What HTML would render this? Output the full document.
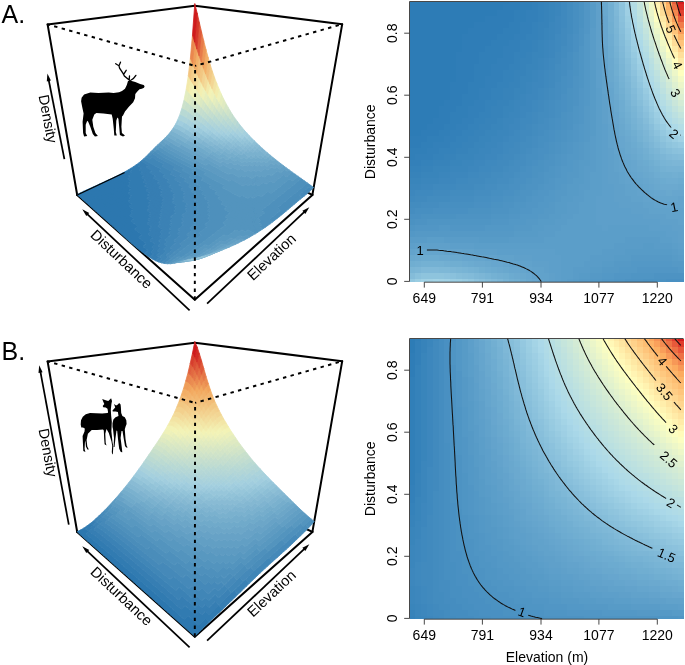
<!DOCTYPE html><html><head><meta charset="utf-8"><style>html,body{margin:0;padding:0;background:#fff;overflow:hidden;width:685px;height:665px}svg{display:block;will-change:transform}.c0{fill:#2c77af;stroke:#2c77af}.c1{fill:#317bb1;stroke:#317bb1}.c2{fill:#367eb3;stroke:#367eb3}.c3{fill:#3b82b5;stroke:#3b82b5}.c4{fill:#4086b7;stroke:#4086b7}.c5{fill:#4589b9;stroke:#4589b9}.c6{fill:#4a8dba;stroke:#4a8dba}.c7{fill:#4e90bc;stroke:#4e90bc}.c8{fill:#5394be;stroke:#5394be}.c9{fill:#5898c0;stroke:#5898c0}.c10{fill:#5d9bc2;stroke:#5d9bc2}.c11{fill:#629fc4;stroke:#629fc4}.c12{fill:#67a2c6;stroke:#67a2c6}.c13{fill:#6ca6c8;stroke:#6ca6c8}.c14{fill:#70aaca;stroke:#70aaca}.c15{fill:#75adcc;stroke:#75adcc}.c16{fill:#7ab1ce;stroke:#7ab1ce}.c17{fill:#7fb4d0;stroke:#7fb4d0}.c18{fill:#84b8d2;stroke:#84b8d2}.c19{fill:#89bbd4;stroke:#89bbd4}.c20{fill:#8dbfd6;stroke:#8dbfd6}.c21{fill:#92c3d8;stroke:#92c3d8}.c22{fill:#97c6da;stroke:#97c6da}.c23{fill:#9ccadc;stroke:#9ccadc}.c24{fill:#a1cdde;stroke:#a1cdde}.c25{fill:#a5d0de;stroke:#a5d0de}.c26{fill:#a8d1dc;stroke:#a8d1dc}.c27{fill:#abd3db;stroke:#abd3db}.c28{fill:#afd4d9;stroke:#afd4d9}.c29{fill:#b2d6d7;stroke:#b2d6d7}.c30{fill:#b5d7d6;stroke:#b5d7d6}.c31{fill:#b8d9d4;stroke:#b8d9d4}.c32{fill:#bbdad2;stroke:#bbdad2}.c33{fill:#bfdcd1;stroke:#bfdcd1}.c34{fill:#c2ddcf;stroke:#c2ddcf}.c35{fill:#c5dece;stroke:#c5dece}.c36{fill:#c8e0cc;stroke:#c8e0cc}.c37{fill:#cbe1ca;stroke:#cbe1ca}.c38{fill:#cfe3c9;stroke:#cfe3c9}.c39{fill:#d2e4c7;stroke:#d2e4c7}.c40{fill:#d5e6c6;stroke:#d5e6c6}.c41{fill:#dbe9c2;stroke:#dbe9c2}.c42{fill:#dfeac1;stroke:#dfeac1}.c43{fill:#e2ecbf;stroke:#e2ecbf}.c44{fill:#e5edbe;stroke:#e5edbe}.c45{fill:#e8eebc;stroke:#e8eebc}.c46{fill:#ecf0ba;stroke:#ecf0ba}.c47{fill:#eff1b9;stroke:#eff1b9}.c48{fill:#f2f3b7;stroke:#f2f3b7}.c49{fill:#f3f2b5;stroke:#f3f2b5}.c50{fill:#f3efb1;stroke:#f3efb1}.c51{fill:#f3ecad;stroke:#f3ecad}.c52{fill:#f3e9aa;stroke:#f3e9aa}.c53{fill:#f3e3a3;stroke:#f3e3a3}.c54{fill:#f3df9f;stroke:#f3df9f}.c55{fill:#f3dc9b;stroke:#f3dc9b}.c56{fill:#f3d694;stroke:#f3d694}.c57{fill:#f3d391;stroke:#f3d391}.c58{fill:#f3cd8a;stroke:#f3cd8a}.c59{fill:#f2ca86;stroke:#f2ca86}.c60{fill:#f2c782;stroke:#f2c782}.c61{fill:#f2c47f;stroke:#f2c47f}.c62{fill:#f2bd78;stroke:#f2bd78}.c63{fill:#f2b169;stroke:#f2b169}.c64{fill:#f2ae66;stroke:#f2ae66}.c65{fill:#ef9e59;stroke:#ef9e59}.c66{fill:#ee9856;stroke:#ee9856}.c67{fill:#ea874e;stroke:#ea874e}.c68{fill:#e77b49;stroke:#e77b49}.c69{fill:#de5939;stroke:#de5939}.c70{fill:#d53729;stroke:#d53729}.c71{fill:#ce1b1c;stroke:#ce1b1c}.c72{fill:#d8e7c4;stroke:#d8e7c4}.c73{fill:#f3e6a6;stroke:#f3e6a6}.c74{fill:#f3d998;stroke:#f3d998}.c75{fill:#f3d08d;stroke:#f3d08d}.c76{fill:#f2c07b;stroke:#f2c07b}.c77{fill:#f2ba74;stroke:#f2ba74}.c78{fill:#f2b770;stroke:#f2b770}.c79{fill:#f2b46d;stroke:#f2b46d}.c80{fill:#f2ab62;stroke:#f2ab62}.c81{fill:#f2a85e;stroke:#f2a85e}.c82{fill:#f1a35b;stroke:#f1a35b}.c83{fill:#eb8d51;stroke:#eb8d51}.c84{fill:#e8814c;stroke:#e8814c}.c85{fill:#e57646;stroke:#e57646}.c86{fill:#e47044;stroke:#e47044}.c87{fill:#e26a41;stroke:#e26a41}.c88{fill:#df5f3c;stroke:#df5f3c}.c89{fill:#db4e34;stroke:#db4e34}.c90{fill:#d8432f;stroke:#d8432f}.c91{fill:#d73d2c;stroke:#d73d2c}.c92{fill:#d22c24;stroke:#d22c24}</style></head><body><svg width="685" height="665" viewBox="0 0 685 665" font-family="Liberation Sans, sans-serif">
<rect width="685" height="665" fill="#fff"/>
<g stroke="#000" stroke-width="2" fill="none" stroke-linecap="round">
<line x1="47.6" y1="24.4" x2="194.8" y2="5.7"/>
<line x1="194.8" y1="5.7" x2="342.2" y2="24.2"/>
<line x1="47.6" y1="24.4" x2="77.2" y2="195"/>
<line x1="342.2" y1="24.2" x2="312.4" y2="194.9"/>
<line x1="77.2" y1="195" x2="194.8" y2="299.7"/>
<line x1="194.8" y1="299.7" x2="312.4" y2="194.9"/>
<line x1="312.4" y1="194.9" x2="303" y2="190.5"/>
</g>
<g stroke-width=".8" stroke-linejoin="round">
<path class="c0" d="M144.6 253.8l3.5-3.3-2.7-2-3.5 3.3zM141.9 251.8l3.5-3.3-2.6-2-3.5 3.3zM139.3 249.8l3.5-3.3-2.6-2-3.6 3.1zM142.8 246.5l3.4-3.1-2.6-1.9-3.4 3zM136.6 247.6l3.6-3.1-2.6-2-3.5 3zM140.2 244.5l3.4-3-2.6-2-3.4 3zM134.1 245.5l3.5-3-2.6-2.1-3.4 2.9zM137.6 242.5l3.4-3-2.5-2-3.5 2.9zM131.6 243.3l3.4-2.9-2.5-2.1-3.4 2.8zM135 240.4l3.5-2.9-2.5-2-3.5 2.8zM138.5 237.5l3.4-2.8-2.5-1.9-3.4 2.7zM129.1 241.1l3.4-2.8-2.4-2.2-3.5 2.8zM132.5 238.3l3.5-2.8-2.5-2-3.4 2.6zM136 235.5l3.4-2.7-2.5-1.9-3.4 2.6zM126.6 238.9l3.5-2.8-2.5-2.1-3.4 2.7zM130.1 236.1l3.4-2.6-2.4-2.1-3.5 2.6zM133.5 233.5l3.4-2.6-2.4-2-3.4 2.5zM124.2 236.7l3.4-2.7-2.3-2.1-3.5 2.6zM127.6 234l3.5-2.6-2.4-2-3.4 2.5zM131.1 231.4l3.4-2.5-2.4-1.9-3.4 2.4zM134.5 228.9l3.3-2.4-2.4-1.9-3.3 2.4zM121.8 234.5l3.5-2.6-2.4-2-3.5 2.4zM125.3 231.9l3.4-2.5-2.4-1.9-3.4 2.4zM128.7 229.4l3.4-2.4-2.4-1.9-3.4 2.4zM132.1 227l3.3-2.4-2.4-1.8-3.3 2.3zM119.4 232.3l3.5-2.4-2.3-2.1-3.5 2.4zM122.9 229.9l3.4-2.4-2.3-2-3.4 2.3zM126.3 227.5l3.4-2.4-2.3-1.9-3.4 2.3zM129.7 225.1l3.3-2.3-2.3-1.8-3.3 2.2zM117.1 230.2l3.5-2.4-2.3-2-3.5 2.3zM120.6 227.8l3.4-2.3-2.3-1.9-3.4 2.2zM124 225.5l3.4-2.3-2.3-1.8-3.4 2.2zM127.4 223.2l3.3-2.2-2.3-1.8-3.3 2.2zM130.7 221l3.3-2.2-2.3-1.8-3.3 2.2zM114.8 228.1l3.5-2.3-2.3-1.9-3.4 2.2zM118.3 225.8l3.4-2.2-2.3-1.9-3.4 2.2zM121.7 223.6l3.4-2.2-2.3-1.9-3.4 2.2zM125.1 221.4l3.3-2.2-2.3-1.8-3.3 2.1zM128.4 219.2l3.3-2.2-2.3-1.7-3.3 2.1zM112.6 226.1l3.4-2.2-2.2-2-3.5 2.2zM116 223.9l3.4-2.2-2.2-1.9-3.4 2.1zM119.4 221.7l3.4-2.2-2.2-1.8-3.4 2.1zM122.8 219.5l3.3-2.1-2.2-1.8-3.3 2.1zM126.1 217.4l3.3-2.1-2.3-1.7-3.2 2zM129.4 215.3l3.2-2.1-2.2-1.7-3.3 2.1zM110.3 224.1l3.5-2.2-2.2-1.9-3.5 2.1zM113.8 221.9l3.4-2.1-2.2-1.9-3.4 2.1zM117.2 219.8l3.4-2.1-2.2-1.8-3.4 2zM120.6 217.7l3.3-2.1-2.2-1.7-3.3 2zM123.9 215.6l3.2-2-2.2-1.7-3.2 2zM127.1 213.6l3.3-2.1-2.3-1.6-3.2 2zM130.4 211.5l3.1-2-2.2-1.6-3.2 2zM108.1 222.1l3.5-2.1-2.2-1.9-3.4 2.1zM111.6 220l3.4-2.1-2.2-1.8-3.4 2zM115 217.9l3.4-2-2.2-1.8-3.4 2zM118.4 215.9l3.3-2-2.2-1.8-3.3 2zM121.7 213.9l3.2-2-2.2-1.7-3.2 1.9zM124.9 211.9l3.2-2-2.1-1.7-3.3 2zM128.1 209.9l3.2-2-2.2-1.6-3.1 1.9zM106 220.2l3.4-2.1-2.1-1.8-3.4 2zM109.4 218.1l3.4-2-2.1-1.8-3.4 2zM112.8 216.1l3.4-2-2.2-1.8-3.3 2zM116.2 214.1l3.3-2-2.2-1.7-3.3 1.9zM119.5 212.1l3.2-1.9-2.1-1.7-3.3 1.9zM122.7 210.2l3.3-2-2.2-1.6-3.2 1.9zM126 208.2l3.1-1.9-2.1-1.6-3.2 1.9zM129.1 206.3l3.1-1.9-2.1-1.6-3.1 1.9zM103.9 218.3l3.4-2-2.1-1.8-3.4 1.9zM107.3 216.3l3.4-2-2.1-1.8-3.4 2zM110.7 214.3l3.3-2-2.1-1.7-3.3 1.9zM114 212.3l3.3-1.9-2.1-1.7-3.3 1.9zM117.3 210.4l3.3-1.9-2.1-1.7-3.3 1.9zM120.6 208.5l3.2-1.9-2.1-1.7-3.2 1.9zM123.8 206.6l3.2-1.9-2.2-1.6-3.1 1.8zM127 204.7l3.1-1.9-2.2-1.6-3.1 1.9zM101.8 216.4l3.4-1.9-2.1-1.8-3.4 1.9zM105.2 214.5l3.4-2-2.1-1.7-3.4 1.9zM108.6 212.5l3.3-1.9-2-1.7-3.4 1.9zM111.9 210.6l3.3-1.9-2.1-1.7-3.2 1.9zM115.2 208.7l3.3-1.9-2.1-1.6-3.3 1.8zM118.5 206.8l3.2-1.9-2.1-1.6-3.2 1.9zM121.7 204.9l3.1-1.8-2.1-1.6-3.1 1.8zM124.8 203.1l3.1-1.9-2.1-1.5-3.1 1.8zM127.9 201.2l3.1-1.8-2.1-1.5-3.1 1.8zM99.7 214.6l3.4-1.9-2-1.8-3.4 1.9zM103.1 212.7l3.4-1.9-2-1.8-3.4 1.9zM106.5 210.8l3.4-1.9-2.1-1.7-3.3 1.8zM109.9 208.9l3.2-1.9-2-1.6-3.3 1.8zM113.1 207l3.3-1.8-2.1-1.6-3.2 1.8zM116.4 205.2l3.2-1.9-2.1-1.6-3.2 1.9zM119.6 203.3l3.1-1.8-2.1-1.5-3.1 1.7zM122.7 201.5l3.1-1.8-2.1-1.5-3.1 1.8zM125.8 199.7l3.1-1.8-2.1-1.5-3.1 1.8zM128.9 197.9l3-1.8-2.1-1.4-3 1.7zM97.7 212.8l3.4-1.9-2-1.8-3.4 1.9zM101.1 210.9l3.4-1.9-2-1.7-3.4 1.8zM104.5 209l3.3-1.8-2-1.7-3.3 1.8zM107.8 207.2l3.3-1.8-2.1-1.7-3.2 1.8zM111.1 205.4l3.2-1.8-2-1.7-3.3 1.8zM114.3 203.6l3.2-1.9-2.1-1.5-3.1 1.7zM117.5 201.7l3.1-1.7-2-1.6-3.2 1.8zM120.6 200l3.1-1.8-2-1.5-3.1 1.7zM123.7 198.2l3.1-1.8-2.1-1.5-3 1.8zM126.8 196.4l3-1.7-2.1-1.5-3 1.7zM95.7 211l3.4-1.9-2-1.7-3.4 1.8zM99.1 209.1l3.4-1.8-2-1.7-3.4 1.8zM102.5 207.3l3.3-1.8-2-1.6-3.3 1.7zM105.8 205.5l3.2-1.8-2-1.6-3.2 1.8zM109 203.7l3.3-1.8-2.1-1.5-3.2 1.7zM112.3 201.9l3.1-1.7-2-1.6-3.2 1.8zM115.4 200.2l3.2-1.8-2.1-1.5-3.1 1.7zM118.6 198.4l3.1-1.7-2.1-1.5-3.1 1.7zM121.7 196.7l3-1.8-2-1.4-3.1 1.7zM124.7 194.9l3-1.7-2-1.4-3 1.7zM127.7 193.2l3-1.7-2.1-1.4-2.9 1.7zM93.7 209.2l3.4-1.8-1.9-1.7-3.4 1.8zM97.1 207.4l3.4-1.8-2-1.6-3.3 1.7zM100.5 205.6l3.3-1.7-2-1.7-3.3 1.8zM103.8 203.9l3.2-1.8-1.9-1.6-3.3 1.7zM107 202.1l3.2-1.7-1.9-1.6-3.2 1.7zM110.2 200.4l3.2-1.8-2-1.5-3.1 1.7zM113.4 198.6l3.1-1.7-2-1.5-3.1 1.7zM116.5 196.9l3.1-1.7-2-1.5-3.1 1.7zM119.6 195.2l3.1-1.7-2-1.5-3.1 1.7zM122.7 193.5l3-1.7-2-1.4-3 1.6zM125.7 191.8l2.9-1.7-2-1.4-2.9 1.7zM128.6 190.1l3-1.7-2.1-1.4-2.9 1.7zM91.8 207.5l3.4-1.8-2-1.6-3.4 1.7zM95.2 205.7l3.3-1.7-1.9-1.7-3.4 1.8zM98.5 204l3.3-1.8-1.9-1.6-3.3 1.7zM101.8 202.2l3.3-1.7-2-1.6-3.2 1.7zM105.1 200.5l3.2-1.7-2-1.6-3.2 1.7zM108.3 198.8l3.1-1.7-1.9-1.5-3.2 1.6zM111.4 197.1l3.1-1.7-1.9-1.5-3.1 1.7zM114.5 195.4l3.1-1.7-2-1.5-3 1.7zM117.6 193.7l3.1-1.7-2-1.4-3.1 1.6zM120.7 192l3-1.6-2-1.4-3 1.6zM123.7 190.4l2.9-1.7-2-1.4-2.9 1.7zM126.6 188.7l2.9-1.7-2-1.3-2.9 1.6zM89.8 205.8l3.4-1.7-1.9-1.7-3.3 1.7zM93.2 204.1l3.4-1.8-1.9-1.6-3.4 1.7zM96.6 202.3l3.3-1.7-2-1.6-3.2 1.7zM99.9 200.6l3.2-1.7-1.9-1.5-3.3 1.6zM103.1 198.9l3.2-1.7-1.9-1.5-3.2 1.7zM106.3 197.2l3.2-1.6-2-1.5-3.1 1.6zM109.5 195.6l3.1-1.7-2-1.5-3.1 1.7zM112.6 193.9l3-1.7-1.9-1.4-3.1 1.6zM115.6 192.2l3.1-1.6-2-1.4-3 1.6zM118.7 190.6l3-1.6-2-1.4-3 1.6zM121.7 189l2.9-1.7-2-1.3-2.9 1.6zM124.6 187.3l2.9-1.6-2-1.3-2.9 1.6zM127.5 185.7l2.9-1.6-2-1.3-2.9 1.6zM88 204.1l3.3-1.7-1.9-1.6-3.3 1.7zM91.3 202.4l3.4-1.7-1.9-1.6-3.4 1.7zM94.7 200.7l3.2-1.7-1.9-1.5-3.2 1.6zM97.9 199l3.3-1.6-1.9-1.6-3.3 1.7zM101.2 197.4l3.2-1.7-1.9-1.5-3.2 1.6zM104.4 195.7l3.1-1.6-1.9-1.5-3.1 1.6zM107.5 194.1l3.1-1.7-1.9-1.4-3.1 1.6zM110.6 192.4l3.1-1.6-1.9-1.4-3.1 1.6zM113.7 190.8l3-1.6-1.9-1.4-3 1.6zM116.7 189.2l3-1.6-1.9-1.4-3 1.6zM119.7 187.6l2.9-1.6-1.9-1.3-2.9 1.5zM122.6 186l2.9-1.6-1.9-1.3-2.9 1.6zM125.5 184.4l2.9-1.6-1.9-1.3-2.9 1.6zM128.4 182.8l2.8-1.6-1.9-1.3-2.8 1.6zM86.1 202.5l3.3-1.7-1.8-1.6-3.4 1.6zM89.4 200.8l3.4-1.7-1.9-1.6-3.3 1.7zM92.8 199.1l3.2-1.6-1.8-1.6-3.3 1.6zM96 197.5l3.3-1.7-1.9-1.5-3.2 1.6zM99.3 195.8l3.2-1.6-1.9-1.5-3.2 1.6zM102.5 194.2l3.1-1.6-1.9-1.5-3.1 1.6zM105.6 192.6l3.1-1.6-1.9-1.4-3.1 1.5zM108.7 191l3.1-1.6-1.9-1.4-3.1 1.6zM111.8 189.4l3-1.6-1.9-1.3-3 1.5zM114.8 187.8l3-1.6-2-1.3-2.9 1.6zM117.8 186.2l2.9-1.5-1.9-1.3-3 1.5zM120.7 184.7l2.9-1.6-1.9-1.3-2.9 1.6zM123.6 183.1l2.9-1.6-2-1.2-2.8 1.5zM126.5 181.5l2.8-1.6-1.9-1.2-2.9 1.6zM84.2 200.8l3.4-1.6-1.8-1.6-3.4 1.6zM87.6 199.2l3.3-1.7-1.8-1.5-3.3 1.6zM90.9 197.5l3.3-1.6-1.9-1.5-3.2 1.6zM94.2 195.9l3.2-1.6-1.9-1.5-3.2 1.6zM97.4 194.3l3.2-1.6-1.9-1.5-3.2 1.6zM100.6 192.7l3.1-1.6-1.9-1.4-3.1 1.5zM103.7 191.1l3.1-1.5-1.9-1.5-3.1 1.6zM106.8 189.6l3.1-1.6-1.9-1.4-3.1 1.5zM109.9 188l3-1.5-1.9-1.4-3 1.5zM112.9 186.5l2.9-1.6-1.8-1.3-3 1.5zM115.8 184.9l3-1.5-1.9-1.3-2.9 1.5zM118.8 183.4l2.9-1.6-1.9-1.2-2.9 1.5zM121.7 181.8l2.8-1.5-1.9-1.2-2.8 1.5zM124.5 180.3l2.9-1.6-2-1.1-2.8 1.5zM127.4 178.7l2.7-1.5-1.9-1.1-2.8 1.5zM82.4 199.2l3.4-1.6-1.8-1.6-3.4 1.6zM85.8 197.6l3.3-1.6-1.8-1.6-3.3 1.6zM89.1 196l3.2-1.6-1.8-1.6-3.2 1.6zM92.3 194.4l3.2-1.6-1.8-1.5-3.2 1.5zM95.5 192.8l3.2-1.6-1.8-1.4-3.2 1.5zM98.7 191.2l3.1-1.5-1.8-1.4-3.1 1.5zM101.8 189.7l3.1-1.6-1.8-1.3-3.1 1.5zM104.9 188.1l3.1-1.5-1.9-1.3-3 1.5zM108 186.6l3-1.5-1.9-1.3-3 1.5zM111 185.1l3-1.5-1.9-1.2-3 1.4zM114 183.6l2.9-1.5-1.9-1.2-2.9 1.5zM116.9 182.1l2.9-1.5-1.9-1.2-2.9 1.5zM119.8 180.6l2.8-1.5-1.8-1.1-2.9 1.4zM122.6 179.1l2.8-1.5-1.8-1.1-2.8 1.5zM125.4 177.6l2.8-1.5-1.9-1.1-2.7 1.5zM128.2 176.1l2.8-1.6-1.9-1-2.8 1.5zM80.6 197.6l3.4-1.6-1.8-1.6-3.4 1.6zM84 196l3.3-1.6-1.8-1.5-3.3 1.5zM87.3 194.4l3.2-1.6-1.8-1.5-3.2 1.6zM90.5 192.8l3.2-1.5-1.8-1.5-3.2 1.5zM93.7 191.3l3.2-1.5-1.8-1.5-3.2 1.5zM96.9 189.8l3.1-1.5-1.8-1.5-3.1 1.5zM100 188.3l3.1-1.5-1.8-1.4-3.1 1.4zM103.1 186.8l3-1.5-1.8-1.3-3 1.4zM106.1 185.3l3-1.5-1.8-1.3-3 1.5zM109.1 183.8l3-1.4-1.8-1.3-3 1.4zM112.1 182.4l2.9-1.5-1.8-1.2-2.9 1.4zM115 180.9l2.9-1.5-1.8-1.1-2.9 1.4zM117.9 179.4l2.9-1.4-1.9-1.1-2.8 1.4zM120.8 178l2.8-1.5-1.9-1.1-2.8 1.5zM123.6 176.5l2.7-1.5-1.8-1-2.8 1.4zM126.3 175l2.8-1.5-1.9-1-2.7 1.5zM129.1 173.5l2.7-1.6-1.9-1-2.7 1.6zM78.8 196l3.4-1.6-1.8-1.5-3.3 1.6zM82.2 194.4l3.3-1.5-1.8-1.6-3.3 1.6zM85.5 192.9l3.2-1.6-1.8-1.5-3.2 1.5zM88.7 191.3l3.2-1.5-1.8-1.5-3.2 1.5zM91.9 189.8l3.2-1.5-1.8-1.4-3.2 1.4zM95.1 188.3l3.1-1.5-1.8-1.3-3.1 1.4zM98.2 186.8l3.1-1.4-1.8-1.4-3.1 1.5zM101.3 185.4l3-1.4-1.8-1.3-3 1.3zM104.3 184l3-1.5-1.8-1.2-3 1.4zM107.3 182.5l3-1.4-1.9-1.2-2.9 1.4zM110.3 181.1l2.9-1.4-1.8-1.1-3 1.3zM113.2 179.7l2.9-1.4-1.9-1.1-2.8 1.4zM116.1 178.3l2.8-1.4-1.8-1.1-2.9 1.4zM118.9 176.9l2.8-1.5-1.8-1-2.8 1.4zM121.7 175.4l2.8-1.4-1.8-1-2.8 1.4zM124.5 174l2.7-1.5-1.8-1-2.7 1.5zM127.2 172.5l2.7-1.6-1.8-.9-2.7 1.5zM129.9 170.9l2.7-1.5-1.9-1-2.6 1.6z"/>
<path class="c1" d="M150 257.6l3.6-3.5-2.8-1.8-3.5 3.4zM147.3 255.7l3.5-3.4-2.7-1.8-3.5 3.3zM150.8 252.3l3.5-3.3-2.7-1.8-3.5 3.3zM148.1 250.5l3.5-3.3-2.7-1.9-3.5 3.2zM151.6 247.2l3.4-3.1-2.7-1.8-3.4 3zM145.4 248.5l3.5-3.2-2.7-1.9-3.4 3.1zM148.9 245.3l3.4-3-2.7-1.9-3.4 3zM146.2 243.4l3.4-3-2.6-1.9-3.4 3zM149.6 240.4l3.4-2.9-2.6-1.8-3.4 2.8zM143.6 241.5l3.4-3-2.6-1.9-3.4 2.9zM147 238.5l3.4-2.8-2.6-1.8-3.4 2.7zM141 239.5l3.4-2.9-2.5-1.9-3.4 2.8zM144.4 236.6l3.4-2.7-2.5-1.9-3.4 2.7zM147.8 233.9l3.3-2.7-2.5-1.7-3.3 2.5zM141.9 234.7l3.4-2.7-2.6-1.8-3.3 2.6zM145.3 232l3.3-2.5-2.6-1.8-3.3 2.5zM148.6 229.5l3.2-2.5-2.5-1.8-3.3 2.5zM139.4 232.8l3.3-2.6-2.4-1.9-3.4 2.6zM142.7 230.2l3.3-2.5-2.4-1.8-3.3 2.4zM146 227.7l3.3-2.5-2.5-1.7-3.2 2.4zM136.9 230.9l3.4-2.6-2.5-1.8-3.3 2.4zM140.3 228.3l3.3-2.4-2.5-1.8-3.3 2.4zM143.6 225.9l3.2-2.4-2.4-1.7-3.3 2.3zM146.8 223.5l3.2-2.3-2.4-1.7-3.2 2.3zM137.8 226.5l3.3-2.4-2.4-1.8-3.3 2.3zM141.1 224.1l3.3-2.3-2.4-1.8-3.3 2.3zM144.4 221.8l3.2-2.3-2.4-1.7-3.2 2.2zM147.6 219.5l3.2-2.2-2.5-1.7-3.1 2.2zM135.4 224.6l3.3-2.3-2.4-1.8-3.3 2.3zM138.7 222.3l3.3-2.3-2.4-1.7-3.3 2.2zM142 220l3.2-2.2-2.4-1.7-3.2 2.2zM145.2 217.8l3.1-2.2-2.4-1.6-3.1 2.1zM148.3 215.6l3.1-2.1-2.4-1.6-3.1 2.1zM133 222.8l3.3-2.3-2.3-1.7-3.3 2.2zM136.3 220.5l3.3-2.2-2.4-1.7-3.2 2.2zM139.6 218.3l3.2-2.2-2.4-1.6-3.2 2.1zM142.8 216.1l3.1-2.1-2.3-1.6-3.2 2.1zM145.9 214l3.1-2.1-2.3-1.6-3.1 2.1zM134 218.8l3.2-2.2-2.3-1.7-3.2 2.1zM137.2 216.6l3.2-2.1-2.3-1.7-3.2 2.1zM140.4 214.5l3.2-2.1-2.4-1.6-3.1 2zM143.6 212.4l3.1-2.1-2.4-1.6-3.1 2.1zM146.7 210.3l3-2.1-2.3-1.5-3.1 2zM131.7 217l3.2-2.1-2.3-1.7-3.2 2.1zM134.9 214.9l3.2-2.1-2.3-1.6-3.2 2zM138.1 212.8l3.1-2-2.3-1.7-3.1 2.1zM141.2 210.8l3.1-2.1-2.3-1.6-3.1 2zM144.3 208.7l3.1-2-2.3-1.5-3.1 1.9zM147.4 206.7l3-2-2.3-1.5-3 2zM132.6 213.2l3.2-2-2.3-1.7-3.1 2zM135.8 211.2l3.1-2.1-2.2-1.6-3.2 2zM138.9 209.1l3.1-2-2.2-1.5-3.1 1.9zM142 207.1l3.1-1.9-2.3-1.6-3 2zM145.1 205.2l3-2-2.3-1.5-3 1.9zM148.1 203.2l3-2-2.3-1.4-3 1.9zM133.5 209.5l3.2-2-2.3-1.6-3.1 2zM136.7 207.5l3.1-1.9-2.3-1.6-3.1 1.9zM139.8 205.6l3-2-2.2-1.5-3.1 1.9zM142.8 203.6l3-1.9-2.2-1.5-3 1.9zM145.8 201.7l3-1.9-2.3-1.5-2.9 1.9zM131.3 207.9l3.1-2-2.2-1.5-3.1 1.9zM134.4 205.9l3.1-1.9-2.2-1.5-3.1 1.9zM137.5 204l3.1-1.9-2.2-1.5-3.1 1.9zM140.6 202.1l3-1.9-2.2-1.5-3 1.9zM143.6 200.2l2.9-1.9-2.2-1.4-2.9 1.8zM146.5 198.3l3-1.9-2.3-1.4-2.9 1.9zM132.2 204.4l3.1-1.9-2.2-1.6-3 1.9zM135.3 202.5l3.1-1.9-2.2-1.5-3.1 1.8zM138.4 200.6l3-1.9-2.2-1.4-3 1.8zM141.4 198.7l2.9-1.8-2.2-1.5-2.9 1.9zM144.3 196.9l2.9-1.9-2.2-1.4-2.9 1.8zM147.2 195l2.9-1.8-2.2-1.4-2.9 1.8zM130.1 202.8l3-1.9-2.1-1.5-3.1 1.8zM133.1 200.9l3.1-1.8-2.2-1.5-3 1.8zM136.2 199.1l3-1.8-2.2-1.5-3 1.8zM139.2 197.3l2.9-1.9-2.2-1.4-2.9 1.8zM142.1 195.4l2.9-1.8-2.1-1.4-3 1.8zM145 193.6l2.9-1.8-2.2-1.4-2.8 1.8zM131 199.4l3-1.8-2.1-1.5-3 1.8zM134 197.6l3-1.8-2.1-1.5-3 1.8zM137 195.8l2.9-1.8-2.1-1.4-2.9 1.7zM139.9 194l3-1.8-2.2-1.4-2.9 1.8zM142.9 192.2l2.8-1.8-2.1-1.4-2.9 1.8zM145.7 190.4l2.9-1.8-2.2-1.3-2.8 1.7zM131.9 196.1l3-1.8-2.1-1.4-3 1.8zM134.9 194.3l2.9-1.7-2.1-1.4-2.9 1.7zM137.8 192.6l2.9-1.8-2.1-1.4-2.9 1.8zM140.7 190.8l2.9-1.8-2.1-1.3-2.9 1.7zM143.6 189l2.8-1.7-2.1-1.3-2.8 1.7zM129.8 194.7l3-1.8-2.1-1.4-3 1.7zM132.8 192.9l2.9-1.7-2.1-1.4-2.9 1.7zM135.7 191.2l2.9-1.8-2.1-1.3-2.9 1.7zM138.6 189.4l2.9-1.7-2.1-1.3-2.9 1.7zM141.5 187.7l2.8-1.7-2.1-1.4-2.8 1.8zM144.3 186l2.8-1.8-2.1-1.3-2.8 1.7zM130.7 191.5l2.9-1.7-2-1.4-3 1.7zM133.6 189.8l2.9-1.7-2.1-1.4-2.8 1.7zM136.5 188.1l2.9-1.7-2.1-1.4-2.9 1.7zM139.4 186.4l2.8-1.8-2.1-1.3-2.8 1.7zM142.2 184.6l2.8-1.7-2.1-1.2-2.8 1.6zM131.6 188.4l2.8-1.7-2-1.3-2.9 1.6zM134.4 186.7l2.9-1.7-2.1-1.3-2.8 1.7zM137.3 185l2.8-1.7-2-1.2-2.9 1.6zM140.1 183.3l2.8-1.6-2.1-1.3-2.7 1.7zM142.9 181.7l2.7-1.8-2-1.2-2.8 1.7zM129.5 187l2.9-1.6-2-1.3-2.9 1.6zM132.4 185.4l2.8-1.7-2-1.3-2.8 1.7zM135.2 183.7l2.9-1.6-2.1-1.3-2.8 1.6zM138.1 182.1l2.7-1.7-2-1.2-2.8 1.6zM140.8 180.4l2.8-1.7-2.1-1.2-2.7 1.7zM130.4 184.1l2.8-1.7-2-1.2-2.8 1.6zM133.2 182.4l2.8-1.6-2-1.2-2.8 1.6zM136 180.8l2.8-1.6-2-1.3-2.8 1.7zM138.8 179.2l2.7-1.7-2-1.2-2.7 1.6zM141.5 177.5l2.7-1.7-2-1.1-2.7 1.6zM131.2 181.2l2.8-1.6-1.9-1.2-2.8 1.5zM134 179.6l2.8-1.7-2-1.1-2.7 1.6zM136.8 177.9l2.7-1.6-1.9-1.2-2.8 1.7zM139.5 176.3l2.7-1.6-2-1.2-2.6 1.6zM129.3 179.9l2.8-1.5-2-1.2-2.7 1.5zM132.1 178.4l2.7-1.6-1.9-1.2-2.8 1.6zM134.8 176.8l2.8-1.7-2-1.1-2.7 1.6zM137.6 175.1l2.6-1.6-1.9-1.1-2.7 1.6zM140.2 173.5l2.7-1.7-2-1.1-2.6 1.7zM130.1 177.2l2.8-1.6-1.9-1.1-2.8 1.6zM132.9 175.6l2.7-1.6-1.9-1.1-2.7 1.6zM135.6 174l2.7-1.6-1.9-1.1-2.7 1.6zM138.3 172.4l2.6-1.7-1.9-1-2.6 1.6zM131 174.5l2.7-1.6-1.9-1-2.7 1.6zM133.7 172.9l2.7-1.6-2-1-2.6 1.6zM136.4 171.3l2.6-1.6-1.9-1-2.7 1.6zM139 169.7l2.6-1.7-1.9-1-2.6 1.7zM131.8 171.9l2.6-1.6-1.8-.9-2.7 1.5zM134.4 170.3l2.7-1.6-1.9-1-2.6 1.7zM137.1 168.7l2.6-1.7-1.9-1-2.6 1.7zM132.6 169.4l2.6-1.7-1.9-.9-2.6 1.6zM135.2 167.7l2.6-1.7-1.9-1-2.6 1.8zM137.8 166l2.5-1.9-1.8-.9-2.6 1.8z"/>
<path class="c2" d="M155.7 260.7l3.6-3.4-2.9-1.5-3.6 3.4zM152.8 259.2l3.6-3.4-2.8-1.7-3.6 3.5zM156.4 255.8l3.5-3.3-2.8-1.7-3.5 3.3zM153.6 254.1l3.5-3.3-2.8-1.8-3.5 3.3zM157.1 250.8l3.5-3.2-2.8-1.7-3.5 3.1zM154.3 249l3.5-3.1-2.8-1.8-3.4 3.1zM157.8 245.9l3.4-3-2.8-1.8-3.4 3zM155 244.1l3.4-3-2.7-1.7-3.4 2.9zM158.4 241.1l3.4-2.8-2.7-1.7-3.4 2.8zM152.3 242.3l3.4-2.9-2.7-1.9-3.4 2.9zM155.7 239.4l3.4-2.8-2.7-1.8-3.4 2.7zM159.1 236.6l3.3-2.7-2.7-1.7-3.3 2.6zM153 237.5l3.4-2.7-2.7-1.8-3.3 2.7zM156.4 234.8l3.3-2.6-2.7-1.8-3.3 2.6zM159.7 232.2l3.2-2.6-2.6-1.7-3.3 2.5zM150.4 235.7l3.3-2.7-2.6-1.8-3.3 2.7zM153.7 233l3.3-2.6-2.6-1.7-3.3 2.5zM157 230.4l3.3-2.5-2.6-1.6-3.3 2.4zM151.1 231.2l3.3-2.5-2.6-1.7-3.2 2.5zM154.4 228.7l3.3-2.4-2.6-1.7-3.3 2.4zM157.7 226.3l3.1-2.5-2.5-1.6-3.2 2.4zM151.8 227l3.3-2.4-2.6-1.7-3.2 2.3zM155.1 224.6l3.2-2.4-2.6-1.7-3.2 2.4zM158.3 222.2l3.1-2.3-2.5-1.6-3.2 2.2zM149.3 225.2l3.2-2.3-2.5-1.7-3.2 2.3zM152.5 222.9l3.2-2.4-2.5-1.6-3.2 2.3zM155.7 220.5l3.2-2.2-2.5-1.6-3.2 2.2zM158.9 218.3l3.1-2.3-2.6-1.6-3 2.3zM150 221.2l3.2-2.3-2.4-1.6-3.2 2.2zM153.2 218.9l3.2-2.2-2.5-1.6-3.1 2.2zM156.4 216.7l3-2.3-2.4-1.5-3.1 2.2zM159.4 214.4l3.1-2.1-2.5-1.6-3 2.2zM150.8 217.3l3.1-2.2-2.5-1.6-3.1 2.1zM153.9 215.1l3.1-2.2-2.5-1.6-3.1 2.2zM157 212.9l3-2.2-2.4-1.5-3.1 2.1zM160 210.7l3-2.1-2.4-1.5-3 2.1zM151.4 213.5l3.1-2.2-2.4-1.5-3.1 2.1zM154.5 211.3l3.1-2.1-2.5-1.5-3 2.1zM157.6 209.2l3-2.1-2.5-1.4-3 2zM160.6 207.1l2.9-2-2.4-1.5-3 2.1zM149 211.9l3.1-2.1-2.4-1.6-3 2.1zM152.1 209.8l3-2.1-2.3-1.5-3.1 2zM155.1 207.7l3-2-2.4-1.5-2.9 2zM158.1 205.7l3-2.1-2.4-1.4-3 2zM161.1 203.6l2.9-2-2.4-1.4-2.9 2zM149.7 208.2l3.1-2-2.4-1.5-3 2zM152.8 206.2l2.9-2-2.3-1.5-3 2zM155.7 204.2l3-2-2.4-1.5-2.9 2zM158.7 202.2l2.9-2-2.4-1.4-2.9 1.9zM161.6 200.2l2.9-2-2.4-1.4-2.9 2zM150.4 204.7l3-2-2.3-1.5-3 2zM153.4 202.7l2.9-2-2.3-1.4-2.9 1.9zM156.3 200.7l2.9-1.9-2.3-1.4-2.9 1.9zM159.2 198.8l2.9-2-2.3-1.4-2.9 2zM151.1 201.2l2.9-1.9-2.3-1.4-2.9 1.9zM154 199.3l2.9-1.9-2.3-1.4-2.9 1.9zM156.9 197.4l2.9-2-2.3-1.3-2.9 1.9zM159.8 195.4l2.8-1.9-2.3-1.4-2.8 2zM148.8 199.8l2.9-1.9-2.2-1.5-3 1.9zM151.7 197.9l2.9-1.9-2.3-1.4-2.8 1.8zM154.6 196l2.9-1.9-2.3-1.4-2.9 1.9zM157.5 194.1l2.8-2-2.3-1.3-2.8 1.9zM160.3 192.1l2.8-1.9-2.3-1.3-2.8 1.9zM149.5 196.4l2.8-1.8-2.2-1.4-2.9 1.8zM152.3 194.6l2.9-1.9-2.3-1.4-2.8 1.9zM155.2 192.7l2.8-1.9-2.2-1.3-2.9 1.8zM158 190.8l2.8-1.9-2.3-1.3-2.7 1.9zM150.1 193.2l2.8-1.9-2.2-1.3-2.8 1.8zM152.9 191.3l2.9-1.8-2.3-1.4-2.8 1.9zM155.8 189.5l2.7-1.9-2.2-1.3-2.8 1.8zM158.5 187.6l2.8-1.8-2.3-1.3-2.7 1.8zM147.9 191.8l2.8-1.8-2.1-1.4-2.9 1.8zM150.7 190l2.8-1.9-2.2-1.3-2.7 1.8zM153.5 188.1l2.8-1.8-2.2-1.3-2.8 1.8zM156.3 186.3l2.7-1.8-2.2-1.3-2.7 1.8zM148.6 188.6l2.7-1.8-2.1-1.3-2.8 1.8zM151.3 186.8l2.8-1.8-2.2-1.3-2.7 1.8zM154.1 185l2.7-1.8-2.1-1.2-2.8 1.7zM156.8 183.2l2.7-1.8-2.1-1.2-2.7 1.8zM146.4 187.3l2.8-1.8-2.1-1.3-2.8 1.8zM149.2 185.5l2.7-1.8-2.1-1.2-2.7 1.7zM151.9 183.7l2.8-1.7-2.2-1.3-2.7 1.8zM154.7 182l2.7-1.8-2.2-1.3-2.7 1.8zM147.1 184.2l2.7-1.7-2.1-1.3-2.7 1.7zM149.8 182.5l2.7-1.8-2.1-1.2-2.7 1.7zM152.5 180.7l2.7-1.8-2.1-1.2-2.7 1.8zM145 182.9l2.7-1.7-2.1-1.3-2.7 1.8zM147.7 181.2l2.7-1.7-2.1-1.3-2.7 1.7zM150.4 179.5l2.7-1.8-2.1-1.2-2.7 1.7zM153.1 177.7l2.6-1.8-2.1-1.2-2.6 1.8zM145.6 179.9l2.7-1.7-2-1.2-2.7 1.7zM148.3 178.2l2.7-1.7-2.1-1.2-2.6 1.7zM151 176.5l2.6-1.8-2-1.1-2.7 1.7zM143.6 178.7l2.7-1.7-2.1-1.2-2.7 1.7zM146.3 177l2.6-1.7-2-1.2-2.7 1.7zM148.9 175.3l2.7-1.7-2.1-1.2-2.6 1.7zM144.2 175.8l2.7-1.7-2-1.1-2.7 1.7zM146.9 174.1l2.6-1.7-2-1.1-2.6 1.7zM149.5 172.4l2.6-1.7-2-1.2-2.6 1.8zM142.2 174.7l2.7-1.7-2-1.2-2.7 1.7zM144.9 173l2.6-1.7-2-1.2-2.6 1.7zM147.5 171.3l2.6-1.8-2-1.1-2.6 1.7zM142.9 171.8l2.6-1.7-2-1.1-2.6 1.7zM145.5 170.1l2.6-1.7-2-1.1-2.6 1.7zM140.9 170.7l2.6-1.7-1.9-1-2.6 1.7zM143.5 169l2.6-1.7-1.9-1.1-2.6 1.8zM146.1 167.3l2.6-1.8-2-1.1-2.5 1.8zM141.6 168l2.6-1.8-2-1-2.5 1.8zM144.2 166.2l2.5-1.8-1.9-1.1-2.6 1.9zM139.7 167l2.5-1.8-1.9-1.1-2.5 1.9zM142.2 165.2l2.6-1.9-1.9-1.1-2.6 1.9zM140.3 164.1l2.6-1.9-1.9-1.1-2.5 2.1z"/>
<path class="c3" d="M158.5 261.9l3.7-3.3-2.9-1.3-3.6 3.4zM159.3 257.3l3.5-3.3-2.9-1.5-3.5 3.3zM162.8 254l3.5-3.1-2.9-1.6-3.5 3.2zM159.9 252.5l3.5-3.2-2.8-1.7-3.5 3.2zM163.4 249.3l3.4-3-2.8-1.7-3.4 3zM160.6 247.6l3.4-3-2.8-1.7-3.4 3zM164 244.6l3.4-2.8-2.8-1.7-3.4 2.8zM161.2 242.9l3.4-2.8-2.8-1.8-3.4 2.8zM164.6 240.1l3.3-2.8-2.8-1.7-3.3 2.7zM167.9 237.3l3.3-2.6-2.8-1.7-3.3 2.6zM161.8 238.3l3.3-2.7-2.7-1.7-3.3 2.7zM165.1 235.6l3.3-2.6-2.8-1.7-3.2 2.6zM168.4 233l3.2-2.5-2.8-1.7-3.2 2.5zM162.4 233.9l3.2-2.6-2.7-1.7-3.2 2.6zM165.6 231.3l3.2-2.5-2.7-1.6-3.2 2.4zM168.8 228.8l3.2-2.4-2.7-1.7-3.2 2.5zM162.9 229.6l3.2-2.4-2.6-1.7-3.2 2.4zM166.1 227.2l3.2-2.5-2.7-1.6-3.1 2.4zM169.3 224.7l3.1-2.3-2.7-1.6-3.1 2.3zM160.3 227.9l3.2-2.4-2.7-1.7-3.1 2.5zM163.5 225.5l3.1-2.4-2.6-1.6-3.2 2.3zM166.6 223.1l3.1-2.3-2.6-1.6-3.1 2.3zM169.7 220.8l3.1-2.3-2.6-1.6-3.1 2.3zM160.8 223.8l3.2-2.3-2.6-1.6-3.1 2.3zM164 221.5l3.1-2.3-2.6-1.6-3.1 2.3zM167.1 219.2l3.1-2.3-2.6-1.5-3.1 2.2zM170.2 216.9l3-2.2-2.6-1.6-3 2.3zM173.2 214.7l3-2.2-2.6-1.5-3 2.1zM161.4 219.9l3.1-2.3-2.5-1.6-3.1 2.3zM164.5 217.6l3.1-2.2-2.6-1.6-3 2.2zM167.6 215.4l3-2.3-2.6-1.5-3 2.2zM170.6 213.1l3-2.1-2.6-1.5-3 2.1zM173.6 211l2.9-2.2-2.6-1.4-2.9 2.1zM162 216l3-2.2-2.5-1.5-3.1 2.1zM165 213.8l3-2.2-2.5-1.5-3 2.2zM168 211.6l3-2.1-2.5-1.5-3 2.1zM171 209.5l2.9-2.1-2.5-1.5-2.9 2.1zM173.9 207.4l2.9-2.2-2.5-1.4-2.9 2.1zM162.5 212.3l3-2.2-2.5-1.5-3 2.1zM165.5 210.1l3-2.1-2.5-1.5-3 2.1zM168.5 208l2.9-2.1-2.5-1.4-2.9 2zM171.4 205.9l2.9-2.1-2.5-1.4-2.9 2.1zM163 208.6l3-2.1-2.5-1.4-2.9 2zM166 206.5l2.9-2-2.5-1.5-2.9 2.1zM168.9 204.5l2.9-2.1-2.5-1.4-2.9 2zM171.8 202.4l2.8-2.1-2.5-1.3-2.8 2zM163.5 205.1l2.9-2.1-2.4-1.4-2.9 2zM166.4 203l2.9-2-2.4-1.4-2.9 2zM169.3 201l2.8-2-2.4-1.4-2.8 2zM172.1 199l2.8-2.1-2.4-1.3-2.8 2zM164 201.6l2.9-2-2.4-1.4-2.9 2zM166.9 199.6l2.8-2-2.4-1.4-2.8 2zM169.7 197.6l2.8-2-2.4-1.4-2.8 2zM172.5 195.6l2.8-2-2.5-1.3-2.7 1.9zM164.5 198.2l2.8-2-2.4-1.3-2.8 1.9zM167.3 196.2l2.8-2-2.4-1.3-2.8 2zM170.1 194.2l2.7-1.9-2.3-1.3-2.8 1.9zM162.1 196.8l2.8-1.9-2.3-1.4-2.8 1.9zM164.9 194.9l2.8-2-2.3-1.3-2.8 1.9zM167.7 192.9l2.8-1.9-2.4-1.4-2.7 2zM170.5 191l2.7-2-2.4-1.3-2.7 1.9zM162.6 193.5l2.8-1.9-2.3-1.4-2.8 1.9zM165.4 191.6l2.7-2-2.3-1.3-2.7 1.9zM168.1 189.6l2.7-1.9-2.3-1.3-2.7 1.9zM163.1 190.2l2.7-1.9-2.3-1.2-2.7 1.8zM165.8 188.3l2.7-1.9-2.3-1.2-2.7 1.9zM168.5 186.4l2.7-1.9-2.3-1.2-2.7 1.9zM160.8 188.9l2.7-1.8-2.2-1.3-2.8 1.8zM163.5 187.1l2.7-1.9-2.2-1.3-2.7 1.9zM166.2 185.2l2.7-1.9-2.3-1.3-2.6 1.9zM161.3 185.8l2.7-1.9-2.3-1.3-2.7 1.9zM164 183.9l2.6-1.9-2.2-1.2-2.7 1.8zM166.6 182l2.7-1.9-2.3-1.2-2.6 1.9zM159 184.5l2.7-1.9-2.2-1.2-2.7 1.8zM161.7 182.6l2.7-1.8-2.2-1.2-2.7 1.8zM164.4 180.8l2.6-1.9-2.2-1.2-2.6 1.9zM159.5 181.4l2.7-1.8-2.2-1.3-2.6 1.9zM162.2 179.6l2.6-1.9-2.2-1.2-2.6 1.8zM157.4 180.2l2.6-1.9-2.1-1.2-2.7 1.8zM160 178.3l2.6-1.8-2.1-1.2-2.6 1.8zM162.6 176.5l2.6-1.9-2.1-1.1-2.6 1.8zM155.2 178.9l2.7-1.8-2.2-1.2-2.6 1.8zM157.9 177.1l2.6-1.8-2.2-1.2-2.6 1.8zM160.5 175.3l2.6-1.8-2.2-1.2-2.6 1.8zM155.7 175.9l2.6-1.8-2.1-1.1-2.6 1.7zM158.3 174.1l2.6-1.8-2.1-1.2-2.6 1.9zM153.6 174.7l2.6-1.7-2-1.2-2.6 1.8zM156.2 173l2.6-1.9-2.1-1.1-2.5 1.8zM158.8 171.1l2.6-1.8-2.1-1.2-2.6 1.9zM151.6 173.6l2.6-1.8-2.1-1.1-2.6 1.7zM154.2 171.8l2.5-1.8-2-1.1-2.6 1.8zM156.7 170l2.6-1.9-2.1-1.1-2.5 1.9zM152.1 170.7l2.6-1.8-2-1.2-2.6 1.8zM154.7 168.9l2.5-1.9-2-1.1-2.5 1.8zM150.1 169.5l2.6-1.8-2.1-1.1-2.5 1.8zM152.7 167.7l2.5-1.8-2-1.1-2.6 1.8zM148.1 168.4l2.5-1.8-1.9-1.1-2.6 1.8zM150.6 166.6l2.6-1.8-2-1.2-2.5 1.9zM148.7 165.5l2.5-1.9-2-1.1-2.5 1.9zM146.7 164.4l2.5-1.9-1.9-1.1-2.5 1.9zM144.8 163.3l2.5-1.9-2-1.2-2.4 2zM142.9 162.2l2.4-2-1.9-1.2-2.4 2.1z"/>
<path class="c4" d="M161.5 262.8l3.6-3-2.9-1.2-3.7 3.3zM165.1 259.8l3.6-3-3-1.3-3.5 3.1zM162.2 258.6l3.5-3.1-2.9-1.5-3.5 3.3zM165.7 255.5l3.5-3.1-2.9-1.5-3.5 3.1zM169.2 252.4l3.5-2.9-2.9-1.5-3.5 2.9zM166.3 250.9l3.5-2.9-3-1.7-3.4 3zM169.8 248l3.4-2.9-3-1.6-3.4 2.8zM173.2 245.1l3.3-2.7-2.9-1.7-3.4 2.8zM166.8 246.3l3.4-2.8-2.8-1.7-3.4 2.8zM170.2 243.5l3.4-2.8-2.9-1.7-3.3 2.8zM173.6 240.7l3.3-2.6-2.9-1.7-3.3 2.6zM176.9 238.1l3.2-2.6-2.9-1.7-3.2 2.6zM167.4 241.8l3.3-2.8-2.8-1.7-3.3 2.8zM170.7 239l3.3-2.6-2.8-1.7-3.3 2.6zM174 236.4l3.2-2.6-2.8-1.6-3.2 2.5zM177.2 233.8l3.2-2.5-2.8-1.6-3.2 2.5zM171.2 234.7l3.2-2.5-2.8-1.7-3.2 2.5zM174.4 232.2l3.2-2.5-2.8-1.7-3.2 2.5zM177.6 229.7l3.1-2.5-2.8-1.6-3.1 2.4zM180.7 227.2l3.1-2.4-2.8-1.6-3.1 2.4zM171.6 230.5l3.2-2.5-2.8-1.6-3.2 2.4zM174.8 228l3.1-2.4-2.8-1.6-3.1 2.4zM177.9 225.6l3.1-2.4-2.8-1.6-3.1 2.4zM181 223.2l3-2.3-2.7-1.6-3.1 2.3zM172 226.4l3.1-2.4-2.7-1.6-3.1 2.3zM175.1 224l3.1-2.4-2.7-1.6-3.1 2.4zM178.2 221.6l3.1-2.3-2.8-1.5-3 2.2zM181.3 219.3l2.9-2.2-2.7-1.6-3 2.3zM172.4 222.4l3.1-2.4-2.7-1.5-3.1 2.3zM175.5 220l3-2.2-2.7-1.6-3 2.3zM178.5 217.8l3-2.3-2.7-1.5-3 2.2zM181.5 215.5l3-2.2-2.7-1.5-3 2.2zM184.5 213.3l2.9-2.2-2.7-1.5-2.9 2.2zM172.8 218.5l3-2.3-2.6-1.5-3 2.2zM175.8 216.2l3-2.2-2.6-1.5-3 2.2zM178.8 214l3-2.2-2.7-1.5-2.9 2.2zM181.8 211.8l2.9-2.2-2.7-1.5-2.9 2.2zM184.7 209.6l2.8-2.2-2.6-1.4-2.9 2.1zM176.2 212.5l2.9-2.2-2.6-1.5-2.9 2.2zM179.1 210.3l2.9-2.2-2.6-1.4-2.9 2.1zM182 208.1l2.9-2.1-2.7-1.4-2.8 2.1zM184.9 206l2.8-2.1-2.6-1.4-2.9 2.1zM176.5 208.8l2.9-2.1-2.6-1.5-2.9 2.2zM179.4 206.7l2.8-2.1-2.5-1.5-2.9 2.1zM182.2 204.6l2.9-2.1-2.6-1.4-2.8 2zM176.8 205.2l2.9-2.1-2.6-1.4-2.8 2.1zM179.7 203.1l2.8-2-2.6-1.4-2.8 2zM182.5 201.1l2.8-2.1-2.6-1.4-2.8 2.1zM174.3 203.8l2.8-2.1-2.5-1.4-2.8 2.1zM177.1 201.7l2.8-2-2.5-1.4-2.8 2zM179.9 199.7l2.8-2.1-2.5-1.3-2.8 2zM182.7 197.6l2.7-2-2.5-1.4-2.7 2.1zM174.6 200.3l2.8-2-2.5-1.4-2.8 2.1zM177.4 198.3l2.8-2-2.5-1.4-2.8 2zM180.2 196.3l2.7-2.1-2.5-1.3-2.7 2zM182.9 194.2l2.7-2-2.5-1.3-2.7 2zM174.9 196.9l2.8-2-2.4-1.3-2.8 2zM177.7 194.9l2.7-2-2.4-1.3-2.7 2zM180.4 192.9l2.7-2-2.4-1.3-2.7 2zM175.3 193.6l2.7-2-2.4-1.3-2.8 2zM178 191.6l2.7-2-2.5-1.3-2.6 2zM180.7 189.6l2.6-2-2.4-1.3-2.7 2zM172.8 192.3l2.8-2-2.4-1.3-2.7 2zM175.6 190.3l2.6-2-2.3-1.3-2.7 2zM178.2 188.3l2.7-2-2.4-1.2-2.6 1.9zM173.2 189l2.7-2-2.4-1.2-2.7 1.9zM175.9 187l2.6-1.9-2.3-1.3-2.7 2zM178.5 185.1l2.6-2-2.3-1.2-2.6 1.9zM170.8 187.7l2.7-1.9-2.3-1.3-2.7 1.9zM173.5 185.8l2.7-2-2.4-1.2-2.6 1.9zM176.2 183.8l2.6-1.9-2.4-1.3-2.6 2zM171.2 184.5l2.6-1.9-2.3-1.3-2.6 2zM173.8 182.6l2.6-2-2.3-1.2-2.6 1.9zM168.9 183.3l2.6-2-2.2-1.2-2.7 1.9zM171.5 181.3l2.6-1.9-2.2-1.2-2.6 1.9zM174.1 179.4l2.6-1.9-2.3-1.2-2.5 1.9zM169.3 180.1l2.6-1.9-2.3-1.2-2.6 1.9zM171.9 178.2l2.5-1.9-2.2-1.2-2.6 1.9zM167 178.9l2.6-1.9-2.2-1.2-2.6 1.9zM169.6 177l2.6-1.9-2.2-1.2-2.6 1.9zM164.8 177.7l2.6-1.9-2.2-1.2-2.6 1.9zM167.4 175.8l2.6-1.9-2.2-1.2-2.6 1.9zM170 173.9l2.5-1.9-2.2-1.2-2.5 1.9zM165.2 174.6l2.6-1.9-2.2-1.1-2.5 1.9zM167.8 172.7l2.5-1.9-2.2-1.1-2.5 1.9zM163.1 173.5l2.5-1.9-2.1-1.2-2.6 1.9zM165.6 171.6l2.5-1.9-2.1-1.2-2.5 1.9zM160.9 172.3l2.6-1.9-2.1-1.1-2.6 1.8zM163.5 170.4l2.5-1.9-2.1-1.1-2.5 1.9zM161.4 169.3l2.5-1.9-2.1-1.1-2.5 1.8zM159.3 168.1l2.5-1.8-2.1-1.2-2.5 1.9zM161.8 166.3l2.5-2-2.1-1.1-2.5 1.9zM157.2 167l2.5-1.9-2-1.1-2.5 1.9zM159.7 165.1l2.5-1.9-2.1-1.1-2.4 1.9zM155.2 165.9l2.5-1.9-2-1.1-2.5 1.9zM157.7 164l2.4-1.9-2-1.2-2.4 2zM153.2 164.8l2.5-1.9-2-1.2-2.5 1.9zM155.7 162.9l2.4-2-2-1.2-2.4 2zM151.2 163.6l2.5-1.9-2-1.2-2.5 2zM153.7 161.7l2.4-2-2-1.2-2.4 2zM149.2 162.5l2.5-2-2-1.2-2.4 2.1zM151.7 160.5l2.4-2-1.9-1.3-2.5 2.1zM147.3 161.4l2.4-2.1-1.9-1.3-2.5 2.2zM145.3 160.2l2.5-2.2-1.9-1.3-2.5 2.3z"/>
<path class="c5" d="M302.5 197.4l1.9-1.5-3.2-2.6-1.9 1.6zM304.4 195.9l1.9-1.6-3.2-2.5-1.9 1.5zM306.3 194.3l1.8-1.5-3.1-2.6-1.9 1.6zM308.1 192.8l1.9-1.7-3.2-2.4-1.8 1.5zM310 191.1l1.8-1.7-3.1-2.4-1.9 1.7zM164.4 263.5l3.7-2.8-3-.9-3.6 3zM168.1 260.7l3.6-2.8-3-1.1-3.6 3zM168.7 256.8l3.5-2.9-3-1.5-3.5 3.1zM172.2 253.9l3.5-2.8-3-1.6-3.5 2.9zM175.7 251.1l3.5-2.7-3.1-1.6-3.4 2.7zM179.2 248.4l3.3-2.7-3-1.6-3.4 2.7zM172.7 249.5l3.4-2.7-2.9-1.7-3.4 2.9zM176.1 246.8l3.4-2.7-3-1.7-3.3 2.7zM179.5 244.1l3.3-2.7-3-1.6-3.3 2.6zM182.8 241.4l3.3-2.5-3-1.7-3.3 2.6zM186.1 238.9l3.2-2.5-3-1.7-3.2 2.5zM176.5 242.4l3.3-2.6-2.9-1.7-3.3 2.6zM179.8 239.8l3.3-2.6-3-1.7-3.2 2.6zM183.1 237.2l3.2-2.5-3-1.7-3.2 2.5zM186.3 234.7l3.1-2.5-2.9-1.7-3.2 2.5zM189.4 232.2l3.1-2.4-2.9-1.7-3.1 2.4zM180.1 235.5l3.2-2.5-2.9-1.7-3.2 2.5zM183.3 233l3.2-2.5-2.9-1.6-3.2 2.4zM186.5 230.5l3.1-2.4-2.9-1.6-3.1 2.4zM189.6 228.1l3-2.3-2.9-1.7-3 2.4zM192.6 225.8l3-2.3-2.9-1.7-3 2.3zM180.4 231.3l3.2-2.4-2.9-1.7-3.1 2.5zM183.6 228.9l3.1-2.4-2.9-1.7-3.1 2.4zM186.7 226.5l3-2.4-2.9-1.6-3 2.3zM189.7 224.1l3-2.3-2.9-1.6-3 2.3zM192.7 221.8l3-2.3-2.9-1.6-3 2.3zM183.8 224.8l3-2.3-2.8-1.6-3 2.3zM186.8 222.5l3-2.3-2.8-1.6-3 2.3zM189.8 220.2l3-2.3-2.8-1.5-3 2.2zM192.8 217.9l2.9-2.2-2.8-1.6-2.9 2.3zM195.7 215.7l2.9-2.2-2.8-1.6-2.9 2.2zM184 220.9l3-2.3-2.8-1.5-2.9 2.2zM187 218.6l3-2.2-2.8-1.6-3 2.3zM190 216.4l2.9-2.3-2.8-1.5-2.9 2.2zM192.9 214.1l2.9-2.2-2.8-1.5-2.9 2.2zM195.8 211.9l2.8-2.1-2.8-1.6-2.8 2.2zM184.2 217.1l3-2.3-2.7-1.5-3 2.2zM187.2 214.8l2.9-2.2-2.7-1.5-2.9 2.2zM190.1 212.6l2.9-2.2-2.8-1.5-2.8 2.2zM193 210.4l2.8-2.2-2.7-1.4-2.9 2.1zM195.8 208.2l2.8-2.1-2.7-1.5-2.8 2.2zM187.4 211.1l2.8-2.2-2.7-1.5-2.8 2.2zM190.2 208.9l2.9-2.1-2.7-1.5-2.9 2.1zM193.1 206.8l2.8-2.2-2.8-1.4-2.7 2.1zM195.9 204.6l2.7-2.1-2.7-1.4-2.8 2.1zM187.5 207.4l2.9-2.1-2.7-1.4-2.8 2.1zM190.4 205.3l2.7-2.1-2.6-1.4-2.8 2.1zM193.1 203.2l2.8-2.1-2.7-1.4-2.7 2.1zM187.7 203.9l2.8-2.1-2.7-1.4-2.7 2.1zM190.5 201.8l2.7-2.1-2.6-1.4-2.8 2.1zM193.2 199.7l2.7-2.1-2.6-1.4-2.7 2.1zM185.1 202.5l2.7-2.1-2.5-1.4-2.8 2.1zM187.8 200.4l2.8-2.1-2.6-1.4-2.7 2.1zM190.6 198.3l2.7-2.1-2.6-1.3-2.7 2zM193.3 196.2l2.7-2.1-2.6-1.3-2.7 2.1zM185.3 199l2.7-2.1-2.6-1.3-2.7 2zM188 196.9l2.7-2-2.6-1.4-2.7 2.1zM190.7 194.9l2.7-2.1-2.6-1.3-2.7 2zM185.4 195.6l2.7-2.1-2.5-1.3-2.7 2zM188.1 193.5l2.7-2-2.5-1.3-2.7 2zM190.8 191.5l2.6-2.1-2.5-1.3-2.6 2.1zM185.6 192.2l2.7-2-2.5-1.3-2.7 2zM188.3 190.2l2.6-2.1-2.5-1.3-2.6 2.1zM183.1 190.9l2.7-2-2.5-1.3-2.6 2zM185.8 188.9l2.6-2.1-2.4-1.2-2.7 2zM188.4 186.8l2.6-2-2.5-1.2-2.5 2zM183.3 187.6l2.7-2-2.5-1.3-2.6 2zM186 185.6l2.5-2-2.4-1.3-2.6 2zM180.9 186.3l2.6-2-2.4-1.2-2.6 2zM183.5 184.3l2.6-2-2.4-1.2-2.6 2zM181.1 183.1l2.6-2-2.4-1.2-2.5 2zM183.7 181.1l2.6-2-2.4-1.2-2.6 2zM178.8 181.9l2.5-2-2.3-1.2-2.6 1.9zM181.3 179.9l2.6-2-2.3-1.2-2.6 2zM176.4 180.6l2.6-1.9-2.3-1.2-2.6 1.9zM179 178.7l2.6-2-2.3-1.2-2.6 2zM176.7 177.5l2.6-2-2.3-1.2-2.6 2zM179.3 175.5l2.5-2-2.3-1.2-2.5 2zM174.4 176.3l2.6-2-2.3-1.2-2.5 2zM177 174.3l2.5-2-2.3-1.2-2.5 2zM172.2 175.1l2.5-2-2.2-1.1-2.5 1.9zM174.7 173.1l2.5-2-2.2-1.1-2.5 2zM172.5 172l2.5-2-2.2-1.2-2.5 2zM170.3 170.8l2.5-2-2.2-1.1-2.5 2zM172.8 168.8l2.5-2-2.2-1.1-2.5 2zM168.1 169.7l2.5-2-2.1-1.1-2.5 1.9zM170.6 167.7l2.5-2-2.2-1.2-2.4 2.1zM166 168.5l2.5-1.9-2.1-1.2-2.5 2zM168.5 166.6l2.4-2.1-2.1-1.1-2.4 2zM163.9 167.4l2.5-2-2.1-1.1-2.5 2zM166.4 165.4l2.4-2-2.1-1.1-2.4 2zM164.3 164.3l2.4-2-2.1-1.1-2.4 2zM162.2 163.2l2.4-2-2-1.2-2.5 2.1zM160.1 162.1l2.5-2.1-2-1.1-2.5 2zM158.1 160.9l2.5-2-2-1.2-2.5 2zM156.1 159.7l2.5-2-2-1.3-2.5 2.1zM154.1 158.5l2.5-2.1-2-1.4-2.4 2.2zM149.7 159.3l2.5-2.1-2-1.4-2.4 2.2zM152.2 157.2l2.4-2.2-2-1.5-2.4 2.3zM147.8 158l2.4-2.2-1.9-1.5-2.4 2.4z"/>
<path class="c6" d="M272.6 222l2.3-1.8-3.4-2.6-2.3 1.8zM274.9 220.2l2.3-1.8-3.3-2.7-2.4 1.9zM277.2 218.4l2.3-1.8-3.4-2.7-2.2 1.8zM279.5 216.6l2.3-1.8-3.4-2.7-2.3 1.8zM281.8 214.8l2.2-1.9-3.4-2.6-2.2 1.8zM284 212.9l2.2-1.8-3.4-2.6-2.2 1.8zM286.2 211.1l2.1-1.8-3.3-2.6-2.2 1.8zM288.3 209.3l2.1-1.8-3.3-2.6-2.1 1.8zM290.4 207.5l2.1-1.8-3.3-2.5-2.1 1.7zM292.5 205.7l2.1-1.7-3.3-2.6-2.1 1.8zM294.6 204l2-1.7-3.3-2.6-2 1.7zM296.6 202.3l2-1.7-3.2-2.5-2.1 1.6zM298.6 200.6l2-1.6-3.3-2.5-1.9 1.6zM300.6 199l1.9-1.6-3.2-2.5-2 1.6zM311.8 189.4l1.9-1.9-3.2-2.3-1.8 1.8zM280.6 210.3l2.2-1.8-3.3-2.5-2.2 1.8zM282.8 208.5l2.2-1.8-3.3-2.5-2.2 1.8zM285 206.7l2.1-1.8-3.2-2.5-2.2 1.8zM287.1 204.9l2.1-1.7-3.2-2.5-2.1 1.7zM289.2 203.2l2.1-1.8-3.2-2.4-2.1 1.7zM291.3 201.4l2-1.7-3.2-2.4-2 1.7zM293.3 199.7l2.1-1.6-3.3-2.5-2 1.7zM295.4 198.1l1.9-1.6-3.2-2.5-2 1.6zM297.3 196.5l2-1.6-3.2-2.4-2 1.5zM299.3 194.9l1.9-1.6-3.2-2.4-1.9 1.6zM301.2 193.3l1.9-1.5-3.2-2.4-1.9 1.5zM303.1 191.8l1.9-1.6-3.2-2.4-1.9 1.6zM305 190.2l1.8-1.5-3.1-2.5-1.9 1.6zM306.8 188.7l1.9-1.7-3.1-2.4-1.9 1.6zM308.7 187l1.8-1.8-3.1-2.2-1.8 1.6zM171.7 257.9l3.6-2.7-3.1-1.3-3.5 2.9zM175.3 255.2l3.5-2.7-3.1-1.4-3.5 2.8zM178.8 252.5l3.4-2.6-3-1.5-3.5 2.7zM182.2 249.9l3.4-2.6-3.1-1.6-3.3 2.7zM185.6 247.3l3.3-2.6-3.1-1.6-3.3 2.6zM188.9 244.7l3.3-2.5-3.1-1.6-3.3 2.5zM192.2 242.2l3.2-2.5-3.1-1.6-3.2 2.5zM195.4 239.7l3.2-2.4-3.1-1.7-3.2 2.5zM198.6 237.3l3.1-2.4-3.1-1.7-3.1 2.4zM182.5 245.7l3.3-2.6-3-1.7-3.3 2.7zM185.8 243.1l3.3-2.5-3-1.7-3.3 2.5zM189.1 240.6l3.2-2.5-3-1.7-3.2 2.5zM192.3 238.1l3.2-2.5-3.1-1.7-3.1 2.5zM195.5 235.6l3.1-2.4-3.1-1.7-3.1 2.4zM198.6 233.2l3.1-2.4-3.1-1.7-3.1 2.4zM201.7 230.8l3-2.3-3.1-1.7-3 2.3zM204.7 228.5l2.9-2.3-3-1.7-3 2.3zM189.3 236.4l3.1-2.5-3-1.7-3.1 2.5zM192.4 233.9l3.1-2.4-3-1.7-3.1 2.4zM195.5 231.5l3.1-2.4-3-1.7-3.1 2.4zM198.6 229.1l3-2.3-3-1.7-3 2.3zM201.6 226.8l3-2.3-3-1.7-3 2.3zM204.6 224.5l2.9-2.3-3-1.7-2.9 2.3zM207.5 222.2l2.9-2.2-3-1.7-2.9 2.2zM192.5 229.8l3.1-2.4-3-1.6-3 2.3zM195.6 227.4l3-2.3-3-1.6-3 2.3zM198.6 225.1l3-2.3-3-1.6-3 2.3zM201.6 222.8l2.9-2.3-3-1.6-2.9 2.3zM204.5 220.5l2.9-2.2-3-1.6-2.9 2.2zM207.4 218.3l2.8-2.2-3-1.6-2.8 2.2zM195.6 223.5l3-2.3-2.9-1.7-3 2.3zM198.6 221.2l2.9-2.3-2.9-1.6-2.9 2.2zM201.5 218.9l2.9-2.2-2.9-1.6-2.9 2.2zM204.4 216.7l2.8-2.2-2.9-1.6-2.8 2.2zM207.2 214.5l2.8-2.2-2.9-1.6-2.8 2.2zM195.7 219.5l2.9-2.2-2.9-1.6-2.9 2.2zM198.6 217.3l2.9-2.2-2.9-1.6-2.9 2.2zM201.5 215.1l2.8-2.2-2.9-1.6-2.8 2.2zM204.3 212.9l2.8-2.2-2.9-1.6-2.8 2.2zM207.1 210.7l2.8-2.2-2.9-1.5-2.8 2.1zM198.6 213.5l2.8-2.2-2.8-1.5-2.8 2.1zM201.4 211.3l2.8-2.2-2.8-1.5-2.8 2.2zM204.2 209.1l2.8-2.1-2.8-1.5-2.8 2.1zM207 207l2.7-2.1-2.8-1.6-2.7 2.2zM198.6 209.8l2.8-2.2-2.8-1.5-2.8 2.1zM201.4 207.6l2.8-2.1-2.8-1.5-2.8 2.1zM204.2 205.5l2.7-2.2-2.8-1.4-2.7 2.1zM206.9 203.3l2.7-2.1-2.8-1.4-2.7 2.1zM198.6 206.1l2.8-2.1-2.8-1.5-2.7 2.1zM201.4 204l2.7-2.1-2.8-1.5-2.7 2.1zM204.1 201.9l2.7-2.1-2.8-1.5-2.7 2.1zM198.6 202.5l2.7-2.1-2.7-1.4-2.7 2.1zM201.3 200.4l2.7-2.1-2.7-1.4-2.7 2.1zM204 198.3l2.6-2.1-2.7-1.4-2.6 2.1zM195.9 201.1l2.7-2.1-2.7-1.4-2.7 2.1zM198.6 199l2.7-2.1-2.7-1.4-2.7 2.1zM201.3 196.9l2.6-2.1-2.6-1.4-2.7 2.1zM195.9 197.6l2.7-2.1-2.6-1.4-2.7 2.1zM198.6 195.5l2.7-2.1-2.7-1.3-2.6 2zM201.3 193.4l2.6-2-2.7-1.4-2.6 2.1zM196 194.1l2.6-2-2.6-1.4-2.6 2.1zM198.6 192.1l2.6-2.1-2.6-1.3-2.6 2zM193.4 192.8l2.6-2.1-2.6-1.3-2.6 2.1zM196 190.7l2.6-2-2.6-1.3-2.6 2zM198.6 188.7l2.6-2.1-2.6-1.3-2.6 2.1zM193.4 189.4l2.6-2-2.5-1.3-2.6 2zM196 187.4l2.6-2.1-2.5-1.2-2.6 2zM190.9 188.1l2.6-2-2.5-1.3-2.6 2zM193.5 186.1l2.6-2-2.5-1.3-2.6 2zM196.1 184.1l2.5-2.1-2.5-1.3-2.5 2.1zM191 184.8l2.6-2-2.5-1.3-2.6 2.1zM193.6 182.8l2.5-2.1-2.5-1.2-2.5 2zM188.5 183.6l2.6-2.1-2.4-1.2-2.6 2zM191.1 181.5l2.5-2-2.4-1.2-2.5 2zM186.1 182.3l2.6-2-2.4-1.2-2.6 2zM188.7 180.3l2.5-2-2.4-1.3-2.5 2.1zM186.3 179.1l2.5-2.1-2.4-1.2-2.5 2.1zM188.8 177l2.5-2-2.4-1.2-2.5 2zM183.9 177.9l2.5-2.1-2.3-1.2-2.5 2.1zM186.4 175.8l2.5-2-2.3-1.2-2.5 2zM181.6 176.7l2.5-2.1-2.3-1.1-2.5 2zM184.1 174.6l2.5-2-2.3-1.2-2.5 2.1zM181.8 173.5l2.5-2.1-2.3-1.2-2.5 2.1zM179.5 172.3l2.5-2.1-2.3-1.1-2.5 2zM182 170.2l2.4-2.1-2.2-1.1-2.5 2.1zM177.2 171.1l2.5-2-2.2-1.2-2.5 2.1zM179.7 169.1l2.5-2.1-2.3-1.2-2.4 2.1zM175 170l2.5-2.1-2.2-1.1-2.5 2zM177.5 167.9l2.4-2.1-2.2-1.1-2.4 2.1zM175.3 166.8l2.4-2.1-2.2-1.1-2.4 2.1zM173.1 165.7l2.4-2.1-2.1-1.2-2.5 2.1zM170.9 164.5l2.5-2.1-2.1-1.1-2.5 2.1zM168.8 163.4l2.5-2.1-2.2-1.1-2.4 2.1zM166.7 162.3l2.4-2.1-2-1.1-2.5 2.1zM164.6 161.2l2.5-2.1-2.1-1.2-2.4 2.1zM162.6 160l2.4-2.1-2-1.1-2.4 2.1zM160.6 158.9l2.4-2.1-2-1.2-2.4 2.1zM158.6 157.7l2.4-2.1-2-1.3-2.4 2.1zM156.6 156.4l2.4-2.1-2-1.5-2.4 2.2zM154.6 155l2.4-2.2-2-1.5-2.4 2.2zM150.2 155.8l2.4-2.3-1.9-1.7-2.4 2.5z"/>
<path class="c7" d="M262.9 228.9l2.5-1.7-3.5-2.4-2.5 1.7zM265.4 227.2l2.4-1.7-3.4-2.5-2.5 1.8zM267.8 225.5l2.4-1.7-3.4-2.6-2.4 1.8zM270.2 223.8l2.4-1.8-3.4-2.6-2.4 1.8zM261.9 224.8l2.5-1.8-3.5-2.4-2.4 1.8zM264.4 223l2.4-1.8-3.4-2.5-2.5 1.9zM266.8 221.2l2.4-1.8-3.4-2.5-2.4 1.8zM269.2 219.4l2.3-1.8-3.3-2.5-2.4 1.8zM271.5 217.6l2.4-1.9-3.4-2.5-2.3 1.9zM273.9 215.7l2.2-1.8-3.3-2.5-2.3 1.8zM276.1 213.9l2.3-1.8-3.3-2.5-2.3 1.8zM278.4 212.1l2.2-1.8-3.3-2.5-2.2 1.8zM260.9 220.6l2.5-1.9-3.4-2.3-2.5 1.9zM263.4 218.7l2.4-1.8-3.4-2.4-2.4 1.9zM265.8 216.9l2.4-1.8-3.4-2.4-2.4 1.8zM268.2 215.1l2.3-1.9-3.3-2.4-2.4 1.9zM270.5 213.2l2.3-1.8-3.3-2.4-2.3 1.8zM272.8 211.4l2.3-1.8-3.3-2.4-2.3 1.8zM275.1 209.6l2.2-1.8-3.3-2.4-2.2 1.8zM277.3 207.8l2.2-1.8-3.2-2.4-2.3 1.8zM279.5 206l2.2-1.8-3.3-2.4-2.1 1.8zM281.7 204.2l2.2-1.8-3.3-2.3-2.2 1.7zM283.9 202.4l2.1-1.7-3.3-2.4-2.1 1.8zM286 200.7l2.1-1.7-3.3-2.4-2.1 1.7zM288.1 199l2-1.7-3.2-2.3-2.1 1.6zM290.1 197.3l2-1.7-3.2-2.3-2 1.7zM292.1 195.6l2-1.6-3.2-2.3-2 1.6zM294.1 194l2-1.5-3.2-2.4-2 1.6zM296.1 192.5l1.9-1.6-3.1-2.3-2 1.5zM298 190.9l1.9-1.5-3.1-2.4-1.9 1.6zM299.9 189.4l1.9-1.6-3.1-2.3-1.9 1.5zM301.8 187.8l1.9-1.6-3.1-2.3-1.9 1.6zM303.7 186.2l1.9-1.6-3.1-2.2-1.9 1.5zM305.6 184.6l1.8-1.6-3.1-2.2-1.8 1.6zM264.8 212.7l2.4-1.9-3.3-2.2-2.4 1.8zM267.2 210.8l2.3-1.8-3.3-2.3-2.3 1.9zM269.5 209l2.3-1.8-3.3-2.3-2.3 1.8zM271.8 207.2l2.2-1.8-3.2-2.3-2.3 1.8zM274 205.4l2.3-1.8-3.3-2.3-2.2 1.8zM276.3 203.6l2.1-1.8-3.2-2.3-2.2 1.8zM278.4 201.8l2.2-1.7-3.2-2.3-2.2 1.7zM280.6 200.1l2.1-1.8-3.2-2.2-2.1 1.7zM282.7 198.3l2.1-1.7-3.2-2.2-2.1 1.7zM284.8 196.6l2.1-1.6-3.2-2.3-2.1 1.7zM286.9 195l2-1.7-3.1-2.2-2.1 1.6zM288.9 193.3l2-1.6-3.1-2.2-2 1.6zM290.9 191.7l2-1.6-3.1-2.2-2 1.6zM292.9 190.1l2-1.5-3.1-2.3-2 1.6zM294.9 188.6l1.9-1.6-3.1-2.2-1.9 1.5zM296.8 187l1.9-1.5-3.1-2.3-1.9 1.6zM298.7 185.5l1.9-1.6-3.1-2.2-1.9 1.5zM300.6 183.9l1.9-1.5-3.1-2.3-1.9 1.6zM302.5 182.4l1.8-1.6-3.1-2.2-1.8 1.5zM181.6 257.5l3.5-2.4-3.2-1.2-3.5 2.5zM185.1 255.1l3.5-2.4-3.2-1.4-3.5 2.6zM188.6 252.7l3.4-2.5-3.2-1.4-3.4 2.5zM192 250.2l3.3-2.4-3.2-1.5-3.3 2.5zM195.3 247.8l3.3-2.4-3.2-1.6-3.3 2.5zM198.6 245.4l3.2-2.4-3.2-1.6-3.2 2.4zM201.8 243l3.2-2.4-3.2-1.7-3.2 2.5zM205 240.6l3.1-2.4-3.2-1.6-3.1 2.3zM208.1 238.2l3.1-2.3-3.3-1.7-3 2.4zM211.2 235.9l3-2.3-3.2-1.7-3.1 2.3zM214.2 233.6l3-2.3-3.3-1.7-2.9 2.3zM217.2 231.3l2.9-2.2-3.2-1.7-3 2.2zM220.1 229.1l2.9-2.2-3.3-1.8-2.8 2.3zM223 226.9l2.8-2.2-3.2-1.8-2.9 2.2zM167.5 263.7l3.7-2.3-3.1-.7-3.7 2.8zM171.2 261.4l3.6-2.5-3.1-1-3.6 2.8zM174.8 258.9l3.6-2.5-3.1-1.2-3.6 2.7zM178.4 256.4l3.5-2.5-3.1-1.4-3.5 2.7zM181.9 253.9l3.5-2.6-3.2-1.4-3.4 2.6zM185.4 251.3l3.4-2.5-3.2-1.5-3.4 2.6zM188.8 248.8l3.3-2.5-3.2-1.6-3.3 2.6zM192.1 246.3l3.3-2.5-3.2-1.6-3.3 2.5zM195.4 243.8l3.2-2.4-3.2-1.7-3.2 2.5zM198.6 241.4l3.2-2.5-3.2-1.6-3.2 2.4zM201.8 238.9l3.1-2.3-3.2-1.7-3.1 2.4zM204.9 236.6l3-2.4-3.1-1.7-3.1 2.4zM207.9 234.2l3.1-2.3-3.2-1.7-3 2.3zM211 231.9l2.9-2.3-3.1-1.7-3 2.3zM213.9 229.6l3-2.2-3.2-1.8-2.9 2.3zM216.9 227.4l2.8-2.3-3.1-1.7-2.9 2.2zM219.7 225.1l2.9-2.2-3.2-1.7-2.8 2.2zM222.6 222.9l2.8-2.1-3.2-1.8-2.8 2.2zM225.4 220.8l2.7-2.2-3.2-1.8-2.7 2.2zM201.7 234.9l3.1-2.4-3.1-1.7-3.1 2.4zM204.8 232.5l3-2.3-3.1-1.7-3 2.3zM207.8 230.2l3-2.3-3.2-1.7-2.9 2.3zM210.8 227.9l2.9-2.3-3.1-1.7-3 2.3zM213.7 225.6l2.9-2.2-3.2-1.7-2.8 2.2zM216.6 223.4l2.8-2.2-3.1-1.7-2.9 2.2zM219.4 221.2l2.8-2.2-3.1-1.7-2.8 2.2zM222.2 219l2.7-2.2-3.1-1.7-2.7 2.2zM224.9 216.8l2.8-2.1-3.2-1.7-2.7 2.1zM227.7 214.7l2.6-2.1-3.1-1.7-2.7 2.1zM207.6 226.2l3-2.3-3.1-1.7-2.9 2.3zM210.6 223.9l2.8-2.2-3-1.7-2.9 2.2zM213.4 221.7l2.9-2.2-3.1-1.7-2.8 2.2zM216.3 219.5l2.8-2.2-3.1-1.7-2.8 2.2zM219.1 217.3l2.7-2.2-3-1.7-2.8 2.2zM221.8 215.1l2.7-2.1-3-1.7-2.7 2.1zM224.5 213l2.7-2.1-3-1.7-2.7 2.1zM210.4 220l2.8-2.2-3-1.7-2.8 2.2zM213.2 217.8l2.8-2.2-3-1.7-2.8 2.2zM216 215.6l2.8-2.2-3-1.7-2.8 2.2zM218.8 213.4l2.7-2.1-3-1.7-2.7 2.1zM221.5 211.3l2.7-2.1-3-1.7-2.7 2.1zM224.2 209.2l2.6-2.1-3-1.7-2.6 2.1zM210.2 216.1l2.8-2.2-3-1.6-2.8 2.2zM213 213.9l2.8-2.2-3-1.6-2.8 2.2zM215.8 211.7l2.7-2.1-3-1.6-2.7 2.1zM218.5 209.6l2.7-2.1-3-1.6-2.7 2.1zM221.2 207.5l2.6-2.1-3-1.6-2.6 2.1zM210 212.3l2.8-2.2-2.9-1.6-2.8 2.2zM212.8 210.1l2.7-2.1-2.9-1.6-2.7 2.1zM215.5 208l2.7-2.1-2.9-1.6-2.7 2.1zM218.2 205.9l2.6-2.1-2.9-1.6-2.6 2.1zM220.8 203.8l2.6-2.1-2.9-1.6-2.6 2.1zM209.9 208.5l2.7-2.1-2.9-1.5-2.7 2.1zM212.6 206.4l2.7-2.1-2.9-1.6-2.7 2.2zM215.3 204.3l2.6-2.1-2.9-1.5-2.6 2zM217.9 202.2l2.6-2.1-2.8-1.5-2.7 2.1zM209.7 204.9l2.7-2.2-2.8-1.5-2.7 2.1zM212.4 202.7l2.6-2-2.8-1.5-2.6 2zM215 200.7l2.7-2.1-2.9-1.5-2.6 2.1zM217.7 198.6l2.5-2-2.8-1.6-2.6 2.1zM209.6 201.2l2.6-2-2.8-1.5-2.6 2.1zM212.2 199.2l2.6-2.1-2.8-1.5-2.6 2.1zM214.8 197.1l2.6-2.1-2.8-1.4-2.6 2zM206.8 199.8l2.6-2.1-2.8-1.5-2.6 2.1zM209.4 197.7l2.6-2.1-2.7-1.4-2.7 2zM212 195.6l2.6-2-2.8-1.5-2.5 2.1zM214.6 193.6l2.5-2.1-2.7-1.4-2.6 2zM206.6 196.2l2.7-2-2.8-1.4-2.6 2zM209.3 194.2l2.5-2.1-2.7-1.4-2.6 2.1zM211.8 192.1l2.6-2-2.7-1.4-2.6 2zM203.9 194.8l2.6-2-2.6-1.4-2.6 2zM206.5 192.8l2.6-2.1-2.7-1.4-2.5 2.1zM209.1 190.7l2.6-2-2.7-1.4-2.6 2zM203.9 191.4l2.5-2.1-2.6-1.3-2.6 2zM206.4 189.3l2.6-2-2.7-1.4-2.5 2.1zM209 187.3l2.5-2.1-2.6-1.3-2.6 2zM201.2 190l2.6-2-2.6-1.4-2.6 2.1zM203.8 188l2.5-2.1-2.6-1.3-2.5 2zM206.3 185.9l2.6-2-2.6-1.4-2.6 2.1zM201.2 186.6l2.5-2-2.5-1.3-2.6 2zM203.7 184.6l2.6-2.1-2.6-1.3-2.5 2.1zM198.6 185.3l2.6-2-2.6-1.3-2.5 2.1zM201.2 183.3l2.5-2.1-2.6-1.3-2.5 2.1zM198.6 182l2.5-2.1-2.5-1.2-2.5 2zM201.1 179.9l2.5-2-2.5-1.3-2.5 2.1zM196.1 180.7l2.5-2-2.4-1.3-2.6 2.1zM198.6 178.7l2.5-2.1-2.5-1.3-2.4 2.1zM193.6 179.5l2.6-2.1-2.5-1.2-2.5 2.1zM196.2 177.4l2.4-2.1-2.4-1.2-2.5 2.1zM191.2 178.3l2.5-2.1-2.4-1.2-2.5 2zM193.7 176.2l2.5-2.1-2.4-1.2-2.5 2.1zM191.3 175l2.5-2.1-2.4-1.2-2.5 2.1zM188.9 173.8l2.5-2.1-2.4-1.2-2.4 2.1zM191.4 171.7l2.4-2.2-2.3-1.2-2.5 2.2zM186.6 172.6l2.4-2.1-2.3-1.2-2.4 2.1zM189 170.5l2.5-2.2-2.3-1.2-2.5 2.2zM184.3 171.4l2.4-2.1-2.3-1.2-2.4 2.1zM186.7 169.3l2.5-2.2-2.3-1.1-2.5 2.1zM184.4 168.1l2.5-2.1-2.3-1.2-2.4 2.2zM182.2 167l2.4-2.2-2.2-1.1-2.5 2.1zM179.9 165.8l2.5-2.1-2.3-1.2-2.4 2.2zM177.7 164.7l2.4-2.2-2.1-1.1-2.5 2.2zM175.5 163.6l2.5-2.2-2.2-1.1-2.4 2.1zM173.4 162.4l2.4-2.1-2.1-1.2-2.4 2.2zM171.3 161.3l2.4-2.2-2.2-1.1-2.4 2.2zM169.1 160.2l2.4-2.2-2-1.1-2.4 2.2zM167.1 159.1l2.4-2.2-2.1-1.1-2.4 2.1zM165 157.9l2.4-2.1-2-1.2-2.4 2.2zM163 156.8l2.4-2.2-2.1-1.2-2.3 2.2zM161 155.6l2.3-2.2-2-1.3-2.3 2.2zM159 154.3l2.3-2.2-2-1.5-2.3 2.2zM157 152.8l2.3-2.2-1.9-1.6-2.4 2.3zM152.6 153.5l2.4-2.2-2-1.9-2.3 2.4z"/>
<path class="c8" d="M255.3 233.8l2.6-1.6-3.6-2.2-2.6 1.8zM257.9 232.2l2.5-1.7-3.5-2.2-2.6 1.7zM260.4 230.5l2.5-1.6-3.5-2.4-2.5 1.8zM251.7 231.8l2.6-1.8-3.5-2-2.7 1.8zM254.3 230l2.6-1.7-3.5-2.2-2.6 1.9zM256.9 228.3l2.5-1.8-3.5-2.2-2.5 1.8zM259.4 226.5l2.5-1.7-3.4-2.4-2.6 1.9zM245.5 231.7l2.6-1.9-3.4-1.9-2.7 2zM248.1 229.8l2.7-1.8-3.5-2-2.6 1.9zM250.8 228l2.6-1.9-3.5-2.1-2.6 2zM253.4 226.1l2.5-1.8-3.4-2.2-2.6 1.9zM255.9 224.3l2.6-1.9-3.4-2.2-2.6 1.9zM258.5 222.4l2.4-1.8-3.4-2.3-2.4 1.9zM239.2 231.8l2.8-1.9-3.5-1.9-2.7 2.1zM242 229.9l2.7-2-3.5-1.9-2.7 2zM244.7 227.9l2.6-1.9-3.4-2-2.7 2zM247.3 226l2.6-2-3.4-2-2.6 2zM249.9 224l2.6-1.9-3.4-2.1-2.6 2zM252.5 222.1l2.6-1.9-3.4-2.1-2.6 1.9zM255.1 220.2l2.4-1.9-3.3-2.2-2.5 2zM257.5 218.3l2.5-1.9-3.3-2.2-2.5 1.9zM260 216.4l2.4-1.9-3.3-2.2-2.4 1.9zM262.4 214.5l2.4-1.8-3.3-2.3-2.4 1.9zM227.2 236.3l2.9-2.1-3.4-1.7-2.9 2.2zM230.1 234.2l2.9-2.1-3.4-1.7-2.9 2.1zM233 232.1l2.8-2-3.4-1.8-2.8 2.1zM235.8 230.1l2.7-2.1-3.4-1.8-2.7 2.1zM238.5 228l2.7-2-3.3-1.9-2.8 2.1zM241.2 226l2.7-2-3.3-2-2.7 2.1zM243.9 224l2.6-2-3.3-2-2.6 2zM246.5 222l2.6-2-3.3-2-2.6 2zM249.1 220l2.6-1.9-3.3-2.1-2.6 2zM251.7 218.1l2.5-2-3.3-2-2.5 1.9zM254.2 216.1l2.5-1.9-3.3-2.1-2.5 2zM256.7 214.2l2.4-1.9-3.3-2.1-2.4 1.9zM259.1 212.3l2.4-1.9-3.3-2.1-2.4 1.9zM261.5 210.4l2.4-1.8-3.3-2.2-2.4 1.9zM263.9 208.6l2.3-1.9-3.2-2.1-2.4 1.8zM266.2 206.7l2.3-1.8-3.2-2.2-2.3 1.9zM268.5 204.9l2.3-1.8-3.2-2.2-2.3 1.8zM270.8 203.1l2.2-1.8-3.2-2.2-2.2 1.8zM273 201.3l2.2-1.8-3.2-2.1-2.2 1.7zM275.2 199.5l2.2-1.7-3.2-2.2-2.2 1.8zM277.4 197.8l2.1-1.7-3.1-2.2-2.2 1.7zM279.5 196.1l2.1-1.7-3.1-2.2-2.1 1.7zM281.6 194.4l2.1-1.7-3.1-2.1-2.1 1.6zM283.7 192.7l2.1-1.6-3.2-2.2-2 1.7zM285.8 191.1l2-1.6-3.1-2.2-2.1 1.6zM287.8 189.5l2-1.6-3.1-2.2-2 1.6zM289.8 187.9l2-1.6-3.1-2.1-2 1.5zM291.8 186.3l1.9-1.5-3.1-2.2-1.9 1.6zM293.7 184.8l1.9-1.6-3-2.2-2 1.6zM295.6 183.2l1.9-1.5-3-2.2-1.9 1.5zM297.5 181.7l1.9-1.6-3.1-2.1-1.8 1.5zM299.4 180.1l1.8-1.5-3-2.2-1.9 1.6zM208.5 245.9l3.1-2.3-3.3-1.4-3.2 2.3zM211.6 243.6l3.2-2.2-3.4-1.6-3.1 2.4zM214.8 241.4l3-2.3-3.3-1.6-3.1 2.3zM217.8 239.1l3-2.2-3.3-1.6-3 2.2zM220.8 236.9l3-2.2-3.4-1.7-2.9 2.3zM223.8 234.7l2.9-2.2-3.3-1.7-3 2.2zM226.7 232.5l2.9-2.1-3.4-1.8-2.8 2.2zM229.6 230.4l2.8-2.1-3.3-1.8-2.9 2.1zM232.4 228.3l2.7-2.1-3.3-1.9-2.7 2.2zM235.1 226.2l2.8-2.1-3.3-1.9-2.8 2.1zM237.9 224.1l2.7-2.1-3.3-1.8-2.7 2zM240.6 222l2.6-2-3.3-1.9-2.6 2.1zM243.2 220l2.6-2-3.3-1.9-2.6 2zM245.8 218l2.6-2-3.3-1.9-2.6 2zM248.4 216l2.5-1.9-3.3-2-2.5 2zM250.9 214.1l2.5-2-3.3-2-2.5 2zM253.4 212.1l2.4-1.9-3.2-2-2.5 1.9zM255.8 210.2l2.4-1.9-3.2-2-2.4 1.9zM258.2 208.3l2.4-1.9-3.2-2-2.4 1.9zM260.6 206.4l2.4-1.8-3.2-2.1-2.4 1.9zM263 204.6l2.3-1.9-3.2-2-2.3 1.8zM265.3 202.7l2.3-1.8-3.2-2-2.3 1.8zM267.6 200.9l2.2-1.8-3.2-2-2.2 1.8zM269.8 199.1l2.2-1.7-3.1-2.1-2.3 1.8zM272 197.4l2.2-1.8-3.2-2-2.1 1.7zM274.2 195.6l2.2-1.7-3.2-2-2.2 1.7zM276.4 193.9l2.1-1.7-3.2-2-2.1 1.7zM278.5 192.2l2.1-1.6-3.1-2.1-2.2 1.7zM280.6 190.6l2-1.7-3.1-2-2 1.6zM282.6 188.9l2.1-1.6-3.1-2-2.1 1.6zM284.7 187.3l2-1.6-3.1-2-2 1.6zM286.7 185.7l2-1.5-3.1-2.1-2 1.6zM288.7 184.2l1.9-1.6-3-2.1-2 1.6zM290.6 182.6l2-1.6-3.1-2.1-1.9 1.6zM184.8 258.4l3.6-2.2-3.3-1.1-3.5 2.4zM188.4 256.2l3.5-2.3-3.3-1.2-3.5 2.4zM191.9 253.9l3.4-2.3-3.3-1.4-3.4 2.5zM195.3 251.6l3.3-2.4-3.3-1.4-3.3 2.4zM198.6 249.2l3.3-2.4-3.3-1.4-3.3 2.4zM201.9 246.8l3.2-2.3-3.3-1.5-3.2 2.4zM205.1 244.5l3.2-2.3-3.3-1.6-3.2 2.4zM208.3 242.2l3.1-2.4-3.3-1.6-3.1 2.4zM211.4 239.8l3.1-2.3-3.3-1.6-3.1 2.3zM214.5 237.5l3-2.2-3.3-1.7-3 2.3zM217.5 235.3l2.9-2.3-3.2-1.7-3 2.3zM220.4 233l3-2.2-3.3-1.7-2.9 2.2zM223.4 230.8l2.8-2.2-3.2-1.7-2.9 2.2zM226.2 228.6l2.9-2.1-3.3-1.8-2.8 2.2zM229.1 226.5l2.7-2.2-3.2-1.8-2.8 2.2zM231.8 224.3l2.8-2.1-3.3-1.8-2.7 2.1zM234.6 222.2l2.7-2-3.3-1.9-2.7 2.1zM237.3 220.2l2.6-2.1-3.2-1.9-2.7 2.1zM239.9 218.1l2.6-2-3.2-1.9-2.6 2zM242.5 216.1l2.6-2-3.2-1.9-2.6 2zM245.1 214.1l2.5-2-3.2-1.9-2.5 2zM247.6 212.1l2.5-2-3.2-1.9-2.5 2zM250.1 210.1l2.5-1.9-3.2-2-2.5 2zM252.6 208.2l2.4-1.9-3.2-2-2.4 1.9zM255 206.3l2.4-1.9-3.2-2-2.4 1.9zM257.4 204.4l2.4-1.9-3.2-2-2.4 1.9zM259.8 202.5l2.3-1.8-3.2-2-2.3 1.8zM262.1 200.7l2.3-1.8-3.2-2-2.3 1.8zM264.4 198.9l2.2-1.8-3.1-2-2.3 1.8zM266.6 197.1l2.3-1.8-3.2-2-2.2 1.8zM268.9 195.3l2.1-1.7-3.1-2-2.2 1.7zM170.6 263.7l3.7-1.9-3.1-.4-3.7 2.3zM174.3 261.8l3.7-2.1-3.2-.8-3.6 2.5zM178 259.7l3.6-2.2-3.2-1.1-3.6 2.5zM225.8 224.7l2.8-2.2-3.2-1.7-2.8 2.1zM228.6 222.5l2.7-2.1-3.2-1.8-2.7 2.2zM231.3 220.4l2.7-2.1-3.2-1.8-2.7 2.1zM234 218.3l2.7-2.1-3.2-1.8-2.7 2.1zM236.7 216.2l2.6-2-3.2-1.9-2.6 2.1zM239.3 214.2l2.6-2-3.2-1.9-2.6 2zM241.9 212.2l2.5-2-3.2-1.9-2.5 2zM244.4 210.2l2.5-2-3.1-1.9-2.6 2zM246.9 208.2l2.5-2-3.2-1.9-2.4 2zM249.4 206.2l2.4-1.9-3.1-1.9-2.5 1.9zM251.8 204.3l2.4-1.9-3.1-1.9-2.4 1.9zM254.2 202.4l2.4-1.9-3.1-1.9-2.4 1.9zM256.6 200.5l2.3-1.8-3.1-1.9-2.3 1.8zM258.9 198.7l2.3-1.8-3.1-2-2.3 1.9zM228.1 218.6l2.7-2.1-3.1-1.8-2.8 2.1zM230.8 216.5l2.7-2.1-3.2-1.8-2.6 2.1zM233.5 214.4l2.6-2.1-3.1-1.8-2.7 2.1zM236.1 212.3l2.6-2-3.1-1.8-2.6 2zM238.7 210.3l2.5-2-3.1-1.8-2.5 2zM241.2 208.3l2.6-2-3.2-1.8-2.5 2zM243.8 206.3l2.4-2-3.1-1.8-2.5 2zM246.2 204.3l2.5-1.9-3.1-1.8-2.5 1.9zM248.7 202.4l2.4-1.9-3.1-1.9-2.4 2zM251.1 200.5l2.4-1.9-3.1-1.8-2.4 1.8zM230.3 212.6l2.7-2.1-3.1-1.7-2.7 2.1zM233 210.5l2.6-2-3.1-1.8-2.6 2.1zM235.6 208.5l2.5-2-3.1-1.8-2.5 2zM238.1 206.5l2.5-2-3-1.8-2.6 2zM240.6 204.5l2.5-2-3.1-1.8-2.4 2zM243.1 202.5l2.5-1.9-3.1-1.8-2.5 1.9zM245.6 200.6l2.4-2-3.1-1.7-2.4 1.9zM227.2 210.9l2.7-2.1-3.1-1.7-2.6 2.1zM229.9 208.8l2.6-2.1-3.1-1.7-2.6 2.1zM232.5 206.7l2.5-2-3-1.7-2.6 2zM235 204.7l2.6-2-3.1-1.7-2.5 2zM237.6 202.7l2.4-2-3-1.7-2.5 2zM240 200.7l2.5-1.9-3-1.8-2.5 2zM242.5 198.8l2.4-1.9-3-1.8-2.4 1.9zM226.8 207.1l2.6-2.1-3-1.6-2.6 2zM229.4 205l2.6-2-3-1.7-2.6 2.1zM232 203l2.5-2-3-1.7-2.5 2zM234.5 201l2.5-2-3-1.7-2.5 2zM237 199l2.5-2-3-1.7-2.5 2zM223.8 205.4l2.6-2-3-1.7-2.6 2.1zM226.4 203.4l2.6-2.1-3-1.6-2.6 2zM229 201.3l2.5-2-2.9-1.6-2.6 2zM231.5 199.3l2.5-2-2.9-1.6-2.5 2zM234 197.3l2.5-2-3-1.6-2.4 2zM223.4 201.7l2.6-2-2.9-1.6-2.6 2zM226 199.7l2.6-2-3-1.6-2.5 2zM228.6 197.7l2.5-2-2.9-1.6-2.6 2zM231.1 195.7l2.4-2-2.9-1.6-2.4 2zM220.5 200.1l2.6-2-2.9-1.5-2.5 2zM223.1 198.1l2.5-2-2.8-1.6-2.6 2.1zM225.6 196.1l2.6-2-2.9-1.6-2.5 2zM228.2 194.1l2.4-2-2.8-1.6-2.5 2zM220.2 196.6l2.6-2.1-2.9-1.5-2.5 2zM222.8 194.5l2.5-2-2.8-1.5-2.6 2zM225.3 192.5l2.5-2-2.9-1.5-2.4 2zM217.4 195l2.5-2-2.8-1.5-2.5 2.1zM219.9 193l2.6-2-2.8-1.5-2.6 2zM222.5 191l2.4-2-2.8-1.5-2.4 2zM217.1 191.5l2.6-2-2.8-1.4-2.5 2zM219.7 189.5l2.4-2-2.7-1.5-2.5 2.1zM222.1 187.5l2.5-2-2.8-1.5-2.4 2zM214.4 190.1l2.5-2-2.7-1.5-2.5 2.1zM216.9 188.1l2.5-2.1-2.7-1.4-2.5 2zM219.4 186l2.4-2-2.7-1.4-2.4 2zM211.7 188.7l2.5-2.1-2.7-1.4-2.5 2.1zM214.2 186.6l2.5-2-2.7-1.4-2.5 2zM216.7 184.6l2.4-2-2.6-1.4-2.5 2zM211.5 185.2l2.5-2-2.7-1.4-2.4 2.1zM214 183.2l2.5-2-2.7-1.4-2.5 2zM208.9 183.9l2.4-2.1-2.6-1.3-2.4 2zM211.3 181.8l2.5-2-2.6-1.4-2.5 2.1zM206.3 182.5l2.4-2-2.5-1.3-2.5 2zM208.7 180.5l2.5-2.1-2.6-1.3-2.4 2.1zM203.7 181.2l2.5-2-2.6-1.3-2.5 2zM206.2 179.2l2.4-2.1-2.5-1.3-2.5 2.1zM203.6 177.9l2.5-2.1-2.5-1.3-2.5 2.1zM201.1 176.6l2.5-2.1-2.5-1.3-2.5 2.1zM203.6 174.5l2.4-2.1-2.5-1.3-2.4 2.1zM198.6 175.3l2.5-2.1-2.5-1.2-2.4 2.1zM201.1 173.2l2.4-2.1-2.4-1.3-2.5 2.2zM196.2 174.1l2.4-2.1-2.4-1.3-2.4 2.2zM198.6 172l2.5-2.2-2.5-1.2-2.4 2.1zM193.8 172.9l2.4-2.2-2.4-1.2-2.4 2.2zM196.2 170.7l2.4-2.1-2.3-1.2-2.5 2.1zM193.8 169.5l2.5-2.1-2.4-1.3-2.4 2.2zM191.5 168.3l2.4-2.2-2.3-1.2-2.4 2.2zM189.2 167.1l2.4-2.2-2.3-1.1-2.4 2.2zM186.9 166l2.4-2.2-2.3-1.2-2.4 2.2zM184.6 164.8l2.4-2.2-2.2-1.2-2.4 2.3zM182.4 163.7l2.4-2.3-2.3-1.1-2.4 2.2zM180.1 162.5l2.4-2.2-2.2-1.2-2.3 2.3zM178 161.4l2.3-2.3-2.1-1.1-2.4 2.3zM175.8 160.3l2.4-2.3-2.2-1.1-2.3 2.2zM173.7 159.1l2.3-2.2-2.1-1.2-2.4 2.3zM171.5 158l2.4-2.3-2.1-1.1-2.3 2.3zM169.5 156.9l2.3-2.3-2-1.1-2.4 2.3zM167.4 155.8l2.4-2.3-2.1-1.2-2.3 2.3zM165.4 154.6l2.3-2.3-2-1.2-2.4 2.3zM163.3 153.4l2.4-2.3-2-1.3-2.4 2.3zM161.3 152.1l2.4-2.3-2-1.5-2.4 2.3zM159.3 150.6l2.4-2.3-2-1.6-2.3 2.3zM155 151.3l2.4-2.3-2-1.9-2.4 2.3z"/>
<path class="c9" d="M250 236.9l2.6-1.6-3.6-1.8-2.7 1.8zM252.6 235.3l2.7-1.5-3.6-2-2.7 1.7zM243.5 237l2.8-1.7-3.6-1.7-2.8 1.9zM246.3 235.3l2.7-1.8-3.5-1.8-2.8 1.9zM249 233.5l2.7-1.7-3.6-2-2.6 1.9zM234.2 239.2l2.9-1.9-3.5-1.5-2.9 2.1zM237.1 237.3l2.8-1.8-3.5-1.7-2.8 2zM239.9 235.5l2.8-1.9-3.5-1.8-2.8 2zM242.7 233.6l2.8-1.9-3.5-1.8-2.8 1.9zM224.7 242l3-2.1-3.5-1.4-3 2.1zM227.7 239.9l3-2-3.5-1.6-3 2.2zM230.7 237.9l2.9-2.1-3.5-1.6-2.9 2.1zM233.6 235.8l2.8-2-3.4-1.7-2.9 2.1zM236.4 233.8l2.8-2-3.4-1.7-2.8 2zM208.7 249.4l3.2-2.2-3.4-1.3-3.3 2.3zM211.9 247.2l3.2-2.2-3.5-1.4-3.1 2.3zM215.1 245l3.1-2.2-3.4-1.4-3.2 2.2zM218.2 242.8l3-2.2-3.4-1.5-3 2.3zM221.2 240.6l3-2.1-3.4-1.6-3 2.2zM224.2 238.5l3-2.2-3.4-1.6-3 2.2zM191.7 257.1l3.5-2.1-3.3-1.1-3.5 2.3zM195.2 255l3.4-2.2-3.3-1.2-3.4 2.3zM198.6 252.8l3.4-2.3-3.4-1.3-3.3 2.4zM202 250.5l3.2-2.3-3.3-1.4-3.3 2.4zM205.2 248.2l3.3-2.3-3.4-1.4-3.2 2.3zM292.6 181l1.9-1.5-3.1-2.1-1.9 1.5zM294.5 179.5l1.8-1.5-3-2.2-1.9 1.6zM296.3 178l1.9-1.6-3-2.1-1.9 1.5zM177.5 262l3.7-1.7-3.2-.6-3.7 2.1zM181.2 260.3l3.6-1.9-3.2-.9-3.6 2.2zM271 193.6l2.2-1.7-3.1-2-2.2 1.7zM273.2 191.9l2.1-1.7-3-2-2.2 1.7zM275.3 190.2l2.2-1.7-3.1-2-2.1 1.7zM277.5 188.5l2-1.6-3-2-2.1 1.6zM279.5 186.9l2.1-1.6-3.1-2.1-2 1.7zM281.6 185.3l2-1.6-3-2.1-2.1 1.6zM283.6 183.7l2-1.6-3-2.1-2 1.6zM285.6 182.1l2-1.6-3.1-2.1-1.9 1.6zM287.6 180.5l1.9-1.6-3-2-2 1.5zM289.5 178.9l1.9-1.5-3-2.1-1.9 1.6zM291.4 177.4l1.9-1.6-2.9-2.1-2 1.6zM293.3 175.8l1.9-1.5-3-2.1-1.8 1.5zM261.2 196.9l2.3-1.8-3.1-2-2.3 1.8zM263.5 195.1l2.2-1.8-3.1-1.9-2.2 1.7zM265.7 193.3l2.2-1.7-3.1-2-2.2 1.8zM267.9 191.6l2.2-1.7-3.1-2-2.2 1.7zM270.1 189.9l2.2-1.7-3.1-2-2.2 1.7zM272.3 188.2l2.1-1.7-3.1-2-2.1 1.7zM274.4 186.5l2.1-1.6-3.1-2-2.1 1.6zM276.5 184.9l2-1.7-3-1.9-2.1 1.6zM278.5 183.2l2.1-1.6-3.1-2-2 1.7zM280.6 181.6l2-1.6-3-2-2.1 1.6zM282.6 180l1.9-1.6-2.9-2-2 1.6zM284.5 178.4l2-1.5-3-2.1-1.9 1.6zM253.5 198.6l2.3-1.8-3.1-1.9-2.3 1.9zM255.8 196.8l2.3-1.9-3.1-1.8-2.3 1.8zM258.1 194.9l2.3-1.8-3.1-1.8-2.3 1.8zM260.4 193.1l2.2-1.7-3-1.9-2.3 1.8zM262.6 191.4l2.2-1.8-3-1.9-2.2 1.8zM264.8 189.6l2.2-1.7-3-1.9-2.2 1.7zM267 187.9l2.2-1.7-3-1.9-2.2 1.7zM269.2 186.2l2.1-1.7-3-1.9-2.1 1.7zM271.3 184.5l2.1-1.6-3-1.9-2.1 1.6zM248 198.6l2.4-1.8-3.1-1.8-2.4 1.9zM250.4 196.8l2.3-1.9-3-1.8-2.4 1.9zM252.7 194.9l2.3-1.8-3-1.9-2.3 1.9zM255 193.1l2.3-1.8-3-1.9-2.3 1.8zM257.3 191.3l2.3-1.8-3-1.9-2.3 1.8zM259.6 189.5l2.2-1.8-3-1.8-2.2 1.7zM261.8 187.7l2.2-1.7-3-1.9-2.2 1.8zM264 186l2.2-1.7-3-1.9-2.2 1.7zM244.9 196.9l2.4-1.9-3-1.8-2.4 1.9zM247.3 195l2.4-1.9-3-1.8-2.4 1.9zM249.7 193.1l2.3-1.9-3-1.7-2.3 1.8zM252 191.2l2.3-1.8-3-1.8-2.3 1.9zM254.3 189.4l2.3-1.8-3-1.8-2.3 1.8zM256.6 187.6l2.2-1.7-3-1.8-2.2 1.7zM239.5 197l2.4-1.9-3-1.7-2.4 1.9zM241.9 195.1l2.4-1.9-3-1.7-2.4 1.9zM244.3 193.2l2.4-1.9-3-1.7-2.4 1.9zM246.7 191.3l2.3-1.8-3-1.8-2.3 1.9zM249 189.5l2.3-1.9-3-1.7-2.3 1.8zM251.3 187.6l2.3-1.8-3-1.7-2.3 1.8zM236.5 195.3l2.4-1.9-2.9-1.6-2.5 1.9zM238.9 193.4l2.4-1.9-2.9-1.7-2.4 2zM241.3 191.5l2.4-1.9-2.9-1.7-2.4 1.9zM243.7 189.6l2.3-1.9-2.9-1.6-2.3 1.8zM246 187.7l2.3-1.8-2.9-1.7-2.3 1.9zM233.5 193.7l2.5-1.9-2.9-1.7-2.5 2zM236 191.8l2.4-2-2.9-1.6-2.4 1.9zM238.4 189.8l2.4-1.9-2.9-1.6-2.4 1.9zM240.8 187.9l2.3-1.8-2.9-1.7-2.3 1.9zM230.6 192.1l2.5-2-2.9-1.5-2.4 1.9zM233.1 190.1l2.4-1.9-2.9-1.6-2.4 2zM235.5 188.2l2.4-1.9-2.9-1.6-2.4 1.9zM237.9 186.3l2.3-1.9-2.8-1.6-2.4 1.9zM227.8 190.5l2.4-1.9-2.8-1.6-2.5 2zM230.2 188.6l2.4-2-2.8-1.5-2.4 1.9zM232.6 186.6l2.4-1.9-2.8-1.6-2.4 2zM235 184.7l2.4-1.9-2.8-1.6-2.4 1.9zM224.9 189l2.5-2-2.8-1.5-2.5 2zM227.4 187l2.4-1.9-2.8-1.6-2.4 2zM229.8 185.1l2.4-2-2.8-1.5-2.4 1.9zM232.2 183.1l2.4-1.9-2.8-1.6-2.4 2zM224.6 185.5l2.4-2-2.7-1.4-2.5 1.9zM227 183.5l2.4-1.9-2.7-1.5-2.4 2zM221.8 184l2.5-1.9-2.7-1.5-2.5 2zM224.3 182.1l2.4-2-2.7-1.5-2.4 2zM219.1 182.6l2.5-2-2.7-1.4-2.4 2zM221.6 180.6l2.4-2-2.7-1.5-2.4 2.1zM216.5 181.2l2.4-2-2.7-1.4-2.4 2zM218.9 179.2l2.4-2.1-2.7-1.4-2.4 2.1zM213.8 179.8l2.4-2-2.6-1.4-2.4 2zM216.2 177.8l2.4-2.1-2.6-1.4-2.4 2.1zM211.2 178.4l2.4-2-2.6-1.4-2.4 2.1zM213.6 176.4l2.4-2.1-2.5-1.4-2.5 2.1zM208.6 177.1l2.4-2.1-2.5-1.3-2.4 2.1zM211 175l2.5-2.1-2.6-1.3-2.4 2.1zM206.1 175.8l2.4-2.1-2.5-1.3-2.4 2.1zM208.5 173.7l2.4-2.1-2.5-1.3-2.4 2.1zM206 172.4l2.4-2.1-2.5-1.3-2.4 2.1zM203.5 171.1l2.4-2.1-2.4-1.3-2.4 2.1zM201.1 169.8l2.4-2.1-2.5-1.3-2.4 2.2zM198.6 168.6l2.4-2.2-2.3-1.3-2.4 2.3zM196.3 167.4l2.4-2.3-2.4-1.2-2.4 2.2zM193.9 166.1l2.4-2.2-2.3-1.2-2.4 2.2zM191.6 164.9l2.4-2.2-2.3-1.2-2.4 2.3zM189.3 163.8l2.4-2.3-2.3-1.2-2.4 2.3zM187 162.6l2.4-2.3-2.3-1.2-2.3 2.3zM184.8 161.4l2.3-2.3-2.2-1.2-2.4 2.4zM182.5 160.3l2.4-2.4-2.2-1.1-2.4 2.3zM180.3 159.1l2.4-2.3-2.2-1.1-2.3 2.3zM178.2 158l2.3-2.3-2.1-1.2-2.4 2.4zM176 156.9l2.4-2.4-2.1-1.1-2.4 2.3zM173.9 155.7l2.4-2.3-2.1-1.2-2.4 2.4zM171.8 154.6l2.4-2.4-2.1-1.1-2.3 2.4zM169.8 153.5l2.3-2.4-2.1-1.2-2.3 2.4zM167.7 152.3l2.3-2.4-2-1.2-2.3 2.4zM165.7 151.1l2.3-2.4-2-1.3-2.3 2.4zM163.7 149.8l2.3-2.4-2-1.4-2.3 2.3zM157.4 149l2.3-2.3-2-1.8-2.3 2.2z"/>
<path class="c10" d="M244.5 239.9l2.7-1.5-3.7-1.4-2.8 1.7zM247.2 238.4l2.8-1.5-3.7-1.6-2.8 1.7zM237.9 240.4l2.8-1.7-3.6-1.4-2.9 1.9zM240.7 238.7l2.8-1.7-3.6-1.5-2.8 1.8zM225.3 245l3-1.9-3.6-1.1-3 2zM228.3 243.1l3-2-3.6-1.2-3 2.1zM231.3 241.1l2.9-1.9-3.5-1.3-3 2zM212.2 250.3l3.2-2.1-3.5-1-3.2 2.2zM215.4 248.2l3.2-2.1-3.5-1.1-3.2 2.2zM218.6 246.1l3.1-2.1-3.5-1.2-3.1 2.2zM221.7 244l3-2-3.5-1.4-3 2.2zM195.1 257.8l3.5-2-3.4-.8-3.5 2.1zM198.6 255.8l3.4-2.1-3.4-.9-3.4 2.2zM202 253.7l3.4-2.1-3.4-1.1-3.4 2.3zM205.4 251.6l3.3-2.2-3.5-1.2-3.2 2.3zM184.5 260.7l3.7-1.6-3.4-.7-3.6 1.9zM188.2 259.1l3.5-2-3.3-.9-3.6 2.2zM173.7 263.3l3.8-1.3-3.2-.2-3.7 1.9zM286.5 176.9l1.9-1.6-2.9-2.1-2 1.6zM288.4 175.3l2-1.6-3-2.1-1.9 1.6zM290.4 173.7l1.8-1.5-2.9-2.2-1.9 1.6zM273.4 182.9l2.1-1.6-3-2-2.1 1.7zM275.5 181.3l2-1.7-2.9-1.9-2.1 1.6zM277.5 179.6l2.1-1.6-3-1.9-2 1.6zM279.6 178l2-1.6-3-2-2 1.7zM281.6 176.4l1.9-1.6-2.9-2-2 1.6zM283.5 174.8l2-1.6-3-2-1.9 1.6zM285.5 173.2l1.9-1.6-2.9-2-2 1.6zM266.2 184.3l2.1-1.7-3-1.9-2.1 1.7zM268.3 182.6l2.1-1.6-3-1.9-2.1 1.6zM270.4 181l2.1-1.7-3-1.9-2.1 1.7zM272.5 179.3l2.1-1.6-3-1.9-2.1 1.6zM274.6 177.7l2-1.6-3-2-2 1.7zM276.6 176.1l2-1.7-2.9-1.9-2.1 1.6zM278.6 174.4l2-1.6-2.9-2-2 1.7zM258.8 185.9l2.2-1.8-3-1.8-2.2 1.8zM261 184.1l2.2-1.7-3-1.8-2.2 1.7zM263.2 182.4l2.1-1.7-2.9-1.8-2.2 1.7zM265.3 180.7l2.1-1.6-2.9-1.9-2.1 1.7zM267.4 179.1l2.1-1.7-2.9-1.9-2.1 1.7zM269.5 177.4l2.1-1.6-2.9-1.9-2.1 1.6zM253.6 185.8l2.2-1.7-2.9-1.8-2.3 1.8zM255.8 184.1l2.2-1.8-2.9-1.8-2.2 1.8zM258 182.3l2.2-1.7-2.9-1.8-2.2 1.7zM260.2 180.6l2.2-1.7-2.9-1.8-2.2 1.7zM262.4 178.9l2.1-1.7-2.9-1.8-2.1 1.7zM248.3 185.9l2.3-1.8-2.9-1.7-2.3 1.8zM250.6 184.1l2.3-1.8-2.9-1.7-2.3 1.8zM252.9 182.3l2.2-1.8-2.9-1.7-2.2 1.8zM255.1 180.5l2.2-1.7-2.9-1.8-2.2 1.8zM257.3 178.8l2.2-1.7-2.9-1.8-2.2 1.7zM243.1 186.1l2.3-1.9-2.8-1.7-2.4 1.9zM245.4 184.2l2.3-1.8-2.9-1.7-2.2 1.8zM247.7 182.4l2.3-1.8-2.9-1.7-2.3 1.8zM250 180.6l2.2-1.8-2.9-1.7-2.2 1.8zM240.2 184.4l2.4-1.9-2.9-1.6-2.3 1.9zM242.6 182.5l2.2-1.8-2.8-1.7-2.3 1.9zM244.8 180.7l2.3-1.8-2.8-1.7-2.3 1.8zM247.1 178.9l2.2-1.8-2.8-1.7-2.2 1.8zM237.4 182.8l2.3-1.9-2.8-1.6-2.3 1.9zM239.7 180.9l2.3-1.9-2.8-1.6-2.3 1.9zM242 179l2.3-1.8-2.8-1.7-2.3 1.9zM234.6 181.2l2.3-1.9-2.8-1.6-2.3 1.9zM236.9 179.3l2.3-1.9-2.8-1.6-2.3 1.9zM229.4 181.6l2.4-2-2.8-1.5-2.3 2zM231.8 179.6l2.3-1.9-2.7-1.5-2.4 1.9zM234.1 177.7l2.3-1.9-2.7-1.6-2.3 2zM226.7 180.1l2.3-2-2.7-1.5-2.3 2zM229 178.1l2.4-1.9-2.7-1.6-2.4 2zM231.4 176.2l2.3-2-2.7-1.5-2.3 1.9zM224 178.6l2.3-2-2.6-1.5-2.4 2zM226.3 176.6l2.4-2-2.7-1.5-2.3 2zM221.3 177.1l2.4-2-2.7-1.4-2.4 2zM223.7 175.1l2.3-2-2.6-1.4-2.4 2zM218.6 175.7l2.4-2-2.6-1.4-2.4 2zM221 173.7l2.4-2-2.6-1.5-2.4 2.1zM216 174.3l2.4-2-2.6-1.4-2.3 2zM218.4 172.3l2.4-2.1-2.6-1.4-2.4 2.1zM213.5 172.9l2.3-2-2.5-1.4-2.4 2.1zM215.8 170.9l2.4-2.1-2.6-1.5-2.3 2.2zM210.9 171.6l2.4-2.1-2.5-1.4-2.4 2.2zM213.3 169.5l2.3-2.2-2.5-1.4-2.3 2.2zM208.4 170.3l2.4-2.2-2.5-1.3-2.4 2.2zM210.8 168.1l2.3-2.2-2.5-1.3-2.3 2.2zM205.9 169l2.4-2.2-2.5-1.3-2.3 2.2zM208.3 166.8l2.3-2.2-2.4-1.4-2.4 2.3zM203.5 167.7l2.3-2.2-2.4-1.3-2.4 2.2zM201 166.4l2.4-2.2-2.4-1.3-2.3 2.2zM198.7 165.1l2.3-2.2-2.3-1.3-2.4 2.3zM196.3 163.9l2.4-2.3-2.4-1.2-2.3 2.3zM194 162.7l2.3-2.3-2.3-1.3-2.3 2.4zM191.7 161.5l2.3-2.4-2.3-1.2-2.3 2.4zM189.4 160.3l2.3-2.4-2.2-1.2-2.4 2.4zM187.1 159.1l2.4-2.4-2.2-1.2-2.4 2.4zM184.9 157.9l2.4-2.4-2.2-1.1-2.4 2.4zM182.7 156.8l2.4-2.4-2.2-1.2-2.4 2.5zM180.5 155.7l2.4-2.5-2.2-1.2-2.3 2.5zM178.4 154.5l2.3-2.5-2.1-1.1-2.3 2.5zM176.3 153.4l2.3-2.5-2.1-1.2-2.3 2.5zM174.2 152.2l2.3-2.5-2.1-1.1-2.3 2.5zM172.1 151.1l2.3-2.5-2-1.2-2.4 2.5zM170 149.9l2.4-2.5-2.1-1.2-2.3 2.5zM168 148.7l2.3-2.5-2-1.3-2.3 2.5zM166 147.4l2.3-2.5-2-1.3-2.3 2.4zM161.7 148.3l2.3-2.3-2-1.5-2.3 2.2zM159.7 146.7l2.3-2.2-2-1.8-2.3 2.2z"/>
<path class="c11" d="M241.6 241.3l2.9-1.4-3.8-1.2-2.8 1.7zM229 245.5l3-1.7-3.7-.7-3 1.9zM232 243.8l3-1.7-3.7-1-3 2zM235 242.1l2.9-1.7-3.7-1.2-2.9 1.9zM215.8 250.7l3.2-1.9-3.6-.6-3.2 2.1zM219 248.8l3.2-1.9-3.6-.8-3.2 2.1zM222.2 246.9l3.1-1.9-3.6-1-3.1 2.1zM202.1 256.2l3.5-1.9-3.6-.6-3.4 2.1zM205.6 254.3l3.3-2-3.5-.7-3.4 2.1zM208.9 252.3l3.3-2-3.5-.9-3.3 2.2zM191.6 259.5l3.5-1.7-3.4-.7-3.5 2zM180.8 262l3.7-1.3-3.3-.4-3.7 1.7zM287.4 171.6l1.9-1.6-2.9-2.1-1.9 1.7zM280.6 172.8l1.9-1.6-2.9-2-1.9 1.6zM282.5 171.2l2-1.6-2.9-2.1-2 1.7zM284.5 169.6l1.9-1.7-2.8-2.1-2 1.7zM271.6 175.8l2-1.7-2.9-1.9-2 1.7zM273.6 174.1l2.1-1.6-2.9-2-2.1 1.7zM275.7 172.5l2-1.7-2.9-2-2 1.7zM277.7 170.8l1.9-1.6-2.8-2.1-2 1.7zM264.5 177.2l2.1-1.7-2.9-1.8-2.1 1.7zM266.6 175.5l2.1-1.6-2.9-1.9-2.1 1.7zM268.7 173.9l2-1.7-2.8-1.9-2.1 1.7zM270.7 172.2l2.1-1.7-2.9-1.9-2 1.7zM272.8 170.5l2-1.7-2.9-1.9-2 1.7zM259.5 177.1l2.1-1.7-2.9-1.8-2.1 1.7zM261.6 175.4l2.1-1.7-2.8-1.9-2.2 1.8zM263.7 173.7l2.1-1.7-2.8-1.9-2.1 1.7zM265.8 172l2.1-1.7-2.9-1.9-2 1.7zM252.2 178.8l2.2-1.8-2.8-1.7-2.3 1.8zM254.4 177l2.2-1.7-2.9-1.8-2.1 1.8zM256.6 175.3l2.1-1.7-2.8-1.8-2.2 1.7zM258.7 173.6l2.2-1.8-2.9-1.8-2.1 1.8zM249.3 177.1l2.3-1.8-2.9-1.7-2.2 1.8zM251.6 175.3l2.1-1.8-2.8-1.7-2.2 1.8zM253.7 173.5l2.2-1.7-2.8-1.8-2.2 1.8zM244.3 177.2l2.2-1.8-2.8-1.7-2.2 1.8zM246.5 175.4l2.2-1.8-2.7-1.7-2.3 1.8zM248.7 173.6l2.2-1.8-2.7-1.8-2.2 1.9zM239.2 177.4l2.3-1.9-2.8-1.6-2.3 1.9zM241.5 175.5l2.2-1.8-2.7-1.7-2.3 1.9zM243.7 173.7l2.3-1.8-2.8-1.7-2.2 1.8zM236.4 175.8l2.3-1.9-2.7-1.6-2.3 1.9zM238.7 173.9l2.3-1.9-2.8-1.6-2.2 1.9zM241 172l2.2-1.8-2.7-1.7-2.3 1.9zM233.7 174.2l2.3-1.9-2.7-1.6-2.3 2zM236 172.3l2.2-1.9-2.6-1.6-2.3 1.9zM228.7 174.6l2.3-1.9-2.7-1.6-2.3 2zM231 172.7l2.3-2-2.7-1.6-2.3 2zM233.3 170.7l2.3-1.9-2.7-1.6-2.3 1.9zM226 173.1l2.3-2-2.6-1.5-2.3 2.1zM228.3 171.1l2.3-2-2.6-1.5-2.3 2zM223.4 171.7l2.3-2.1-2.6-1.5-2.3 2.1zM225.7 169.6l2.3-2-2.6-1.5-2.3 2zM220.8 170.2l2.3-2.1-2.6-1.4-2.3 2.1zM223.1 168.1l2.3-2-2.6-1.5-2.3 2.1zM218.2 168.8l2.3-2.1-2.5-1.5-2.4 2.1zM215.6 167.3l2.4-2.1-2.5-1.4-2.4 2.1zM213.1 165.9l2.4-2.1-2.5-1.4-2.4 2.2zM210.6 164.6l2.4-2.2-2.5-1.4-2.3 2.2zM205.8 165.5l2.4-2.3-2.4-1.3-2.4 2.3zM208.2 163.2l2.3-2.2-2.4-1.4-2.3 2.3zM203.4 164.2l2.4-2.3-2.4-1.3-2.4 2.3zM205.8 161.9l2.3-2.3-2.4-1.4-2.3 2.4zM201 162.9l2.4-2.3-2.4-1.3-2.3 2.3zM198.7 161.6l2.3-2.3-2.3-1.3-2.4 2.4zM196.3 160.4l2.4-2.4-2.3-1.3-2.4 2.4zM194 159.1l2.4-2.4-2.3-1.2-2.4 2.4zM191.7 157.9l2.4-2.4-2.3-1.3-2.3 2.5zM189.5 156.7l2.3-2.5-2.2-1.2-2.3 2.5zM187.3 155.5l2.3-2.5-2.2-1.2-2.3 2.6zM185.1 154.4l2.3-2.6-2.2-1.2-2.3 2.6zM182.9 153.2l2.3-2.6-2.2-1.2-2.3 2.6zM180.7 152l2.3-2.6-2.1-1.1-2.3 2.6zM178.6 150.9l2.3-2.6-2.1-1.2-2.3 2.6zM176.5 149.7l2.3-2.6-2.1-1.2-2.3 2.7zM174.4 148.6l2.3-2.7-2.1-1.1-2.2 2.6zM172.4 147.4l2.2-2.6-2-1.2-2.3 2.6zM170.3 146.2l2.3-2.6-2-1.3-2.3 2.6zM164 146l2.3-2.4-2-1.4-2.3 2.3zM162 144.5l2.3-2.3-2-1.6-2.3 2.1z"/>
<path class="c12" d="M235.8 244.2l2.9-1.4-3.7-.7-3 1.7zM238.7 242.8l2.9-1.5-3.7-.9-2.9 1.7zM222.7 248.9l3.2-1.7-3.7-.3-3.2 1.9zM225.9 247.2l3.1-1.7-3.7-.5-3.1 1.9zM209.2 254.4l3.3-1.8-3.6-.3-3.3 2zM212.5 252.6l3.3-1.9-3.6-.4-3.3 2zM198.6 258l3.5-1.8-3.5-.4-3.5 2zM187.9 260.8l3.7-1.3-3.4-.4-3.7 1.6zM177 262.6l3.8-.6-3.3 0-3.8 1.3zM279.6 169.2l2-1.7-2.8-2.1-2 1.7zM281.6 167.5l2-1.7-2.9-2.2-1.9 1.8zM274.8 168.8l2-1.7-2.8-2-2.1 1.8zM276.8 167.1l2-1.7-2.9-2.1-1.9 1.8zM267.9 170.3l2-1.7-2.8-2-2.1 1.8zM269.9 168.6l2-1.7-2.8-2-2 1.7zM271.9 166.9l2.1-1.8-2.8-2-2.1 1.8zM260.9 171.8l2.1-1.7-2.9-1.8-2.1 1.7zM263 170.1l2-1.7-2.8-1.9-2.1 1.8zM265 168.4l2.1-1.8-2.8-1.9-2.1 1.8zM255.9 171.8l2.1-1.8-2.8-1.8-2.1 1.8zM258 170l2.1-1.7-2.7-1.9-2.2 1.8zM260.1 168.3l2.1-1.8-2.7-1.9-2.1 1.8zM250.9 171.8l2.2-1.8-2.8-1.8-2.1 1.8zM253.1 170l2.1-1.8-2.7-1.8-2.2 1.8zM255.2 168.2l2.2-1.8-2.8-1.8-2.1 1.8zM246 171.9l2.2-1.9-2.8-1.7-2.2 1.9zM248.2 170l2.1-1.8-2.7-1.8-2.2 1.9zM250.3 168.2l2.2-1.8-2.7-1.8-2.2 1.8zM243.2 170.2l2.2-1.9-2.7-1.7-2.2 1.9zM245.4 168.3l2.2-1.9-2.7-1.7-2.2 1.9zM238.2 170.4l2.3-1.9-2.7-1.7-2.2 2zM240.5 168.5l2.2-1.9-2.7-1.7-2.2 1.9zM235.6 168.8l2.2-2-2.7-1.6-2.2 2zM237.8 166.8l2.2-1.9-2.6-1.7-2.3 2zM230.6 169.1l2.3-1.9-2.6-1.6-2.3 2zM232.9 167.2l2.2-2-2.6-1.7-2.2 2.1zM228 167.6l2.3-2-2.6-1.6-2.3 2.1zM230.3 165.6l2.2-2.1-2.6-1.6-2.2 2.1zM225.4 166.1l2.3-2.1-2.6-1.6-2.3 2.2zM220.5 166.7l2.3-2.1-2.5-1.5-2.3 2.1zM222.8 164.6l2.3-2.2-2.5-1.5-2.3 2.2zM218 165.2l2.3-2.1-2.5-1.5-2.3 2.2zM215.5 163.8l2.3-2.2-2.5-1.5-2.3 2.3zM213 162.4l2.3-2.3-2.5-1.4-2.3 2.3zM210.5 161l2.3-2.3-2.4-1.5-2.3 2.4zM208.1 159.6l2.3-2.4-2.4-1.4-2.3 2.4zM203.4 160.6l2.3-2.4-2.4-1.3-2.3 2.4zM201 159.3l2.3-2.4-2.3-1.4-2.3 2.5zM198.7 158l2.3-2.5-2.3-1.3-2.3 2.5zM196.4 156.7l2.3-2.5-2.3-1.3-2.3 2.6zM194.1 155.5l2.3-2.6-2.3-1.2-2.3 2.5zM191.8 154.2l2.3-2.5-2.2-1.3-2.3 2.6zM189.6 153l2.3-2.6-2.2-1.2-2.3 2.6zM187.4 151.8l2.3-2.6-2.2-1.2-2.3 2.6zM185.2 150.6l2.3-2.6-2.2-1.3-2.3 2.7zM183 149.4l2.3-2.7-2.1-1.2-2.3 2.8zM180.9 148.3l2.3-2.8-2.1-1.2-2.3 2.8zM168.3 144.9l2.3-2.6-2-1.2-2.3 2.5zM166.3 143.6l2.3-2.5-2-1.3-2.3 2.4zM164.3 142.2l2.3-2.4-2-1.4-2.3 2.2z"/>
<path class="c13" d="M232.8 245.5l3-1.3-3.8-.4-3 1.7zM219.5 250.6l3.2-1.7-3.7-.1-3.2 1.9zM205.7 256.1l3.5-1.7-3.6-.1-3.5 1.9zM195.1 259.5l3.5-1.5-3.5-.2-3.5 1.7zM184.2 261.7l3.7-.9-3.4-.1-3.7 1.3zM278.8 165.4l1.9-1.8-2.8-2.2-2 1.9zM274 165.1l1.9-1.8-2.7-2.1-2 1.9zM275.9 163.3l2-1.9-2.7-2.2-2 2zM267.1 166.6l2-1.7-2.8-2-2 1.8zM269.1 164.9l2.1-1.8-2.8-2.1-2.1 1.9zM271.2 163.1l2-1.9-2.8-2.1-2 1.9zM262.2 166.5l2.1-1.8-2.8-1.9-2 1.8zM264.3 164.7l2-1.8-2.7-2-2.1 1.9zM257.4 166.4l2.1-1.8-2.8-1.9-2.1 1.9zM259.5 164.6l2-1.8-2.7-2-2.1 1.9zM252.5 166.4l2.1-1.8-2.7-1.9-2.1 1.9zM254.6 164.6l2.1-1.9-2.7-1.9-2.1 1.9zM247.6 166.4l2.2-1.8-2.7-1.8-2.2 1.9zM249.8 164.6l2.1-1.9-2.7-1.8-2.1 1.9zM242.7 166.6l2.2-1.9-2.7-1.8-2.2 2zM244.9 164.7l2.2-1.9-2.7-1.8-2.2 1.9zM240 164.9l2.2-2-2.6-1.7-2.2 2zM235.1 165.2l2.3-2-2.7-1.7-2.2 2zM237.4 163.2l2.2-2-2.6-1.8-2.3 2.1zM232.5 163.5l2.2-2-2.5-1.7-2.3 2.1zM227.7 164l2.2-2.1-2.5-1.6-2.3 2.1zM229.9 161.9l2.3-2.1-2.6-1.7-2.2 2.2zM225.1 162.4l2.3-2.1-2.6-1.6-2.2 2.2zM220.3 163.1l2.3-2.2-2.5-1.5-2.3 2.2zM222.6 160.9l2.2-2.2-2.5-1.6-2.2 2.3zM217.8 161.6l2.3-2.2-2.5-1.6-2.3 2.3zM215.3 160.1l2.3-2.3-2.5-1.5-2.3 2.4zM212.8 158.7l2.3-2.4-2.4-1.5-2.3 2.4zM210.4 157.2l2.3-2.4-2.4-1.4-2.3 2.4zM205.7 158.2l2.3-2.4-2.4-1.4-2.3 2.5zM203.3 156.9l2.3-2.5-2.3-1.4-2.3 2.5zM201 155.5l2.3-2.5-2.3-1.3-2.3 2.5zM198.7 154.2l2.3-2.5-2.3-1.4-2.3 2.6zM196.4 152.9l2.3-2.6-2.3-1.3-2.3 2.7zM194.1 151.7l2.3-2.7-2.2-1.3-2.3 2.7zM191.9 150.4l2.3-2.7-2.2-1.3-2.3 2.8zM178.8 147.1l2.3-2.8-2.1-1.2-2.3 2.8zM176.7 145.9l2.3-2.8-2.1-1.1-2.3 2.8zM174.6 144.8l2.3-2.8-2-1.2-2.3 2.8zM172.6 143.6l2.3-2.8-2.1-1.2-2.2 2.7zM170.6 142.3l2.2-2.7-2-1.2-2.2 2.7zM168.6 141.1l2.2-2.7-2-1.2-2.2 2.6z"/>
<path class="c14" d="M226.6 248.2l3.1-1.3-3.8 .3-3.2 1.7zM229.7 246.9l3.1-1.4-3.8 0-3.1 1.7zM212.9 253.7l3.4-1.5-3.8 .4-3.3 1.8zM216.3 252.2l3.2-1.6-3.7 .1-3.3 1.9zM198.7 259l3.6-1.3-3.7 .3-3.5 1.5zM202.3 257.7l3.4-1.6-3.6 .1-3.5 1.8zM191.4 260.6l3.7-1.1-3.5 0-3.7 1.3zM180.3 261.7l3.9 0-3.4 .3-3.8 .6zM273.2 161.2l2-2-2.8-2.2-2 2.1zM266.3 162.9l2.1-1.9-2.8-2-2 1.9zM268.4 161l2-1.9-2.7-2.2-2.1 2.1zM261.5 162.8l2.1-1.9-2.7-2-2.1 1.9zM263.6 160.9l2-1.9-2.7-2.1-2 2zM256.7 162.7l2.1-1.9-2.7-1.9-2.1 1.9zM258.8 160.8l2.1-1.9-2.7-2-2.1 2zM251.9 162.7l2.1-1.9-2.7-1.9-2.1 2zM254 160.8l2.1-1.9-2.7-2-2.1 2zM247.1 162.8l2.1-1.9-2.7-1.9-2.1 2zM249.2 160.9l2.1-2-2.6-1.9-2.2 2zM242.2 162.9l2.2-1.9-2.6-1.8-2.2 2zM244.4 161l2.1-2-2.6-1.9-2.1 2.1zM239.6 161.2l2.2-2-2.7-1.8-2.1 2zM234.7 161.5l2.3-2.1-2.6-1.7-2.2 2.1zM237 159.4l2.1-2-2.5-1.8-2.2 2.1zM232.2 159.8l2.2-2.1-2.6-1.7-2.2 2.1zM227.4 160.3l2.2-2.2-2.5-1.6-2.3 2.2zM224.8 158.7l2.3-2.2-2.5-1.7-2.3 2.3zM220.1 159.4l2.2-2.3-2.5-1.6-2.2 2.3zM222.3 157.1l2.3-2.3-2.5-1.6-2.3 2.3zM217.6 157.8l2.2-2.3-2.4-1.6-2.3 2.4zM215.1 156.3l2.3-2.4-2.4-1.5-2.3 2.4zM212.7 154.8l2.3-2.4-2.4-1.6-2.3 2.6zM208 155.8l2.3-2.4-2.4-1.5-2.3 2.5zM205.6 154.4l2.3-2.5-2.3-1.4-2.3 2.5zM203.3 153l2.3-2.5-2.3-1.5-2.3 2.7zM201 151.7l2.3-2.7-2.3-1.4-2.3 2.7zM198.7 150.3l2.3-2.7-2.3-1.4-2.3 2.8zM189.7 149.2l2.3-2.8-2.2-1.2-2.3 2.8zM187.5 148l2.3-2.8-2.2-1.3-2.3 2.8zM185.3 146.7l2.3-2.8-2.1-1.2-2.3 2.8zM183.2 145.5l2.3-2.8-2.2-1.3-2.2 2.9zM181.1 144.3l2.2-2.9-2.1-1.2-2.2 2.9zM179 143.1l2.2-2.9-2-1.2-2.3 3zM176.9 142l2.3-3-2.1-1.2-2.2 3zM166.6 139.8l2.2-2.6-1.9-1.1-2.3 2.3z"/>
<path class="c15" d="M223.4 249.5l3.2-1.3-3.9 .7-3.2 1.7zM209.5 255.2l3.4-1.5-3.7 .7-3.5 1.7zM187.7 261.1l3.7-.5-3.5 .2-3.7 .9zM270.4 159.1l2-2.1-2.7-2.2-2 2.1zM265.6 159l2.1-2.1-2.7-2.1-2.1 2.1zM260.9 158.9l2-2-2.6-2.1-2.1 2.1zM256.1 158.9l2.1-2-2.7-2.1-2.1 2.1zM251.3 158.9l2.1-2-2.6-2-2.1 2.1zM246.5 159l2.2-2-2.6-2-2.2 2.1zM241.8 159.2l2.1-2.1-2.6-1.8-2.2 2.1zM243.9 157.1l2.2-2.1-2.6-1.9-2.2 2.2zM239.1 157.4l2.2-2.1-2.5-1.9-2.2 2.2zM234.4 157.7l2.2-2.1-2.6-1.9-2.2 2.3zM229.6 158.1l2.2-2.1-2.5-1.8-2.2 2.3zM231.8 156l2.2-2.3-2.5-1.8-2.2 2.3zM227.1 156.5l2.2-2.3-2.5-1.7-2.2 2.3zM224.6 154.8l2.2-2.3-2.5-1.7-2.2 2.4zM219.8 155.5l2.3-2.3-2.5-1.7-2.2 2.4zM217.4 153.9l2.2-2.4-2.4-1.6-2.2 2.5zM210.3 153.4l2.3-2.6-2.4-1.5-2.3 2.6zM207.9 151.9l2.3-2.6-2.4-1.5-2.2 2.7zM205.6 150.5l2.2-2.7-2.3-1.5-2.2 2.7zM196.4 149l2.3-2.8-2.2-1.3-2.3 2.8zM194.2 147.7l2.3-2.8-2.3-1.4-2.2 2.9zM192 146.4l2.2-2.9-2.2-1.3-2.2 3zM189.8 145.2l2.2-3-2.1-1.3-2.3 3zM187.6 143.9l2.3-3-2.2-1.3-2.2 3.1zM174.9 140.8l2.2-3-2-1.1-2.3 2.9zM172.8 139.6l2.3-2.9-2-1.1-2.3 2.8zM170.8 138.4l2.3-2.8-2-1.1-2.3 2.7zM168.8 137.2l2.3-2.7-2-.9-2.2 2.5z"/>
<path class="c16" d="M220.1 250.8l3.3-1.3-3.9 1.1-3.2 1.6zM206 256.5l3.5-1.3-3.8 .9-3.4 1.6zM195 259.9l3.7-.9-3.6 .5-3.7 1.1zM183.8 260.8l3.9 .3-3.5 .6-3.9 0zM267.7 156.9l2-2.1-2.7-2.3-2 2.3zM262.9 156.9l2.1-2.1-2.7-2.2-2 2.2zM258.2 156.9l2.1-2.1-2.7-2.2-2.1 2.2zM260.3 154.8l2-2.2-2.6-2.3-2.1 2.3zM253.4 156.9l2.1-2.1-2.6-2-2.1 2.1zM255.5 154.8l2.1-2.2-2.6-2.1-2.1 2.3zM248.7 157l2.1-2.1-2.6-2-2.1 2.1zM250.8 154.9l2.1-2.1-2.6-2.1-2.1 2.2zM246.1 155l2.1-2.1-2.6-2-2.1 2.2zM241.3 155.3l2.2-2.2-2.6-2-2.1 2.3zM236.6 155.6l2.2-2.2-2.6-1.9-2.2 2.2zM234 153.7l2.2-2.2-2.5-1.9-2.2 2.3zM229.3 154.2l2.2-2.3-2.5-1.8-2.2 2.4zM226.8 152.5l2.2-2.4-2.5-1.8-2.2 2.5zM222.1 153.2l2.2-2.4-2.4-1.8-2.3 2.5zM219.6 151.5l2.3-2.5-2.4-1.7-2.3 2.6zM215 152.4l2.2-2.5-2.4-1.6-2.2 2.5zM212.6 150.8l2.2-2.5-2.3-1.7-2.3 2.7zM210.2 149.3l2.3-2.7-2.4-1.6-2.3 2.8zM203.3 149l2.2-2.7-2.3-1.5-2.2 2.8zM201 147.6l2.2-2.8-2.2-1.4-2.3 2.8zM198.7 146.2l2.3-2.8-2.3-1.5-2.2 3zM196.5 144.9l2.2-3-2.2-1.4-2.3 3zM185.5 142.7l2.2-3.1-2.1-1.3-2.3 3.1zM183.3 141.4l2.3-3.1-2.1-1.2-2.3 3.1zM181.2 140.2l2.3-3.1-2.1-1.3-2.2 3.2zM179.2 139l2.2-3.2-2.1-1.1-2.2 3.1zM177.1 137.8l2.2-3.1-2-1.2-2.2 3.2zM175.1 136.7l2.2-3.2-2-1-2.2 3.1zM173.1 135.6l2.2-3.1-2-.9-2.2 2.9zM171.1 134.5l2.2-2.9-2-.8-2.2 2.8z"/>
<path class="c17" d="M216.8 252l3.3-1.2-3.8 1.4-3.4 1.5zM202.4 257.7l3.6-1.2-3.7 1.2-3.6 1.3zM191.3 260.2l3.7-.3-3.6 .7-3.7 .5zM265 154.8l2-2.3-2.6-2.3-2.1 2.4zM262.3 152.6l2.1-2.4-2.6-2.3-2.1 2.4zM257.6 152.6l2.1-2.3-2.6-2.2-2.1 2.4zM252.9 152.8l2.1-2.3-2.6-2.2-2.1 2.4zM248.2 152.9l2.1-2.2-2.6-2.2-2.1 2.4zM243.5 153.1l2.1-2.2-2.5-2.1-2.2 2.3zM238.8 153.4l2.1-2.3-2.5-1.9-2.2 2.3zM236.2 151.5l2.2-2.3-2.5-2-2.2 2.4zM231.5 151.9l2.2-2.3-2.5-1.9-2.2 2.4zM224.3 150.8l2.2-2.5-2.4-1.8-2.2 2.5zM217.2 149.9l2.3-2.6-2.4-1.7-2.3 2.7zM214.8 148.3l2.3-2.7-2.4-1.7-2.2 2.7zM207.8 147.8l2.3-2.8-2.3-1.6-2.3 2.9zM205.5 146.3l2.3-2.9-2.3-1.5-2.3 2.9zM203.2 144.8l2.3-2.9-2.3-1.6-2.2 3.1zM194.2 143.5l2.3-3-2.2-1.4-2.3 3.1zM192 142.2l2.3-3.1-2.2-1.4-2.2 3.2zM189.9 140.9l2.2-3.2-2.2-1.3-2.2 3.2z"/>
<path class="c18" d="M213.4 253.1l3.4-1.1-3.9 1.7-3.4 1.5zM198.7 258.6l3.7-.9-3.7 1.3-3.7 .9zM259.7 150.3l2.1-2.4-2.6-2.4-2.1 2.6zM255 150.5l2.1-2.4-2.6-2.3-2.1 2.5zM250.3 150.7l2.1-2.4-2.5-2.2-2.2 2.4zM245.6 150.9l2.1-2.4-2.5-2.1-2.1 2.4zM240.9 151.1l2.2-2.3-2.6-2.1-2.1 2.5zM238.4 149.2l2.1-2.5-2.5-2.1-2.1 2.6zM233.7 149.6l2.2-2.4-2.5-2.1-2.2 2.6zM229 150.1l2.2-2.4-2.5-2-2.2 2.6zM226.5 148.3l2.2-2.6-2.4-1.9-2.2 2.7zM221.9 149l2.2-2.5-2.4-1.9-2.2 2.7zM219.5 147.3l2.2-2.7-2.4-1.8-2.2 2.8zM212.5 146.6l2.2-2.7-2.4-1.8-2.2 2.9zM210.1 145l2.2-2.9-2.3-1.6-2.2 2.9zM201 143.4l2.2-3.1-2.2-1.5-2.3 3.1zM198.7 141.9l2.3-3.1-2.3-1.5-2.2 3.2zM187.7 139.6l2.2-3.2-2.1-1.4-2.2 3.3zM185.6 138.3l2.2-3.3-2.1-1.3-2.2 3.4zM183.5 137.1l2.2-3.4-2.1-1.3-2.2 3.4zM181.4 135.8l2.2-3.4-2.1-1.2-2.2 3.5zM179.3 134.7l2.2-3.5-2-1.1-2.2 3.4zM177.3 133.5l2.2-3.4-2-1-2.2 3.4zM175.3 132.5l2.2-3.4-2-.8-2.2 3.3zM173.3 131.6l2.2-3.3-2-.7-2.2 3.2z"/>
<path class="c19" d="M209.8 254.3l3.6-1.2-3.9 2.1-3.5 1.3zM195 259.1l3.7-.5-3.7 1.3-3.7 .3zM187.4 259.9l3.9 .3-3.6 .9-3.9-.3zM257.1 148.1l2.1-2.6-2.6-2.5-2.1 2.8zM252.4 148.3l2.1-2.5-2.5-2.4-2.1 2.7zM247.7 148.5l2.2-2.4-2.6-2.3-2.1 2.6zM243.1 148.8l2.1-2.4-2.5-2.2-2.2 2.5zM235.9 147.2l2.1-2.6-2.4-2.1-2.2 2.6zM231.2 147.7l2.2-2.6-2.5-2-2.2 2.6zM228.7 145.7l2.2-2.6-2.4-2.1-2.2 2.8zM224.1 146.5l2.2-2.7-2.4-2-2.2 2.8zM217.1 145.6l2.2-2.8-2.4-1.8-2.2 2.9zM214.7 143.9l2.2-2.9-2.3-1.9-2.3 3zM207.8 143.4l2.2-2.9-2.3-1.7-2.2 3.1zM205.5 141.9l2.2-3.1-2.3-1.7-2.2 3.2zM196.5 140.5l2.2-3.2-2.2-1.5-2.2 3.3zM194.3 139.1l2.2-3.3-2.2-1.5-2.2 3.4zM192.1 137.7l2.2-3.4-2.1-1.4-2.3 3.5z"/>
<path class="c20" d="M206.3 255.4l3.5-1.1-3.8 2.2-3.6 1.2zM254.5 145.8l2.1-2.8-2.5-2.4-2.1 2.8zM249.9 146.1l2.1-2.7-2.5-2.3-2.2 2.7zM245.2 146.4l2.1-2.6-2.5-2.3-2.1 2.7zM240.5 146.7l2.2-2.5-2.5-2.2-2.2 2.6zM238 144.6l2.2-2.6-2.5-2.3-2.1 2.8zM233.4 145.1l2.2-2.6-2.5-2.2-2.2 2.8zM226.3 143.8l2.2-2.8-2.4-2.1-2.2 2.9zM221.7 144.6l2.2-2.8-2.4-1.9-2.2 2.9zM219.3 142.8l2.2-2.9-2.4-2-2.2 3.1zM212.3 142.1l2.3-3-2.3-1.8-2.3 3.2zM210 140.5l2.3-3.2-2.3-1.8-2.3 3.3zM203.2 140.3l2.2-3.2-2.2-1.6-2.2 3.3zM201 138.8l2.2-3.3-2.2-1.7-2.3 3.5zM189.9 136.4l2.3-3.5-2.2-1.4-2.2 3.5zM187.8 135l2.2-3.5-2.1-1.4-2.2 3.6zM185.7 133.7l2.2-3.6-2.1-1.4-2.2 3.7z"/>
<path class="c21" d="M202.6 256.6l3.7-1.2-3.9 2.3-3.7 .9zM191.1 259.2l3.9-.1-3.7 1.1-3.9-.3zM247.3 143.8l2.2-2.7-2.5-2.5-2.2 2.9zM242.7 144.2l2.1-2.7-2.5-2.4-2.1 2.9zM235.6 142.5l2.1-2.8-2.4-2.3-2.2 2.9zM230.9 143.1l2.2-2.8-2.4-2.2-2.2 2.9zM223.9 141.8l2.2-2.9-2.4-2.1-2.2 3.1zM216.9 141l2.2-3.1-2.3-2-2.2 3.2zM207.7 138.8l2.3-3.3-2.3-1.8-2.3 3.4zM198.7 137.3l2.3-3.5-2.3-1.6-2.2 3.6zM196.5 135.8l2.2-3.6-2.1-1.5-2.3 3.6zM183.6 132.4l2.2-3.7-2.1-1.2-2.2 3.7zM181.5 131.2l2.2-3.7-2-1.2-2.2 3.8zM179.5 130.1l2.2-3.8-2-1-2.2 3.8zM177.5 129.1l2.2-3.8-2.1-.8-2.1 3.8zM175.5 128.3l2.1-3.8-1.9-.5-2.2 3.6z"/>
<path class="c22" d="M198.8 257.8l3.8-1.2-3.9 2-3.7 .5zM252 143.4l2.1-2.8-2.5-2.5-2.1 3zM244.8 141.5l2.2-2.9-2.5-2.5-2.2 3zM240.2 142l2.1-2.9-2.4-2.4-2.2 3zM233.1 140.3l2.2-2.9-2.4-2.4-2.2 3.1zM228.5 141l2.2-2.9-2.4-2.2-2.2 3zM221.5 139.9l2.2-3.1-2.3-2.1-2.3 3.2zM214.6 139.1l2.2-3.2-2.3-1.9-2.2 3.3zM212.3 137.3l2.2-3.3-2.3-2-2.2 3.5zM205.4 137.1l2.3-3.4-2.3-1.8-2.2 3.6zM203.2 135.5l2.2-3.6-2.2-1.8-2.2 3.7zM194.3 134.3l2.3-3.6-2.2-1.6-2.2 3.8zM192.2 132.9l2.2-3.8-2.2-1.5-2.2 3.9zM190 131.5l2.2-3.9-2.1-1.5-2.2 4z"/>
<path class="c23" d="M194.9 259.1l3.9-1.3-3.8 1.3-3.9 .1zM249.5 141.1l2.1-3-2.5-2.6-2.1 3.1zM237.7 139.7l2.2-3-2.4-2.4-2.2 3.1zM230.7 138.1l2.2-3.1-2.4-2.4-2.2 3.3zM226.1 138.9l2.2-3-2.4-2.3-2.2 3.2zM219.1 137.9l2.3-3.2-2.4-2.1-2.2 3.3zM210 135.5l2.2-3.5-2.3-2-2.2 3.7zM201 133.8l2.2-3.7-2.2-1.7-2.3 3.8zM198.7 132.2l2.3-3.8-2.2-1.7-2.2 4zM187.9 130.1l2.2-4-2.1-1.5-2.2 4.1zM185.8 128.7l2.2-4.1-2.1-1.3-2.2 4.2zM183.7 127.5l2.2-4.2-2-1.2-2.2 4.2zM177.6 124.5l2.2-4.3-2-.6-2.1 4.4z"/>
<path class="c24" d="M247 138.6l2.1-3.1-2.4-2.7-2.2 3.3zM242.3 139.1l2.2-3-2.4-2.6-2.2 3.2zM235.3 137.4l2.2-3.1-2.4-2.6-2.2 3.3zM223.7 136.8l2.2-3.2-2.3-2.3-2.2 3.4zM216.8 135.9l2.2-3.3-2.3-2.2-2.2 3.6zM207.7 133.7l2.2-3.7-2.3-1.9-2.2 3.8zM196.6 130.7l2.2-4-2.2-1.7-2.2 4.1zM181.7 126.3l2.2-4.2-2.1-1.1-2.1 4.3zM179.7 125.3l2.1-4.3-2-.8-2.2 4.3z"/>
<path class="c25" d="M244.5 136.1l2.2-3.3-2.5-2.7-2.1 3.4zM239.9 136.7l2.2-3.2-2.5-2.6-2.1 3.4zM232.9 135l2.2-3.3-2.4-2.6-2.2 3.5zM228.3 135.9l2.2-3.3-2.4-2.5-2.2 3.5zM221.4 134.7l2.2-3.4-2.4-2.4-2.2 3.7zM214.5 134l2.2-3.6-2.3-2.2-2.2 3.8zM212.2 132l2.2-3.8-2.3-2.1-2.2 3.9zM205.4 131.9l2.2-3.8-2.2-2-2.2 4zM203.2 130.1l2.2-4-2.2-1.9-2.2 4.2zM194.4 129.1l2.2-4.1-2.2-1.7-2.2 4.3zM192.2 127.6l2.2-4.3-2.1-1.6-2.2 4.4z"/>
<path class="c26" d="M237.5 134.3l2.1-3.4-2.4-2.8-2.1 3.6zM225.9 133.6l2.2-3.5-2.3-2.5-2.2 3.7zM219 132.6l2.2-3.7-2.3-2.3-2.2 3.8zM209.9 130l2.2-3.9-2.2-2.2-2.3 4.2zM201 128.4l2.2-4.2-2.2-1.9-2.2 4.4zM190.1 126.1l2.2-4.4-2.1-1.6-2.2 4.5zM188 124.6l2.2-4.5-2.1-1.5-2.2 4.7z"/>
<path class="c27" d="M242.1 133.5l2.1-3.4-2.4-2.9-2.2 3.7zM230.5 132.6l2.2-3.5-2.4-2.7-2.2 3.7zM223.6 131.3l2.2-3.7-2.4-2.6-2.2 3.9zM216.7 130.4l2.2-3.8-2.3-2.4-2.2 4zM207.6 128.1l2.3-4.2-2.3-2.1-2.2 4.3zM198.8 126.7l2.2-4.4-2.2-1.9-2.2 4.6zM185.9 123.3l2.2-4.7-2.1-1.4-2.1 4.9zM183.9 122.1l2.1-4.9-2-1.2-2.2 5zM181.8 121l2.2-5-2.1-.9-2.1 5.1zM179.8 120.2l2.1-5.1-2-.7-2.1 5.2z"/>
<path class="c28" d="M239.6 130.9l2.2-3.7-2.4-3-2.2 3.9zM235.1 131.7l2.1-3.6-2.3-2.8-2.2 3.8zM228.1 130.1l2.2-3.7-2.3-2.8-2.2 4zM221.2 128.9l2.2-3.9-2.3-2.6-2.2 4.2zM214.4 128.2l2.2-4-2.3-2.4-2.2 4.3zM205.4 126.1l2.2-4.3-2.2-2.2-2.2 4.6zM196.6 125l2.2-4.6-2.2-1.9-2.2 4.8zM194.4 123.3l2.2-4.8-2.1-1.8-2.2 5z"/>
<path class="c29" d="M232.7 129.1l2.2-3.8-2.4-3-2.2 4.1zM212.1 126.1l2.2-4.3-2.2-2.5-2.2 4.6zM203.2 124.2l2.2-4.6-2.2-2.1-2.2 4.8zM192.3 121.7l2.2-5-2.1-1.8-2.2 5.2z"/>
<path class="c30" d="M237.2 128.1l2.2-3.9-2.3-3.1-2.2 4.2zM225.8 127.6l2.2-4-2.3-2.9-2.3 4.3zM218.9 126.6l2.2-4.2-2.3-2.7-2.2 4.5zM209.9 123.9l2.2-4.6-2.3-2.4-2.2 4.9zM201 122.3l2.2-4.8-2.2-2.2-2.2 5.1zM190.2 120.1l2.2-5.2-2.2-1.7-2.1 5.4zM188.1 118.6l2.1-5.4-2-1.6-2.2 5.6z"/>
<path class="c31" d="M230.3 126.4l2.2-4.1-2.3-3.1-2.2 4.4zM223.4 125l2.3-4.3-2.3-2.9-2.3 4.6zM216.6 124.2l2.2-4.5-2.2-2.7-2.3 4.8zM198.8 120.4l2.2-5.1-2.2-2.1-2.2 5.3zM186 117.2l2.2-5.6-2.1-1.5-2.1 5.9zM184 116l2.1-5.9-2.1-1.2-2.1 6.2zM181.9 115.1l2.1-6.2-2-1.1-2.1 6.6z"/>
<path class="c32" d="M234.9 125.3l2.2-4.2-2.4-3.2-2.2 4.4zM228 123.6l2.2-4.4-2.3-3.2-2.2 4.7zM214.3 121.8l2.3-4.8-2.3-2.8-2.2 5.1zM207.6 121.8l2.2-4.9-2.2-2.5-2.2 5.2zM196.6 118.5l2.2-5.3-2.1-2.2-2.2 5.7z"/>
<path class="c33" d="M221.1 122.4l2.3-4.6-2.3-3.1-2.3 5zM205.4 119.6l2.2-5.2-2.2-2.5-2.2 5.6zM194.5 116.7l2.2-5.7-2.2-2.1-2.1 6z"/>
<path class="c34" d="M232.5 122.3l2.2-4.4-2.3-3.5-2.2 4.8zM225.7 120.7l2.2-4.7-2.3-3.3-2.2 5.1zM218.8 119.7l2.3-5-2.3-3.1-2.2 5.4zM212.1 119.3l2.2-5.1-2.2-2.8-2.3 5.5zM203.2 117.5l2.2-5.6-2.2-2.5-2.2 5.9zM192.4 114.9l2.1-6-2.1-2.1-2.2 6.4z"/>
<path class="c35" d="M209.8 116.9l2.3-5.5-2.3-2.9-2.2 5.9zM201 115.3l2.2-5.9-2.2-2.5-2.2 6.3zM190.2 113.2l2.2-6.4-2.1-2-2.1 6.8z"/>
<path class="c36" d="M230.2 119.2l2.2-4.8-2.3-3.6-2.2 5.2zM223.4 117.8l2.2-5.1-2.3-3.5-2.2 5.5zM216.6 117l2.2-5.4-2.2-3.2-2.3 5.8zM188.2 111.6l2.1-6.8-2.1-1.9-2.1 7.2zM186.1 110.1l2.1-7.2-2-1.7-2.2 7.7z"/>
<path class="c37" d="M207.6 114.4l2.2-5.9-2.2-2.9-2.2 6.3zM198.8 113.2l2.2-6.3-2.1-2.5-2.2 6.6zM184 108.9l2.2-7.7-2.1-1.6-2.1 8.2z"/>
<path class="c38" d="M227.9 116l2.2-5.2-2.2-3.9-2.3 5.8zM221.1 114.7l2.2-5.5-2.2-3.7-2.3 6.1zM214.3 114.2l2.3-5.8-2.3-3.3-2.2 6.3zM205.4 111.9l2.2-6.3-2.2-3-2.2 6.8zM196.7 111l2.2-6.6-2.2-2.6-2.2 7.1z"/>
<path class="c39" d="M194.5 108.9l2.2-7.1-2.1-2.6-2.2 7.6z"/>
<path class="c40" d="M225.6 112.7l2.3-5.8-2.3-4.1-2.3 6.4zM218.8 111.6l2.3-6.1-2.3-3.8-2.2 6.7zM212.1 111.4l2.2-6.3-2.2-3.5-2.3 6.9zM203.2 109.4l2.2-6.8-2.2-3.1-2.2 7.4zM192.4 106.8l2.2-7.6-2.1-2.5-2.2 8.1z"/>
<path class="c41" d="M209.8 108.5l2.3-6.9-2.2-3.5-2.3 7.5zM201 106.9l2.2-7.4-2.1-3.1-2.2 8zM190.3 104.8l2.2-8.1-2.1-2.6-2.2 8.8z"/>
<path class="c42" d="M223.3 109.2l2.3-6.4-2.2-4.3-2.3 7zM216.6 108.4l2.2-6.7-2.2-4-2.3 7.4zM188.2 102.9l2.2-8.8-2.1-2.5-2.1 9.6z"/>
<path class="c43" d="M207.6 105.6l2.3-7.5-2.2-3.8-2.3 8.3zM198.9 104.4l2.2-8-2.2-3.3-2.2 8.7zM186.2 101.2l2.1-9.6-2.1-2.4-2.1 10.4z"/>
<path class="c44" d="M221.1 105.5l2.3-7-2.2-4.7-2.4 7.9zM214.3 105.1l2.3-7.4-2.2-4.3-2.3 8.2zM196.7 101.8l2.2-8.7-2.1-3.3-2.2 9.4z"/>
<path class="c45" d="M205.4 102.6l2.3-8.3-2.2-3.8-2.3 9z"/>
<path class="c46" d="M194.6 99.2l2.2-9.4-2.2-3.4-2.1 10.3z"/>
<path class="c47" d="M218.8 101.7l2.4-7.9-2.2-4.9-2.4 8.8zM212.1 101.6l2.3-8.2-2.2-4.4-2.3 9.1zM203.2 99.5l2.3-9-2.2-4-2.2 9.9z"/>
<path class="c48" d="M192.5 96.7l2.1-10.3-2.1-3.5-2.1 11.2z"/>
<path class="c49" d="M209.9 98.1l2.3-9.1-2.2-4.8-2.3 10.1z"/>
<path class="c50" d="M201.1 96.4l2.2-9.9-2.1-4.2-2.3 10.8zM190.4 94.1l2.1-11.2-2.1-3.5-2.1 12.2z"/>
<path class="c51" d="M216.6 97.7l2.4-8.8-2.2-5.4-2.4 9.9z"/>
<path class="c52" d="M207.7 94.3l2.3-10.1-2.2-5-2.3 11.3zM198.9 93.1l2.3-10.8-2.2-4.4-2.2 11.9zM188.3 91.6l2.1-12.2-2.1-3.7-2.1 13.5z"/>
<path class="c53" d="M214.4 93.4l2.4-9.9-2.2-5.8-2.4 11.3z"/>
<path class="c54" d="M196.8 89.8l2.2-11.9-2.2-4.6-2.2 13.1z"/>
<path class="c55" d="M205.5 90.5l2.3-11.3-2.2-5.3-2.3 12.6z"/>
<path class="c56" d="M212.2 89l2.4-11.3-2.2-6.2-2.4 12.7zM194.6 86.4l2.2-13.1-2.1-4.9-2.2 14.5z"/>
<path class="c57" d="M203.3 86.5l2.3-12.6-2.1-5.7-2.3 14.1z"/>
<path class="c58" d="M192.5 82.9l2.2-14.5-2.2-5-2.1 16z"/>
<path class="c59" d="M210 84.2l2.4-12.7-2.2-6.8-2.4 14.5z"/>
<path class="c60" d="M201.2 82.3l2.3-14.1-2.2-6.1-2.3 15.8z"/>
<path class="c61" d="M190.4 79.4l2.1-16-2.1-5.3-2.1 17.6z"/>
<path class="c62" d="M207.8 79.2l2.4-14.5-2.1-7.4-2.5 16.6zM199 77.9l2.3-15.8-2.2-6.3-2.3 17.5z"/>
<path class="c63" d="M196.8 73.3l2.3-17.5-2.2-6.7-2.2 19.3z"/>
<path class="c64" d="M205.6 73.9l2.5-16.6-2.2-8-2.4 18.9z"/>
<path class="c65" d="M194.7 68.4l2.2-19.3-2.2-7-2.2 21.3z"/>
<path class="c66" d="M203.5 68.2l2.4-18.9-2.2-8.6-2.4 21.4z"/>
<path class="c67" d="M192.5 63.4l2.2-21.3-2.2-7.3-2.1 23.3z"/>
<path class="c68" d="M201.3 62.1l2.4-21.4-2.2-9-2.4 24.1z"/>
<path class="c69" d="M199.1 55.8l2.4-24.1-2.2-9.3-2.4 26.7z"/>
<path class="c70" d="M196.9 49.1l2.4-26.7-2.2-9.5-2.4 29.2z"/>
<path class="c71" d="M194.7 42.1l2.4-29.2-2.3-9.4-2.3 31.3z"/>
</g>
<g stroke="#000" stroke-width="1.2" fill="none" stroke-linecap="round"><line x1="77.2" y1="195" x2="124.2" y2="172.7"/></g>
<g stroke="#000" stroke-width="1.95" fill="none" stroke-dasharray="3.4 4.4">
<line x1="47.6" y1="24.4" x2="195.1" y2="65.9" stroke-dashoffset="1"/>
<line x1="342.2" y1="24.2" x2="195.1" y2="65.9" stroke-dashoffset="4.3"/>
<line x1="195.1" y1="65.9" x2="194.8" y2="299.7" stroke-dashoffset="3.6"/>
</g>
<g stroke="#000" stroke-width="1.75" fill="#000">
<line x1="64.4" y1="159.2" x2="48.7" y2="80"/><path stroke="none" d="M47.4 73.6L50.9 80.5L46.8 81.4Z"/>
<line x1="189.6" y1="310.4" x2="87" y2="213.8"/><path stroke="none" d="M82.3 209.3L89.2 212.9L86.3 216Z"/>
<line x1="207.1" y1="303.7" x2="304.6" y2="211.7"/><path stroke="none" d="M309.3 207.2L305.3 213.9L302.4 210.8Z"/>
</g>
<g font-size="14" text-anchor="middle">
<text transform="translate(46.6 119.1) rotate(79.3)" dy="3.6" font-size="14.7">Density</text>
<text transform="translate(121.7 259) rotate(43.3)" dy="5.2" font-size="14.7">Disturbance</text>
<text transform="translate(271.3 256.8) rotate(-43.4)" dy="5.2" font-size="14.7">Elevation</text>
</g>
<g transform="translate(409.5 1.5) scale(5.8298 2.9862)" shape-rendering="crispEdges">
<path fill="#2d7cb6" d="M0 0h17v1H0zM0 1h16v2H0zM0 3h15v2H0zM0 5h13v2H0zM0 7h11v2H0zM0 9h10v2H0zM0 11h9v2H0zM0 13h9v2H0zM0 15h9v2H0zM0 17h8v2H0zM0 19h8v2H0zM0 21h8v2H0zM0 23h8v2H0zM0 25h8v2H0zM0 27h7v2H0zM0 29h7v2H0zM0 31h7v2H0zM0 33h6v2H0zM0 35h5v2H0zM0 37h5v2H0zM0 39h4v2H0zM0 41h3v2H0zM0 43h2v2H0z"/>
<path fill="#2f7db7" d="M17 0h2v1H17zM16 1h3v2H16zM15 3h3v2H15zM13 5h5v2H13zM11 7h6v2H11zM10 9h6v2H10zM9 11h6v2H9zM9 13h5v2H9zM9 15h4v2H9zM8 17h4v2H8zM8 19h4v2H8zM8 21h3v2H8zM8 23h3v2H8zM8 25h3v2H8zM7 27h3v2H7zM7 29h3v2H7zM7 31h2v2H7zM6 33h3v2H6zM5 35h3v2H5zM5 37h2v2H5zM4 39h3v2H4zM3 41h3v2H3zM2 43h3v2H2zM0 45h3v2H0zM0 47h2v2H0z"/>
<path fill="#317fb8" d="M19 0h2v1H19zM19 1h2v2H19zM18 3h2v2H18zM18 5h2v2H18zM17 7h2v2H17zM16 9h3v2H16zM15 11h3v2H15zM14 13h3v2H14zM13 15h3v2H13zM12 17h4v2H12zM12 19h3v2H12zM11 21h3v2H11zM11 23h3v2H11zM11 25h2v2H11zM10 27h3v2H10zM10 29h2v2H10zM9 31h3v2H9zM9 33h2v2H9zM8 35h2v2H8zM7 37h3v2H7zM7 39h2v2H7zM6 41h2v2H6zM5 43h2v2H5zM3 45h3v2H3zM2 47h2v2H2zM0 49h3v2H0zM0 51h1v2H0z"/>
<path fill="#3380b9" d="M21 0h1v1H21zM21 1h1v2H21zM20 3h2v2H20zM20 5h2v2H20zM19 7h2v2H19zM19 9h2v2H19zM18 11h2v2H18zM17 13h2v2H17zM16 15h3v2H16zM16 17h2v2H16zM15 19h3v2H15zM14 21h3v2H14zM14 23h2v2H14zM13 25h3v2H13zM13 27h2v2H13zM12 29h2v2H12zM12 31h2v2H12zM11 33h2v2H11zM10 35h3v2H10zM10 37h2v2H10zM9 39h2v2H9zM8 41h2v2H8zM7 43h2v2H7zM6 45h2v2H6zM4 47h3v2H4zM3 49h2v2H3zM1 51h3v2H1zM0 53h2v2H0z"/>
<path fill="#3582ba" d="M22 0h1v1H22zM22 1h1v2H22zM22 3h1v2H22zM22 5h1v2H22zM21 7h1v2H21zM21 9h1v2H21zM20 11h2v2H20zM19 13h2v2H19zM19 15h2v2H19zM18 17h2v2H18zM18 19h1v2H18zM17 21h2v2H17zM16 23h2v2H16zM16 25h2v2H16zM15 27h2v2H15zM14 29h2v2H14zM14 31h2v2H14zM13 33h2v2H13zM13 35h1v2H13zM12 37h2v2H12zM11 39h2v2H11zM10 41h2v2H10zM9 43h2v2H9zM8 45h2v2H8zM7 47h2v2H7zM5 49h3v2H5zM4 51h2v2H4zM2 53h2v2H2zM0 55h2v2H0z"/>
<path fill="#3783ba" d="M23 0h1v1H23zM23 1h1v2H23zM23 3h1v2H23zM23 5h1v2H23zM22 7h2v2H22zM22 9h1v2H22zM22 11h1v2H22zM21 13h1v2H21zM21 15h1v2H21zM20 17h1v2H20zM19 19h2v2H19zM19 21h1v2H19zM18 23h2v2H18zM18 25h1v2H18zM17 27h2v2H17zM16 29h2v2H16zM16 31h2v2H16zM15 33h2v2H15zM14 35h2v2H14zM14 37h2v2H14zM13 39h2v2H13zM12 41h2v2H12zM11 43h2v2H11zM10 45h2v2H10zM9 47h2v2H9zM8 49h2v2H8zM6 51h2v2H6zM4 53h3v2H4zM2 55h2v2H2zM0 57h2v2H0z"/>
<path fill="#3985bb" d="M24 0h1v1H24zM24 1h1v2H24zM24 3h1v2H24zM24 5h1v2H24zM23 9h1v2H23zM23 11h1v2H23zM22 13h1v2H22zM22 15h1v2H22zM21 17h2v2H21zM21 19h1v2H21zM20 21h2v2H20zM20 23h1v2H20zM19 25h2v2H19zM19 27h1v2H19zM18 29h2v2H18zM18 31h1v2H18zM17 33h1v2H17zM16 35h2v2H16zM16 37h1v2H16zM15 39h1v2H15zM14 41h2v2H14zM13 43h2v2H13zM12 45h2v2H12zM11 47h2v2H11zM10 49h2v2H10zM8 51h3v2H8zM7 53h2v2H7zM4 55h3v2H4zM2 57h3v2H2zM0 59h2v2H0z"/>
<path fill="#3b86bc" d="M25 0h1v1H25zM25 1h1v2H25zM25 3h1v2H25zM24 7h1v2H24zM24 9h1v2H24zM24 11h1v2H24zM23 13h1v2H23zM23 15h1v2H23zM23 17h1v2H23zM22 19h1v2H22zM22 21h1v2H22zM21 23h1v2H21zM21 25h1v2H21zM20 27h1v2H20zM20 29h1v2H20zM19 31h1v2H19zM18 33h2v2H18zM18 35h1v2H18zM17 37h2v2H17zM16 39h2v2H16zM16 41h1v2H16zM15 43h2v2H15zM14 45h2v2H14zM13 47h2v2H13zM12 49h2v2H12zM11 51h2v2H11zM9 53h2v2H9zM7 55h3v2H7zM5 57h2v2H5zM2 59h3v2H2zM0 61h2v2H0z"/>
<path fill="#3d87bd" d="M25 5h1v2H25zM25 7h1v2H25zM25 9h1v2H25zM24 13h1v2H24zM24 15h1v2H24zM24 17h1v2H24zM23 19h1v2H23zM23 21h1v2H23zM22 23h1v2H22zM22 25h1v2H22zM21 27h2v2H21zM21 29h1v2H21zM20 31h2v2H20zM20 33h1v2H20zM19 35h2v2H19zM19 37h1v2H19zM18 39h1v2H18zM17 41h2v2H17zM17 43h1v2H17zM16 45h1v2H16zM15 47h1v2H15zM14 49h2v2H14zM13 51h2v2H13zM11 53h2v2H11zM10 55h2v2H10zM7 57h3v2H7zM5 59h3v2H5zM2 61h2v2H2zM0 63h1v2H0z"/>
<path fill="#3f89be" d="M26 0h1v1H26zM26 1h1v2H26zM26 3h1v2H26zM26 5h1v2H26zM26 7h1v2H26zM25 11h1v2H25zM25 13h1v2H25zM25 15h1v2H25zM24 19h1v2H24zM24 21h1v2H24zM23 23h1v2H23zM23 25h1v2H23zM23 27h1v2H23zM22 29h1v2H22zM22 31h1v2H22zM21 33h1v2H21zM21 35h1v2H21zM20 37h1v2H20zM19 39h2v2H19zM19 41h1v2H19zM18 43h1v2H18zM17 45h2v2H17zM16 47h2v2H16zM16 49h1v2H16zM15 51h1v2H15zM13 53h2v2H13zM12 55h2v2H12zM10 57h2v2H10zM8 59h2v2H8zM4 61h4v2H4zM1 63h3v2H1zM0 65h1v2H0z"/>
<path fill="#418abe" d="M26 9h1v2H26zM26 11h1v2H26zM26 13h1v2H26zM25 17h1v2H25zM25 19h1v2H25zM24 23h1v2H24zM24 25h1v2H24zM24 27h1v2H24zM23 29h1v2H23zM23 31h1v2H23zM22 33h1v2H22zM22 35h1v2H22zM21 37h1v2H21zM21 39h1v2H21zM20 41h1v2H20zM19 43h2v2H19zM19 45h1v2H19zM18 47h1v2H18zM17 49h2v2H17zM16 51h2v2H16zM15 53h2v2H15zM14 55h2v2H14zM12 57h2v2H12zM10 59h3v2H10zM8 61h3v2H8zM4 63h3v2H4zM1 65h2v2H1z"/>
<path fill="#438cbf" d="M27 0h1v1H27zM27 1h1v2H27zM27 3h1v2H27zM27 5h1v2H27zM27 7h1v2H27zM27 9h1v2H27zM26 15h1v2H26zM26 17h1v2H26zM25 21h1v2H25zM25 23h1v2H25zM25 25h1v2H25zM24 29h1v2H24zM24 31h1v2H24zM23 33h1v2H23zM23 35h1v2H23zM22 37h2v2H22zM22 39h1v2H22zM21 41h1v2H21zM21 43h1v2H21zM20 45h1v2H20zM19 47h2v2H19zM19 49h1v2H19zM18 51h1v2H18zM17 53h1v2H17zM16 55h1v2H16zM14 57h2v2H14zM13 59h2v2H13zM11 61h2v2H11zM7 63h4v2H7zM3 65h4v2H3zM0 67h2v2H0z"/>
<path fill="#458dc0" d="M27 11h1v2H27zM27 13h1v2H27zM27 15h1v2H27zM26 19h1v2H26zM26 21h1v2H26zM26 23h1v2H26zM25 27h1v2H25zM25 29h1v2H25zM25 31h1v2H25zM24 33h1v2H24zM24 35h1v2H24zM24 37h1v2H24zM23 39h1v2H23zM22 41h2v2H22zM22 43h1v2H22zM21 45h1v2H21zM21 47h1v2H21zM20 49h1v2H20zM19 51h1v2H19zM18 53h2v2H18zM17 55h2v2H17zM16 57h2v2H16zM15 59h2v2H15zM13 61h2v2H13zM11 63h3v2H11zM7 65h4v2H7zM2 67h3v2H2zM0 69h1v2H0z"/>
<path fill="#478fc1" d="M28 0h1v1H28zM28 1h1v2H28zM28 3h1v2H28zM28 5h1v2H28zM28 7h1v2H28zM28 9h1v2H28zM27 17h1v2H27zM27 19h1v2H27zM27 21h1v2H27zM26 25h1v2H26zM26 27h1v2H26zM26 29h1v2H26zM25 33h1v2H25zM25 35h1v2H25zM25 37h1v2H25zM24 39h1v2H24zM24 41h1v2H24zM23 43h1v2H23zM22 45h2v2H22zM22 47h1v2H22zM21 49h1v2H21zM20 51h2v2H20zM20 53h1v2H20zM19 55h1v2H19zM18 57h1v2H18zM17 59h1v2H17zM15 61h2v2H15zM14 63h2v2H14zM11 65h3v2H11zM5 67h6v2H5zM1 69h3v2H1z"/>
<path fill="#4990c2" d="M28 11h1v2H28zM28 13h1v2H28zM28 15h1v2H28zM27 23h1v2H27zM27 25h1v2H27zM27 27h1v2H27zM26 31h1v2H26zM26 33h1v2H26zM26 35h1v2H26zM25 39h1v2H25zM25 41h1v2H25zM24 43h1v2H24zM24 45h1v2H24zM23 47h1v2H23zM22 49h2v2H22zM22 51h1v2H22zM21 53h1v2H21zM20 55h1v2H20zM19 57h2v2H19zM18 59h2v2H18zM17 61h2v2H17zM16 63h2v2H16zM14 65h2v2H14zM11 67h3v2H11zM4 69h6v2H4zM0 71h2v2H0zM44 93h3v1H44z"/>
<path fill="#4b92c2" d="M29 0h1v1H29zM29 1h1v2H29zM29 3h1v2H29zM29 5h1v2H29zM29 7h1v2H29zM28 17h1v2H28zM28 19h1v2H28zM28 21h1v2H28zM28 23h1v2H28zM27 29h1v2H27zM27 31h1v2H27zM27 33h1v2H27zM27 35h1v2H27zM26 37h1v2H26zM26 39h1v2H26zM26 41h1v2H26zM25 43h1v2H25zM25 45h1v2H25zM24 47h1v2H24zM24 49h1v2H24zM23 51h1v2H23zM22 53h1v2H22zM21 55h2v2H21zM21 57h1v2H21zM20 59h1v2H20zM19 61h1v2H19zM18 63h1v2H18zM16 65h2v2H16zM14 67h2v2H14zM10 69h4v2H10zM2 71h6v2H2zM0 73h1v2H0zM40 93h4v1H40z"/>
<path fill="#4d93c3" d="M29 9h1v2H29zM29 11h1v2H29zM29 13h1v2H29zM28 25h1v2H28zM28 27h1v2H28zM28 29h1v2H28zM28 31h1v2H28zM28 33h1v2H28zM27 37h1v2H27zM27 39h1v2H27zM27 41h1v2H27zM26 43h1v2H26zM26 45h1v2H26zM25 47h1v2H25zM25 49h1v2H25zM24 51h1v2H24zM23 53h2v2H23zM23 55h1v2H23zM22 57h1v2H22zM21 59h2v2H21zM20 61h2v2H20zM19 63h2v2H19zM18 65h2v2H18zM16 67h2v2H16zM14 69h3v2H14zM8 71h6v2H8zM1 73h2v2H1zM42 91h5v2H42zM37 93h3v1H37z"/>
<path fill="#4f95c4" d="M29 15h1v2H29zM29 17h1v2H29zM29 19h1v2H29zM29 21h1v2H29zM29 23h1v2H29zM29 25h1v2H29zM29 27h1v2H29zM28 35h1v2H28zM28 37h1v2H28zM28 39h1v2H28zM27 43h1v2H27zM27 45h1v2H27zM26 47h1v2H26zM26 49h1v2H26zM25 51h1v2H25zM25 53h1v2H25zM24 55h1v2H24zM23 57h2v2H23zM23 59h1v2H23zM22 61h1v2H22zM21 63h1v2H21zM20 65h1v2H20zM18 67h2v2H18zM17 69h2v2H17zM14 71h3v2H14zM3 73h11v2H3zM0 75h1v2H0zM38 91h4v2H38zM35 93h2v1H35z"/>
<path fill="#5196c5" d="M30 0h1v1H30zM30 1h1v2H30zM30 3h1v2H30zM30 5h1v2H30zM30 7h1v2H30zM30 9h1v2H30zM29 29h1v2H29zM29 31h1v2H29zM29 33h1v2H29zM29 35h1v2H29zM29 37h1v2H29zM29 39h1v2H29zM28 41h1v2H28zM28 43h1v2H28zM28 45h1v2H28zM27 47h1v2H27zM27 49h1v2H27zM26 51h1v2H26zM26 53h1v2H26zM25 55h1v2H25zM25 57h1v2H25zM24 59h1v2H24zM23 61h2v2H23zM22 63h2v2H22zM21 65h2v2H21zM20 67h2v2H20zM19 69h2v2H19zM17 71h2v2H17zM14 73h3v2H14zM1 75h4v2H1zM7 75h6v2H7zM39 89h7v2H39zM35 91h3v2H35zM33 93h2v1H33z"/>
<path fill="#5398c6" d="M30 11h1v2H30zM30 13h1v2H30zM30 15h1v2H30zM30 17h1v2H30zM30 19h1v2H30zM30 21h1v2H30zM30 23h1v2H30zM30 25h1v2H30zM30 27h1v2H30zM30 29h1v2H30zM30 31h1v2H30zM30 33h1v2H30zM29 41h1v2H29zM29 43h1v2H29zM29 45h1v2H29zM28 47h1v2H28zM28 49h1v2H28zM27 51h2v2H27zM27 53h1v2H27zM26 55h2v2H26zM26 57h1v2H26zM25 59h2v2H25zM25 61h1v2H25zM24 63h1v2H24zM23 65h2v2H23zM22 67h2v2H22zM21 69h2v2H21zM19 71h3v2H19zM17 73h3v2H17zM5 75h2v2H5zM13 75h5v2H13zM0 77h1v2H0zM38 87h7v2H38zM36 89h3v2H36zM46 89h1v2H46zM33 91h2v2H33zM31 93h2v1H31z"/>
<path fill="#5599c6" d="M30 35h1v2H30zM30 37h1v2H30zM30 39h1v2H30zM30 41h1v2H30zM30 43h1v2H30zM30 45h1v2H30zM29 47h1v2H29zM29 49h1v2H29zM29 51h1v2H29zM28 53h1v2H28zM28 55h1v2H28zM27 57h2v2H27zM27 59h1v2H27zM26 61h1v2H26zM25 63h2v2H25zM25 65h1v2H25zM24 67h1v2H24zM23 69h2v2H23zM22 71h2v2H22zM20 73h2v2H20zM18 75h3v2H18zM1 77h17v2H1zM38 85h7v2H38zM35 87h3v2H35zM45 87h2v2H45zM33 89h3v2H33zM31 91h2v2H31zM29 93h2v1H29z"/>
<path fill="#579bc7" d="M31 1h1v2H31zM31 3h1v2H31zM31 5h1v2H31zM31 7h1v2H31zM31 23h1v2H31zM31 25h1v2H31zM31 27h1v2H31zM31 29h1v2H31zM31 31h1v2H31zM31 33h1v2H31zM31 35h1v2H31zM31 37h1v2H31zM31 39h1v2H31zM31 41h1v2H31zM31 43h1v2H31zM30 47h1v2H30zM30 49h1v2H30zM30 51h1v2H30zM29 53h2v2H29zM29 55h1v2H29zM29 57h1v2H29zM28 59h2v2H28zM27 61h2v2H27zM27 63h2v2H27zM26 65h2v2H26zM25 67h2v2H25zM25 69h2v2H25zM24 71h2v2H24zM22 73h3v2H22zM21 75h2v2H21zM18 77h4v2H18zM12 79h5v2H12zM40 81h2v2H40zM37 83h8v2H37zM35 85h3v2H35zM45 85h1v2H45zM33 87h2v2H33zM31 89h2v2H31zM29 91h2v2H29zM28 93h1v1H28z"/>
<path fill="#599cc8" d="M31 0h1v1H31zM31 9h1v2H31zM31 11h1v2H31zM31 13h1v2H31zM31 15h1v2H31zM31 17h1v2H31zM31 19h1v2H31zM31 21h1v2H31zM31 45h1v2H31zM31 47h1v2H31zM31 49h1v2H31zM31 51h1v2H31zM31 53h1v2H31zM30 55h2v2H30zM30 57h1v2H30zM30 59h1v2H30zM29 61h2v2H29zM29 63h1v2H29zM28 65h2v2H28zM27 67h2v2H27zM27 69h2v2H27zM26 71h2v2H26zM25 73h2v2H25zM23 75h3v2H23zM22 77h3v2H22zM0 79h3v2H0zM6 79h6v2H6zM17 79h6v2H17zM37 79h6v2H37zM35 81h5v2H35zM42 81h3v2H42zM33 83h4v2H33zM45 83h1v2H45zM31 85h4v2H31zM46 85h1v2H46zM30 87h3v2H30zM28 89h3v2H28zM28 91h1v2H28zM27 93h1v1H27z"/>
<path fill="#5b9ec9" d="M32 29h1v2H32zM32 31h1v2H32zM32 33h1v2H32zM32 35h1v2H32zM32 37h1v2H32zM32 39h1v2H32zM32 41h1v2H32zM32 43h1v2H32zM32 45h1v2H32zM32 47h1v2H32zM32 49h1v2H32zM32 51h1v2H32zM32 53h1v2H32zM32 55h1v2H32zM31 57h2v2H31zM31 59h2v2H31zM31 61h2v2H31zM30 63h3v2H30zM30 65h2v2H30zM29 67h3v2H29zM29 69h3v2H29zM28 71h4v2H28zM27 73h5v2H27zM26 75h7v2H26zM34 75h7v2H34zM25 77h19v2H25zM3 79h3v2H3zM23 79h14v2H23zM43 79h2v2H43zM11 81h24v2H11zM45 81h1v2H45zM25 83h8v2H25zM46 83h1v2H46zM26 85h5v2H26zM26 87h4v2H26zM26 89h2v2H26zM26 91h2v2H26zM26 93h1v1H26z"/>
<path fill="#5d9fca" d="M32 19h1v2H32zM32 21h1v2H32zM32 23h1v2H32zM32 25h1v2H32zM32 27h1v2H32zM33 41h1v2H33zM33 43h1v2H33zM33 45h1v2H33zM33 47h1v2H33zM33 49h1v2H33zM33 51h1v2H33zM33 53h1v2H33zM33 55h1v2H33zM33 57h1v2H33zM33 59h1v2H33zM33 61h2v2H33zM33 63h2v2H33zM32 65h3v2H32zM32 67h4v2H32zM32 69h6v2H32zM32 71h8v2H32zM32 73h11v2H32zM33 75h1v2H33zM41 75h4v2H41zM44 77h2v2H44zM45 79h1v2H45zM0 81h1v2H0zM7 81h4v2H7zM46 81h1v2H46zM15 83h10v2H15zM21 85h5v2H21zM24 87h2v2H24zM24 89h2v2H24zM25 91h1v2H25zM25 93h1v1H25z"/>
<path fill="#5fa0ca" d="M32 0h1v1H32zM32 1h1v2H32zM32 3h1v2H32zM32 5h1v2H32zM32 7h1v2H32zM32 9h1v2H32zM32 11h1v2H32zM32 13h1v2H32zM32 15h1v2H32zM32 17h1v2H32zM33 31h1v2H33zM33 33h1v2H33zM33 35h1v2H33zM33 37h1v2H33zM33 39h1v2H33zM34 49h1v2H34zM34 51h1v2H34zM34 53h1v2H34zM34 55h1v2H34zM34 57h2v2H34zM34 59h2v2H34zM35 61h2v2H35zM35 63h2v2H35zM35 65h3v2H35zM36 67h4v2H36zM38 69h3v2H38zM40 71h4v2H40zM43 73h3v2H43zM45 75h2v2H45zM46 77h1v2H46zM46 79h1v2H46zM1 81h6v2H1zM11 83h4v2H11zM18 85h3v2H18zM21 87h3v2H21zM23 89h1v2H23zM24 91h1v2H24zM24 93h1v1H24z"/>
<path fill="#61a2cb" d="M33 25h1v2H33zM33 27h1v2H33zM33 29h1v2H33zM34 41h1v2H34zM34 43h1v2H34zM34 45h1v2H34zM34 47h1v2H34zM35 51h1v2H35zM35 53h1v2H35zM35 55h1v2H35zM36 57h1v2H36zM36 59h1v2H36zM37 61h1v2H37zM37 63h2v2H37zM38 65h2v2H38zM40 67h2v2H40zM41 69h6v2H41zM44 71h3v2H44zM46 73h1v2H46zM9 83h2v2H9zM15 85h3v2H15zM19 87h2v2H19zM21 89h2v2H21zM22 91h2v2H22zM23 93h1v1H23z"/>
<path fill="#63a3cc" d="M33 21h1v2H33zM33 23h1v2H33zM34 35h1v2H34zM34 37h1v2H34zM34 39h1v2H34zM35 45h1v2H35zM35 47h1v2H35zM35 49h1v2H35zM36 53h1v2H36zM36 55h1v2H36zM37 57h1v2H37zM37 59h2v2H37zM38 61h2v2H38zM39 63h2v2H39zM40 65h2v2H40zM46 65h1v2H46zM42 67h5v2H42zM0 83h1v2H0zM6 83h3v2H6zM13 85h2v2H13zM17 87h2v2H17zM20 89h1v2H20zM21 91h1v2H21zM22 93h1v1H22z"/>
<path fill="#65a5cd" d="M33 15h1v2H33zM33 17h1v2H33zM33 19h1v2H33zM34 29h1v2H34zM34 31h1v2H34zM34 33h1v2H34zM35 41h1v2H35zM35 43h1v2H35zM36 49h1v2H36zM36 51h1v2H36zM37 53h1v2H37zM37 55h1v2H37zM38 57h1v2H38zM39 59h1v2H39zM40 61h1v2H40zM41 63h1v2H41zM42 65h4v2H42zM1 83h5v2H1zM11 85h2v2H11zM16 87h1v2H16zM19 89h1v2H19z"/>
<path fill="#67a6ce" d="M33 5h1v2H33zM33 7h1v2H33zM33 9h1v2H33zM33 11h1v2H33zM33 13h1v2H33zM34 27h1v2H34zM35 37h1v2H35zM35 39h1v2H35zM36 45h1v2H36zM36 47h1v2H36zM37 51h1v2H37zM38 53h1v2H38zM38 55h1v2H38zM39 57h1v2H39zM40 59h1v2H40zM41 61h1v2H41zM42 63h2v2H42zM45 63h2v2H45zM9 85h2v2H9zM14 87h2v2H14zM17 89h2v2H17zM20 91h1v2H20zM21 93h1v1H21z"/>
<path fill="#69a8ce" d="M33 0h1v1H33zM33 1h1v2H33zM33 3h1v2H33zM34 23h1v2H34zM34 25h1v2H34zM35 33h1v2H35zM35 35h1v2H35zM36 41h1v2H36zM36 43h1v2H36zM37 47h1v2H37zM37 49h1v2H37zM38 51h1v2H38zM39 55h1v2H39zM40 57h1v2H40zM41 59h1v2H41zM42 61h1v2H42zM46 61h1v2H46zM44 63h1v2H44zM0 85h1v2H0zM7 85h2v2H7zM13 87h1v2H13zM16 89h1v2H16zM19 91h1v2H19zM20 93h1v1H20z"/>
<path fill="#6ba9cf" d="M34 19h1v2H34zM34 21h1v2H34zM35 31h1v2H35zM36 39h1v2H36zM37 45h1v2H37zM38 49h1v2H38zM39 53h1v2H39zM40 55h1v2H40zM41 57h1v2H41zM42 59h1v2H42zM43 61h3v2H43zM1 85h1v2H1zM5 85h2v2H5zM11 87h2v2H11zM15 89h1v2H15zM18 91h1v2H18z"/>
<path fill="#6cabd0" d="M34 15h1v2H34zM34 17h1v2H34zM35 27h1v2H35zM35 29h1v2H35zM36 37h1v2H36zM37 43h1v2H37zM38 47h1v2H38zM39 51h1v2H39zM40 53h1v2H40zM43 59h1v2H43zM46 59h1v2H46zM2 85h3v2H2zM10 87h1v2H10zM14 89h1v2H14zM17 91h1v2H17zM19 93h1v1H19z"/>
<path fill="#6eacd1" d="M34 11h1v2H34zM34 13h1v2H34zM35 25h1v2H35zM36 33h1v2H36zM36 35h1v2H36zM37 41h1v2H37zM38 45h1v2H38zM39 49h1v2H39zM41 55h1v2H41zM42 57h1v2H42zM44 59h2v2H44zM9 87h1v2H9zM13 89h1v2H13z"/>
<path fill="#70aed1" d="M34 7h1v2H34zM34 9h1v2H34zM35 21h1v2H35zM35 23h1v2H35zM36 31h1v2H36zM37 39h1v2H37zM38 43h1v2H38zM39 47h1v2H39zM40 51h1v2H40zM41 53h1v2H41zM42 55h1v2H42zM43 57h2v2H43zM46 57h1v2H46zM0 87h1v2H0zM7 87h2v2H7zM12 89h1v2H12zM16 91h1v2H16zM18 93h1v1H18z"/>
<path fill="#72afd2" d="M34 1h1v2H34zM34 3h1v2H34zM34 5h1v2H34zM35 19h1v2H35zM36 29h1v2H36zM37 37h1v2H37zM40 49h1v2H40zM45 57h1v2H45zM1 87h1v2H1zM6 87h1v2H6zM15 91h1v2H15zM17 93h1v1H17z"/>
<path fill="#74b1d3" d="M34 0h1v1H34zM35 17h1v2H35zM36 27h1v2H36zM37 35h1v2H37zM38 41h1v2H38zM39 45h1v2H39zM41 51h1v2H41zM42 53h1v2H42zM43 55h1v2H43zM2 87h4v2H2zM11 89h1v2H11zM14 91h1v2H14z"/>
<path fill="#76b2d4" d="M35 15h1v2H35zM36 25h1v2H36zM37 33h1v2H37zM38 39h1v2H38zM39 43h1v2H39zM40 47h1v2H40zM44 55h3v2H44zM10 89h1v2H10zM16 93h1v1H16z"/>
<path fill="#78b4d5" d="M35 11h1v2H35zM35 13h1v2H35zM36 23h1v2H36zM37 31h1v2H37zM38 37h1v2H38zM41 49h1v2H41zM42 51h1v2H42zM43 53h1v2H43zM9 89h1v2H9zM13 91h1v2H13z"/>
<path fill="#7ab5d5" d="M35 9h1v2H35zM36 21h1v2H36zM37 29h1v2H37zM38 35h1v2H38zM39 41h1v2H39zM40 45h1v2H40zM44 53h1v2H44zM0 89h1v2H0zM8 89h1v2H8z"/>
<path fill="#7cb6d6" d="M35 5h1v2H35zM35 7h1v2H35zM36 19h1v2H36zM37 27h1v2H37zM39 39h1v2H39zM40 43h1v2H40zM41 47h1v2H41zM42 49h1v2H42zM43 51h1v2H43zM45 53h2v2H45zM1 89h1v2H1zM7 89h1v2H7zM12 91h1v2H12zM15 93h1v1H15z"/>
<path fill="#7eb8d7" d="M35 3h1v2H35zM36 17h1v2H36zM37 25h1v2H37zM38 33h1v2H38zM5 89h2v2H5zM11 91h1v2H11z"/>
<path fill="#80b9d8" d="M35 0h1v1H35zM35 1h1v2H35zM36 15h1v2H36zM38 31h1v2H38zM39 37h1v2H39zM40 41h1v2H40zM41 45h1v2H41zM44 51h1v2H44zM2 89h3v2H2zM14 93h1v1H14z"/>
<path fill="#82bbd9" d="M36 13h1v2H36zM37 23h1v2H37zM38 29h1v2H38zM39 35h1v2H39zM42 47h1v2H42zM43 49h1v2H43zM45 51h1v2H45zM10 91h1v2H10z"/>
<path fill="#84bcd9" d="M36 11h1v2H36zM37 21h1v2H37zM40 39h1v2H40zM41 43h1v2H41zM46 51h1v2H46zM0 91h1v2H0zM9 91h1v2H9zM13 93h1v1H13z"/>
<path fill="#86beda" d="M36 9h1v2H36zM37 19h1v2H37zM38 27h1v2H38zM39 33h1v2H39zM42 45h1v2H42zM44 49h1v2H44zM8 91h1v2H8z"/>
<path fill="#88bfdb" d="M36 7h1v2H36zM38 25h1v2H38zM40 37h1v2H40zM41 41h1v2H41zM43 47h1v2H43zM12 93h1v1H12z"/>
<path fill="#8ac1dc" d="M36 5h1v2H36zM37 17h1v2H37zM39 31h1v2H39zM45 49h1v2H45zM1 91h1v2H1zM7 91h1v2H7z"/>
<path fill="#8cc2dd" d="M36 3h1v2H36zM37 15h1v2H37zM38 23h1v2H38zM39 29h1v2H39zM40 35h1v2H40zM42 43h1v2H42zM46 49h1v2H46zM6 91h1v2H6zM11 93h1v1H11z"/>
<path fill="#8ec4dd" d="M36 1h1v2H36zM37 13h1v2H37zM41 39h1v2H41zM43 45h1v2H43zM44 47h1v2H44zM2 91h4v2H2z"/>
<path fill="#90c5de" d="M36 0h1v1H36zM38 21h1v2H38zM39 27h1v2H39zM40 33h1v2H40z"/>
<path fill="#92c7df" d="M37 11h1v2H37zM38 19h1v2H38zM41 37h1v2H41zM42 41h1v2H42zM45 47h1v2H45zM0 93h1v1H0zM10 93h1v1H10z"/>
<path fill="#94c8e0" d="M37 9h1v2H37zM39 25h1v2H39zM40 31h1v2H40zM43 43h1v2H43zM44 45h1v2H44z"/>
<path fill="#96cae1" d="M38 17h1v2H38zM41 35h1v2H41zM46 47h1v2H46zM9 93h1v1H9z"/>
<path fill="#98cbe1" d="M37 7h1v2H37zM39 23h1v2H39zM40 29h1v2H40zM42 39h1v2H42z"/>
<path fill="#9acde2" d="M37 5h1v2H37zM38 15h1v2H38zM43 41h1v2H43zM1 93h1v1H1zM8 93h1v1H8z"/>
<path fill="#9ccee3" d="M39 21h1v2H39zM41 33h1v2H41zM42 37h1v2H42zM44 43h1v2H44zM45 45h1v2H45zM7 93h1v1H7z"/>
<path fill="#9ecfe4" d="M37 3h1v2H37zM38 13h1v2H38zM40 27h1v2H40z"/>
<path fill="#a0d1e5" d="M37 1h1v2H37zM39 19h1v2H39zM41 31h1v2H41zM2 93h1v1H2zM6 93h1v1H6z"/>
<path fill="#a2d2e5" d="M38 11h1v2H38zM40 25h1v2H40zM42 35h1v2H42zM43 39h1v2H43zM46 45h1v2H46zM3 93h1v1H3zM5 93h1v1H5z"/>
<path fill="#a4d4e6" d="M37 0h1v1H37zM39 17h1v2H39zM44 41h1v2H44zM45 43h1v2H45zM4 93h1v1H4z"/>
<path fill="#a6d5e7" d="M38 9h1v2H38zM40 23h1v2H40zM41 29h1v2H41z"/>
<path fill="#a8d7e8" d="M42 33h1v2H42zM43 37h1v2H43z"/>
<path fill="#aad8e9" d="M38 7h1v2H38zM39 15h1v2H39z"/>
<path fill="#acd9e9" d="M40 21h1v2H40zM41 27h1v2H41zM46 43h1v2H46z"/>
<path fill="#addae8" d="M38 5h1v2H38zM39 13h1v2H39zM44 39h1v2H44zM45 41h1v2H45z"/>
<path fill="#aedae7" d="M40 19h1v2H40zM42 31h1v2H42zM43 35h1v2H43z"/>
<path fill="#b0dbe7" d="M38 3h1v2H38zM41 25h1v2H41z"/>
<path fill="#b1dce6" d="M39 11h1v2H39z"/>
<path fill="#b2dce5" d="M38 1h1v2H38zM40 17h1v2H40zM42 29h1v2H42zM44 37h1v2H44z"/>
<path fill="#b4dde5" d="M41 23h1v2H41zM43 33h1v2H43zM46 41h1v2H46z"/>
<path fill="#b5dde4" d="M38 0h1v1H38zM39 9h1v2H39zM45 39h1v2H45z"/>
<path fill="#b6dee3" d="M40 15h1v2H40zM42 27h1v2H42z"/>
<path fill="#b7dfe3" d="M39 7h1v2H39zM41 21h1v2H41zM43 31h1v2H43zM44 35h1v2H44z"/>
<path fill="#bae0e1" d="M40 13h1v2H40z"/>
<path fill="#bbe0e1" d="M39 5h1v2H39zM41 19h1v2H41zM42 25h1v2H42zM45 37h1v2H45zM46 39h1v2H46z"/>
<path fill="#bde1e0" d="M43 29h1v2H43zM44 33h1v2H44z"/>
<path fill="#bfe2df" d="M39 3h1v2H39zM40 11h1v2H40zM42 23h1v2H42z"/>
<path fill="#c1e3de" d="M41 17h1v2H41z"/>
<path fill="#c2e3de" d="M43 27h1v2H43zM45 35h1v2H45z"/>
<path fill="#c3e4dd" d="M39 1h1v2H39zM40 9h1v2H40zM44 31h1v2H44zM46 37h1v2H46z"/>
<path fill="#c5e5dc" d="M41 15h1v2H41zM42 21h1v2H42z"/>
<path fill="#c7e6db" d="M39 0h1v1H39zM43 25h1v2H43z"/>
<path fill="#c9e6da" d="M40 7h1v2H40zM44 29h1v2H44zM45 33h1v2H45z"/>
<path fill="#cae7da" d="M41 13h1v2H41zM42 19h1v2H42z"/>
<path fill="#cbe8d9" d="M46 35h1v2H46z"/>
<path fill="#cee9d8" d="M40 5h1v2H40zM43 23h1v2H43z"/>
<path fill="#cfe9d7" d="M42 17h1v2H42zM44 27h1v2H44zM45 31h1v2H45z"/>
<path fill="#d0ead6" d="M41 11h1v2H41z"/>
<path fill="#d3ebd5" d="M40 3h1v2H40zM43 21h1v2H43zM46 33h1v2H46z"/>
<path fill="#d6ecd4" d="M41 9h1v2H41zM42 15h1v2H42zM44 25h1v2H44zM45 29h1v2H45z"/>
<path fill="#d7edd3" d="M40 1h1v2H40z"/>
<path fill="#daeed2" d="M43 19h1v2H43z"/>
<path fill="#dbefd1" d="M46 31h1v2H46z"/>
<path fill="#dcefd0" d="M40 0h1v1H40zM41 7h1v2H41zM42 13h1v2H42zM44 23h1v2H44z"/>
<path fill="#def0d0" d="M45 27h1v2H45z"/>
<path fill="#e1f2ce" d="M43 17h1v2H43z"/>
<path fill="#e3f2cd" d="M41 5h1v2H41zM46 29h1v2H46z"/>
<path fill="#e4f3cc" d="M42 11h1v2H42zM44 21h1v2H44z"/>
<path fill="#e5f3cc" d="M45 25h1v2H45z"/>
<path fill="#e9f5ca" d="M41 3h1v2H41zM43 15h1v2H43z"/>
<path fill="#ebf6c9" d="M42 9h1v2H42zM46 27h1v2H46z"/>
<path fill="#ecf6c9" d="M44 19h1v2H44z"/>
<path fill="#edf7c8" d="M45 23h1v2H45z"/>
<path fill="#eff8c7" d="M41 1h1v2H41z"/>
<path fill="#f1f9c6" d="M43 13h1v2H43z"/>
<path fill="#f3f9c5" d="M42 7h1v2H42z"/>
<path fill="#f4fac5" d="M46 25h1v2H46z"/>
<path fill="#f5fbc4" d="M41 0h1v1H41zM44 17h1v2H44z"/>
<path fill="#f6fbc3" d="M45 21h1v2H45z"/>
<path fill="#fafdc1" d="M43 11h1v2H43z"/>
<path fill="#fcfec1" d="M42 5h1v2H42z"/>
<path fill="#feffbf" d="M44 15h1v2H44zM46 23h1v2H46z"/>
<path fill="#fffebe" d="M45 19h1v2H45z"/>
<path fill="#fffbba" d="M42 3h1v2H42zM43 9h1v2H43z"/>
<path fill="#fff6b4" d="M44 13h1v2H44zM46 21h1v2H46z"/>
<path fill="#fff4b3" d="M45 17h1v2H45z"/>
<path fill="#fff3b1" d="M42 1h1v2H42z"/>
<path fill="#fff0ae" d="M43 7h1v2H43z"/>
<path fill="#ffedaa" d="M42 0h1v1H42z"/>
<path fill="#ffeba8" d="M44 11h1v2H44z"/>
<path fill="#feeaa7" d="M46 19h1v2H46z"/>
<path fill="#fee9a5" d="M45 15h1v2H45z"/>
<path fill="#fee8a4" d="M43 5h1v2H43z"/>
<path fill="#fee09b" d="M44 9h1v2H44z"/>
<path fill="#fedf9a" d="M46 17h1v2H46z"/>
<path fill="#fedd98" d="M43 3h1v2H43zM45 13h1v2H45z"/>
<path fill="#fed58e" d="M43 1h1v2H43zM44 7h1v2H44z"/>
<path fill="#fed189" d="M45 11h1v2H45zM46 15h1v2H46z"/>
<path fill="#fecc84" d="M43 0h1v1H43z"/>
<path fill="#fec87f" d="M44 5h1v2H44z"/>
<path fill="#fec379" d="M45 9h1v2H45zM46 13h1v2H46z"/>
<path fill="#fdbd72" d="M44 3h1v2H44z"/>
<path fill="#fdb468" d="M45 7h1v2H45zM46 11h1v2H46z"/>
<path fill="#fdb266" d="M44 1h1v2H44z"/>
<path fill="#faa45c" d="M44 0h1v1H44z"/>
<path fill="#f99f5a" d="M45 5h1v2H45z"/>
<path fill="#f89a58" d="M46 9h1v2H46z"/>
<path fill="#f3884f" d="M45 3h1v2H45z"/>
<path fill="#f07c4a" d="M46 7h1v2H46z"/>
<path fill="#ed7044" d="M45 1h1v2H45z"/>
<path fill="#e95e3c" d="M45 0h1v1H45zM46 5h1v2H46z"/>
<path fill="#e1422f" d="M46 3h1v2H46z"/>
<path fill="#db2a24" d="M46 1h1v2H46z"/>
<path fill="#d71a1d" d="M46 0h1v1H46z"/>
</g>
<g stroke="#111" stroke-width="1.05" fill="none">
<polyline points="541.3,281.6 540.7,280.7 540,279.7 539.2,278.6 538.3,277.6 537.4,276.6 536.5,275.7 535.5,274.9 534.6,274.1 533.5,273.2 532.2,272.3 531,271.4 530.1,270.9 529.1,270.3 527.6,269.5 526.4,268.9 525.5,268.4 523.7,267.6 522.8,267.2 521.5,266.7 520,266.1 519,265.7 517.3,265.1 516.3,264.8 514.5,264.2 513.4,263.9 511.8,263.4 510.1,262.9 509.1,262.6 507.2,262.2 506.3,261.9 504.5,261.5 502.7,261.1 501.7,260.8 499.9,260.4 498.6,260.1 497.2,259.8 495.4,259.4 494.1,259.2 492.6,258.9 490.8,258.5 489.5,258.3 488,258 486.2,257.6 484.7,257.3 483.5,257.1 481.7,256.8 479.8,256.4 478.9,256.2 477.1,255.9 475.3,255.6 474.3,255.4 472.5,255.1 470.7,254.8 469.2,254.5 468,254.3 466.1,254 464.3,253.7 463.4,253.5 461.6,253.3 459.7,253 457.9,252.7 457,252.6 455.2,252.3 453.3,252 451.5,251.8 450.6,251.6 448.8,251.4 446.9,251.2 445.1,250.9 443.9,250.8 442.4,250.6 440.6,250.4 438.7,250.3 436.9,250.1 435.1,250 433.2,249.9 431.4,249.9 429.6,249.9 427.8,249.9 426.9,249.9"/>
<polyline points="601.4,1.5 601.4,3.4 601.5,5.2 601.6,7.1 601.6,9 601.7,10.8 601.7,12.7 601.8,14.6 601.8,16.4 601.8,18.3 601.9,20.2 601.9,22 601.9,23.9 602,25.8 602,27.6 602,29.5 602.1,31.4 602.1,33.2 602.2,35.1 602.2,36.5 602.3,37.9 602.3,39.8 602.4,41.6 602.5,43.5 602.6,45.4 602.7,47.2 602.9,49.1 603,51 603.1,52.4 603.2,53.8 603.4,55.7 603.6,57.5 603.8,59.4 604,61.3 604.1,62.2 604.3,64.1 604.5,65.9 604.7,67.8 605,69.5 605.1,70.6 605.3,72.5 605.6,74.3 605.8,76.2 606,77.1 606.2,79 606.5,80.9 606.7,82.7 606.9,83.7 607.1,85.5 607.4,87.4 607.7,89.3 607.8,90.2 608.1,92.1 608.3,93.9 608.6,95.7 608.8,96.7 609,98.6 609.3,100.5 609.5,101.8 609.7,103.3 610,105.1 610.3,107 610.5,107.9 610.7,109.8 611,111.7 611.3,113.5 611.5,114.5 611.8,116.3 612.1,118.2 612.3,119.2 612.6,121 612.9,122.9 613.2,124.6 613.4,125.7 613.7,127.5 614,129.4 614.2,130.3 614.6,132.2 614.9,134.1 615.1,135 615.5,136.9 615.9,138.7 616.1,139.7 616.5,141.6 616.8,142.7 617.2,144.4 617.7,146.2 617.9,147.2 618.4,149 618.7,150 619.3,151.8 619.6,152.8 620.1,154.6 620.5,155.7 621.1,157.4 621.4,158.4 622.1,160.2 622.5,161.2 623.2,162.9 623.7,164 624.1,165 624.9,166.8 625.4,167.7 626,168.8 626.8,170.5 627.3,171.4 627.9,172.4 628.7,173.8 629.6,175.2 630.2,176.1 630.8,177 631.4,178 632.4,179.2 633.3,180.4 634.2,181.6 635,182.6 635.8,183.6 636.6,184.5 637.5,185.4 638.3,186.4 639.2,187.3 640.1,188.2 641.1,189.2 642.1,190.1 643.1,191 644.1,192 645.1,192.9 646.1,193.7 647,194.5 647.9,195.2 648.8,195.9 649.7,196.6 651,197.6 652.3,198.5 653.4,199.2 654.3,199.8 655.3,200.4 657,201.3 657.9,201.8 658.9,202.2 660.7,203 661.6,203.3 663.4,203.9 664.3,204.2 666.1,204.6 667.1,204.7"/>
<polyline points="629.3,1.5 629.6,3.4 629.7,4.3 629.9,6.2 630.2,8 630.5,9.9 630.6,10.8 630.9,12.7 631.3,14.6 631.4,15.6 631.7,17.4 632.1,19.2 632.4,20.6 632.6,22 633,23.9 633.3,25.2 633.6,26.7 634,28.6 634.2,29.5 634.6,31.4 635,33.2 635.3,34.2 635.7,36 636,37.3 636.4,38.8 636.9,40.7 637.1,41.6 637.6,43.5 637.8,44.5 638.3,46.3 638.7,48 639,49.1 639.5,51 639.8,51.9 640.3,53.8 640.6,54.7 641.1,56.6 641.5,58 641.9,59.4 642.4,61.2 642.7,62.2 643.2,64.1 643.5,65 644.1,66.9 644.3,67.8 644.9,69.7 645.2,70.6 645.8,72.5 646.1,73.4 646.6,75.3 647,76.3 647.5,78.1 647.9,79.1 648.5,80.9 648.8,81.9 649.4,83.7 649.7,84.6 650.4,86.5 650.7,87.4 651.4,89.3 651.7,90.2 652.4,92.1 652.7,93 653.4,94.7 653.8,95.8 654.3,97 654.9,98.6 655.3,99.5 656.1,101.4 656.5,102.3 657,103.6 657.7,105.1 658.1,106.1 658.8,107.6 659.4,108.9 659.9,109.8 660.7,111.4 661.3,112.6 661.8,113.5 662.5,114.9 663.3,116.3 663.9,117.3 664.4,118.2 665.2,119.5 666.1,120.9 666.8,121.9 667.5,122.9 668.2,123.8 668.9,124.7 669.8,125.9 670.7,127 671.2,127.5"/>
<polyline points="680.3,135 680.8,135.3"/>
<polyline points="644.1,1.5 644.3,2.4 644.6,4.3 645,6.2 645.2,7.1 645.6,9 646,10.8 646.3,11.8 646.7,13.6 647,14.7 647.4,16.4 647.9,18.3 648.1,19.2 648.6,21.1 648.9,22 649.4,23.9 649.7,25.1 650.2,26.7 650.6,28.2 651,29.5 651.5,31.3 651.8,32.3 652.4,34.2 652.7,35.1 653.3,37 653.6,37.9 654.2,39.8 654.5,40.7 655.2,42.6 655.5,43.5 656.1,45.4 656.4,46.3 657,48.1 657.4,49.1 657.9,50.7 658.4,51.9 658.8,53.3 659.3,54.7 659.8,55.8 660.4,57.5 660.7,58.5 661.4,60.3 661.8,61.3 662.5,63.1 662.8,64.1 663.4,65.6 663.9,66.9 664.3,67.9 665,69.7 665.4,70.6 666.1,72.3 666.6,73.4 667.1,74.5 667.8,76.2 668.2,77.1 668.9,78.6 669.1,79"/>
<polyline points="654.4,1.5 654.8,3.4 655.2,5.1 655.4,6.2 655.9,8 656.1,9 656.6,10.8 657,12.4 657.4,13.6 657.9,15.5 658.2,16.4 658.7,18.3 659,19.2 659.6,21.1 659.9,22 660.5,23.9 660.8,24.8 661.4,26.7 661.8,27.6 662.4,29.5 662.8,30.4 663.4,32.2 663.8,33.2 664.3,34.6 664.9,36 665.2,37 666,38.8 666.4,39.8 667.1,41.5 667.5,42.6 668,43.7 668.7,45.4 669.1,46.3 669.8,48.1 670.3,49.1 670.7,50.2 671.5,51.9 671.9,52.9 672.5,54.2 673.2,55.7 673.6,56.6 674.4,58.1 674.5,58.5"/>
<polyline points="662.6,1.5 663,3.4 663.4,4.9 663.7,6.2 664.2,8 664.5,9 665,10.8 665.3,11.8 665.8,13.6 666.1,14.6 666.7,16.4 667.1,17.5 667.7,19.2 668,20.2 668.7,22 669,23 669,23"/>
<polyline points="674.1,35.1 674.5,36 675.3,37.7 675.8,38.8 676.3,39.8 677.1,41.5 677.7,42.6 678.1,43.5 678.9,45.1 679.6,46.3 680.1,47.2 680.8,48.5 680.8,48.5"/>
<polyline points="669.8,1.5 670,2.4 670.4,4.3 670.7,5.3 671.2,7.1 671.6,8.7 672,9.9 672.5,11.7 672.9,12.7 673.5,14.4 673.8,15.5 674.4,17 674.8,18.3 675.3,19.4 675.9,21.1 676.3,22 677.1,23.9 677.5,24.8 678,26 678.8,27.6 679.2,28.6 679.8,29.8 680.6,31.4 680.8,31.7"/>
<polyline points="676.5,1.5 676.9,3.4 677.1,4.3 677.6,6.2 678,7.6 678.4,9 678.9,10.6 679.3,11.8 679.8,13.3 680.3,14.6 680.8,15.7 680.8,15.7"/>
</g>
<g font-size="13" text-anchor="middle"><text transform="translate(420 250.3) rotate(0)" dy="4.6">1</text><text transform="translate(674 207) rotate(-11.7)" dy="4.6">1</text><text transform="translate(674 133.7) rotate(39.8)" dy="4.6">2</text><text transform="translate(675.5 93) rotate(61.1)" dy="4.6">3</text><text transform="translate(677.5 65) rotate(61.8)" dy="4.6">4</text><text transform="translate(671 29) rotate(67.6)" dy="4.6">5</text></g>
<path d="M409.5 281.6V1.5H683.5" stroke="#333" stroke-width=".9" fill="none"/>
<path d="M424.3 282.2H657.3" stroke="#333" stroke-width=".9" fill="none"/>
<g stroke="#333" stroke-width=".9">
<line x1="424.3" y1="282.1" x2="424.3" y2="287.6"/>
<line x1="482.4" y1="282.1" x2="482.4" y2="287.6"/>
<line x1="541" y1="282.1" x2="541" y2="287.6"/>
<line x1="598.9" y1="282.1" x2="598.9" y2="287.6"/>
<line x1="657.3" y1="282.1" x2="657.3" y2="287.6"/>
<line x1="404.2" y1="281.4" x2="409.5" y2="281.4"/>
<line x1="404.2" y1="219.3" x2="409.5" y2="219.3"/>
<line x1="404.2" y1="157.3" x2="409.5" y2="157.3"/>
<line x1="404.2" y1="95.2" x2="409.5" y2="95.2"/>
<line x1="404.2" y1="33.2" x2="409.5" y2="33.2"/>
</g>
<g font-size="14" text-anchor="middle">
<text x="424.3" y="302.6">649</text>
<text x="482.4" y="302.6">791</text>
<text x="541" y="302.6">934</text>
<text x="598.9" y="302.6">1077</text>
<text x="657.3" y="302.6">1220</text>
<text transform="translate(397.2 281.4) rotate(-90)">0</text>
<text transform="translate(397.2 219.3) rotate(-90)">0.2</text>
<text transform="translate(397.2 157.3) rotate(-90)">0.4</text>
<text transform="translate(397.2 95.2) rotate(-90)">0.6</text>
<text transform="translate(397.2 33.2) rotate(-90)">0.8</text>
<text transform="translate(374.9 141.8) rotate(-90)">Disturbance</text>
</g>
<g stroke="#000" stroke-width="2" fill="none" stroke-linecap="round">
<line x1="47.6" y1="361.4" x2="194.8" y2="342.7"/>
<line x1="194.8" y1="342.7" x2="342.2" y2="361.2"/>
<line x1="47.6" y1="361.4" x2="77.2" y2="532"/>
<line x1="342.2" y1="361.2" x2="312.4" y2="531.9"/>
<line x1="77.2" y1="532" x2="194.8" y2="636.7"/>
<line x1="194.8" y1="636.7" x2="312.4" y2="531.9"/>
<line x1="312.4" y1="531.9" x2="303" y2="527.5"/>
</g>
<g stroke-width=".8" stroke-linejoin="round">
<path class="c0" d="M194.8 636.3l3.7-3.6-3.6-3.4-3.6 3.9zM198.5 632.7l3.6-3.6-3.6-3.6-3.6 3.8zM202.1 629.1l3.5-3.4-3.6-3.8-3.5 3.6zM205.6 625.7l3.5-3.4-3.6-3.9-3.5 3.5zM191.3 633.2l3.6-3.9-3.5-3.3-3.6 4.1zM194.9 629.3l3.6-3.8-3.5-3.4-3.6 3.9zM187.8 630.1l3.6-4.1-3.5-3.2-3.6 4.2zM191.4 626l3.6-3.9-3.5-3.3-3.6 4zM184.3 627l3.6-4.2-3.3-3.1-3.7 4.3zM187.9 622.8l3.6-4-3.4-3.2-3.5 4.1zM180.9 624l3.7-4.3-3.4-3-3.6 4.3zM177.6 621l3.6-4.3-3.3-2.9-3.6 4.3zM174.3 618.1l3.6-4.3-3.2-2.9-3.6 4.4zM171.1 615.3l3.6-4.4-3.1-2.8-3.6 4.3zM168 612.4l3.6-4.3-3.2-2.8-3.5 4.4zM164.9 609.7l3.5-4.4-3-2.7-3.6 4.4zM161.8 607l3.6-4.4-3-2.6-3.5 4.3zM158.9 604.3l3.5-4.3-3-2.6-3.5 4.3zM155.9 601.7l3.5-4.3-2.9-2.6-3.5 4.3zM153 599.1l3.5-4.3-2.8-2.5-3.5 4.3zM150.2 596.6l3.5-4.3-2.8-2.5-3.5 4.3zM147.4 594.1l3.5-4.3-2.8-2.4-3.5 4.3zM144.6 591.7l3.5-4.3-2.7-2.4-3.5 4.3zM141.9 589.3l3.5-4.3-2.7-2.3-3.4 4.2zM139.3 586.9l3.4-4.2-2.6-2.3-3.5 4.2zM136.6 584.6l3.5-4.2-2.6-2.2-3.4 4.1zM134.1 582.3l3.4-4.1-2.6-2.3-3.4 4.1zM131.5 580l3.4-4.1-2.5-2.1-3.4 4zM129 577.8l3.4-4-2.5-2.2-3.3 4zM126.6 575.6l3.3-4-2.4-2.1-3.4 4zM124.1 573.5l3.4-4-2.4-2.1-3.3 3.9zM121.8 571.3l3.3-3.9-2.4-2.1-3.3 4zM119.4 569.3l3.3-4-2.3-2-3.3 3.9zM117.1 567.2l3.3-3.9-2.3-2-3.3 3.9zM114.8 565.2l3.3-3.9-2.3-2-3.2 3.9zM112.6 563.2l3.2-3.9-2.2-1.9-3.3 3.8zM110.3 561.2l3.3-3.8-2.2-1.9-3.2 3.7zM108.2 559.2l3.2-3.7-2.2-1.9-3.2 3.7zM106 557.3l3.2-3.7-2.1-1.8-3.2 3.6zM103.9 555.4l3.2-3.6-2.1-1.9-3.2 3.7zM101.8 553.6l3.2-3.7-2.1-1.7-3.2 3.5zM99.7 551.7l3.2-3.5-2-1.8-3.2 3.6zM97.7 550l3.2-3.6-2-1.7-3.2 3.5zM95.7 548.2l3.2-3.5-2-1.7-3.1 3.5zM93.8 546.5l3.1-3.5-1.9-1.6-3.2 3.4zM91.8 544.8l3.2-3.4-2-1.6-3.1 3.3zM89.9 543.1l3.1-3.3-1.9-1.6-3.1 3.3zM88 541.5l3.1-3.3-1.8-1.5-3.2 3.1zM86.1 539.8l3.2-3.1-1.8-1.4-3.2 2.9zM84.3 538.2l3.2-2.9-1.8-1.4-3.2 2.7zM82.5 536.6l3.2-2.7-1.8-1.4-3.2 2.5zM85.7 533.9l3.1-2.7-1.8-1.2-3.1 2.5zM80.7 535l3.2-2.5-1.8-1.2-3.2 2zM83.9 532.5l3.1-2.5-1.7-.9-3.2 2.2zM78.9 533.3l3.2-2-1.7-1.2-3.3 1.5zM82.1 531.3l3.2-2.2-1.6-.9-3.3 1.9zM85.3 529.1l3.2-2.4-1.7-.6-3.1 2.1z"/>
<path class="c1" d="M209.1 622.3l3.4-3.3-3.6-4-3.4 3.4zM212.5 619l3.3-3.2-3.5-4.1-3.4 3.3zM215.8 615.8l3.3-3.1-3.5-4.3-3.3 3.3zM219.1 612.7l3.2-3.1-3.5-4.3-3.2 3.1zM198.5 625.5l3.5-3.6-3.5-3.6-3.5 3.8zM202 621.9l3.5-3.5-3.5-3.7-3.5 3.6zM205.5 618.4l3.4-3.4-3.5-3.8-3.4 3.5zM195 622.1l3.5-3.8-3.4-3.3-3.6 3.8zM198.5 618.3l3.5-3.6-3.5-3.4-3.4 3.7zM191.5 618.8l3.6-3.8-3.4-3.3-3.6 3.9zM184.6 619.7l3.5-4.1-3.3-3-3.6 4.1zM188.1 615.6l3.6-3.9-3.4-3.1-3.5 4zM181.2 616.7l3.6-4.1-3.3-3-3.6 4.2zM184.8 612.6l3.5-4-3.3-3-3.5 4zM177.9 613.8l3.6-4.2-3.2-2.9-3.6 4.2zM174.7 610.9l3.6-4.2-3.2-2.8-3.5 4.2zM171.6 608.1l3.5-4.2-3.1-2.8-3.6 4.2zM168.4 605.3l3.6-4.2-3.1-2.7-3.5 4.2zM165.4 602.6l3.5-4.2-3-2.6-3.5 4.2zM162.4 600l3.5-4.2-3-2.6-3.5 4.2zM159.4 597.4l3.5-4.2-2.9-2.5-3.5 4.1zM156.5 594.8l3.5-4.1-2.9-2.5-3.4 4.1zM153.7 592.3l3.4-4.1-2.8-2.4-3.4 4zM150.9 589.8l3.4-4-2.8-2.4-3.4 4zM148.1 587.4l3.4-4-2.7-2.3-3.4 3.9zM145.4 585l3.4-3.9-2.7-2.4-3.4 4zM142.7 582.7l3.4-4-2.7-2.2-3.3 3.9zM140.1 580.4l3.3-3.9-2.6-2.3-3.3 4zM137.5 578.2l3.3-4-2.5-2.1-3.4 3.8zM134.9 575.9l3.4-3.8-2.6-2.2-3.3 3.9zM132.4 573.8l3.3-3.9-2.4-2.1-3.4 3.8zM129.9 571.6l3.4-3.8-2.5-2.1-3.3 3.8zM127.5 569.5l3.3-3.8-2.4-2.1-3.3 3.8zM125.1 567.4l3.3-3.8-2.4-2-3.3 3.7zM122.7 565.3l3.3-3.7-2.3-2-3.3 3.7zM120.4 563.3l3.3-3.7-2.3-2-3.3 3.7zM118.1 561.3l3.3-3.7-2.3-1.9-3.3 3.6zM115.8 559.3l3.3-3.6-2.3-1.9-3.2 3.6zM113.6 557.4l3.2-3.6-2.2-1.9-3.2 3.6zM111.4 555.5l3.2-3.6-2.1-1.8-3.3 3.5zM109.2 553.6l3.3-3.5-2.2-1.8-3.2 3.5zM107.1 551.8l3.2-3.5-2.1-1.8-3.2 3.4zM105 549.9l3.2-3.4-2.1-1.7-3.2 3.4zM102.9 548.2l3.2-3.4-2-1.8-3.2 3.4zM100.9 546.4l3.2-3.4-2-1.6-3.2 3.3zM98.9 544.7l3.2-3.3-2-1.6-3.2 3.2zM96.9 543l3.2-3.2-2-1.6-3.1 3.2zM95 541.4l3.1-3.2-1.9-1.6-3.2 3.2zM93 539.8l3.2-3.2-1.9-1.5-3.2 3.1zM91.1 538.2l3.2-3.1-1.9-1.4-3.1 3zM89.3 536.7l3.1-3-1.8-1.3-3.1 2.9zM87.5 535.3l3.1-2.9-1.8-1.2-3.1 2.7zM88.8 531.2l3.1-2.7-1.8-1-3.1 2.5zM87 530l3.1-2.5-1.6-.8-3.2 2.4zM90.1 527.5l3.1-2.6-1.7-.6-3 2.4zM88.5 526.7l3-2.4-1.6-.5-3.1 2.3z"/>
<path class="c2" d="M222.3 609.6l3.2-3-3.5-4.5-3.2 3.2zM225.5 606.6l3.1-3-3.5-4.5-3.1 3zM228.6 603.6l3.1-3-3.5-4.6-3.1 3.1zM231.7 600.6l3-2.9-3.4-4.6-3.1 2.9zM234.7 597.7l3-2.9-3.4-4.7-3 3zM208.9 615l3.4-3.3-3.5-3.9-3.4 3.4zM212.3 611.7l3.3-3.3-3.5-3.9-3.3 3.3zM215.6 608.4l3.2-3.1-3.5-4.1-3.2 3.3zM202 614.7l3.4-3.5-3.4-3.5-3.5 3.6zM205.4 611.2l3.4-3.4-3.5-3.6-3.3 3.5zM195.1 615l3.4-3.7-3.4-3.3-3.4 3.7zM198.5 611.3l3.5-3.6-3.5-3.4-3.4 3.7zM191.7 611.7l3.4-3.7-3.3-3.2-3.5 3.8zM188.3 608.6l3.5-3.8-3.3-3-3.5 3.8zM181.5 609.6l3.5-4-3.2-2.9-3.5 4zM185 605.6l3.5-3.8-3.3-2.9-3.4 3.8zM178.3 606.7l3.5-4-3.2-2.8-3.5 4zM181.8 602.7l3.4-3.8-3.2-2.8-3.4 3.8zM175.1 603.9l3.5-4-3.1-2.7-3.5 3.9zM172 601.1l3.5-3.9-3.1-2.7-3.5 3.9zM168.9 598.4l3.5-3.9-3.1-2.6-3.4 3.9zM165.9 595.8l3.4-3.9-2.9-2.6-3.5 3.9zM162.9 593.2l3.5-3.9-3-2.5-3.4 3.9zM160 590.7l3.4-3.9-2.8-2.4-3.5 3.8zM157.1 588.2l3.5-3.8-2.9-2.5-3.4 3.9zM154.3 585.8l3.4-3.9-2.8-2.3-3.4 3.8zM151.5 583.4l3.4-3.8-2.7-2.3-3.4 3.8zM148.8 581.1l3.4-3.8-2.7-2.3-3.4 3.7zM146.1 578.7l3.4-3.7-2.7-2.2-3.4 3.7zM143.4 576.5l3.4-3.7-2.6-2.2-3.4 3.6zM140.8 574.2l3.4-3.6-2.6-2.2-3.3 3.7zM138.3 572.1l3.3-3.7-2.5-2.1-3.4 3.6zM135.7 569.9l3.4-3.6-2.5-2.1-3.3 3.6zM133.3 567.8l3.3-3.6-2.5-2.1-3.3 3.6zM130.8 565.7l3.3-3.6-2.4-2-3.3 3.5zM128.4 563.6l3.3-3.5-2.4-2-3.3 3.5zM126 561.6l3.3-3.5-2.4-2-3.2 3.5zM123.7 559.6l3.2-3.5-2.3-1.9-3.2 3.4zM121.4 557.6l3.2-3.4-2.3-1.9-3.2 3.4zM119.1 555.7l3.2-3.4-2.2-1.9-3.3 3.4zM116.8 553.8l3.3-3.4-2.2-1.9-3.3 3.4zM114.6 551.9l3.3-3.4-2.2-1.8-3.2 3.4zM112.5 550.1l3.2-3.4-2.2-1.7-3.2 3.3zM110.3 548.3l3.2-3.3-2.1-1.8-3.2 3.3zM108.2 546.5l3.2-3.3-2.1-1.7-3.2 3.3zM106.1 544.8l3.2-3.3-2.1-1.7-3.1 3.2zM104.1 543l3.1-3.2-2-1.6-3.1 3.2zM102.1 541.4l3.1-3.2-2-1.6-3.1 3.2zM100.1 539.8l3.1-3.2-2-1.5-3.1 3.1zM98.1 538.2l3.1-3.1-1.9-1.5-3.1 3zM96.2 536.6l3.1-3-1.9-1.4-3.1 2.9zM94.3 535.1l3.1-2.9-1.9-1.4-3.1 2.9zM92.4 533.7l3.1-2.9-1.8-1.2-3.1 2.8zM90.6 532.4l3.1-2.8-1.8-1.1-3.1 2.7zM93.7 529.6l3-2.8-1.7-1-3.1 2.7zM91.9 528.5l3.1-2.7-1.8-.9-3.1 2.6zM93.2 524.9l3-2.6-1.7-.6-3 2.6zM91.5 524.3l3-2.6-1.6-.3-3 2.4zM94.5 521.7l3-2.7-1.7-.3-2.9 2.7z"/>
<path class="c3" d="M237.7 594.8l2.9-2.9-3.4-4.6-2.9 2.8zM240.6 591.9l2.9-2.8-3.4-4.7-2.9 2.9zM243.5 589.1l2.8-2.8-3.3-4.7-2.9 2.8zM246.3 586.3l2.8-2.7-3.3-4.7-2.8 2.7zM218.8 605.3l3.2-3.2-3.5-4-3.2 3.1zM222 602.1l3.1-3-3.4-4.2-3.2 3.2zM225.1 599.1l3.1-3.1-3.4-4.1-3.1 3zM228.2 596l3.1-2.9-3.5-4.3-3 3.1zM208.8 607.8l3.3-3.3-3.5-3.7-3.3 3.4zM212.1 604.5l3.2-3.3-3.4-3.7-3.3 3.3zM215.3 601.2l3.2-3.1-3.4-3.8-3.2 3.2zM202 607.7l3.3-3.5-3.4-3.4-3.4 3.5zM205.3 604.2l3.3-3.4-3.4-3.4-3.3 3.4zM195.1 608l3.4-3.7-3.3-3.1-3.4 3.6zM198.5 604.3l3.4-3.5-3.3-3.1-3.4 3.5zM191.8 604.8l3.4-3.6-3.3-3-3.4 3.6zM195.2 601.2l3.4-3.5-3.3-3-3.4 3.5zM188.5 601.8l3.4-3.6-3.3-2.9-3.4 3.6zM185.2 598.9l3.4-3.6-3.2-2.8-3.4 3.6zM178.6 599.9l3.4-3.8-3.1-2.7-3.4 3.8zM182 596.1l3.4-3.6-3.1-2.7-3.4 3.6zM175.5 597.2l3.4-3.8-3.1-2.7-3.4 3.8zM178.9 593.4l3.4-3.6-3.1-2.7-3.4 3.6zM172.4 594.5l3.4-3.8-3-2.6-3.5 3.8zM169.3 591.9l3.5-3.8-3-2.5-3.4 3.7zM166.4 589.3l3.4-3.7-3-2.5-3.4 3.7zM163.4 586.8l3.4-3.7-2.9-2.4-3.3 3.7zM160.6 584.4l3.3-3.7-2.8-2.4-3.4 3.6zM157.7 581.9l3.4-3.6-2.8-2.3-3.4 3.6zM154.9 579.6l3.4-3.6-2.8-2.3-3.3 3.6zM152.2 577.3l3.3-3.6-2.7-2.3-3.3 3.6zM149.5 575l3.3-3.6-2.6-2.2-3.4 3.6zM146.8 572.8l3.4-3.6-2.7-2.1-3.3 3.5zM144.2 570.6l3.3-3.5-2.6-2.2-3.3 3.5zM141.6 568.4l3.3-3.5-2.5-2.1-3.3 3.5zM139.1 566.3l3.3-3.5-2.5-2.1-3.3 3.5zM136.6 564.2l3.3-3.5-2.5-2-3.3 3.4zM134.1 562.1l3.3-3.4-2.4-2-3.3 3.4zM131.7 560.1l3.3-3.4-2.4-2-3.3 3.4zM129.3 558.1l3.3-3.4-2.4-1.9-3.3 3.3zM126.9 556.1l3.3-3.3-2.3-1.9-3.3 3.3zM124.6 554.2l3.3-3.3-2.3-1.9-3.3 3.3zM122.3 552.3l3.3-3.3-2.3-1.8-3.2 3.2zM120.1 550.4l3.2-3.2-2.2-1.9-3.2 3.2zM117.9 548.5l3.2-3.2-2.2-1.7-3.2 3.1zM115.7 546.7l3.2-3.1-2.2-1.8-3.2 3.2zM113.5 545l3.2-3.2-2.1-1.7-3.2 3.1zM111.4 543.2l3.2-3.1-2.2-1.7-3.1 3.1zM109.3 541.5l3.1-3.1-2-1.6-3.2 3zM107.2 539.8l3.2-3-2.1-1.7-3.1 3.1zM105.2 538.2l3.1-3.1-2-1.5-3.1 3zM103.2 536.6l3.1-3-2-1.5-3.1 3zM101.2 535.1l3.1-3-1.9-1.5-3.1 3zM99.3 533.6l3.1-3-1.9-1.3-3.1 2.9zM97.4 532.2l3.1-2.9-1.9-1.3-3.1 2.8zM95.5 530.8l3.1-2.8-1.9-1.2-3 2.8zM96.7 526.8l3.1-2.8-1.8-.9-3 2.7zM95 525.8l3-2.7-1.8-.8-3 2.6zM96.2 522.3l3-2.7-1.7-.6-3 2.7zM97.5 519l2.9-2.7-1.6-.3-3 2.7z"/>
<path class="c4" d="M249.1 583.6l2.8-2.7-3.4-4.7-2.7 2.7zM251.9 580.9l2.7-2.6-3.4-4.7-2.7 2.6zM254.6 578.3l2.6-2.5-3.3-4.7-2.7 2.5zM257.2 575.8l2.6-2.5-3.3-4.6-2.6 2.4zM259.8 573.3l2.6-2.4-3.3-4.6-2.6 2.4zM262.4 570.9l2.5-2.3-3.2-4.6-2.6 2.3zM264.9 568.6l2.5-2.3-3.2-4.5-2.5 2.2zM267.4 566.3l2.4-2.2-3.2-4.5-2.4 2.2zM269.8 564.1l2.4-2.1-3.1-4.5-2.5 2.1zM231.3 593.1l3-3-3.4-4.2-3.1 2.9zM234.3 590.1l2.9-2.8-3.4-4.3-2.9 2.9zM237.2 587.3l2.9-2.9-3.4-4.3-2.9 2.9zM240.1 584.4l2.9-2.8-3.4-4.3-2.9 2.8zM218.5 598.1l3.2-3.2-3.4-3.8-3.2 3.2zM221.7 594.9l3.1-3-3.4-3.9-3.1 3.1zM224.8 591.9l3-3.1-3.4-3.8-3 3zM208.6 600.8l3.3-3.3-3.4-3.4-3.3 3.3zM211.9 597.5l3.2-3.2-3.4-3.5-3.2 3.3zM215.1 594.3l3.2-3.2-3.4-3.4-3.2 3.1zM201.9 600.8l3.3-3.4-3.3-3.1-3.3 3.4zM205.2 597.4l3.3-3.3-3.4-3.2-3.2 3.4zM198.6 597.7l3.3-3.4-3.3-3-3.3 3.4zM201.9 594.3l3.2-3.4-3.3-3-3.2 3.4zM191.9 598.2l3.4-3.5-3.3-2.9-3.4 3.5zM195.3 594.7l3.3-3.4-3.3-2.9-3.3 3.4zM188.6 595.3l3.4-3.5-3.2-2.8-3.4 3.5zM192 591.8l3.3-3.4-3.2-2.8-3.3 3.4zM185.4 592.5l3.4-3.5-3.2-2.7-3.3 3.5zM182.3 589.8l3.3-3.5-3.1-2.6-3.3 3.4zM175.8 590.7l3.4-3.6-3-2.5-3.4 3.5zM179.2 587.1l3.3-3.4-3-2.6-3.3 3.5zM172.8 588.1l3.4-3.5-3-2.5-3.4 3.5zM176.2 584.6l3.3-3.5-3-2.4-3.3 3.4zM169.8 585.6l3.4-3.5-3-2.5-3.4 3.5zM173.2 582.1l3.3-3.4-3-2.5-3.3 3.4zM166.8 583.1l3.4-3.5-2.9-2.4-3.4 3.5zM163.9 580.7l3.4-3.5-2.8-2.3-3.4 3.4zM161.1 578.3l3.4-3.4-2.9-2.4-3.3 3.5zM158.3 576l3.3-3.5-2.7-2.2-3.4 3.4zM155.5 573.7l3.4-3.4-2.7-2.2-3.4 3.3zM152.8 571.4l3.4-3.3-2.7-2.2-3.3 3.3zM150.2 569.2l3.3-3.3-2.7-2.2-3.3 3.4zM147.5 567.1l3.3-3.4-2.6-2.1-3.3 3.3zM144.9 564.9l3.3-3.3-2.5-2.1-3.3 3.3zM142.4 562.8l3.3-3.3-2.6-2-3.2 3.2zM139.9 560.7l3.2-3.2-2.4-2-3.3 3.2zM137.4 558.7l3.3-3.2-2.5-2-3.2 3.2zM135 556.7l3.2-3.2-2.4-1.9-3.2 3.1zM132.6 554.7l3.2-3.1-2.4-1.9-3.2 3.1zM130.2 552.8l3.2-3.1-2.3-1.9-3.2 3.1zM127.9 550.9l3.2-3.1-2.3-1.9-3.2 3.1zM125.6 549l3.2-3.1-2.3-1.8-3.2 3.1zM123.3 547.2l3.2-3.1-2.3-1.8-3.1 3zM121.1 545.3l3.1-3-2.2-1.8-3.1 3.1zM118.9 543.6l3.1-3.1-2.2-1.7-3.1 3zM116.7 541.8l3.1-3-2.1-1.7-3.1 3zM114.6 540.1l3.1-3-2.1-1.7-3.2 3zM112.4 538.4l3.2-3-2.1-1.6-3.1 3zM110.4 536.8l3.1-3-2.1-1.6-3.1 2.9zM108.3 535.1l3.1-2.9-2-1.5-3.1 2.9zM106.3 533.6l3.1-2.9-2-1.5-3.1 2.9zM104.3 532.1l3.1-2.9-1.9-1.4-3.1 2.8zM102.4 530.6l3.1-2.8-2-1.4-3 2.9zM100.5 529.3l3-2.9-1.9-1.2-3 2.8zM98.6 528l3-2.8-1.8-1.2-3.1 2.8zM99.8 524l3-2.7-1.8-.9-3 2.7zM98 523.1l3-2.7-1.8-.8-3 2.7zM99.2 519.6l3-2.7-1.8-.6-2.9 2.7zM100.4 516.3l2.9-2.7-1.7-.4-2.8 2.8z"/>
<path class="c5" d="M272.2 562l2.4-2.2-3.2-4.4-2.3 2.1zM274.6 559.8l2.4-2.1-3.2-4.3-2.4 2zM277 557.7l2.2-2-3.1-4.4-2.3 2.1zM279.2 555.7l2.3-2.1-3.1-4.3-2.3 2zM281.5 553.6l2.2-2-3.1-4.3-2.2 2zM283.7 551.6l2.3-2-3.2-4.2-2.2 1.9zM286 549.6l2.1-2-3.1-4.2-2.2 2zM288.1 547.6l2.2-2-3.1-4.1-2.2 1.9zM290.3 545.6l2.1-2-3.1-4-2.1 1.9zM292.4 543.6l2.1-2-3.1-3.9-2.1 1.9zM294.5 541.6l2-2-3-3.8-2.1 1.9zM296.5 539.6l2.1-1.9-3.1-3.8-2 1.9zM243 581.6l2.8-2.7-3.4-4.3-2.8 2.7zM245.8 578.9l2.7-2.7-3.3-4.2-2.8 2.6zM248.5 576.2l2.7-2.6-3.3-4.2-2.7 2.6zM251.2 573.6l2.7-2.5-3.3-4.2-2.7 2.5zM227.8 588.8l3.1-2.9-3.4-3.9-3.1 3zM230.9 585.9l2.9-2.9-3.4-3.9-2.9 2.9zM233.8 583l2.9-2.9-3.3-3.9-3 2.9zM218.3 591.1l3.1-3.1-3.4-3.5-3.1 3.2zM221.4 588l3-3-3.3-3.5-3.1 3zM208.5 594.1l3.2-3.3-3.3-3.1-3.3 3.2zM211.7 590.8l3.2-3.1-3.4-3.2-3.1 3.2zM214.9 587.7l3.1-3.2-3.3-3.1-3.2 3.1zM205.1 590.9l3.3-3.2-3.3-3-3.3 3.2zM208.4 587.7l3.1-3.2-3.3-3-3.1 3.2zM198.6 591.3l3.2-3.4-3.2-2.8-3.3 3.3zM201.8 587.9l3.3-3.2-3.3-2.9-3.2 3.3zM195.3 588.4l3.3-3.3-3.2-2.8-3.3 3.3zM198.6 585.1l3.2-3.3-3.2-2.7-3.2 3.2zM188.8 589l3.3-3.4-3.1-2.7-3.4 3.4zM192.1 585.6l3.3-3.3-3.2-2.6-3.2 3.2zM185.6 586.3l3.4-3.4-3.2-2.6-3.3 3.4zM189 582.9l3.2-3.2-3.1-2.6-3.3 3.2zM182.5 583.7l3.3-3.4-3-2.5-3.3 3.3zM185.8 580.3l3.3-3.2-3.1-2.5-3.2 3.2zM179.5 581.1l3.3-3.3-3-2.4-3.3 3.3zM176.5 578.7l3.3-3.3-3-2.4-3.3 3.2zM170.2 579.6l3.3-3.4-2.9-2.3-3.3 3.3zM173.5 576.2l3.3-3.2-2.9-2.4-3.3 3.3zM167.3 577.2l3.3-3.3-2.8-2.4-3.3 3.4zM170.6 573.9l3.3-3.3-2.9-2.3-3.2 3.2zM164.5 574.9l3.3-3.4-2.9-2.2-3.3 3.2zM167.8 571.5l3.2-3.2-2.8-2.2-3.3 3.2zM161.6 572.5l3.3-3.2-2.7-2.3-3.3 3.3zM164.9 569.3l3.3-3.2-2.8-2.2-3.2 3.1zM158.9 570.3l3.3-3.3-2.8-2.2-3.2 3.3zM162.2 567l3.2-3.1-2.7-2.2-3.3 3.1zM156.2 568.1l3.2-3.3-2.7-2.1-3.2 3.2zM153.5 565.9l3.2-3.2-2.6-2.1-3.3 3.1zM150.8 563.7l3.3-3.1-2.6-2.1-3.3 3.1zM148.2 561.6l3.3-3.1-2.6-2.1-3.2 3.1zM145.7 559.5l3.2-3.1-2.5-2-3.3 3.1zM143.1 557.5l3.3-3.1-2.5-2-3.2 3.1zM140.7 555.5l3.2-3.1-2.5-1.9-3.2 3zM138.2 553.5l3.2-3-2.4-2-3.2 3.1zM135.8 551.6l3.2-3.1-2.4-1.9-3.2 3.1zM133.4 549.7l3.2-3.1-2.3-1.8-3.2 3zM131.1 547.8l3.2-3-2.4-1.9-3.1 3zM128.8 545.9l3.1-3-2.3-1.8-3.1 3zM126.5 544.1l3.1-3-2.2-1.8-3.2 3zM124.2 542.3l3.2-3-2.2-1.7-3.2 2.9zM122 540.5l3.2-2.9-2.2-1.7-3.2 2.9zM119.8 538.8l3.2-2.9-2.2-1.7-3.1 2.9zM117.7 537.1l3.1-2.9-2.1-1.6-3.1 2.8zM115.6 535.4l3.1-2.8-2.1-1.6-3.1 2.8zM113.5 533.8l3.1-2.8-2.1-1.6-3.1 2.8zM111.4 532.2l3.1-2.8-2-1.5-3.1 2.8zM109.4 530.7l3.1-2.8-2-1.5-3.1 2.8zM107.4 529.2l3.1-2.8-2-1.4-3 2.8zM105.5 527.8l3-2.8-1.9-1.3-3.1 2.7zM103.5 526.4l3.1-2.7-1.9-1.3-3.1 2.8zM101.6 525.2l3.1-2.8-1.9-1.1-3 2.7zM104.7 522.4l3-2.7-1.9-1.1-3 2.7zM102.8 521.3l3-2.7-1.9-1-2.9 2.8zM101 520.4l2.9-2.8-1.7-.7-3 2.7zM102.2 516.9l2.9-2.7-1.8-.6-2.9 2.7zM103.3 513.6l2.9-2.8-1.7-.4-2.9 2.8z"/>
<path class="c6" d="M298.6 537.7l2-2-3-3.7-2.1 1.9zM300.6 535.7l2-1.9-3-3.7-2 1.9zM302.6 533.8l2-1.9-3.1-3.6-1.9 1.8zM304.6 531.9l1.9-2-3-3.4-2 1.8zM306.5 529.9l1.9-2-3-3.3-1.9 1.9zM253.9 571.1l2.6-2.4-3.2-4.2-2.7 2.4zM256.5 568.7l2.6-2.4-3.2-4.2-2.6 2.4zM259.1 566.3l2.6-2.3-3.3-4.1-2.5 2.2zM261.7 564l2.5-2.2-3.3-4.1-2.5 2.2zM264.2 561.8l2.4-2.2-3.2-4.1-2.5 2.2zM266.6 559.6l2.5-2.1-3.3-4.1-2.4 2.1zM269.1 557.5l2.3-2.1-3.2-4.1-2.4 2.1zM271.4 555.4l2.4-2-3.2-4.1-2.4 2zM273.8 553.4l2.3-2.1-3.2-4-2.3 2zM276.1 551.3l2.3-2-3.2-3.9-2.3 1.9zM278.4 549.3l2.2-2-3.1-3.9-2.3 2zM280.6 547.3l2.2-1.9-3.1-3.9-2.2 1.9zM282.8 545.4l2.2-2-3.1-3.8-2.2 1.9zM236.7 580.1l2.9-2.8-3.4-3.8-2.8 2.7zM239.6 577.3l2.8-2.7-3.3-3.9-2.9 2.8zM242.4 574.6l2.8-2.6-3.3-3.9-2.8 2.6zM245.2 572l2.7-2.6-3.3-3.9-2.7 2.6zM224.4 585l3.1-3-3.4-3.5-3 3zM227.5 582l2.9-2.9-3.3-3.5-3 2.9zM230.4 579.1l3-2.9-3.4-3.4-2.9 2.8zM218 584.5l3.1-3-3.4-3.2-3 3.1zM221.1 581.5l3-3-3.3-3.2-3.1 3zM211.5 584.5l3.2-3.1-3.3-3-3.2 3.1zM214.7 581.4l3-3.1-3.3-2.9-3 3zM205.1 584.7l3.1-3.2-3.2-2.8-3.2 3.1zM208.2 581.5l3.2-3.1-3.3-2.8-3.1 3.1zM201.8 581.8l3.2-3.1-3.2-2.7-3.2 3.1zM205 578.7l3.1-3.1-3.2-2.7-3.1 3.1zM195.4 582.3l3.2-3.2-3.2-2.6-3.2 3.2zM198.6 579.1l3.2-3.1-3.2-2.6-3.2 3.1zM192.2 579.7l3.2-3.2-3.1-2.6-3.2 3.2zM195.4 576.5l3.2-3.1-3.1-2.6-3.2 3.1zM189.1 577.1l3.2-3.2-3-2.4-3.3 3.1zM182.8 577.8l3.2-3.2-3-2.4-3.2 3.2zM186 574.6l3.3-3.1-3.1-2.4-3.2 3.1zM179.8 575.4l3.2-3.2-2.9-2.4-3.3 3.2zM183 572.2l3.2-3.1-2.9-2.4-3.2 3.1zM176.8 573l3.3-3.2-3-2.3-3.2 3.1zM180.1 569.8l3.2-3.1-3-2.3-3.2 3.1zM173.9 570.6l3.2-3.1-2.8-2.3-3.3 3.1zM177.1 567.5l3.2-3.1-2.8-2.2-3.2 3zM171 568.3l3.3-3.1-2.9-2.2-3.2 3.1zM168.2 566.1l3.2-3.1-2.8-2.2-3.2 3.1zM165.4 563.9l3.2-3.1-2.7-2.1-3.2 3zM159.4 564.8l3.3-3.1-2.7-2.1-3.3 3.1zM162.7 561.7l3.2-3-2.7-2.1-3.2 3zM156.7 562.7l3.3-3.1-2.7-2.1-3.2 3.1zM160 559.6l3.2-3-2.7-2.1-3.2 3zM154.1 560.6l3.2-3.1-2.6-2.1-3.2 3.1zM157.3 557.5l3.2-3-2.6-2-3.2 2.9zM151.5 558.5l3.2-3.1-2.6-2-3.2 3zM154.7 555.4l3.2-2.9-2.6-2-3.2 2.9zM148.9 556.4l3.2-3-2.5-2-3.2 3zM152.1 553.4l3.2-2.9-2.5-2-3.2 2.9zM146.4 554.4l3.2-3-2.5-2-3.2 3zM149.6 551.4l3.2-2.9-2.6-2-3.1 2.9zM143.9 552.4l3.2-3-2.5-1.9-3.2 3zM141.4 550.5l3.2-3-2.4-1.9-3.2 2.9zM139 548.5l3.2-2.9-2.4-1.9-3.2 2.9zM136.6 546.6l3.2-2.9-2.4-1.8-3.1 2.9zM134.3 544.8l3.1-2.9-2.3-1.9-3.2 2.9zM131.9 542.9l3.2-2.9-2.3-1.7-3.2 2.8zM129.6 541.1l3.2-2.8-2.3-1.8-3.1 2.8zM127.4 539.3l3.1-2.8-2.2-1.7-3.1 2.8zM125.2 537.6l3.1-2.8-2.2-1.7-3.1 2.8zM123 535.9l3.1-2.8-2.2-1.7-3.1 2.8zM120.8 534.2l3.1-2.8-2.1-1.6-3.1 2.8zM118.7 532.6l3.1-2.8-2.1-1.6-3.1 2.8zM116.6 531l3.1-2.8-2.1-1.6-3.1 2.8zM114.5 529.4l3.1-2.8-2.1-1.5-3 2.8zM112.5 527.9l3-2.8-2-1.4-3 2.7zM110.5 526.4l3-2.7-2-1.4-3 2.7zM108.5 525l3-2.7-1.9-1.4-3 2.8zM106.6 523.7l3-2.8-1.9-1.2-3 2.7zM107.7 519.7l2.9-2.7-1.9-1.1-2.9 2.7zM105.8 518.6l2.9-2.7-1.8-1-3 2.7zM103.9 517.6l3-2.7-1.8-.7-2.9 2.7zM105.1 514.2l2.9-2.8-1.8-.6-2.9 2.8z"/>
<path class="c7" d="M308.4 527.9l2-2-3.1-3.2-1.9 1.9zM310.4 525.9l1.9-2.2-3.1-2.8-1.9 1.8zM312.3 523.7l1.9-2.3-3.1-2.5-1.9 2zM285 543.4l2.2-1.9-3.1-3.8-2.2 1.9zM287.2 541.5l2.1-1.9-3.1-3.8-2.1 1.9zM289.3 539.6l2.1-1.9-3.1-3.8-2.1 1.9zM291.4 537.7l2.1-1.9-3.1-3.7-2.1 1.8zM293.5 535.8l2-1.9-3-3.6-2.1 1.8zM295.5 533.9l2.1-1.9-3.1-3.5-2 1.8zM297.6 532l2-1.9-3.1-3.4-2 1.8zM299.6 530.1l1.9-1.8-3-3.4-2 1.8zM301.5 528.3l2-1.8-3.1-3.4-1.9 1.8zM247.9 569.4l2.7-2.5-3.3-3.9-2.7 2.5zM250.6 566.9l2.7-2.4-3.3-3.9-2.7 2.4zM253.3 564.5l2.6-2.4-3.3-3.8-2.6 2.3zM255.9 562.1l2.5-2.2-3.2-3.8-2.6 2.2zM258.4 559.9l2.5-2.2-3.2-3.8-2.5 2.2zM260.9 557.7l2.5-2.2-3.2-3.8-2.5 2.2zM263.4 555.5l2.4-2.1-3.2-3.7-2.4 2zM265.8 553.4l2.4-2.1-3.2-3.7-2.4 2.1zM233.4 576.2l2.8-2.7-3.3-3.5-2.9 2.8zM236.2 573.5l2.9-2.8-3.3-3.4-2.9 2.7zM239.1 570.7l2.8-2.6-3.3-3.5-2.8 2.7zM241.9 568.1l2.7-2.6-3.3-3.4-2.7 2.5zM224.1 578.5l3-2.9-3.3-3.2-3 2.9zM227.1 575.6l2.9-2.8-3.3-3.2-2.9 2.8zM230 572.8l2.9-2.8-3.3-3.2-2.9 2.8zM217.7 578.3l3.1-3-3.3-2.9-3.1 3zM220.8 575.3l3-2.9-3.3-2.9-3 2.9zM223.8 572.4l2.9-2.8-3.3-2.9-2.9 2.8zM211.4 578.4l3-3-3.2-2.8-3.1 3zM214.4 575.4l3.1-3-3.3-2.8-3 3zM208.1 575.6l3.1-3-3.2-2.7-3.1 3zM211.2 572.6l3-3-3.2-2.6-3 2.9zM201.8 576l3.1-3.1-3.2-2.6-3.1 3.1zM204.9 572.9l3.1-3-3.2-2.5-3.1 2.9zM198.6 573.4l3.1-3.1-3.1-2.5-3.1 3zM201.7 570.3l3.1-2.9-3.1-2.5-3.1 2.9zM192.3 573.9l3.2-3.1-3.1-2.4-3.1 3.1zM195.5 570.8l3.1-3-3.1-2.4-3.1 3zM189.3 571.5l3.1-3.1-3-2.4-3.2 3.1zM192.4 568.4l3.1-3-3-2.3-3.1 2.9zM186.2 569.1l3.2-3.1-3-2.3-3.1 3zM189.4 566l3.1-2.9-3-2.3-3.1 2.9zM183.3 566.7l3.1-3-2.9-2.2-3.2 2.9zM180.3 564.4l3.2-2.9-2.9-2.3-3.1 3zM174.3 565.2l3.2-3-2.9-2.2-3.2 3zM177.5 562.2l3.1-3-2.8-2.1-3.2 2.9zM171.4 563l3.2-3-2.8-2.2-3.2 3zM174.6 560l3.2-2.9-2.8-2.2-3.2 2.9zM168.6 560.8l3.2-3-2.7-2.1-3.2 3zM171.8 557.8l3.2-2.9-2.8-2.1-3.1 2.9zM165.9 558.7l3.2-3-2.7-2.1-3.2 3zM169.1 555.7l3.1-2.9-2.7-2-3.1 2.8zM163.2 556.6l3.2-3-2.7-2-3.2 2.9zM160.5 554.5l3.2-2.9-2.7-2-3.1 2.9zM157.9 552.5l3.1-2.9-2.6-2-3.1 2.9zM155.3 550.5l3.1-2.9-2.5-2-3.1 2.9zM152.8 548.5l3.1-2.9-2.5-1.9-3.2 2.8zM147.1 549.4l3.1-2.9-2.4-1.9-3.2 2.9zM150.2 546.5l3.2-2.8-2.5-1.9-3.1 2.8zM144.6 547.5l3.2-2.9-2.5-1.9-3.1 2.9zM147.8 544.6l3.1-2.8-2.5-1.9-3.1 2.8zM142.2 545.6l3.1-2.9-2.4-1.8-3.1 2.8zM145.3 542.7l3.1-2.8-2.4-1.8-3.1 2.8zM139.8 543.7l3.1-2.8-2.4-1.9-3.1 2.9zM142.9 540.9l3.1-2.8-2.4-1.9-3.1 2.8zM137.4 541.9l3.1-2.9-2.3-1.8-3.1 2.8zM140.5 539l3.1-2.8-2.3-1.8-3.1 2.8zM135.1 540l3.1-2.8-2.3-1.8-3.1 2.9zM132.8 538.3l3.1-2.9-2.3-1.7-3.1 2.8zM130.5 536.5l3.1-2.8-2.2-1.7-3.1 2.8zM128.3 534.8l3.1-2.8-2.2-1.7-3.1 2.8zM126.1 533.1l3.1-2.8-2.2-1.7-3.1 2.8zM123.9 531.4l3.1-2.8-2.2-1.6-3 2.8zM121.8 529.8l3-2.8-2.1-1.6-3 2.8zM119.7 528.2l3-2.8-2.1-1.5-3 2.7zM117.6 526.6l3-2.7-2.1-1.5-3 2.7zM115.5 525.1l3-2.7-2-1.5-3 2.8zM113.5 523.7l3-2.8-2-1.3-3 2.7zM111.5 522.3l3-2.7-1.9-1.4-3 2.7zM109.6 520.9l3-2.7-2-1.2-2.9 2.7zM110.6 517l3-2.7-2-1.1-2.9 2.7zM108.7 515.9l2.9-2.7-1.8-1-2.9 2.7zM106.9 514.9l2.9-2.7-1.8-.8-2.9 2.8zM108 511.4l2.8-2.8-1.8-.6-2.8 2.8zM106.2 510.8l2.8-2.8-1.7-.5-2.8 2.9z"/>
<path class="c8" d="M303.5 526.5l1.9-1.9-3-3.2-2 1.7zM305.4 524.6l1.9-1.9-3-3-1.9 1.7zM307.3 522.7l1.9-1.8-3.1-2.9-1.8 1.7zM309.2 520.9l1.9-2-3.1-2.6-1.9 1.7zM268.2 551.3l2.4-2-3.2-3.7-2.4 2zM270.6 549.3l2.3-2-3.1-3.7-2.4 2zM272.9 547.3l2.3-1.9-3.1-3.7-2.3 1.9zM275.2 545.4l2.3-2-3.2-3.6-2.2 1.9zM277.5 543.4l2.2-1.9-3.1-3.6-2.3 1.9zM279.7 541.5l2.2-1.9-3.1-3.6-2.2 1.9zM281.9 539.6l2.2-1.9-3.1-3.6-2.2 1.9zM284.1 537.7l2.1-1.9-3.1-3.5-2.1 1.8zM286.2 535.8l2.1-1.9-3-3.4-2.2 1.8zM288.3 533.9l2.1-1.8-3-3.4-2.1 1.8zM290.4 532.1l2.1-1.8-3.1-3.4-2 1.8zM292.5 530.3l2-1.8-3-3.4-2.1 1.8zM244.6 565.5l2.7-2.5-3.3-3.4-2.7 2.5zM247.3 563l2.7-2.4-3.3-3.4-2.7 2.4zM250 560.6l2.6-2.3-3.3-3.4-2.6 2.3zM252.6 558.3l2.6-2.2-3.3-3.5-2.6 2.3zM255.2 556.1l2.5-2.2-3.3-3.4-2.5 2.1zM257.7 553.9l2.5-2.2-3.3-3.4-2.5 2.2zM232.9 570l2.9-2.7-3.4-3.2-2.8 2.7zM235.8 567.3l2.8-2.7-3.3-3.1-2.9 2.6zM238.6 564.6l2.7-2.5-3.3-3.2-2.7 2.6zM241.3 562.1l2.7-2.5-3.3-3.1-2.7 2.4zM226.7 569.6l2.9-2.8-3.3-2.9-2.9 2.8zM229.6 566.8l2.8-2.7-3.2-2.9-2.9 2.7zM217.5 572.4l3-2.9-3.3-2.7-3 2.8zM220.5 569.5l2.9-2.8-3.2-2.7-3 2.8zM223.4 566.7l2.9-2.8-3.2-2.7-2.9 2.8zM214.2 569.6l3-2.8-3.2-2.7-3 2.9zM217.2 566.8l3-2.8-3.2-2.7-3 2.8zM208 569.9l3-2.9-3.2-2.5-3 2.9zM211 567l3-2.9-3.2-2.5-3 2.9zM204.8 567.4l3-2.9-3.1-2.5-3 2.9zM207.8 564.5l3-2.9-3.1-2.4-3 2.8zM198.6 567.8l3.1-2.9-3.1-2.4-3.1 2.9zM201.7 564.9l3-2.9-3-2.4-3.1 2.9zM195.5 565.4l3.1-2.9-3-2.3-3.1 2.9zM198.6 562.5l3.1-2.9-3.1-2.3-3 2.9zM192.5 563.1l3.1-2.9-3-2.3-3.1 2.9zM195.6 560.2l3-2.9-3-2.2-3 2.8zM186.4 563.7l3.1-2.9-2.9-2.3-3.1 3zM189.5 560.8l3.1-2.9-2.9-2.2-3.1 2.8zM183.5 561.5l3.1-3-2.9-2.1-3.1 2.8zM186.6 558.5l3.1-2.8-2.9-2.2-3.1 2.9zM180.6 559.2l3.1-2.8-2.8-2.2-3.1 2.9zM183.7 556.4l3.1-2.9-2.9-2.1-3 2.8zM177.8 557.1l3.1-2.9-2.8-2.1-3.1 2.8zM180.9 554.2l3-2.8-2.8-2.1-3 2.8zM175 554.9l3.1-2.8-2.8-2.1-3.1 2.8zM172.2 552.8l3.1-2.8-2.7-2-3.1 2.8zM166.4 553.6l3.1-2.8-2.7-2.1-3.1 2.9zM169.5 550.8l3.1-2.8-2.7-2.1-3.1 2.8zM163.7 551.6l3.1-2.9-2.6-2-3.2 2.9zM166.8 548.7l3.1-2.8-2.7-1.9-3 2.7zM161 549.6l3.2-2.9-2.6-1.9-3.2 2.8zM164.2 546.7l3-2.7-2.6-2-3 2.8zM158.4 547.6l3.2-2.8-2.6-2-3.1 2.8zM161.6 544.8l3-2.8-2.6-1.9-3 2.7zM155.9 545.6l3.1-2.8-2.5-1.9-3.1 2.8zM159 542.8l3-2.7-2.5-1.9-3 2.7zM153.4 543.7l3.1-2.8-2.5-1.9-3.1 2.8zM150.9 541.8l3.1-2.8-2.5-1.9-3.1 2.8zM148.4 539.9l3.1-2.8-2.4-1.8-3.1 2.8zM146 538.1l3.1-2.8-2.4-1.8-3.1 2.7zM143.6 536.2l3.1-2.7-2.4-1.8-3 2.7zM138.2 537.2l3.1-2.8-2.3-1.7-3.1 2.7zM141.3 534.4l3-2.7-2.3-1.8-3 2.8zM135.9 535.4l3.1-2.7-2.3-1.8-3.1 2.8zM139 532.7l3-2.8-2.3-1.7-3 2.7zM133.6 533.7l3.1-2.8-2.3-1.7-3 2.8zM136.7 530.9l3-2.7-2.3-1.7-3 2.7zM131.4 532l3-2.8-2.2-1.7-3 2.8zM134.4 529.2l3-2.7-2.2-1.7-3 2.7zM129.2 530.3l3-2.8-2.2-1.6-3 2.7zM127 528.6l3-2.7-2.2-1.6-3 2.7zM124.8 527l3-2.7-2.1-1.6-3 2.7zM122.7 525.4l3-2.7-2.1-1.5-3 2.7zM120.6 523.9l3-2.7-2.1-1.5-3 2.7zM118.5 522.4l3-2.7-2-1.5-3 2.7zM116.5 520.9l3-2.7-2-1.3-3 2.7zM114.5 519.6l3-2.7-2-1.4-2.9 2.7zM112.6 518.2l2.9-2.7-1.9-1.2-3 2.7zM115.5 515.5l2.9-2.7-1.9-1.2-2.9 2.7zM113.6 514.3l2.9-2.7-2-1.2-2.9 2.8zM111.6 513.2l2.9-2.8-1.9-1-2.8 2.8zM109.8 512.2l2.8-2.8-1.8-.8-2.8 2.8zM110.8 508.6l2.8-2.8-1.8-.7-2.8 2.9zM109 508l2.8-2.9-1.8-.5-2.7 2.9z"/>
<path class="c9" d="M294.5 528.5l2-1.8-3-3.3-2 1.7zM296.5 526.7l2-1.8-3-3.2-2 1.7zM298.5 524.9l1.9-1.8-3-3.1-1.9 1.7zM300.4 523.1l2-1.7-3.1-3.1-1.9 1.7zM302.4 521.4l1.9-1.7-3.1-3-1.9 1.6zM304.3 519.7l1.8-1.7-3-2.9-1.9 1.6zM306.1 518l1.9-1.7-3-2.7-1.9 1.5zM260.2 551.7l2.4-2-3.2-3.4-2.5 2zM262.6 549.7l2.4-2.1-3.2-3.4-2.4 2.1zM265 547.6l2.4-2-3.2-3.4-2.4 2zM267.4 545.6l2.4-2-3.2-3.3-2.4 1.9zM269.8 543.6l2.3-1.9-3.2-3.4-2.3 2zM272.1 541.7l2.2-1.9-3.1-3.4-2.3 1.9zM274.3 539.8l2.3-1.9-3.1-3.4-2.3 1.9zM276.6 537.9l2.2-1.9-3.1-3.3-2.2 1.8zM278.8 536l2.2-1.9-3.1-3.3-2.2 1.9zM281 534.1l2.1-1.8-3.1-3.3-2.1 1.8zM283.1 532.3l2.2-1.8-3.1-3.3-2.2 1.8zM285.3 530.5l2.1-1.8-3.1-3.2-2.1 1.7zM244 559.6l2.7-2.4-3.3-3.1-2.7 2.4zM246.7 557.2l2.6-2.3-3.2-3.1-2.7 2.3zM249.3 554.9l2.6-2.3-3.2-3.1-2.6 2.3zM251.9 552.6l2.5-2.1-3.2-3.2-2.5 2.2zM254.4 550.5l2.5-2.2-3.2-3.1-2.5 2.1zM256.9 548.3l2.5-2-3.2-3.2-2.5 2.1zM232.4 564.1l2.9-2.6-3.3-2.9-2.8 2.6zM235.3 561.5l2.7-2.6-3.2-2.8-2.8 2.5zM238 558.9l2.7-2.4-3.2-2.9-2.7 2.5zM240.7 556.5l2.7-2.4-3.2-2.9-2.7 2.4zM226.3 563.9l2.9-2.7-3.3-2.7-2.8 2.7zM229.2 561.2l2.8-2.6-3.2-2.7-2.9 2.6zM232 558.6l2.8-2.5-3.3-2.7-2.7 2.5zM220.2 564l2.9-2.8-3.2-2.6-2.9 2.7zM223.1 561.2l2.8-2.7-3.2-2.6-2.8 2.7zM225.9 558.5l2.9-2.6-3.2-2.5-2.9 2.5zM214 564.1l3-2.8-3.2-2.5-3 2.8zM217 561.3l2.9-2.7-3.2-2.5-2.9 2.7zM219.9 558.6l2.8-2.7-3.1-2.4-2.9 2.6zM210.8 561.6l3-2.8-3.1-2.4-3 2.8zM213.8 558.8l2.9-2.7-3.1-2.4-2.9 2.7zM204.7 562l3-2.8-3-2.4-3 2.8zM207.7 559.2l3-2.8-3.1-2.3-2.9 2.7zM210.7 556.4l2.9-2.7-3.1-2.3-2.9 2.7zM201.7 559.6l3-2.8-3.1-2.2-3 2.7zM204.7 556.8l2.9-2.7-3-2.3-3 2.8zM198.6 557.3l3-2.7-3-2.3-3 2.8zM201.6 554.6l3-2.8-3-2.2-3 2.7zM192.6 557.9l3-2.8-2.9-2.2-3 2.8zM195.6 555.1l3-2.8-2.9-2.1-3 2.7zM189.7 555.7l3-2.8-2.9-2.2-3 2.8zM192.7 552.9l3-2.7-2.9-2.2-3 2.7zM186.8 553.5l3-2.8-2.9-2.1-3 2.8zM189.8 550.7l3-2.7-2.9-2.1-3 2.7zM183.9 551.4l3-2.8-2.8-2-3 2.7zM186.9 548.6l3-2.7-2.8-2-3 2.7zM178.1 552.1l3-2.8-2.8-2.1-3 2.8zM181.1 549.3l3-2.7-2.7-2.1-3.1 2.7zM175.3 550l3-2.8-2.7-2-3 2.8zM178.3 547.2l3.1-2.7-2.8-2-3 2.7zM172.6 548l3-2.8-2.7-2-3 2.7zM175.6 545.2l3-2.7-2.7-2-3 2.7zM169.9 545.9l3-2.7-2.6-2-3.1 2.8zM172.9 543.2l3-2.7-2.6-1.9-3 2.6zM167.2 544l3.1-2.8-2.7-1.9-3 2.7zM164.6 542l3-2.7-2.5-1.9-3.1 2.7zM162 540.1l3.1-2.7-2.6-1.9-3 2.7zM156.5 540.9l3-2.7-2.5-1.9-3 2.7zM159.5 538.2l3-2.7-2.5-1.9-3 2.7zM154 539l3-2.7-2.5-1.9-3 2.7zM157 536.3l3-2.7-2.5-1.9-3 2.7zM151.5 537.1l3-2.7-2.4-1.8-3 2.7zM154.5 534.4l3-2.7-2.4-1.8-3 2.7zM149.1 535.3l3-2.7-2.4-1.8-3 2.7zM146.7 533.5l3-2.7-2.4-1.8-3 2.7zM144.3 531.7l3-2.7-2.3-1.8-3 2.7zM142 529.9l3-2.7-2.3-1.7-3 2.7zM139.7 528.2l3-2.7-2.3-1.7-3 2.7zM137.4 526.5l3-2.7-2.2-1.7-3 2.7zM132.2 527.5l3-2.7-2.2-1.6-3 2.7zM135.2 524.8l3-2.7-2.2-1.6-3 2.7zM130 525.9l3-2.7-2.2-1.6-3 2.7zM133 523.2l3-2.7-2.2-1.6-3 2.7zM127.8 524.3l3-2.7-2.1-1.6-3 2.7zM130.8 521.6l3-2.7-2.2-1.6-2.9 2.7zM125.7 522.7l3-2.7-2.1-1.5-3 2.7zM123.6 521.2l3-2.7-2.1-1.5-3 2.7zM121.5 519.7l3-2.7-2.1-1.4-2.9 2.6zM119.5 518.2l2.9-2.6-2-1.4-2.9 2.7zM117.5 516.9l2.9-2.7-2-1.4-2.9 2.7zM118.4 512.8l2.9-2.7-2-1.2-2.8 2.7zM116.5 511.6l2.8-2.7-1.9-1.2-2.9 2.7zM114.5 510.4l2.9-2.7-1.9-1-2.9 2.7zM112.6 509.4l2.9-2.7-1.9-.9-2.8 2.8zM111.8 505.1l2.8-2.9-1.8-.6-2.8 3z"/>
<path class="c10" d="M287.4 528.7l2-1.8-3-3.2-2.1 1.8zM289.4 526.9l2.1-1.8-3.1-3.1-2 1.7zM291.5 525.1l2-1.7-3.1-3.1-2 1.7zM293.5 523.4l2-1.7-3.1-3.1-2 1.7zM295.5 521.7l1.9-1.7-3-3.1-2 1.7zM297.4 520l1.9-1.7-3-3-1.9 1.6zM299.3 518.3l1.9-1.6-3-2.9-1.9 1.5zM301.2 516.7l1.9-1.6-3-2.8-1.9 1.5zM303.1 515.1l1.9-1.5-3-2.7-1.9 1.4zM259.4 546.3l2.4-2.1-3.1-3.1-2.5 2zM261.8 544.2l2.4-2-3.1-3.1-2.4 2zM264.2 542.2l2.4-1.9-3.2-3.2-2.3 2zM266.6 540.3l2.3-2-3.1-3.1-2.4 1.9zM268.9 538.3l2.3-1.9-3.1-3.1-2.3 1.9zM271.2 536.4l2.3-1.9-3.2-3.1-2.2 1.9zM273.5 534.5l2.2-1.8-3.1-3.1-2.3 1.8zM275.7 532.7l2.2-1.9-3.1-3-2.2 1.8zM277.9 530.8l2.1-1.8-3-3-2.2 1.8zM280 529l2.2-1.8-3.1-3-2.1 1.8zM243.4 554.1l2.7-2.3-3.3-2.9-2.6 2.3zM246.1 551.8l2.6-2.3-3.3-2.8-2.6 2.2zM248.7 549.5l2.5-2.2-3.2-2.8-2.6 2.2zM251.2 547.3l2.5-2.1-3.2-2.9-2.5 2.2zM253.7 545.2l2.5-2.1-3.2-2.8-2.5 2zM256.2 543.1l2.5-2-3.2-2.9-2.5 2.1zM234.8 556.1l2.7-2.5-3.2-2.7-2.8 2.5zM237.5 553.6l2.7-2.4-3.2-2.7-2.7 2.4zM240.2 551.2l2.6-2.3-3.2-2.7-2.6 2.3zM242.8 548.9l2.6-2.2-3.2-2.7-2.6 2.2zM228.8 555.9l2.7-2.5-3.2-2.6-2.7 2.6zM231.5 553.4l2.8-2.5-3.2-2.5-2.8 2.4zM234.3 550.9l2.7-2.4-3.2-2.5-2.7 2.4zM222.7 555.9l2.9-2.5-3.2-2.5-2.8 2.6zM225.6 553.4l2.7-2.6-3.1-2.4-2.8 2.5zM228.3 550.8l2.8-2.4-3.2-2.5-2.7 2.5zM216.7 556.1l2.9-2.6-3.1-2.4-2.9 2.6zM219.6 553.5l2.8-2.6-3.1-2.4-2.8 2.6zM222.4 550.9l2.8-2.5-3.1-2.4-2.8 2.5zM213.6 553.7l2.9-2.6-3.1-2.3-2.9 2.6zM216.5 551.1l2.8-2.6-3.1-2.3-2.8 2.6zM207.6 554.1l2.9-2.7-3-2.2-2.9 2.6zM210.5 551.4l2.9-2.6-3-2.3-2.9 2.7zM204.6 551.8l2.9-2.6-3-2.2-2.9 2.6zM207.5 549.2l2.9-2.7-3-2.1-2.9 2.6zM198.6 552.3l3-2.7-3-2.1-2.9 2.7zM201.6 549.6l2.9-2.6-2.9-2.2-3 2.7zM195.7 550.2l2.9-2.7-2.9-2.2-2.9 2.7zM198.6 547.5l3-2.7-2.9-2.1-3 2.6zM192.8 548l2.9-2.7-2.8-2-3 2.6zM195.7 545.3l3-2.6-2.9-2.1-2.9 2.7zM189.9 545.9l3-2.6-2.8-2.1-3 2.7zM184.1 546.6l3-2.7-2.8-2.1-2.9 2.7zM187.1 543.9l3-2.7-2.8-2-3 2.6zM181.4 544.5l2.9-2.7-2.7-2-3 2.7zM184.3 541.8l3-2.6-2.8-2-2.9 2.6zM178.6 542.5l3-2.7-2.7-2-3 2.7zM181.6 539.8l2.9-2.6-2.7-2-2.9 2.6zM175.9 540.5l3-2.7-2.7-1.9-2.9 2.7zM170.3 541.2l3-2.6-2.7-2-3 2.7zM173.3 538.6l2.9-2.7-2.6-1.9-3 2.6zM167.6 539.3l3-2.7-2.5-1.9-3 2.7zM170.6 536.6l3-2.6-2.6-1.9-2.9 2.6zM165.1 537.4l3-2.7-2.6-1.9-3 2.7zM168.1 534.7l2.9-2.6-2.5-1.9-3 2.6zM162.5 535.5l3-2.7-2.5-1.9-3 2.7zM160 533.6l3-2.7-2.5-1.8-3 2.6zM157.5 531.7l3-2.6-2.4-1.8-3 2.6zM152.1 532.6l3-2.7-2.4-1.8-3 2.7zM155.1 529.9l3-2.6-2.5-1.8-2.9 2.6zM149.7 530.8l3-2.7-2.4-1.8-3 2.7zM152.7 528.1l2.9-2.6-2.3-1.8-3 2.6zM147.3 529l3-2.7-2.3-1.7-3 2.6zM145 527.2l3-2.6-2.3-1.8-3 2.7zM142.7 525.5l3-2.7-2.3-1.7-3 2.7zM140.4 523.8l3-2.7-2.3-1.6-2.9 2.6zM138.2 522.1l2.9-2.6-2.2-1.7-2.9 2.7zM136 520.5l2.9-2.7-2.2-1.6-2.9 2.7zM133.8 518.9l2.9-2.7-2.2-1.6-2.9 2.7zM128.7 520l2.9-2.7-2.1-1.5-2.9 2.7zM131.6 517.3l2.9-2.7-2.1-1.5-2.9 2.7zM126.6 518.5l2.9-2.7-2.1-1.5-2.9 2.7zM129.5 515.8l2.9-2.7-2.1-1.5-2.9 2.7zM124.5 517l2.9-2.7-2.1-1.4-2.9 2.7zM127.4 514.3l2.9-2.7-2.1-1.5-2.9 2.8zM122.4 515.6l2.9-2.7-2-1.4-2.9 2.7zM120.4 514.2l2.9-2.7-2-1.4-2.9 2.7zM123.3 511.5l2.9-2.8-2.1-1.3-2.8 2.7zM121.3 510.1l2.8-2.7-1.9-1.3-2.9 2.8zM119.3 508.9l2.9-2.8-2-1.2-2.8 2.8zM117.4 507.7l2.8-2.8-1.9-1-2.8 2.8zM115.5 506.7l2.8-2.8-1.9-1-2.8 2.9zM113.6 505.8l2.8-2.9-1.8-.7-2.8 2.9zM114.6 502.2l2.7-3-1.8-.7-2.7 3.1z"/>
<path class="c11" d="M282.2 527.2l2.1-1.7-3.1-3.1-2.1 1.8zM284.3 525.5l2.1-1.8-3.1-3-2.1 1.7zM286.4 523.7l2-1.7-3-3-2.1 1.7zM288.4 522l2-1.7-3-3-2 1.7zM290.4 520.3l2-1.7-3-3-2 1.7zM292.4 518.6l2-1.7-3-2.9-2 1.6zM294.4 516.9l1.9-1.6-2.9-2.9-2 1.6zM296.3 515.3l1.9-1.5-2.9-2.9-1.9 1.5zM298.2 513.8l1.9-1.5-2.9-2.9-1.9 1.5zM300.1 512.3l1.9-1.4-3-2.8-1.8 1.3zM258.7 541.1l2.4-2-3.2-2.9-2.4 2zM261.1 539.1l2.3-2-3.1-2.8-2.4 1.9zM263.4 537.1l2.4-1.9-3.2-2.9-2.3 2zM265.8 535.2l2.3-1.9-3.2-2.9-2.3 1.9zM268.1 533.3l2.2-1.9-3.1-2.8-2.3 1.8zM270.3 531.4l2.3-1.8-3.1-2.9-2.3 1.9zM272.6 529.6l2.2-1.8-3.1-2.9-2.2 1.8zM274.8 527.8l2.2-1.8-3.1-2.9-2.2 1.8zM277 526l2.1-1.8-3.1-2.9-2.1 1.8zM245.4 546.7l2.6-2.2-3.2-2.7-2.6 2.2zM248 544.5l2.5-2.2-3.1-2.7-2.6 2.2zM250.5 542.3l2.5-2-3.1-2.7-2.5 2zM253 540.3l2.5-2.1-3.2-2.7-2.4 2.1zM255.5 538.2l2.4-2-3.1-2.7-2.5 2zM257.9 536.2l2.4-1.9-3.2-2.8-2.3 2zM237 548.5l2.6-2.3-3.1-2.5-2.7 2.3zM239.6 546.2l2.6-2.2-3.1-2.6-2.6 2.3zM242.2 544l2.6-2.2-3.1-2.6-2.6 2.2zM244.8 541.8l2.6-2.2-3.2-2.5-2.5 2.1zM231.1 548.4l2.7-2.4-3.1-2.5-2.8 2.4zM233.8 546l2.7-2.3-3.2-2.5-2.6 2.3zM236.5 543.7l2.6-2.3-3.1-2.5-2.7 2.3zM225.2 548.4l2.7-2.5-3.1-2.4-2.7 2.5zM227.9 545.9l2.8-2.4-3.1-2.3-2.8 2.3zM230.7 543.5l2.6-2.3-3.1-2.4-2.6 2.4zM219.3 548.5l2.8-2.5-3.1-2.3-2.8 2.5zM222.1 546l2.7-2.5-3-2.3-2.8 2.5zM224.8 543.5l2.8-2.3-3.1-2.3-2.7 2.3zM213.4 548.8l2.8-2.6-3-2.2-2.8 2.5zM216.2 546.2l2.8-2.5-3-2.2-2.8 2.5zM219 543.7l2.8-2.5-3-2.2-2.8 2.5zM210.4 546.5l2.8-2.5-3-2.2-2.8 2.6zM213.2 544l2.8-2.5-3-2.2-2.8 2.5zM204.5 547l2.9-2.6-3-2.2-2.8 2.6zM207.4 544.4l2.8-2.6-2.9-2.1-2.9 2.5zM210.2 541.8l2.8-2.5-2.9-2.1-2.8 2.5zM201.6 544.8l2.8-2.6-2.9-2.1-2.8 2.6zM204.4 542.2l2.9-2.5-2.9-2.1-2.9 2.5zM198.7 542.7l2.8-2.6-2.8-2.1-2.9 2.6zM201.5 540.1l2.9-2.5-2.9-2.1-2.8 2.5zM192.9 543.3l2.9-2.7-2.8-2-2.9 2.6zM195.8 540.6l2.9-2.6-2.9-2-2.8 2.6zM190.1 541.2l2.9-2.6-2.8-2-2.9 2.6zM193 538.6l2.8-2.6-2.8-2-2.8 2.6zM187.3 539.2l2.9-2.6-2.8-2-2.9 2.6zM190.2 536.6l2.8-2.6-2.7-2-2.9 2.6zM184.5 537.2l2.9-2.6-2.7-2-2.9 2.6zM178.9 537.8l2.9-2.6-2.6-1.9-3 2.6zM181.8 535.2l2.9-2.6-2.7-1.9-2.8 2.6zM176.2 535.9l3-2.6-2.7-2-2.9 2.7zM179.2 533.3l2.8-2.6-2.6-2-2.9 2.6zM173.6 534l2.9-2.7-2.6-1.9-2.9 2.7zM171 532.1l2.9-2.7-2.5-1.9-2.9 2.7zM165.5 532.8l3-2.6-2.6-1.9-2.9 2.6zM168.5 530.2l2.9-2.7-2.6-1.8-2.9 2.6zM163 530.9l2.9-2.6-2.5-1.9-2.9 2.7zM165.9 528.3l2.9-2.6-2.5-1.9-2.9 2.6zM160.5 529.1l2.9-2.7-2.4-1.8-2.9 2.7zM158.1 527.3l2.9-2.7-2.4-1.8-3 2.7zM155.6 525.5l3-2.7-2.4-1.8-2.9 2.7zM150.3 526.3l3-2.6-2.4-1.8-2.9 2.7zM153.3 523.7l2.9-2.7-2.4-1.8-2.9 2.7zM148 524.6l2.9-2.7-2.3-1.7-2.9 2.6zM150.9 521.9l2.9-2.7-2.3-1.7-2.9 2.7zM145.7 522.8l2.9-2.6-2.3-1.7-2.9 2.6zM143.4 521.1l2.9-2.6-2.3-1.7-2.9 2.7zM141.1 519.5l2.9-2.7-2.2-1.7-2.9 2.7zM138.9 517.8l2.9-2.7-2.2-1.6-2.9 2.7zM136.7 516.2l2.9-2.7-2.2-1.6-2.9 2.7zM134.5 514.6l2.9-2.7-2.1-1.5-2.9 2.7zM132.4 513.1l2.9-2.7-2.2-1.5-2.8 2.7zM130.3 511.6l2.8-2.7-2-1.5-2.9 2.7zM125.3 512.9l2.9-2.8-2-1.4-2.9 2.8zM128.2 510.1l2.9-2.7-2.1-1.4-2.8 2.7zM126.2 508.7l2.8-2.7-2-1.4-2.9 2.8zM124.1 507.4l2.9-2.8-2-1.3-2.8 2.8zM122.2 506.1l2.8-2.8-2-1.2-2.8 2.8zM120.2 504.9l2.8-2.8-1.9-1.1-2.8 2.9zM118.3 503.9l2.8-2.9-1.9-1-2.8 2.9zM116.4 502.9l2.8-2.9-1.9-.8-2.7 3z"/>
<path class="c12" d="M279.1 524.2l2.1-1.8-3-2.9-2.2 1.8zM281.2 522.4l2.1-1.7-3-2.9-2.1 1.7zM283.3 520.7l2.1-1.7-3-2.9-2.1 1.7zM285.4 519l2-1.7-3-2.9-2 1.7zM287.4 517.3l2-1.7-3-2.8-2 1.6zM289.4 515.6l2-1.6-3-2.9-2 1.7zM291.4 514l2-1.6-3-2.8-2 1.5zM293.4 512.4l1.9-1.5-3-2.8-1.9 1.5zM295.3 510.9l1.9-1.5-3-2.8-1.9 1.5zM297.2 509.4l1.8-1.3-2.9-2.9-1.9 1.4zM260.3 534.3l2.3-2-3.1-2.7-2.4 1.9zM262.6 532.3l2.3-1.9-3.1-2.7-2.3 1.9zM264.9 530.4l2.3-1.8-3.1-2.8-2.3 1.9zM267.2 528.6l2.3-1.9-3.1-2.8-2.3 1.9zM269.5 526.7l2.2-1.8-3.1-2.8-2.2 1.8zM271.7 524.9l2.2-1.8-3.1-2.8-2.2 1.8zM273.9 523.1l2.1-1.8-3-2.8-2.2 1.8zM276 521.3l2.2-1.8-3-2.7-2.2 1.7zM247.4 539.6l2.5-2-3.2-2.6-2.5 2.1zM249.9 537.6l2.4-2.1-3.1-2.6-2.5 2.1zM252.3 535.5l2.5-2-3.2-2.6-2.4 2zM254.8 533.5l2.3-2-3-2.6-2.5 2zM257.1 531.5l2.4-1.9-3.1-2.7-2.3 2zM259.5 529.6l2.3-1.9-3-2.7-2.4 1.9zM239.1 541.4l2.6-2.2-3.1-2.5-2.6 2.2zM241.7 539.2l2.5-2.1-3.1-2.5-2.5 2.1zM244.2 537.1l2.5-2.1-3.1-2.6-2.5 2.2zM246.7 535l2.5-2.1-3.1-2.5-2.5 2zM249.2 532.9l2.4-2-3-2.6-2.5 2.1zM233.3 541.2l2.7-2.3-3.1-2.3-2.7 2.2zM236 538.9l2.6-2.2-3.1-2.4-2.6 2.3zM238.6 536.7l2.5-2.1-3.1-2.4-2.5 2.1zM227.6 541.2l2.6-2.4-3-2.3-2.7 2.4zM230.2 538.8l2.7-2.2-3.1-2.4-2.6 2.3zM232.9 536.6l2.6-2.3-3.1-2.3-2.6 2.2zM221.8 541.2l2.7-2.3-3-2.3-2.7 2.4zM224.5 538.9l2.7-2.4-3-2.2-2.7 2.3zM227.2 536.5l2.6-2.3-3-2.2-2.6 2.3zM216 541.5l2.8-2.5-3-2.1-2.8 2.4zM218.8 539l2.7-2.4-3-2.1-2.7 2.4zM221.5 536.6l2.7-2.3-3-2.2-2.7 2.4zM213 539.3l2.8-2.4-3-2.2-2.7 2.5zM215.8 536.9l2.7-2.4-2.9-2.2-2.8 2.4zM207.3 539.7l2.8-2.5-2.9-2.1-2.8 2.5zM210.1 537.2l2.7-2.5-2.9-2.1-2.7 2.5zM204.4 537.6l2.8-2.5-2.9-2.1-2.8 2.5zM207.2 535.1l2.7-2.5-2.8-2.1-2.8 2.5zM198.7 538l2.8-2.5-2.8-2-2.9 2.5zM201.5 535.5l2.8-2.5-2.8-2-2.8 2.5zM195.8 536l2.9-2.5-2.8-2-2.9 2.5zM198.7 533.5l2.8-2.5-2.8-2.1-2.8 2.6zM193 534l2.9-2.5-2.8-2-2.8 2.5zM187.4 534.6l2.9-2.6-2.7-2-2.9 2.6zM190.3 532l2.8-2.5-2.7-2-2.8 2.5zM184.7 532.6l2.9-2.6-2.7-1.9-2.9 2.6zM187.6 530l2.8-2.5-2.7-2-2.8 2.6zM182 530.7l2.9-2.6-2.6-2-2.9 2.6zM176.5 531.3l2.9-2.6-2.6-1.9-2.9 2.6zM179.4 528.7l2.9-2.6-2.6-1.9-2.9 2.6zM173.9 529.4l2.9-2.6-2.6-1.9-2.8 2.6zM176.8 526.8l2.9-2.6-2.6-1.9-2.9 2.6zM171.4 527.5l2.8-2.6-2.5-1.9-2.9 2.7zM168.8 525.7l2.9-2.7-2.5-1.8-2.9 2.6zM163.4 526.4l2.9-2.6-2.4-1.8-2.9 2.6zM166.3 523.8l2.9-2.6-2.5-1.9-2.8 2.7zM161 524.6l2.9-2.6-2.5-1.9-2.8 2.7zM163.9 522l2.8-2.7-2.4-1.8-2.9 2.6zM158.6 522.8l2.8-2.7-2.4-1.8-2.8 2.7zM156.2 521l2.8-2.7-2.3-1.7-2.9 2.6zM153.8 519.2l2.9-2.6-2.4-1.8-2.8 2.7zM148.6 520.2l2.9-2.7-2.3-1.7-2.9 2.7zM151.5 517.5l2.8-2.7-2.3-1.7-2.8 2.7zM146.3 518.5l2.9-2.7-2.3-1.7-2.9 2.7zM144 516.8l2.9-2.7-2.2-1.7-2.9 2.7zM141.8 515.1l2.9-2.7-2.3-1.6-2.8 2.7zM139.6 513.5l2.8-2.7-2.1-1.6-2.9 2.7zM137.4 511.9l2.9-2.7-2.2-1.6-2.8 2.8zM135.3 510.4l2.8-2.8-2.1-1.5-2.9 2.8zM133.1 508.9l2.9-2.8-2.1-1.5-2.8 2.8zM123 502.1l2.8-2.9-2-1.1-2.7 2.9zM121.1 501l2.7-2.9-1.9-1-2.7 2.9zM119.2 500l2.7-2.9-1.9-.9-2.7 3zM117.3 499.2l2.7-3-1.8-.7-2.7 3z"/>
<path class="c13" d="M278.2 519.5l2.1-1.7-3-2.8-2.1 1.8zM280.3 517.8l2.1-1.7-3-2.8-2.1 1.7zM282.4 516.1l2-1.7-3-2.8-2 1.7zM284.4 514.4l2-1.6-2.9-2.8-2.1 1.6zM286.4 512.8l2-1.7-2.9-2.7-2 1.6zM288.4 511.1l2-1.5-3-2.8-1.9 1.6zM290.4 509.6l1.9-1.5-2.9-2.8-2 1.5zM292.3 508.1l1.9-1.5-2.9-2.8-1.9 1.5zM294.2 506.6l1.9-1.4-2.9-2.8-1.9 1.4zM261.8 527.7l2.3-1.9-3-2.7-2.3 1.9zM264.1 525.8l2.3-1.9-3.1-2.6-2.2 1.8zM266.4 523.9l2.2-1.8-3-2.7-2.3 1.9zM268.6 522.1l2.2-1.8-3-2.7-2.2 1.8zM270.8 520.3l2.2-1.8-3-2.7-2.2 1.8zM273 518.5l2.2-1.7-3-2.7-2.2 1.7zM275.2 516.8l2.1-1.8-3-2.7-2.1 1.8zM251.6 530.9l2.5-2-3.1-2.6-2.4 2zM254.1 528.9l2.3-2-3-2.5-2.4 1.9zM256.4 526.9l2.4-1.9-3.1-2.6-2.3 2zM258.8 525l2.3-1.9-3.1-2.6-2.3 1.9zM261.1 523.1l2.2-1.8-3-2.6-2.3 1.8zM241.1 534.6l2.5-2.2-3-2.4-2.6 2.2zM243.6 532.4l2.5-2-3-2.5-2.5 2.1zM246.1 530.4l2.5-2.1-3.1-2.4-2.4 2zM248.6 528.3l2.4-2-3.1-2.4-2.4 2zM251 526.3l2.4-1.9-3.1-2.5-2.4 2zM235.5 534.3l2.5-2.1-3-2.4-2.6 2.2zM238 532.2l2.6-2.2-3.1-2.3-2.5 2.1zM240.6 530l2.5-2.1-3.1-2.3-2.5 2.1zM229.8 534.2l2.6-2.2-3-2.2-2.6 2.2zM232.4 532l2.6-2.2-3-2.2-2.6 2.2zM235 529.8l2.5-2.1-3-2.3-2.5 2.2zM224.2 534.3l2.6-2.3-3-2.2-2.6 2.3zM226.8 532l2.6-2.2-2.9-2.3-2.7 2.3zM218.5 534.5l2.7-2.4-3-2.1-2.6 2.3zM221.2 532.1l2.6-2.3-2.9-2.2-2.7 2.4zM212.8 534.7l2.8-2.4-2.9-2.1-2.8 2.4zM215.6 532.3l2.6-2.3-2.9-2.2-2.6 2.4zM218.2 530l2.7-2.4-2.9-2.1-2.7 2.3zM209.9 532.6l2.8-2.4-2.9-2.1-2.7 2.4zM212.7 530.2l2.6-2.4-2.8-2.1-2.7 2.4zM204.3 533l2.8-2.5-2.9-2-2.7 2.5zM207.1 530.5l2.7-2.4-2.8-2-2.8 2.4zM201.5 531l2.7-2.5-2.8-2-2.7 2.4zM204.2 528.5l2.8-2.4-2.8-2.1-2.8 2.5zM195.9 531.5l2.8-2.6-2.8-2-2.8 2.6zM198.7 528.9l2.7-2.4-2.7-2-2.8 2.4zM193.1 529.5l2.8-2.6-2.7-1.9-2.8 2.5zM195.9 526.9l2.8-2.4-2.7-2-2.8 2.5zM190.4 527.5l2.8-2.5-2.7-2-2.8 2.5zM184.9 528.1l2.8-2.6-2.6-1.9-2.8 2.5zM187.7 525.5l2.8-2.5-2.6-2-2.8 2.6zM182.3 526.1l2.8-2.5-2.6-1.9-2.8 2.5zM185.1 523.6l2.8-2.6-2.6-1.9-2.8 2.6zM179.7 524.2l2.8-2.5-2.6-2-2.8 2.6zM174.2 524.9l2.9-2.6-2.6-1.9-2.8 2.6zM177.1 522.3l2.8-2.6-2.5-1.9-2.9 2.6zM171.7 523l2.8-2.6-2.5-1.8-2.8 2.6zM169.2 521.2l2.8-2.6-2.4-1.9-2.9 2.6zM166.7 519.3l2.9-2.6-2.5-1.9-2.8 2.7zM161.4 520.1l2.9-2.6-2.4-1.8-2.9 2.6zM164.3 517.5l2.8-2.7-2.4-1.8-2.8 2.7zM159 518.3l2.9-2.6-2.4-1.8-2.8 2.7zM156.7 516.6l2.8-2.7-2.3-1.8-2.9 2.7zM154.3 514.8l2.9-2.7-2.4-1.7-2.8 2.7zM149.2 515.8l2.8-2.7-2.3-1.7-2.8 2.7zM146.9 514.1l2.8-2.7-2.2-1.7-2.8 2.7zM144.7 512.4l2.8-2.7-2.2-1.6-2.9 2.7zM142.4 510.8l2.9-2.7-2.2-1.7-2.8 2.8zM140.3 509.2l2.8-2.8-2.2-1.5-2.8 2.7zM138.1 507.6l2.8-2.7-2.1-1.6-2.8 2.8zM136 506.1l2.8-2.8-2.2-1.5-2.7 2.8zM131.1 507.4l2.8-2.8-2.1-1.4-2.8 2.8zM129 506l2.8-2.8-2-1.4-2.8 2.8zM127 504.6l2.8-2.8-2.1-1.3-2.7 2.8zM125 503.3l2.7-2.8-1.9-1.3-2.8 2.9zM121.9 497.1l2.7-3-1.9-1-2.7 3.1zM120 496.2l2.7-3.1-1.9-.8-2.6 3.2z"/>
<path class="c14" d="M277.3 515l2.1-1.7-3-2.7-2.1 1.7zM279.4 513.3l2-1.7-2.9-2.7-2.1 1.7zM281.4 511.6l2.1-1.6-3-2.8-2 1.7zM283.5 510l2-1.6-3-2.8-2 1.6zM285.5 508.4l1.9-1.6-2.9-2.8-2 1.6zM287.4 506.8l2-1.5-2.9-2.8-2 1.5zM289.4 505.3l1.9-1.5-2.9-2.8-1.9 1.5zM263.3 521.3l2.3-1.9-3-2.6-2.3 1.9zM265.6 519.4l2.2-1.8-3-2.6-2.2 1.8zM267.8 517.6l2.2-1.8-3-2.6-2.2 1.8zM270 515.8l2.2-1.7-3-2.7-2.2 1.8zM272.2 514.1l2.1-1.8-3-2.6-2.1 1.7zM253.4 524.4l2.3-2-3-2.5-2.4 2zM255.7 522.4l2.3-1.9-3-2.5-2.3 1.9zM258 520.5l2.3-1.8-3-2.6-2.3 1.9zM260.3 518.7l2.3-1.9-3-2.5-2.3 1.8zM243.1 527.9l2.4-2-3-2.4-2.5 2.1zM245.5 525.9l2.4-2-3-2.4-2.4 2zM247.9 523.9l2.4-2-3-2.4-2.4 2zM250.3 521.9l2.4-2-3-2.4-2.4 2zM237.5 527.7l2.5-2.1-2.9-2.3-2.6 2.1zM240 525.6l2.5-2.1-3-2.3-2.4 2.1zM242.5 523.5l2.4-2-2.9-2.4-2.5 2.1zM229.4 529.8l2.6-2.2-3-2.3-2.5 2.2zM232 527.6l2.5-2.2-2.9-2.3-2.6 2.2zM234.5 525.4l2.6-2.1-3-2.3-2.5 2.1zM223.8 529.8l2.7-2.3-3-2.1-2.6 2.2zM226.5 527.5l2.5-2.2-2.9-2.2-2.6 2.3zM229 525.3l2.6-2.2-2.9-2.2-2.6 2.2zM220.9 527.6l2.6-2.2-2.9-2.2-2.6 2.3zM223.5 525.4l2.6-2.3-2.9-2.1-2.6 2.2zM215.3 527.8l2.7-2.3-2.9-2.1-2.6 2.3zM218 525.5l2.6-2.3-2.8-2.1-2.7 2.3zM209.8 528.1l2.7-2.4-2.8-2-2.7 2.4zM212.5 525.7l2.6-2.3-2.8-2.1-2.6 2.4zM207 526.1l2.7-2.4-2.8-2.1-2.7 2.4zM209.7 523.7l2.6-2.4-2.8-2.1-2.6 2.4zM201.4 526.5l2.8-2.5-2.8-2-2.7 2.5zM204.2 524l2.7-2.4-2.8-2-2.7 2.4zM198.7 524.5l2.7-2.5-2.7-2-2.7 2.5zM193.2 525l2.8-2.5-2.7-2-2.8 2.5zM196 522.5l2.7-2.5-2.7-2-2.7 2.5zM190.5 523l2.8-2.5-2.7-2-2.7 2.5zM187.9 521l2.7-2.5-2.6-1.9-2.7 2.5zM182.5 521.7l2.8-2.6-2.6-1.9-2.8 2.5zM185.3 519.1l2.7-2.5-2.6-2-2.7 2.6zM179.9 519.7l2.8-2.5-2.6-2-2.7 2.6zM174.5 520.4l2.9-2.6-2.6-1.9-2.8 2.7zM177.4 517.8l2.7-2.6-2.5-1.9-2.8 2.6zM172 518.6l2.8-2.7-2.4-1.8-2.8 2.6zM169.6 516.7l2.8-2.6-2.5-1.9-2.8 2.6zM167.1 514.8l2.8-2.6-2.4-1.9-2.8 2.7zM161.9 515.7l2.8-2.7-2.4-1.8-2.8 2.7zM159.5 513.9l2.8-2.7-2.3-1.8-2.8 2.7zM157.2 512.1l2.8-2.7-2.4-1.8-2.8 2.8zM152 513.1l2.8-2.7-2.2-1.8-2.9 2.8zM154.8 510.4l2.8-2.8-2.3-1.7-2.7 2.7zM149.7 511.4l2.9-2.8-2.3-1.7-2.8 2.8zM147.5 509.7l2.8-2.8-2.2-1.6-2.8 2.8zM145.3 508.1l2.8-2.8-2.3-1.7-2.7 2.8zM143.1 506.4l2.7-2.8-2.1-1.6-2.8 2.9zM140.9 504.9l2.8-2.9-2.2-1.5-2.7 2.8zM133.9 504.6l2.7-2.8-2-1.4-2.8 2.8zM131.8 503.2l2.8-2.8-2.1-1.5-2.7 2.9zM129.8 501.8l2.7-2.9-2-1.3-2.8 2.9zM127.7 500.5l2.8-2.9-2-1.3-2.7 2.9zM125.8 499.2l2.7-2.9-2-1.2-2.7 3zM123.8 498.1l2.7-3-1.9-1-2.7 3z"/>
<path class="c15" d="M291.3 503.8l1.9-1.4-2.9-2.8-1.9 1.4zM274.3 512.3l2.1-1.7-3-2.7-2.1 1.8zM276.4 510.6l2.1-1.7-3-2.7-2.1 1.7zM278.5 508.9l2-1.7-2.9-2.7-2.1 1.7zM280.5 507.2l2-1.6-2.9-2.7-2 1.6zM282.5 505.6l2-1.6-2.9-2.7-2 1.6zM284.5 504l2-1.5-2.9-2.8-2 1.6zM262.6 516.8l2.2-1.8-3-2.6-2.2 1.9zM264.8 515l2.2-1.8-2.9-2.6-2.3 1.8zM267 513.2l2.2-1.8-3-2.6-2.1 1.8zM269.2 511.4l2.1-1.7-2.9-2.7-2.2 1.8zM271.3 509.7l2.1-1.8-2.9-2.6-2.1 1.7zM252.7 519.9l2.3-1.9-2.9-2.5-2.4 2zM255 518l2.3-1.9-2.9-2.5-2.3 1.9zM257.3 516.1l2.3-1.8-2.9-2.6-2.3 1.9zM259.6 514.3l2.2-1.9-2.9-2.5-2.2 1.8zM244.9 521.5l2.4-2-2.9-2.4-2.4 2zM247.3 519.5l2.4-2-2.9-2.4-2.4 2zM249.7 517.5l2.4-2-3-2.4-2.3 2zM237.1 523.3l2.4-2.1-2.9-2.3-2.5 2.1zM239.5 521.2l2.5-2.1-3-2.3-2.4 2.1zM242 519.1l2.4-2-2.9-2.4-2.5 2.1zM231.6 523.1l2.5-2.1-2.9-2.2-2.5 2.1zM234.1 521l2.5-2.1-2.9-2.3-2.5 2.2zM236.6 518.9l2.4-2.1-2.9-2.3-2.4 2.1zM226.1 523.1l2.6-2.2-2.9-2.2-2.6 2.3zM228.7 520.9l2.5-2.1-2.9-2.3-2.5 2.2zM220.6 523.2l2.6-2.2-2.8-2.2-2.6 2.3zM223.2 521l2.6-2.3-2.9-2.1-2.5 2.2zM215.1 523.4l2.7-2.3-2.9-2.1-2.6 2.3zM217.8 521.1l2.6-2.3-2.9-2.1-2.6 2.3zM212.3 521.3l2.6-2.3-2.7-2.1-2.7 2.3zM214.9 519l2.6-2.3-2.7-2.1-2.6 2.3zM206.9 521.6l2.6-2.4-2.7-2-2.7 2.4zM209.5 519.2l2.7-2.3-2.8-2.1-2.6 2.4zM201.4 522l2.7-2.4-2.7-2-2.7 2.4zM204.1 519.6l2.7-2.4-2.7-2.1-2.7 2.5zM198.7 520l2.7-2.4-2.7-2.1-2.7 2.5zM201.4 517.6l2.7-2.5-2.7-2-2.7 2.4zM193.3 520.5l2.7-2.5-2.6-2-2.8 2.5zM196 518l2.7-2.5-2.7-2-2.6 2.5zM190.6 518.5l2.8-2.5-2.7-2-2.7 2.6zM188 516.6l2.7-2.6-2.6-2-2.7 2.6zM182.7 517.2l2.7-2.6-2.5-1.9-2.8 2.5zM185.4 514.6l2.7-2.6-2.5-1.9-2.7 2.6zM180.1 515.2l2.8-2.5-2.5-2-2.8 2.6zM174.8 515.9l2.8-2.6-2.5-1.9-2.7 2.7zM177.6 513.3l2.8-2.6-2.5-1.9-2.8 2.6zM172.4 514.1l2.7-2.7-2.4-1.9-2.8 2.7zM169.9 512.2l2.8-2.7-2.5-1.9-2.7 2.7zM164.7 513l2.8-2.7-2.4-1.8-2.8 2.7zM167.5 510.3l2.7-2.7-2.4-1.8-2.7 2.7zM162.3 511.2l2.8-2.7-2.4-1.8-2.7 2.7zM160 509.4l2.7-2.7-2.3-1.8-2.8 2.7zM157.6 507.6l2.8-2.7-2.3-1.8-2.8 2.8zM152.6 508.6l2.7-2.7-2.2-1.7-2.8 2.7zM150.3 506.9l2.8-2.7-2.3-1.7-2.7 2.8zM148.1 505.3l2.7-2.8-2.2-1.7-2.8 2.8zM145.8 503.6l2.8-2.8-2.2-1.6-2.7 2.8zM138.8 503.3l2.7-2.8-2.1-1.5-2.8 2.8zM136.6 501.8l2.8-2.8-2.1-1.5-2.7 2.9zM134.6 500.4l2.7-2.9-2.1-1.5-2.7 2.9zM132.5 498.9l2.7-2.9-2-1.4-2.7 3zM130.5 497.6l2.7-3-2-1.3-2.7 3zM128.5 496.3l2.7-3-2-1.2-2.7 3zM126.5 495.1l2.7-3-1.9-1.1-2.7 3.1zM124.6 494.1l2.7-3.1-2-1-2.6 3.1zM122.7 493.1l2.6-3.1-1.8-.8-2.7 3.1z"/>
<path class="c16" d="M286.5 502.5l1.9-1.5-2.8-2.8-2 1.5zM288.4 501l1.9-1.4-2.8-2.8-1.9 1.4zM273.4 507.9l2.1-1.7-2.9-2.6-2.1 1.7zM275.5 506.2l2.1-1.7-2.9-2.6-2.1 1.7zM277.6 504.5l2-1.6-2.9-2.7-2 1.7zM279.6 502.9l2-1.6-2.8-2.7-2.1 1.6zM281.6 501.3l2-1.6-2.8-2.7-2 1.6zM261.8 512.4l2.3-1.8-3-2.6-2.2 1.9zM264.1 510.6l2.1-1.8-2.9-2.6-2.2 1.8zM266.2 508.8l2.2-1.8-2.9-2.6-2.2 1.8zM268.4 507l2.1-1.7-2.9-2.6-2.1 1.7zM252.1 515.5l2.3-1.9-3-2.4-2.3 1.9zM254.4 513.6l2.3-1.9-3-2.4-2.3 1.9zM256.7 511.7l2.2-1.8-2.9-2.5-2.3 1.9zM258.9 509.9l2.2-1.9-2.9-2.5-2.2 1.9zM244.4 517.1l2.4-2-2.9-2.4-2.4 2zM246.8 515.1l2.3-2-2.9-2.4-2.3 2zM249.1 513.1l2.3-1.9-2.9-2.5-2.3 2zM239 516.8l2.5-2.1-2.9-2.3-2.5 2.1zM241.5 514.7l2.4-2-2.9-2.3-2.4 2zM231.2 518.8l2.5-2.2-2.9-2.2-2.5 2.1zM233.7 516.6l2.4-2.1-2.8-2.3-2.5 2.2zM236.1 514.5l2.5-2.1-2.9-2.3-2.4 2.1zM225.8 518.7l2.5-2.2-2.8-2.2-2.6 2.3zM228.3 516.5l2.5-2.1-2.8-2.3-2.5 2.2zM230.8 514.4l2.5-2.2-2.9-2.3-2.4 2.2zM220.4 518.8l2.5-2.2-2.8-2.2-2.6 2.3zM222.9 516.6l2.6-2.3-2.9-2.2-2.5 2.3zM217.5 516.7l2.6-2.3-2.8-2.2-2.5 2.4zM212.2 516.9l2.6-2.3-2.8-2.2-2.6 2.4zM214.8 514.6l2.5-2.4-2.7-2.1-2.6 2.3zM206.8 517.2l2.6-2.4-2.7-2.1-2.6 2.4zM209.4 514.8l2.6-2.4-2.7-2.1-2.6 2.4zM204.1 515.1l2.6-2.4-2.7-2.1-2.6 2.5zM198.7 515.5l2.7-2.4-2.7-2.1-2.7 2.5zM201.4 513.1l2.6-2.5-2.7-2-2.6 2.4zM193.4 516l2.6-2.5-2.6-2-2.7 2.5zM196 513.5l2.7-2.5-2.6-2-2.7 2.5zM190.7 514l2.7-2.5-2.6-2-2.7 2.5zM188.1 512l2.7-2.5-2.5-2-2.7 2.6zM182.9 512.7l2.7-2.6-2.5-2-2.7 2.6zM180.4 510.7l2.7-2.6-2.5-2-2.7 2.7zM175.1 511.4l2.8-2.6-2.5-1.9-2.7 2.6zM172.7 509.5l2.7-2.6-2.4-2-2.8 2.7zM170.2 507.6l2.8-2.7-2.4-1.9-2.8 2.8zM165.1 508.5l2.7-2.7-2.3-1.9-2.8 2.8zM162.7 506.7l2.8-2.8-2.4-1.8-2.7 2.8zM160.4 504.9l2.7-2.8-2.3-1.8-2.7 2.8zM155.3 505.9l2.8-2.8-2.3-1.8-2.7 2.9zM153.1 504.2l2.7-2.9-2.2-1.7-2.8 2.9zM150.8 502.5l2.8-2.9-2.3-1.7-2.7 2.9zM148.6 500.8l2.7-2.9-2.2-1.6-2.7 2.9zM143.7 502l2.7-2.8-2.1-1.6-2.8 2.9zM141.5 500.5l2.8-2.9-2.2-1.6-2.7 3zM139.4 499l2.7-3-2.1-1.5-2.7 3zM137.3 497.5l2.7-3-2.1-1.4-2.7 2.9zM135.2 496l2.7-2.9-2-1.5-2.7 3zM133.2 494.6l2.7-3-2-1.3-2.7 3zM131.2 493.3l2.7-3-2-1.3-2.7 3.1zM129.2 492.1l2.7-3.1-2-1.1-2.6 3.1zM127.3 491l2.6-3.1-1.9-1.1-2.7 3.2zM125.3 490l2.7-3.2-1.9-.9-2.6 3.3z"/>
<path class="c17" d="M283.6 499.7l2-1.5-2.9-2.7-1.9 1.5zM285.6 498.2l1.9-1.4-2.8-2.8-2 1.5zM270.5 505.3l2.1-1.7-2.9-2.7-2.1 1.8zM272.6 503.6l2.1-1.7-2.9-2.7-2.1 1.7zM274.7 501.9l2-1.7-2.8-2.7-2.1 1.7zM276.7 500.2l2.1-1.6-2.9-2.7-2 1.6zM278.8 498.6l2-1.6-2.9-2.7-2 1.6zM261.1 508l2.2-1.8-2.9-2.5-2.2 1.8zM263.3 506.2l2.2-1.8-2.9-2.6-2.2 1.9zM265.5 504.4l2.1-1.7-2.8-2.7-2.2 1.8zM251.4 511.2l2.3-1.9-2.9-2.5-2.3 1.9zM253.7 509.3l2.3-1.9-2.9-2.5-2.3 1.9zM256 507.4l2.2-1.9-2.8-2.5-2.3 1.9zM243.9 512.7l2.3-2-2.9-2.4-2.3 2.1zM246.2 510.7l2.3-2-2.8-2.4-2.4 2zM248.5 508.7l2.3-1.9-2.8-2.5-2.3 2zM238.6 512.4l2.4-2-2.9-2.4-2.4 2.1zM241 510.4l2.3-2.1-2.8-2.4-2.4 2.1zM233.3 512.2l2.4-2.1-2.8-2.3-2.5 2.1zM235.7 510.1l2.4-2.1-2.8-2.4-2.4 2.2zM225.5 514.3l2.5-2.2-2.8-2.2-2.6 2.2zM228 512.1l2.4-2.2-2.8-2.2-2.4 2.2zM220.1 514.4l2.5-2.3-2.7-2.2-2.6 2.3zM222.6 512.1l2.6-2.2-2.8-2.2-2.5 2.2zM217.3 512.2l2.6-2.3-2.8-2.1-2.5 2.3zM212 512.4l2.6-2.3-2.7-2.1-2.6 2.3zM206.7 512.7l2.6-2.4-2.7-2.1-2.6 2.4zM209.3 510.3l2.6-2.3-2.7-2.2-2.6 2.4zM204 510.6l2.6-2.4-2.7-2.1-2.6 2.5zM198.7 511l2.6-2.4-2.6-2.1-2.6 2.5zM193.4 511.5l2.7-2.5-2.6-2-2.7 2.5zM196.1 509l2.6-2.5-2.6-2.1-2.6 2.6zM190.8 509.5l2.7-2.5-2.6-2.1-2.6 2.6zM185.6 510.1l2.7-2.6-2.6-2-2.6 2.6zM188.3 507.5l2.6-2.6-2.5-2-2.7 2.6zM183.1 508.1l2.6-2.6-2.5-2-2.6 2.6zM177.9 508.8l2.7-2.7-2.5-1.9-2.7 2.7zM180.6 506.1l2.6-2.6-2.4-2-2.7 2.7zM175.4 506.9l2.7-2.7-2.4-2-2.7 2.7zM173 504.9l2.7-2.7-2.5-1.9-2.6 2.7zM167.8 505.8l2.8-2.8-2.4-1.8-2.7 2.7zM165.5 503.9l2.7-2.7-2.4-1.9-2.7 2.8zM163.1 502.1l2.7-2.8-2.3-1.8-2.7 2.8zM158.1 503.1l2.7-2.8-2.3-1.8-2.7 2.8zM155.8 501.3l2.7-2.8-2.2-1.7-2.7 2.8zM153.6 499.6l2.7-2.8-2.3-1.8-2.7 2.9zM146.4 499.2l2.7-2.9-2.1-1.6-2.7 2.9zM144.3 497.6l2.7-2.9-2.2-1.6-2.7 2.9zM142.1 496l2.7-2.9-2.1-1.6-2.7 3zM140 494.5l2.7-3-2.1-1.5-2.7 3.1z"/>
<path class="c18" d="M280.8 497l1.9-1.5-2.8-2.8-2 1.6zM282.7 495.5l2-1.5-2.8-2.8-2 1.5zM267.6 502.7l2.1-1.8-2.8-2.6-2.1 1.7zM269.7 500.9l2.1-1.7-2.8-2.7-2.1 1.8zM271.8 499.2l2.1-1.7-2.8-2.7-2.1 1.7zM273.9 497.5l2-1.6-2.8-2.7-2 1.6zM258.2 505.5l2.2-1.8-2.8-2.6-2.2 1.9zM260.4 503.7l2.2-1.9-2.8-2.5-2.2 1.8zM262.6 501.8l2.2-1.8-2.9-2.6-2.1 1.9zM264.8 500l2.1-1.7-2.8-2.7-2.2 1.8zM250.8 506.8l2.3-1.9-2.8-2.5-2.3 1.9zM253.1 504.9l2.3-1.9-2.9-2.6-2.2 2zM255.4 503l2.2-1.9-2.8-2.6-2.3 1.9zM243.3 508.3l2.4-2-2.9-2.4-2.3 2zM245.7 506.3l2.3-2-2.8-2.4-2.4 2zM248 504.3l2.3-1.9-2.8-2.5-2.3 2zM238.1 508l2.4-2.1-2.8-2.4-2.4 2.1zM240.5 505.9l2.3-2-2.8-2.5-2.3 2.1zM230.4 509.9l2.5-2.1-2.8-2.3-2.5 2.2zM232.9 507.8l2.4-2.2-2.8-2.3-2.4 2.2zM225.2 509.9l2.4-2.2-2.7-2.3-2.5 2.3zM227.6 507.7l2.5-2.2-2.8-2.3-2.4 2.2zM219.9 509.9l2.5-2.2-2.8-2.3-2.5 2.4zM222.4 507.7l2.5-2.3-2.8-2.3-2.5 2.3zM214.6 510.1l2.5-2.3-2.7-2.2-2.5 2.4zM217.1 507.8l2.5-2.4-2.7-2.2-2.5 2.4zM211.9 508l2.5-2.4-2.7-2.2-2.5 2.4zM206.6 508.2l2.6-2.4-2.7-2.1-2.6 2.4zM201.3 508.6l2.6-2.5-2.6-2.1-2.6 2.5zM203.9 506.1l2.6-2.4-2.6-2.2-2.6 2.5zM198.7 506.5l2.6-2.5-2.6-2.1-2.6 2.5zM193.5 507l2.6-2.6-2.5-2.1-2.7 2.6zM190.9 504.9l2.7-2.6-2.6-2-2.6 2.6zM185.7 505.5l2.7-2.6-2.5-2.1-2.7 2.7zM183.2 503.5l2.7-2.7-2.5-2-2.6 2.7zM178.1 504.2l2.7-2.7-2.5-2-2.6 2.7zM175.7 502.2l2.6-2.7-2.4-2-2.7 2.8zM170.6 503l2.6-2.7-2.3-1.9-2.7 2.8zM168.2 501.2l2.7-2.8-2.4-1.9-2.7 2.8zM160.8 500.3l2.7-2.8-2.3-1.9-2.7 2.9zM158.5 498.5l2.7-2.9-2.3-1.8-2.6 3zM151.3 497.9l2.7-2.9-2.2-1.7-2.7 3zM149.1 496.3l2.7-3-2.2-1.6-2.6 3zM147 494.7l2.6-3-2.1-1.6-2.7 3zM144.8 493.1l2.7-3-2.2-1.6-2.6 3zM137.9 493.1l2.7-3.1-2.1-1.4-2.6 3zM135.9 491.6l2.6-3-2-1.4-2.6 3.1zM133.9 490.3l2.6-3.1-2-1.3-2.6 3.1zM131.9 489l2.6-3.1-2-1.2-2.6 3.2zM129.9 487.9l2.6-3.2-1.9-1.1-2.6 3.2zM128 486.8l2.6-3.2-1.9-.9-2.6 3.2z"/>
<path class="c19" d="M275.9 495.9l2-1.6-2.8-2.8-2 1.7zM277.9 494.3l2-1.6-2.8-2.7-2 1.5zM279.9 492.7l2-1.5-2.8-2.8-2 1.6zM266.9 498.3l2.1-1.8-2.8-2.6-2.1 1.7zM269 496.5l2.1-1.7-2.8-2.7-2.1 1.8zM271.1 494.8l2-1.6-2.8-2.7-2 1.6zM257.6 501.1l2.2-1.8-2.8-2.7-2.2 1.9zM259.8 499.3l2.1-1.9-2.8-2.6-2.1 1.8zM261.9 497.4l2.2-1.8-2.8-2.6-2.2 1.8zM250.3 502.4l2.2-2-2.8-2.5-2.2 2zM252.5 500.4l2.3-1.9-2.8-2.6-2.3 2zM242.8 503.9l2.4-2-2.8-2.5-2.4 2zM245.2 501.9l2.3-2-2.8-2.6-2.3 2.1zM235.3 505.6l2.4-2.1-2.8-2.4-2.4 2.2zM237.7 503.5l2.3-2.1-2.7-2.4-2.4 2.1zM230.1 505.5l2.4-2.2-2.7-2.4-2.5 2.3zM232.5 503.3l2.4-2.2-2.7-2.4-2.4 2.2zM224.9 505.4l2.4-2.2-2.7-2.4-2.5 2.3zM227.3 503.2l2.5-2.3-2.8-2.3-2.4 2.2zM219.6 505.4l2.5-2.3-2.7-2.2-2.5 2.3zM222.1 503.1l2.5-2.3-2.7-2.3-2.5 2.4zM214.4 505.6l2.5-2.4-2.6-2.2-2.6 2.4zM216.9 503.2l2.5-2.3-2.7-2.3-2.4 2.4zM209.2 505.8l2.5-2.4-2.6-2.2-2.6 2.5zM211.7 503.4l2.6-2.4-2.7-2.3-2.5 2.5zM206.5 503.7l2.6-2.5-2.6-2.2-2.6 2.5zM201.3 504l2.6-2.5-2.6-2.2-2.6 2.6zM196.1 504.4l2.6-2.5-2.5-2.1-2.6 2.5zM198.7 501.9l2.6-2.6-2.6-2.1-2.5 2.6zM193.6 502.3l2.6-2.5-2.6-2.2-2.6 2.7zM188.4 502.9l2.6-2.6-2.5-2.1-2.6 2.6zM185.9 500.8l2.6-2.6-2.5-2.1-2.6 2.7zM180.8 501.5l2.6-2.7-2.4-2-2.7 2.7zM178.3 499.5l2.7-2.7-2.4-2-2.7 2.7zM173.2 500.3l2.7-2.8-2.4-1.9-2.6 2.8zM170.9 498.4l2.6-2.8-2.3-2-2.7 2.9zM165.8 499.3l2.7-2.8-2.3-1.9-2.7 2.9zM163.5 497.5l2.7-2.9-2.3-1.9-2.7 2.9zM161.2 495.6l2.7-2.9-2.3-1.8-2.7 2.9zM156.3 496.8l2.6-3-2.2-1.7-2.7 2.9zM154 495l2.7-2.9-2.2-1.7-2.7 2.9zM151.8 493.3l2.7-2.9-2.2-1.7-2.7 3zM142.7 491.5l2.6-3-2.1-1.6-2.6 3.1zM140.6 490l2.6-3.1-2-1.5-2.7 3.2zM138.5 488.6l2.7-3.2-2.1-1.4-2.6 3.2zM136.5 487.2l2.6-3.2-2-1.3-2.6 3.2zM134.5 485.9l2.6-3.2-2-1.2-2.6 3.2zM132.5 484.7l2.6-3.2-2-1.2-2.5 3.3zM130.6 483.6l2.5-3.3-1.9-.9-2.5 3.3z"/>
<path class="c20" d="M273.1 493.2l2-1.7-2.7-2.7-2.1 1.7zM275.1 491.5l2-1.5-2.7-2.8-2 1.6zM277.1 490l2-1.6-2.7-2.7-2 1.5zM264.1 495.6l2.1-1.7-2.8-2.7-2.1 1.8zM266.2 493.9l2.1-1.8-2.8-2.7-2.1 1.8zM268.3 492.1l2-1.6-2.7-2.8-2.1 1.7zM254.8 498.5l2.2-1.9-2.8-2.6-2.2 1.9zM257 496.6l2.1-1.8-2.7-2.7-2.2 1.9zM259.1 494.8l2.2-1.8-2.8-2.7-2.1 1.8zM247.5 499.9l2.2-2-2.7-2.6-2.3 2zM249.7 497.9l2.3-2-2.8-2.6-2.2 2zM240 501.4l2.4-2-2.8-2.5-2.3 2.1zM242.4 499.4l2.3-2.1-2.8-2.5-2.3 2.1zM234.9 501.1l2.4-2.1-2.8-2.5-2.3 2.2zM237.3 499l2.3-2.1-2.7-2.5-2.4 2.1zM229.8 500.9l2.4-2.2-2.8-2.4-2.4 2.3zM224.6 500.8l2.4-2.2-2.7-2.4-2.4 2.3zM219.4 500.9l2.5-2.4-2.7-2.3-2.5 2.4zM214.3 501l2.4-2.4-2.6-2.3-2.5 2.4zM209.1 501.2l2.5-2.5-2.6-2.2-2.5 2.5zM203.9 501.5l2.6-2.5-2.6-2.2-2.6 2.5zM201.3 499.3l2.6-2.5-2.6-2.2-2.6 2.6zM196.2 499.8l2.5-2.6-2.5-2.2-2.6 2.6zM191 500.3l2.6-2.7-2.5-2.1-2.6 2.7zM188.5 498.2l2.6-2.7-2.5-2.1-2.6 2.7zM183.4 498.8l2.6-2.7-2.4-2.1-2.6 2.8zM181 496.8l2.6-2.8-2.4-2.1-2.6 2.9zM175.9 497.5l2.7-2.7-2.4-2.1-2.7 2.9zM173.5 495.6l2.7-2.9-2.4-2-2.6 2.9zM168.5 496.5l2.7-2.9-2.4-1.9-2.6 2.9zM166.2 494.6l2.6-2.9-2.3-1.9-2.6 2.9zM158.9 493.8l2.7-2.9-2.3-1.8-2.6 3zM156.7 492.1l2.6-3-2.2-1.8-2.6 3.1zM149.6 491.7l2.7-3-2.2-1.7-2.6 3.1zM147.5 490.1l2.6-3.1-2.1-1.6-2.7 3.1zM145.3 488.5l2.7-3.1-2.1-1.6-2.7 3.1zM143.2 486.9l2.7-3.1-2.1-1.5-2.6 3.1z"/>
<path class="c21" d="M270.3 490.5l2.1-1.7-2.8-2.7-2 1.6zM272.4 488.8l2-1.6-2.8-2.7-2 1.6zM274.4 487.2l2-1.5-2.8-2.7-2 1.5zM261.3 493l2.1-1.8-2.7-2.8-2.2 1.9zM263.4 491.2l2.1-1.8-2.7-2.7-2.1 1.7zM252 495.9l2.2-1.9-2.8-2.6-2.2 1.9zM254.2 494l2.2-1.9-2.8-2.7-2.2 2zM256.4 492.1l2.1-1.8-2.7-2.8-2.2 1.9zM244.7 497.3l2.3-2-2.8-2.6-2.3 2.1zM247 495.3l2.2-2-2.7-2.6-2.3 2zM239.6 496.9l2.3-2.1-2.7-2.6-2.3 2.2zM232.2 498.7l2.3-2.2-2.7-2.4-2.4 2.2zM234.5 496.5l2.4-2.1-2.7-2.5-2.4 2.2zM227 498.6l2.4-2.3-2.7-2.4-2.4 2.3zM229.4 496.3l2.4-2.2-2.7-2.5-2.4 2.3zM221.9 498.5l2.4-2.3-2.6-2.4-2.5 2.4zM216.7 498.6l2.5-2.4-2.6-2.4-2.5 2.5zM211.6 498.7l2.5-2.4-2.6-2.3-2.5 2.5zM206.5 499l2.5-2.5-2.6-2.3-2.5 2.6zM209 496.5l2.5-2.5-2.6-2.3-2.5 2.5zM203.9 496.8l2.5-2.6-2.6-2.2-2.5 2.6zM198.7 497.2l2.6-2.6-2.5-2.3-2.6 2.7zM193.6 497.6l2.6-2.6-2.5-2.2-2.6 2.7zM191.1 495.5l2.6-2.7-2.5-2.2-2.6 2.8zM186 496.1l2.6-2.7-2.4-2.2-2.6 2.8zM183.6 494l2.6-2.8-2.4-2.1-2.6 2.8zM178.6 494.8l2.6-2.9-2.4-2-2.6 2.8zM176.2 492.7l2.6-2.8-2.4-2.1-2.6 2.9zM171.2 493.6l2.6-2.9-2.4-1.9-2.6 2.9zM168.8 491.7l2.6-2.9-2.3-2-2.6 3zM163.9 492.7l2.6-2.9-2.3-1.9-2.6 3zM161.6 490.9l2.6-3-2.2-1.8-2.7 3zM159.3 489.1l2.7-3-2.3-1.9-2.6 3.1zM154.5 490.4l2.6-3.1-2.2-1.7-2.6 3.1zM152.3 488.7l2.6-3.1-2.2-1.7-2.6 3.1zM150.1 487l2.6-3.1-2.1-1.7-2.6 3.2zM141.2 485.4l2.6-3.1-2.1-1.5-2.6 3.2zM139.1 484l2.6-3.2-2-1.4-2.6 3.3zM137.1 482.7l2.6-3.3-2-1.3-2.6 3.4zM135.1 481.5l2.6-3.4-2-1.1-2.6 3.3zM133.1 480.3l2.6-3.3-1.9-1-2.6 3.4z"/>
<path class="c22" d="M265.5 489.4l2.1-1.7-2.7-2.8-2.1 1.8zM267.6 487.7l2-1.6-2.7-2.8-2 1.6zM269.6 486.1l2-1.6-2.7-2.8-2 1.6zM271.6 484.5l2-1.5-2.7-2.8-2 1.5zM258.5 490.3l2.2-1.9-2.7-2.7-2.2 1.8zM260.7 488.4l2.1-1.7-2.7-2.8-2.1 1.8zM249.2 493.3l2.2-1.9-2.7-2.7-2.2 2zM251.4 491.4l2.2-2-2.7-2.7-2.2 2zM241.9 494.8l2.3-2.1-2.7-2.6-2.3 2.1zM244.2 492.7l2.3-2-2.7-2.7-2.3 2.1zM236.9 494.4l2.3-2.2-2.7-2.5-2.3 2.2zM239.2 492.2l2.3-2.1-2.7-2.6-2.3 2.2zM231.8 494.1l2.4-2.2-2.7-2.6-2.4 2.3zM224.3 496.2l2.4-2.3-2.6-2.5-2.4 2.4zM226.7 493.9l2.4-2.3-2.6-2.5-2.4 2.3zM219.2 496.2l2.5-2.4-2.7-2.4-2.4 2.4zM221.7 493.8l2.4-2.4-2.7-2.4-2.4 2.4zM214.1 496.3l2.5-2.5-2.6-2.3-2.5 2.5zM216.6 493.8l2.4-2.4-2.6-2.4-2.4 2.5zM211.5 494l2.5-2.5-2.6-2.4-2.5 2.6zM206.4 494.2l2.5-2.5-2.6-2.4-2.5 2.7zM201.3 494.6l2.5-2.6-2.5-2.3-2.5 2.6zM196.2 495l2.6-2.7-2.6-2.2-2.5 2.7zM193.7 492.8l2.5-2.7-2.4-2.2-2.6 2.7zM188.6 493.4l2.6-2.8-2.4-2.1-2.6 2.7zM181.2 491.9l2.6-2.8-2.5-2.1-2.5 2.9zM173.8 490.7l2.6-2.9-2.4-2-2.6 3zM166.5 489.8l2.6-3-2.3-1.9-2.6 3zM164.2 487.9l2.6-3-2.2-1.9-2.6 3.1zM157.1 487.3l2.6-3.1-2.2-1.7-2.6 3.1zM154.9 485.6l2.6-3.1-2.2-1.8-2.6 3.2zM148 485.4l2.6-3.2-2.1-1.6-2.6 3.2zM145.9 483.8l2.6-3.2-2.1-1.6-2.6 3.3zM143.8 482.3l2.6-3.3-2.1-1.5-2.6 3.3zM141.7 480.8l2.6-3.3-2.1-1.4-2.5 3.3z"/>
<path class="c23" d="M262.8 486.7l2.1-1.8-2.7-2.8-2.1 1.8zM264.9 484.9l2-1.6-2.7-2.8-2 1.6zM266.9 483.3l2-1.6-2.6-2.8-2.1 1.6zM253.6 489.4l2.2-1.9-2.7-2.7-2.2 1.9zM255.8 487.5l2.2-1.8-2.7-2.8-2.2 1.9zM246.5 490.7l2.2-2-2.7-2.7-2.2 2zM248.7 488.7l2.2-2-2.7-2.7-2.2 2zM241.5 490.1l2.3-2.1-2.7-2.6-2.3 2.1zM234.2 491.9l2.3-2.2-2.7-2.6-2.3 2.2zM236.5 489.7l2.3-2.2-2.7-2.6-2.3 2.2zM229.1 491.6l2.4-2.3-2.7-2.5-2.3 2.3zM224.1 491.4l2.4-2.3-2.7-2.5-2.4 2.4zM219 491.4l2.4-2.4-2.6-2.5-2.4 2.5zM214 491.5l2.4-2.5-2.6-2.4-2.4 2.5zM208.9 491.7l2.5-2.6-2.6-2.4-2.5 2.6zM203.8 492l2.5-2.7-2.5-2.3-2.5 2.7zM198.8 492.3l2.5-2.6-2.5-2.3-2.6 2.7zM196.2 490.1l2.6-2.7-2.5-2.3-2.5 2.8zM191.2 490.6l2.6-2.7-2.5-2.3-2.5 2.9zM186.2 491.2l2.6-2.7-2.5-2.2-2.5 2.8zM183.8 489.1l2.5-2.8-2.4-2.2-2.6 2.9zM178.8 489.9l2.5-2.9-2.3-2.1-2.6 2.9zM176.4 487.8l2.6-2.9-2.4-2.1-2.6 3zM171.4 488.8l2.6-3-2.3-2-2.6 3zM169.1 486.8l2.6-3-2.3-2-2.6 3.1zM162 486.1l2.6-3.1-2.3-1.9-2.6 3.1zM159.7 484.2l2.6-3.1-2.2-1.8-2.6 3.2zM152.7 483.9l2.6-3.2-2.1-1.7-2.6 3.2zM150.6 482.2l2.6-3.2-2.2-1.7-2.5 3.3zM148.5 480.6l2.5-3.3-2.1-1.6-2.5 3.3zM139.7 479.4l2.5-3.3-2-1.3-2.5 3.3zM137.7 478.1l2.5-3.3-2-1.2-2.5 3.4zM135.7 477l2.5-3.4-1.9-1-2.5 3.4z"/>
<path class="c24" d="M268.9 481.7l2-1.5-2.6-2.7-2 1.4zM258 485.7l2.1-1.8-2.7-2.9-2.1 1.9zM260.1 483.9l2.1-1.8-2.7-2.8-2.1 1.7zM262.2 482.1l2-1.6-2.6-2.9-2.1 1.7zM250.9 486.7l2.2-1.9-2.7-2.8-2.2 2zM253.1 484.8l2.2-1.9-2.7-2.9-2.2 2zM243.8 488l2.2-2-2.7-2.7-2.2 2.1zM246 486l2.2-2-2.6-2.8-2.3 2.1zM238.8 487.5l2.3-2.1-2.7-2.7-2.3 2.2zM231.5 489.3l2.3-2.2-2.6-2.6-2.4 2.3zM233.8 487.1l2.3-2.2-2.6-2.7-2.3 2.3zM226.5 489.1l2.3-2.3-2.6-2.6-2.4 2.4zM221.4 489l2.4-2.4-2.6-2.6-2.4 2.5zM216.4 489l2.4-2.5-2.5-2.5-2.5 2.6zM211.4 489.1l2.4-2.5-2.5-2.5-2.5 2.6zM206.3 489.3l2.5-2.6-2.5-2.4-2.5 2.7zM201.3 489.7l2.5-2.7-2.5-2.3-2.5 2.7zM198.8 487.4l2.5-2.7-2.5-2.4-2.5 2.8zM193.8 487.9l2.5-2.8-2.5-2.3-2.5 2.8zM188.8 488.5l2.5-2.9-2.4-2.2-2.6 2.9zM186.3 486.3l2.6-2.9-2.5-2.2-2.5 2.9zM181.3 487l2.6-2.9-2.4-2.2-2.5 3zM174 485.8l2.6-3-2.3-2.1-2.6 3.1zM166.8 484.9l2.6-3.1-2.3-1.9-2.5 3.1zM164.6 483l2.5-3.1-2.2-2-2.6 3.2zM157.5 482.5l2.6-3.2-2.2-1.8-2.6 3.2zM155.3 480.7l2.6-3.2-2.2-1.8-2.5 3.3zM146.4 479l2.5-3.3-2.1-1.6-2.5 3.4zM144.3 477.5l2.5-3.4-2-1.4-2.6 3.4zM142.2 476.1l2.6-3.4-2.1-1.3-2.5 3.4zM140.2 474.8l2.5-3.4-2-1.2-2.5 3.4zM138.2 473.6l2.5-3.4-1.9-1.1-2.5 3.5z"/>
<path class="c25" d="M264.2 480.5l2.1-1.6-2.7-2.8-2 1.5zM266.3 478.9l2-1.4-2.7-2.8-2 1.4zM255.3 482.9l2.1-1.9-2.7-2.8-2.1 1.8zM257.4 481l2.1-1.7-2.6-2.9-2.2 1.8zM248.2 484l2.2-2-2.6-2.8-2.2 2zM250.4 482l2.2-2-2.6-2.8-2.2 2zM241.1 485.4l2.2-2.1-2.6-2.8-2.3 2.2zM243.3 483.3l2.3-2.1-2.7-2.8-2.2 2.1zM236.1 484.9l2.3-2.2-2.6-2.8-2.3 2.3zM228.8 486.8l2.4-2.3-2.6-2.7-2.4 2.4zM223.8 486.6l2.4-2.4-2.6-2.6-2.4 2.4zM218.8 486.5l2.4-2.5-2.5-2.5-2.4 2.5zM213.8 486.6l2.5-2.6-2.6-2.5-2.4 2.6zM208.8 486.7l2.5-2.6-2.6-2.4-2.4 2.6zM203.8 487l2.5-2.7-2.5-2.4-2.5 2.8zM196.3 485.1l2.5-2.8-2.5-2.4-2.5 2.9zM191.3 485.6l2.5-2.8-2.4-2.3-2.5 2.9zM183.9 484.1l2.5-2.9-2.3-2.3-2.6 3zM179 484.9l2.5-3-2.3-2.1-2.6 3zM176.6 482.8l2.6-3-2.4-2.2-2.5 3.1zM171.7 483.8l2.6-3.1-2.3-2-2.6 3.1zM169.4 481.8l2.6-3.1-2.3-2-2.6 3.2zM162.3 481.1l2.6-3.2-2.3-1.9-2.5 3.3zM160.1 479.3l2.5-3.3-2.2-1.8-2.5 3.3zM153.2 479l2.5-3.3-2.1-1.7-2.6 3.3zM151 477.3l2.6-3.3-2.2-1.7-2.5 3.4z"/>
<path class="c26" d="M259.5 479.3l2.1-1.7-2.7-2.8-2 1.6zM261.6 477.6l2-1.5-2.6-2.8-2.1 1.5zM263.6 476.1l2-1.4-2.6-2.8-2 1.4zM252.6 480l2.1-1.8-2.6-2.9-2.1 1.9zM254.7 478.2l2.2-1.8-2.7-2.9-2.1 1.8zM245.6 481.2l2.2-2-2.6-2.9-2.3 2.1zM238.4 482.7l2.3-2.2-2.6-2.8-2.3 2.2zM231.2 484.5l2.3-2.3-2.6-2.7-2.3 2.3zM233.5 482.2l2.3-2.3-2.6-2.7-2.3 2.3zM226.2 484.2l2.4-2.4-2.6-2.6-2.4 2.4zM221.2 484l2.4-2.4-2.6-2.6-2.3 2.5zM216.3 484l2.4-2.5-2.6-2.6-2.4 2.6zM211.3 484.1l2.4-2.6-2.5-2.5-2.5 2.7zM206.3 484.3l2.4-2.6-2.5-2.5-2.4 2.7zM201.3 484.7l2.5-2.8-2.5-2.4-2.5 2.8zM198.8 482.3l2.5-2.8-2.5-2.4-2.5 2.8zM193.8 482.8l2.5-2.9-2.4-2.3-2.5 2.9zM188.9 483.4l2.5-2.9-2.4-2.3-2.6 3zM186.4 481.2l2.6-3-2.4-2.3-2.5 3zM181.5 481.9l2.6-3-2.4-2.2-2.5 3.1zM174.3 480.7l2.5-3.1-2.3-2.1-2.5 3.2zM167.1 479.9l2.6-3.2-2.3-2-2.5 3.2zM164.9 477.9l2.5-3.2-2.2-2-2.6 3.3zM157.9 477.5l2.5-3.3-2.1-1.9-2.6 3.4zM155.7 475.7l2.6-3.4-2.2-1.7-2.5 3.4zM148.9 475.7l2.5-3.4-2-1.6-2.6 3.4zM146.8 474.1l2.6-3.4-2.1-1.5-2.5 3.5zM144.8 472.7l2.5-3.5-2.1-1.3-2.5 3.5zM142.7 471.4l2.5-3.5-2-1.2-2.5 3.5zM140.7 470.2l2.5-3.5-1.9-1-2.5 3.4z"/>
<path class="c27" d="M256.9 476.4l2-1.6-2.6-2.9-2.1 1.6zM258.9 474.8l2.1-1.5-2.6-2.9-2.1 1.5zM261 473.3l2-1.4-2.6-2.8-2 1.3zM247.8 479.2l2.2-2-2.7-2.9-2.1 2zM250 477.2l2.1-1.9-2.6-3-2.2 2zM240.7 480.5l2.2-2.1-2.6-2.9-2.2 2.2zM242.9 478.4l2.3-2.1-2.6-2.9-2.3 2.1zM235.8 479.9l2.3-2.2-2.6-2.8-2.3 2.3zM228.6 481.8l2.3-2.3-2.6-2.8-2.3 2.5zM230.9 479.5l2.3-2.3-2.6-2.8-2.3 2.3zM223.6 481.6l2.4-2.4-2.6-2.7-2.4 2.5zM218.7 481.5l2.3-2.5-2.5-2.7-2.4 2.6zM213.7 481.5l2.4-2.6-2.5-2.6-2.4 2.7zM208.7 481.7l2.5-2.7-2.5-2.6-2.5 2.8zM203.8 481.9l2.4-2.7-2.5-2.5-2.4 2.8zM196.3 479.9l2.5-2.8-2.4-2.5-2.5 3zM191.4 480.5l2.5-2.9-2.4-2.4-2.5 3zM184.1 478.9l2.5-3-2.4-2.3-2.5 3.1zM179.2 479.8l2.5-3.1-2.4-2.2-2.5 3.1zM176.8 477.6l2.5-3.1-2.3-2.2-2.5 3.2zM172 478.7l2.5-3.2-2.3-2-2.5 3.2zM169.7 476.7l2.5-3.2-2.3-2.1-2.5 3.3zM162.6 476l2.6-3.3-2.2-1.9-2.6 3.4zM153.6 474l2.5-3.4-2.1-1.8-2.6 3.5zM151.4 472.3l2.6-3.5-2.1-1.6-2.5 3.5z"/>
<path class="c28" d="M252.1 475.3l2.1-1.8-2.6-3-2.1 1.8zM254.2 473.5l2.1-1.6-2.6-3-2.1 1.6zM245.2 476.3l2.1-2-2.5-3-2.2 2.1zM238.1 477.7l2.2-2.2-2.6-2.9-2.2 2.3zM233.2 477.2l2.3-2.3-2.6-2.9-2.3 2.4zM226 479.2l2.3-2.5-2.5-2.7-2.4 2.5zM221 479l2.4-2.5-2.5-2.7-2.4 2.5zM216.1 478.9l2.4-2.6-2.5-2.6-2.4 2.6zM211.2 479l2.4-2.7-2.5-2.6-2.4 2.7zM206.2 479.2l2.5-2.8-2.5-2.5-2.5 2.8zM201.3 479.5l2.4-2.8-2.4-2.5-2.5 2.9zM193.9 477.6l2.5-3-2.5-2.4-2.4 3zM189 478.2l2.5-3-2.4-2.4-2.5 3.1zM181.7 476.7l2.5-3.1-2.3-2.3-2.6 3.2zM174.5 475.5l2.5-3.2-2.3-2.1-2.5 3.3zM167.4 474.7l2.5-3.3-2.2-2-2.5 3.3zM160.4 474.2l2.6-3.4-2.2-1.9-2.5 3.4zM158.3 472.3l2.5-3.4-2.2-1.8-2.5 3.5zM149.4 470.7l2.5-3.5-2.1-1.5-2.5 3.5zM147.3 469.2l2.5-3.5-2.1-1.4-2.5 3.6zM145.2 467.9l2.5-3.6-2-1.2-2.5 3.6zM143.2 466.7l2.5-3.6-2-.9-2.4 3.5z"/>
<path class="c29" d="M256.3 471.9l2.1-1.5-2.6-2.9-2.1 1.4zM258.4 470.4l2-1.3-2.6-2.8-2 1.2zM247.3 474.3l2.2-2-2.6-3-2.1 2zM249.5 472.3l2.1-1.8-2.5-3-2.2 1.8zM240.3 475.5l2.3-2.1-2.6-3-2.3 2.2zM242.6 473.4l2.2-2.1-2.6-3-2.2 2.1zM235.5 474.9l2.2-2.3-2.5-2.9-2.3 2.3zM228.3 476.7l2.3-2.3-2.5-2.9-2.3 2.5zM223.4 476.5l2.4-2.5-2.6-2.8-2.3 2.6zM218.5 476.3l2.4-2.5-2.6-2.8-2.3 2.7zM213.6 476.3l2.4-2.6-2.5-2.7-2.4 2.7zM208.7 476.4l2.4-2.7-2.5-2.6-2.4 2.8zM203.7 476.7l2.5-2.8-2.5-2.6-2.4 2.9zM198.8 477.1l2.5-2.9-2.5-2.5-2.4 2.9zM191.5 475.2l2.4-3-2.4-2.4-2.4 3zM186.6 475.9l2.5-3.1-2.4-2.3-2.5 3.1zM179.3 474.5l2.6-3.2-2.4-2.2-2.5 3.2zM172.2 473.5l2.5-3.3-2.2-2.1-2.6 3.3zM165.2 472.7l2.5-3.3-2.2-2-2.5 3.4zM163 470.8l2.5-3.4-2.2-2-2.5 3.5zM156.1 470.6l2.5-3.5-2.1-1.8-2.5 3.5zM154 468.8l2.5-3.5-2.2-1.7-2.4 3.6z"/>
<path class="c30" d="M251.6 470.5l2.1-1.6-2.5-3-2.1 1.6zM253.7 468.9l2.1-1.4-2.6-3-2 1.4zM255.8 467.5l2-1.2-2.5-2.9-2.1 1.1zM244.8 471.3l2.1-2-2.5-3-2.2 2zM237.7 472.6l2.3-2.2-2.6-2.9-2.2 2.2zM230.6 474.4l2.3-2.4-2.5-2.9-2.3 2.4zM232.9 472l2.3-2.3-2.6-2.9-2.2 2.3zM225.8 474l2.3-2.5-2.6-2.8-2.3 2.5zM220.9 473.8l2.3-2.6-2.5-2.8-2.4 2.6zM216 473.7l2.3-2.7-2.5-2.8-2.3 2.8zM211.1 473.7l2.4-2.7-2.5-2.7-2.4 2.8zM206.2 473.9l2.4-2.8-2.5-2.7-2.4 2.9zM201.3 474.2l2.4-2.9-2.4-2.6-2.5 3zM196.4 474.6l2.4-2.9-2.4-2.5-2.5 3zM189.1 472.8l2.4-3-2.3-2.5-2.5 3.2zM184.2 473.6l2.5-3.1-2.4-2.4-2.4 3.2zM181.9 471.3l2.4-3.2-2.3-2.3-2.5 3.3zM177 472.3l2.5-3.2-2.3-2.2-2.5 3.3zM169.9 471.4l2.6-3.3-2.3-2.1-2.5 3.4zM167.7 469.4l2.5-3.4-2.2-2.1-2.5 3.5zM160.8 468.9l2.5-3.5-2.2-1.9-2.5 3.6zM151.9 467.2l2.4-3.6-2-1.5-2.5 3.6zM149.8 465.7l2.5-3.6-2.1-1.4-2.5 3.6zM147.7 464.3l2.5-3.6-2-1.2-2.5 3.6zM145.7 463.1l2.5-3.6-2-.9-2.5 3.6z"/>
<path class="c31" d="M246.9 469.3l2.2-1.8-2.6-3-2.1 1.8zM249.1 467.5l2.1-1.6-2.6-3.1-2.1 1.7zM251.2 465.9l2-1.4-2.5-3-2.1 1.3zM240 470.4l2.2-2.1-2.5-3-2.3 2.2zM235.2 469.7l2.2-2.2-2.5-3.1-2.3 2.4zM228.1 471.5l2.3-2.4-2.6-2.9-2.3 2.5zM223.2 471.2l2.3-2.5-2.5-2.9-2.3 2.6zM218.3 471l2.4-2.6-2.5-2.9-2.4 2.7zM213.5 471l2.3-2.8-2.4-2.7-2.4 2.8zM208.6 471.1l2.4-2.8-2.5-2.8-2.4 2.9zM203.7 471.3l2.4-2.9-2.4-2.7-2.4 3zM198.8 471.7l2.5-3-2.5-2.6-2.4 3.1zM193.9 472.2l2.5-3-2.4-2.6-2.5 3.2zM186.7 470.5l2.5-3.2-2.4-2.4-2.5 3.2zM179.5 469.1l2.5-3.3-2.3-2.3-2.5 3.4zM174.7 470.2l2.5-3.3-2.3-2.2-2.4 3.4zM172.5 468.1l2.4-3.4-2.2-2.2-2.5 3.5zM165.5 467.4l2.5-3.5-2.2-2-2.5 3.5zM158.6 467.1l2.5-3.6-2.2-1.8-2.4 3.6zM156.5 465.3l2.4-3.6-2.1-1.7-2.5 3.6z"/>
<path class="c32" d="M253.2 464.5l2.1-1.1-2.6-3-2 1.1zM242.2 468.3l2.2-2-2.6-3.1-2.1 2.1zM244.4 466.3l2.1-1.8-2.5-3.1-2.2 1.8zM237.4 467.5l2.3-2.2-2.6-3.1-2.2 2.2zM230.4 469.1l2.2-2.3-2.5-3-2.3 2.4zM225.5 468.7l2.3-2.5-2.5-3-2.3 2.6zM220.7 468.4l2.3-2.6-2.5-2.9-2.3 2.6zM201.3 468.7l2.4-3-2.4-2.6-2.5 3zM196.4 469.2l2.4-3.1-2.4-2.6-2.4 3.1zM191.5 469.8l2.5-3.2-2.4-2.5-2.4 3.2zM184.3 468.1l2.5-3.2-2.3-2.4-2.5 3.3zM177.2 466.9l2.5-3.4-2.3-2.3-2.5 3.5zM170.2 466l2.5-3.5-2.3-2.2-2.4 3.6zM163.3 465.4l2.5-3.5-2.2-2-2.5 3.6zM161.1 463.5l2.5-3.6-2.2-1.9-2.5 3.7zM154.3 463.6l2.5-3.6-2.1-1.6-2.4 3.7zM152.3 462.1l2.4-3.7-2.1-1.4-2.4 3.7zM150.2 460.7l2.4-3.7-2-1.1-2.4 3.6zM148.2 459.5l2.4-3.6-2-.8-2.4 3.5z"/>
<path class="c33" d="M246.5 464.5l2.1-1.7-2.5-3.1-2.1 1.7zM248.6 462.8l2.1-1.3-2.5-3.1-2.1 1.3zM250.7 461.5l2-1.1-2.5-3-2 1zM239.7 465.3l2.1-2.1-2.5-3.1-2.2 2.1zM232.6 466.8l2.3-2.4-2.5-3-2.3 2.4zM227.8 466.2l2.3-2.4-2.5-3.1-2.3 2.5zM215.8 468.2l2.4-2.7-2.5-2.8-2.3 2.8zM211 468.3l2.4-2.8-2.5-2.9-2.4 2.9zM206.1 468.4l2.4-2.9-2.4-2.7-2.4 2.9zM194 466.6l2.4-3.1-2.3-2.6-2.5 3.2zM189.2 467.3l2.4-3.2-2.3-2.5-2.5 3.3zM182 465.8l2.5-3.3-2.3-2.4-2.5 3.4zM174.9 464.7l2.5-3.5-2.3-2.3-2.4 3.6zM168 463.9l2.4-3.6-2.2-2.1-2.4 3.7zM158.9 461.7l2.5-3.7-2.1-1.8-2.5 3.8z"/>
<path class="c34" d="M241.8 463.2l2.2-1.8-2.5-3.2-2.2 1.9zM244 461.4l2.1-1.7-2.5-3.1-2.1 1.6zM234.9 464.4l2.2-2.2-2.5-3.1-2.2 2.3zM230.1 463.8l2.3-2.4-2.5-3.1-2.3 2.4zM223 465.8l2.3-2.6-2.4-3-2.4 2.7zM218.2 465.5l2.3-2.6-2.4-3-2.4 2.8zM213.4 465.5l2.3-2.8-2.4-2.9-2.4 2.8zM208.5 465.5l2.4-2.9-2.4-2.8-2.4 3zM203.7 465.7l2.4-2.9-2.4-2.8-2.4 3.1zM198.8 466.1l2.5-3-2.4-2.7-2.5 3.1zM191.6 464.1l2.5-3.2-2.4-2.6-2.4 3.3zM186.8 464.9l2.5-3.3-2.4-2.5-2.4 3.4zM179.7 463.5l2.5-3.4-2.3-2.4-2.5 3.5zM172.7 462.5l2.4-3.6-2.2-2.2-2.5 3.6zM165.8 461.9l2.4-3.7-2.2-2-2.4 3.7zM163.6 459.9l2.4-3.7-2.2-2-2.4 3.8zM156.8 460l2.5-3.8-2.2-1.6-2.4 3.8zM154.7 458.4l2.4-3.8-2-1.3-2.5 3.7zM152.6 457l2.5-3.7-2.1-1-2.4 3.6zM150.6 455.9l2.4-3.6-2-.7-2.4 3.5z"/>
<path class="c35" d="M246.1 459.7l2.1-1.3-2.5-3.1-2.1 1.3zM248.2 458.4l2-1-2.4-3.1-2.1 1zM237.1 462.2l2.2-2.1-2.5-3.2-2.2 2.2zM239.3 460.1l2.2-1.9-2.5-3.2-2.2 1.9zM232.4 461.4l2.2-2.3-2.4-3.2-2.3 2.4zM225.3 463.2l2.3-2.5-2.4-3.1-2.3 2.6zM220.5 462.9l2.4-2.7-2.5-3-2.3 2.7zM215.7 462.7l2.4-2.8-2.5-3-2.3 2.9zM210.9 462.6l2.4-2.8-2.5-3-2.3 3zM206.1 462.8l2.4-3-2.4-2.9-2.4 3.1zM201.3 463.1l2.4-3.1-2.4-2.8-2.4 3.2zM196.4 463.5l2.5-3.1-2.4-2.7-2.4 3.2zM189.3 461.6l2.4-3.3-2.3-2.6-2.5 3.4zM184.5 462.5l2.4-3.4-2.3-2.5-2.4 3.5zM177.4 461.2l2.5-3.5-2.3-2.4-2.5 3.6zM170.4 460.3l2.5-3.6-2.2-2.2-2.5 3.7zM161.4 458l2.4-3.8-2.1-1.8-2.4 3.8z"/>
<path class="c36" d="M241.5 458.2l2.1-1.6-2.4-3.3-2.2 1.7zM243.6 456.6l2.1-1.3-2.4-3.3-2.1 1.3zM245.7 455.3l2.1-1-2.5-3.1-2 .8zM234.6 459.1l2.2-2.2-2.4-3.2-2.2 2.2zM227.6 460.7l2.3-2.4-2.5-3.2-2.2 2.5zM222.9 460.2l2.3-2.6-2.5-3.1-2.3 2.7zM198.9 460.4l2.4-3.2-2.4-2.8-2.4 3.3zM194.1 460.9l2.4-3.2-2.4-2.7-2.4 3.3zM182.2 460.1l2.4-3.5-2.3-2.5-2.4 3.6zM175.1 458.9l2.5-3.6-2.3-2.3-2.4 3.7zM168.2 458.2l2.5-3.7-2.2-2.1-2.5 3.8zM159.3 456.2l2.4-3.8-2.1-1.6-2.5 3.8zM157.1 454.6l2.5-3.8-2.1-1.3-2.4 3.8zM155.1 453.3l2.4-3.8-2.1-.9-2.4 3.7zM153 452.3l2.4-3.7-2-.6-2.4 3.6z"/>
<path class="c37" d="M236.8 456.9l2.2-1.9-2.4-3.3-2.2 2zM229.9 458.3l2.3-2.4-2.5-3.3-2.3 2.5zM225.2 457.6l2.2-2.5-2.4-3.2-2.3 2.6zM218.1 459.9l2.3-2.7-2.4-3.1-2.4 2.8zM213.3 459.8l2.3-2.9-2.4-3-2.4 2.9zM208.5 459.8l2.3-3-2.4-2.9-2.3 3zM203.7 460l2.4-3.1-2.4-2.8-2.4 3.1zM191.7 458.3l2.4-3.3-2.3-2.7-2.4 3.4zM186.9 459.1l2.5-3.4-2.4-2.6-2.4 3.5zM179.9 457.7l2.4-3.6-2.3-2.4-2.4 3.6zM172.9 456.7l2.4-3.7-2.2-2.2-2.4 3.7zM166 456.2l2.5-3.8-2.2-2-2.5 3.8zM163.8 454.2l2.5-3.8-2.2-1.9-2.4 3.9z"/>
<path class="c38" d="M239 455l2.2-1.7-2.5-3.3-2.1 1.7zM241.2 453.3l2.1-1.3-2.5-3.2-2.1 1.2zM243.3 452l2-.8-2.4-3.2-2.1 .8zM232.2 455.9l2.2-2.2-2.5-3.3-2.2 2.2zM220.4 457.2l2.3-2.7-2.4-3.2-2.3 2.8zM215.6 456.9l2.4-2.8-2.5-3.1-2.3 2.9zM210.8 456.8l2.4-2.9-2.4-3.1-2.4 3.1zM206.1 456.9l2.3-3-2.4-3-2.3 3.2zM201.3 457.2l2.4-3.1-2.4-2.9-2.4 3.2zM196.5 457.7l2.4-3.3-2.4-2.8-2.4 3.4zM189.4 455.7l2.4-3.4-2.4-2.7-2.4 3.5zM184.6 456.6l2.4-3.5-2.3-2.5-2.4 3.5zM177.6 455.3l2.4-3.6-2.2-2.4-2.5 3.7zM170.7 454.5l2.4-3.7-2.2-2.2-2.4 3.8zM161.7 452.4l2.4-3.9-2.1-1.6-2.4 3.9zM159.6 450.8l2.4-3.9-2.1-1.2-2.4 3.8zM157.5 449.5l2.4-3.8-2.1-.8-2.4 3.7zM155.4 448.6l2.4-3.7-2-.4-2.4 3.5z"/>
<path class="c39" d="M234.4 453.7l2.2-2-2.5-3.4-2.2 2.1zM236.6 451.7l2.1-1.7-2.4-3.3-2.2 1.6zM227.4 455.1l2.3-2.5-2.4-3.3-2.3 2.6zM222.7 454.5l2.3-2.6-2.4-3.3-2.3 2.7zM218 454.1l2.3-2.8-2.5-3.2-2.3 2.9zM198.9 454.4l2.4-3.2-2.4-2.9-2.4 3.3zM194.1 455l2.4-3.4-2.3-2.8-2.4 3.5zM182.3 454.1l2.4-3.5-2.3-2.6-2.4 3.7zM175.3 453l2.5-3.7-2.3-2.4-2.4 3.9zM168.5 452.4l2.4-3.8-2.2-2.1-2.4 3.9zM166.3 450.4l2.4-3.9-2.2-1.9-2.4 3.9z"/>
<path class="c40" d="M238.7 450l2.1-1.2-2.4-3.4-2.1 1.3zM240.8 448.8l2.1-.8-2.5-3.3-2 .7zM229.7 452.6l2.2-2.2-2.4-3.4-2.2 2.3zM231.9 450.4l2.2-2.1-2.4-3.4-2.2 2.1zM225 451.9l2.3-2.6-2.5-3.3-2.2 2.6zM213.2 453.9l2.3-2.9-2.4-3.2-2.3 3zM208.4 453.9l2.4-3.1-2.4-3-2.4 3.1zM203.7 454.1l2.3-3.2-2.4-3-2.3 3.3zM191.8 452.3l2.4-3.5-2.4-2.8-2.4 3.6zM187 453.1l2.4-3.5-2.3-2.7-2.4 3.7zM180 451.7l2.4-3.7-2.2-2.5-2.4 3.8zM173.1 450.8l2.4-3.9-2.2-2.3-2.4 4zM164.1 448.5l2.4-3.9-2.1-1.6-2.4 3.9zM162 446.9l2.4-3.9-2.1-1.2-2.4 3.9zM157.8 444.9l2.4-3.8-2-.2-2.4 3.6z"/>
<path class="c72" d="M234.1 448.3l2.2-1.6-2.4-3.5-2.2 1.7zM227.3 449.3l2.2-2.3-2.4-3.5-2.3 2.5zM220.3 451.3l2.3-2.7-2.5-3.3-2.3 2.8zM215.5 451l2.3-2.9-2.4-3.2-2.3 2.9zM210.8 450.8l2.3-3-2.4-3.1-2.3 3.1zM206 450.9l2.4-3.1-2.4-3.1-2.4 3.2zM201.3 451.2l2.3-3.3-2.3-3-2.4 3.4zM196.5 451.6l2.4-3.3-2.3-2.9-2.4 3.4zM189.4 449.6l2.4-3.6-2.3-2.7-2.4 3.6zM184.7 450.6l2.4-3.7-2.3-2.6-2.4 3.7zM177.8 449.3l2.4-3.8-2.3-2.4-2.4 3.8zM170.9 448.6l2.4-4-2.2-2.1-2.4 4zM159.9 445.7l2.4-3.9-2.1-.7-2.4 3.8z"/>
<path class="c41" d="M236.3 446.7l2.1-1.3-2.4-3.4-2.1 1.2zM238.4 445.4l2-.7-2.4-3.3-2 .6zM229.5 447l2.2-2.1-2.4-3.5-2.2 2.1zM222.6 448.6l2.2-2.6-2.4-3.4-2.3 2.7zM217.8 448.1l2.3-2.8-2.4-3.4-2.3 3zM198.9 448.3l2.4-3.4-2.4-3-2.3 3.5zM194.2 448.8l2.4-3.4-2.4-2.9-2.4 3.5zM182.4 448l2.4-3.7-2.2-2.6-2.4 3.8zM175.5 446.9l2.4-3.8-2.2-2.4-2.4 3.9zM168.7 446.5l2.4-4-2.2-2-2.4 4.1zM166.5 444.6l2.4-4.1-2.1-1.6-2.4 4.1zM160.2 441.1l2.4-3.9-2 .1-2.4 3.6z"/>
<path class="c42" d="M231.7 444.9l2.2-1.7-2.4-3.5-2.2 1.7zM233.9 443.2l2.1-1.2-2.4-3.5-2.1 1.2zM236 442l2-.6-2.3-3.5-2.1 .6zM224.8 446l2.3-2.5-2.4-3.4-2.3 2.5zM213.1 447.8l2.3-2.9-2.3-3.3-2.4 3.1zM208.4 447.8l2.3-3.1-2.3-3.3-2.4 3.3zM203.6 447.9l2.4-3.2-2.4-3.1-2.3 3.3zM191.8 446l2.4-3.5-2.3-2.9-2.4 3.7zM187.1 446.9l2.4-3.6-2.3-2.8-2.4 3.8zM180.2 445.5l2.4-3.8-2.3-2.6-2.4 4zM173.3 444.6l2.4-3.9-2.2-2.3-2.4 4.1zM164.4 443l2.4-4.1-2.1-1.1-2.4 4zM162.3 441.8l2.4-4-2.1-.6-2.4 3.9z"/>
<path class="c43" d="M227.1 443.5l2.2-2.1-2.4-3.5-2.2 2.2zM220.1 445.3l2.3-2.7-2.4-3.5-2.3 2.8zM215.4 444.9l2.3-3-2.3-3.4-2.3 3.1zM210.7 444.7l2.4-3.1-2.4-3.4-2.3 3.2zM206 444.7l2.4-3.3-2.4-3.2-2.4 3.4zM201.3 444.9l2.3-3.3-2.3-3.2-2.4 3.5zM196.6 445.4l2.3-3.5-2.3-3-2.4 3.6zM184.8 444.3l2.4-3.8-2.3-2.7-2.3 3.9zM177.9 443.1l2.4-4-2.2-2.5-2.4 4.1zM171.1 442.5l2.4-4.1-2.2-2-2.4 4.1z"/>
<path class="c44" d="M229.3 441.4l2.2-1.7-2.4-3.6-2.2 1.8zM231.5 439.7l2.1-1.2-2.4-3.5-2.1 1.1zM233.6 438.5l2.1-.6-2.4-3.5-2.1 .6zM222.4 442.6l2.3-2.5-2.4-3.6-2.3 2.6zM194.2 442.5l2.4-3.6-2.3-3-2.4 3.7zM189.5 443.3l2.4-3.7-2.3-2.9-2.4 3.8zM182.6 441.7l2.3-3.9-2.2-2.7-2.4 4zM175.7 440.7l2.4-4.1-2.3-2.3-2.3 4.1zM168.9 440.5l2.4-4.1-2.2-1.6-2.3 4.1zM166.8 438.9l2.3-4.1-2.1-1.1-2.3 4.1zM164.7 437.8l2.3-4.1-2.1-.4-2.3 3.9zM162.6 437.2l2.3-3.9-2 .3-2.3 3.7z"/>
<path class="c45" d="M224.7 440.1l2.2-2.2-2.4-3.6-2.2 2.2zM217.7 441.9l2.3-2.8-2.3-3.5-2.3 2.9zM213.1 441.6l2.3-3.1-2.4-3.4-2.3 3.1zM208.4 441.4l2.3-3.2-2.4-3.3-2.3 3.3zM203.6 441.6l2.4-3.4-2.4-3.2-2.3 3.4zM198.9 441.9l2.4-3.5-2.3-3.1-2.4 3.6zM187.2 440.5l2.4-3.8-2.3-2.8-2.4 3.9zM173.5 438.4l2.3-4.1-2.1-2.1-2.4 4.2z"/>
<path class="c46" d="M226.9 437.9l2.2-1.8-2.4-3.6-2.2 1.8zM229.1 436.1l2.1-1.1-2.3-3.7-2.2 1.2zM231.2 435l2.1-.6-2.4-3.6-2 .5zM220 439.1l2.3-2.6-2.4-3.6-2.2 2.7zM196.6 438.9l2.4-3.6-2.4-3.1-2.3 3.7zM191.9 439.6l2.4-3.7-2.3-3-2.4 3.8zM180.3 439.1l2.4-4-2.3-2.6-2.3 4.1zM171.3 436.4l2.4-4.2-2.2-1.6-2.4 4.2zM164.9 433.3l2.4-4.1-2 .5-2.4 3.9z"/>
<path class="c47" d="M222.3 436.5l2.2-2.2-2.3-3.7-2.3 2.3zM215.4 438.5l2.3-2.9-2.4-3.5-2.3 3zM210.7 438.2l2.3-3.1-2.4-3.5-2.3 3.3zM206 438.2l2.3-3.3-2.3-3.4-2.4 3.5zM201.3 438.4l2.3-3.4-2.3-3.3-2.3 3.6zM189.6 436.7l2.4-3.8-2.3-2.9-2.4 3.9zM184.9 437.8l2.4-3.9-2.2-2.8-2.4 4zM178.1 436.6l2.3-4.1-2.2-2.4-2.4 4.2zM169.1 434.8l2.4-4.2-2.1-1-2.4 4.1zM167 433.7l2.4-4.1-2.1-.4-2.4 4.1z"/>
<path class="c48" d="M224.5 434.3l2.2-1.8-2.3-3.7-2.2 1.8zM217.7 435.6l2.2-2.7-2.3-3.6-2.3 2.8zM199 435.3l2.3-3.6-2.3-3.2-2.4 3.7zM194.3 435.9l2.3-3.7-2.3-3.1-2.3 3.8zM182.7 435.1l2.4-4-2.3-2.7-2.4 4.1zM175.8 434.3l2.4-4.2-2.2-2.1-2.3 4.2zM167.3 429.2l2.3-4.1-2 .6-2.3 4z"/>
<path class="c49" d="M226.7 432.5l2.2-1.2-2.4-3.7-2.1 1.2zM228.9 431.3l2-.5-2.3-3.7-2.1 .5zM219.9 432.9l2.3-2.3-2.4-3.8-2.2 2.5zM213 435.1l2.3-3-2.4-3.6-2.3 3.1zM208.3 434.9l2.3-3.3-2.3-3.5-2.3 3.4zM203.6 435l2.4-3.5-2.4-3.3-2.3 3.5zM187.3 433.9l2.4-3.9-2.3-3-2.3 4.1zM180.4 432.5l2.4-4.1-2.2-2.6-2.4 4.3zM173.7 432.2l2.3-4.2-2.2-1.7-2.3 4.3zM171.5 430.6l2.3-4.3-2.1-1-2.3 4.3zM169.4 429.6l2.3-4.3-2.1-.2-2.3 4.1z"/>
<path class="c50" d="M222.2 430.6l2.2-1.8-2.4-3.8-2.2 1.8zM215.3 432.1l2.3-2.8-2.4-3.7-2.3 2.9zM210.6 431.6l2.3-3.1-2.3-3.6-2.3 3.2zM196.6 432.2l2.4-3.7-2.3-3.3-2.4 3.9zM192 432.9l2.3-3.8-2.3-3.1-2.3 4zM185.1 431.1l2.3-4.1-2.2-2.8-2.4 4.2zM178.2 430.1l2.4-4.3-2.2-2.2-2.4 4.4z"/>
<path class="c51" d="M224.4 428.8l2.1-1.2-2.3-3.8-2.2 1.2zM226.5 427.6l2.1-.5-2.3-3.8-2.1 .5zM217.6 429.3l2.2-2.5-2.3-3.7-2.3 2.5zM206 431.5l2.3-3.4-2.3-3.5-2.4 3.6zM201.3 431.7l2.3-3.5-2.3-3.4-2.3 3.7zM189.7 430l2.3-4-2.2-3.1-2.4 4.1zM176 428l2.4-4.4-2.2-1.7-2.4 4.4zM169.6 425.1l2.3-4.3-2 .7-2.3 4.2z"/>
<path class="c52" d="M219.8 426.8l2.2-1.8-2.3-3.9-2.2 2zM212.9 428.5l2.3-2.9-2.3-3.8-2.3 3.1zM199 428.5l2.3-3.7-2.3-3.4-2.3 3.8zM194.3 429.1l2.4-3.9-2.3-3.2-2.4 4zM182.8 428.4l2.4-4.2-2.3-2.7-2.3 4.3zM173.8 426.3l2.4-4.4-2.2-1-2.3 4.4zM171.7 425.3l2.3-4.4-2.1-.1-2.3 4.3z"/>
<path class="c73" d="M222 425l2.2-1.2-2.3-4-2.2 1.3zM224.2 423.8l2.1-.5-2.3-3.9-2.1 .4zM208.3 428.1l2.3-3.2-2.3-3.7-2.3 3.4zM203.6 428.2l2.4-3.6-2.4-3.5-2.3 3.7zM187.4 427l2.4-4.1-2.3-2.9-2.3 4.2zM180.6 425.8l2.3-4.3-2.2-2.3-2.3 4.4z"/>
<path class="c53" d="M215.2 425.6l2.3-2.5-2.3-3.9-2.3 2.6zM210.6 424.9l2.3-3.1-2.3-3.7-2.3 3.1zM201.3 424.8l2.3-3.7-2.3-3.5-2.3 3.8zM196.7 425.2l2.3-3.8-2.3-3.4-2.3 4zM192 426l2.4-4-2.3-3.2-2.3 4.1zM185.2 424.2l2.3-4.2-2.2-2.9-2.4 4.4zM178.4 423.6l2.3-4.4-2.2-1.8-2.3 4.5zM176.2 421.9l2.3-4.5-2.2-1-2.3 4.5zM174 420.9l2.3-4.5-2.1-.2-2.3 4.6zM171.9 420.8l2.3-4.6-2 .9-2.3 4.4z"/>
<path class="c54" d="M217.5 423.1l2.2-2-2.3-3.9-2.2 2zM219.7 421.1l2.2-1.3-2.3-4-2.2 1.4zM221.9 419.8l2.1-.4-2.3-4.1-2.1 .5zM206 424.6l2.3-3.4-2.3-3.7-2.4 3.6zM189.8 422.9l2.3-4.1-2.3-3.1-2.3 4.3z"/>
<path class="c55" d="M212.9 421.8l2.3-2.6-2.4-3.9-2.2 2.8zM208.3 421.2l2.3-3.1-2.3-3.9-2.3 3.3zM199 421.4l2.3-3.8-2.3-3.6-2.3 4zM194.4 422l2.3-4-2.3-3.3-2.3 4.1zM182.9 421.5l2.4-4.4-2.3-2.4-2.3 4.5zM174.2 416.2l2.3-4.7-2 .9-2.3 4.7z"/>
<path class="c74" d="M215.2 419.2l2.2-2-2.3-4.1-2.3 2.2zM203.6 421.1l2.4-3.6-2.3-3.7-2.4 3.8zM187.5 420l2.3-4.3-2.2-3-2.3 4.4zM180.7 419.2l2.3-4.5-2.2-1.9-2.3 4.6zM178.5 417.4l2.3-4.6-2.1-1.1-2.4 4.7zM176.3 416.4l2.4-4.7-2.2-.2-2.3 4.7z"/>
<path class="c56" d="M217.4 417.2l2.2-1.4-2.3-4.2-2.2 1.5zM219.6 415.8l2.1-.5-2.3-4.3-2.1 .6zM210.6 418.1l2.2-2.8-2.3-4-2.2 2.9zM196.7 418l2.3-4-2.2-3.5-2.4 4.2zM192.1 418.8l2.3-4.1-2.2-3.4-2.4 4.4zM185.3 417.1l2.3-4.4-2.2-2.6-2.4 4.6z"/>
<path class="c57" d="M212.8 415.3l2.3-2.2-2.3-4.2-2.3 2.4zM206 417.5l2.3-3.3-2.3-3.9-2.3 3.5zM201.3 417.6l2.4-3.8-2.3-3.7-2.4 3.9z"/>
<path class="c75" d="M215.1 413.1l2.2-1.5-2.3-4.3-2.2 1.6zM208.3 414.2l2.2-2.9-2.3-4.1-2.2 3.1zM194.4 414.7l2.4-4.2-2.3-3.6-2.3 4.4zM189.8 415.7l2.4-4.4-2.3-3.2-2.3 4.6zM183 414.7l2.4-4.6-2.3-2.1-2.3 4.8zM180.8 412.8l2.3-4.8-2.1-1.3-2.3 5zM178.7 411.7l2.3-5-2.2-.3-2.3 5.1zM176.5 411.5l2.3-5.1-2.1 .8-2.2 5.2z"/>
<path class="c58" d="M217.3 411.6l2.1-.6-2.2-4.5-2.2 .8zM203.7 413.8l2.3-3.5-2.3-3.9-2.3 3.7zM199 414l2.4-3.9-2.3-3.8-2.3 4.2zM187.6 412.7l2.3-4.6-2.2-2.8-2.3 4.8z"/>
<path class="c59" d="M210.5 411.3l2.3-2.4-2.3-4.3-2.3 2.6zM192.2 411.3l2.3-4.4-2.3-3.4-2.3 4.6zM185.4 410.1l2.3-4.8-2.3-2.3-2.3 5z"/>
<path class="c60" d="M212.8 408.9l2.2-1.6-2.3-4.7-2.2 2zM215 407.3l2.2-.8-2.3-5-2.2 1.1zM206 410.3l2.2-3.1-2.2-4.2-2.3 3.4zM201.4 410.1l2.3-3.7-2.3-4.1-2.3 4zM196.8 410.5l2.3-4.2-2.3-3.8-2.3 4.4zM183.1 408l2.3-5-2.2-1.5-2.2 5.2zM181 406.7l2.2-5.2-2.1-.5-2.3 5.4zM178.8 406.4l2.3-5.4-2.1 .6-2.3 5.6z"/>
<path class="c61" d="M189.9 408.1l2.3-4.6-2.2-3.1-2.3 4.9z"/>
<path class="c76" d="M208.2 407.2l2.3-2.6-2.3-4.6-2.2 3zM203.7 406.4l2.3-3.4-2.3-4.4-2.3 3.7zM194.5 406.9l2.3-4.4-2.3-3.7-2.3 4.7z"/>
<path class="c62" d="M210.5 404.6l2.2-2-2.2-4.9-2.3 2.3zM199.1 406.3l2.3-4-2.3-4.1-2.3 4.3zM187.7 405.3l2.3-4.9-2.3-2.5-2.3 5.1z"/>
<path class="c77" d="M212.7 402.6l2.2-1.1-2.2-5.4-2.2 1.6zM206 403l2.2-3-2.2-4.8-2.3 3.4zM192.2 403.5l2.3-4.7-2.2-3.4-2.3 5zM185.4 403l2.3-5.1-2.2-1.8-2.3 5.4zM183.2 401.5l2.3-5.4-2.1-.9-2.3 5.8zM181.1 401l2.3-5.8-2.2 .3-2.2 6.1z"/>
<path class="c78" d="M201.4 402.3l2.3-3.7-2.3-4.6-2.3 4.2zM196.8 402.5l2.3-4.3-2.2-4.1-2.4 4.7z"/>
<path class="c79" d="M208.2 400l2.3-2.3-2.3-5.3-2.2 2.8zM190 400.4l2.3-5-2.3-2.9-2.3 5.4z"/>
<path class="c63" d="M210.5 397.7l2.2-1.6-2.2-5.9-2.3 2.2zM203.7 398.6l2.3-3.4-2.3-5.1-2.3 3.9zM194.5 398.8l2.4-4.7-2.3-3.9-2.3 5.2zM187.7 397.9l2.3-5.4-2.2-2.3-2.3 5.9z"/>
<path class="c64" d="M199.1 398.2l2.3-4.2-2.2-4.6-2.3 4.7zM185.5 396.1l2.3-5.9-2.2-1.3-2.2 6.3zM183.4 395.2l2.2-6.3-2.1-.2-2.3 6.8z"/>
<path class="c80" d="M206 395.2l2.2-2.8-2.2-5.8-2.3 3.5zM192.3 395.4l2.3-5.2-2.3-3.4-2.3 5.7z"/>
<path class="c81" d="M201.4 394l2.3-3.9-2.2-5.2-2.3 4.5zM196.9 394.1l2.3-4.7-2.3-4.4-2.3 5.2z"/>
<path class="c82" d="M208.2 392.4l2.3-2.2-2.2-6.7-2.3 3.1zM190 392.5l2.3-5.7-2.2-2.8-2.3 6.2z"/>
<path class="c65" d="M187.8 390.2l2.3-6.2-2.2-2-2.3 6.9zM185.6 388.9l2.3-6.9-2.2-.9-2.2 7.6z"/>
<path class="c66" d="M203.7 390.1l2.3-3.5-2.2-6.1-2.3 4.4zM199.2 389.4l2.3-4.5-2.3-5.3-2.3 5.4zM194.6 390.2l2.3-5.2-2.3-4.2-2.3 6z"/>
<path class="c83" d="M206 386.6l2.3-3.1-2.3-7.2-2.2 4.2zM192.3 386.8l2.3-6-2.2-3.5-2.3 6.7z"/>
<path class="c67" d="M201.5 384.9l2.3-4.4-2.3-6.3-2.3 5.4zM196.9 385l2.3-5.4-2.2-5-2.4 6.2zM190.1 384l2.3-6.7-2.2-2.8-2.3 7.5z"/>
<path class="c84" d="M187.9 382l2.3-7.5-2.2-1.7-2.3 8.3z"/>
<path class="c85" d="M203.8 380.5l2.2-4.2-2.2-7.7-2.3 5.6zM194.6 380.8l2.4-6.2-2.3-4.6-2.3 7.3z"/>
<path class="c86" d="M199.2 379.6l2.3-5.4-2.2-6.3-2.3 6.7z"/>
<path class="c87" d="M192.4 377.3l2.3-7.3-2.2-3.8-2.3 8.3z"/>
<path class="c88" d="M197 374.6l2.3-6.7-2.3-5.8-2.3 7.9zM190.2 374.5l2.3-8.3-2.3-2.7-2.2 9.3z"/>
<path class="c69" d="M201.5 374.2l2.3-5.6-2.2-7.7-2.3 7z"/>
<path class="c89" d="M194.7 370l2.3-7.9-2.2-5-2.3 9.1z"/>
<path class="c90" d="M199.3 367.9l2.3-7-2.3-7.4-2.3 8.6z"/>
<path class="c91" d="M192.5 366.2l2.3-9.1-2.3-4-2.3 10.4z"/>
<path class="c92" d="M197 362.1l2.3-8.6-2.2-6.6-2.3 10.2z"/>
<path class="c71" d="M194.8 357.1l2.3-10.2-2.3-5.3-2.3 11.5z"/>
</g>
<g stroke="#000" stroke-width="1.95" fill="none" stroke-dasharray="3.4 4.4">
<line x1="47.6" y1="361.4" x2="195.1" y2="402.9" stroke-dashoffset="1"/>
<line x1="342.2" y1="361.2" x2="195.1" y2="402.9" stroke-dashoffset="4.3"/>
<line x1="195.1" y1="402.9" x2="194.8" y2="636.7" stroke-dashoffset="3.6"/>
</g>
<g stroke="#000" stroke-width="1.75" fill="#000">
<line x1="68.8" y1="524.6" x2="40.4" y2="371.6"/><path stroke="none" d="M39.2 365.2L42.6 372.2L38.5 373Z"/>
<line x1="189.6" y1="647.4" x2="87" y2="550.8"/><path stroke="none" d="M82.3 546.3L89.2 549.9L86.3 553Z"/>
<line x1="207.1" y1="640.7" x2="304.6" y2="548.7"/><path stroke="none" d="M309.3 544.2L305.3 550.9L302.4 547.8Z"/>
</g>
<g font-size="14" text-anchor="middle">
<text transform="translate(46.6 452.9) rotate(79.3)" dy="3.6" font-size="14.7">Density</text>
<text transform="translate(121.7 596) rotate(43.3)" dy="5.2" font-size="14.7">Disturbance</text>
<text transform="translate(271.3 593.3) rotate(-43.4)" dy="5.2" font-size="14.7">Elevation</text>
</g>
<g transform="translate(409.5 338.5) scale(5.8298 2.9862)" shape-rendering="crispEdges">
<path fill="#2d7cb6" d="M0 0h1v1H0zM0 1h1v2H0zM0 3h1v2H0z"/>
<path fill="#2f7db7" d="M0 5h1v2H0zM0 7h1v2H0zM0 9h1v2H0zM0 11h1v2H0z"/>
<path fill="#317fb8" d="M1 0h1v1H1zM0 13h1v2H0zM0 15h1v2H0zM0 17h1v2H0zM0 19h1v2H0zM0 21h1v2H0zM0 23h1v2H0zM0 25h1v2H0zM0 27h1v2H0zM0 29h1v2H0zM0 31h1v2H0zM0 33h1v2H0zM0 35h1v2H0zM0 37h1v2H0zM0 39h1v2H0zM0 41h1v2H0zM0 43h1v2H0zM0 45h1v2H0zM0 47h1v2H0z"/>
<path fill="#3380b9" d="M1 1h1v2H1zM1 3h1v2H1zM1 5h1v2H1zM1 7h1v2H1zM0 49h1v2H0zM0 51h1v2H0zM0 53h1v2H0z"/>
<path fill="#3582ba" d="M1 9h1v2H1zM1 11h1v2H1zM1 13h1v2H1zM1 15h1v2H1zM1 17h1v2H1zM1 19h1v2H1zM1 21h1v2H1zM1 23h1v2H1zM1 25h1v2H1zM1 27h1v2H1zM1 29h1v2H1zM1 31h1v2H1zM1 33h1v2H1zM1 35h1v2H1zM1 37h1v2H1zM1 39h1v2H1zM1 41h1v2H1zM1 43h1v2H1zM0 55h1v2H0zM0 57h1v2H0zM0 93h1v1H0z"/>
<path fill="#3783ba" d="M2 0h1v1H2zM2 1h1v2H2zM2 3h1v2H2zM1 45h1v2H1zM1 47h1v2H1zM1 49h1v2H1zM1 51h1v2H1zM0 59h1v2H0zM0 61h1v2H0zM0 91h1v2H0z"/>
<path fill="#3985bb" d="M2 5h1v2H2zM2 7h1v2H2zM2 9h1v2H2zM2 11h1v2H2zM2 13h1v2H2zM2 15h1v2H2zM2 17h1v2H2zM2 19h1v2H2zM2 21h1v2H2zM2 23h1v2H2zM2 25h1v2H2zM2 27h1v2H2zM2 29h1v2H2zM2 31h1v2H2zM2 33h1v2H2zM2 35h1v2H2zM2 37h1v2H2zM2 39h1v2H2zM1 53h1v2H1zM1 55h1v2H1zM1 57h1v2H1zM1 59h1v2H1zM0 63h1v2H0zM0 65h1v2H0zM0 67h1v2H0zM0 89h1v2H0zM1 93h1v1H1z"/>
<path fill="#3b86bc" d="M3 0h1v1H3zM3 1h1v2H3zM2 41h1v2H2zM2 43h1v2H2zM2 45h1v2H2zM2 47h1v2H2zM2 49h1v2H2zM2 51h1v2H2zM2 53h1v2H2zM1 61h1v2H1zM1 63h1v2H1zM1 65h1v2H1zM0 69h1v2H0zM0 71h1v2H0zM0 73h1v2H0zM0 75h1v2H0zM0 83h1v2H0zM0 85h1v2H0zM0 87h1v2H0zM1 89h1v2H1zM1 91h1v2H1zM2 93h1v1H2z"/>
<path fill="#3d87bd" d="M3 3h1v2H3zM3 5h1v2H3zM3 7h1v2H3zM3 9h1v2H3zM3 11h1v2H3zM3 13h1v2H3zM3 15h1v2H3zM3 17h1v2H3zM3 19h1v2H3zM3 21h1v2H3zM3 23h1v2H3zM3 25h1v2H3zM3 27h1v2H3zM3 29h1v2H3zM3 31h1v2H3zM3 33h1v2H3zM3 35h1v2H3zM3 37h1v2H3zM3 39h1v2H3zM3 41h1v2H3zM2 55h1v2H2zM2 57h1v2H2zM2 59h1v2H2zM2 61h1v2H2zM1 67h1v2H1zM1 69h1v2H1zM1 71h1v2H1zM1 73h1v2H1zM0 77h1v2H0zM0 79h1v2H0zM0 81h1v2H0zM1 83h1v2H1zM1 85h1v2H1zM1 87h1v2H1zM2 89h1v2H2zM2 91h1v2H2zM3 93h1v1H3z"/>
<path fill="#3f89be" d="M4 0h1v1H4zM3 43h1v2H3zM3 45h1v2H3zM3 47h1v2H3zM3 49h1v2H3zM3 51h1v2H3zM3 53h1v2H3zM3 55h1v2H3zM3 57h1v2H3zM2 63h1v2H2zM2 65h1v2H2zM2 67h1v2H2zM2 69h1v2H2zM2 71h1v2H2zM2 73h1v2H2zM1 75h1v2H1zM1 77h1v2H1zM1 79h1v2H1zM1 81h1v2H1zM2 83h1v2H2zM2 85h1v2H2zM2 87h1v2H2zM3 89h1v2H3zM3 91h1v2H3zM4 93h1v1H4z"/>
<path fill="#418abe" d="M4 1h1v2H4zM4 3h1v2H4zM4 5h1v2H4zM4 7h1v2H4zM4 9h1v2H4zM4 11h1v2H4zM4 13h1v2H4zM4 15h1v2H4zM4 17h1v2H4zM4 19h1v2H4zM4 21h1v2H4zM4 23h1v2H4zM4 25h1v2H4zM4 27h1v2H4zM4 29h1v2H4zM4 31h1v2H4zM4 33h1v2H4zM4 35h1v2H4zM4 37h1v2H4zM4 39h1v2H4zM4 41h1v2H4zM4 43h1v2H4zM4 45h1v2H4zM4 47h1v2H4zM4 49h1v2H4zM3 59h1v2H3zM3 61h1v2H3zM3 63h1v2H3zM3 65h1v2H3zM3 67h1v2H3zM3 69h1v2H3zM3 71h1v2H3zM3 73h1v2H3zM2 75h2v2H2zM2 77h2v2H2zM2 79h2v2H2zM2 81h2v2H2zM3 83h1v2H3zM3 85h1v2H3zM3 87h1v2H3zM4 89h1v2H4zM4 91h2v2H4zM5 93h1v1H5z"/>
<path fill="#438cbf" d="M4 51h1v2H4zM4 53h1v2H4zM4 55h1v2H4zM4 57h1v2H4zM4 59h1v2H4zM4 61h1v2H4zM4 63h1v2H4zM4 65h1v2H4zM4 67h1v2H4zM4 69h1v2H4zM4 71h1v2H4zM4 73h1v2H4zM4 75h1v2H4zM4 77h1v2H4zM4 79h1v2H4zM4 81h1v2H4zM4 83h1v2H4zM4 85h2v2H4zM4 87h2v2H4zM5 89h2v2H5zM6 91h1v2H6zM6 93h2v1H6z"/>
<path fill="#458dc0" d="M5 0h1v1H5zM5 1h1v2H5zM5 3h1v2H5zM5 5h1v2H5zM5 7h1v2H5zM5 9h1v2H5zM5 11h1v2H5zM5 13h1v2H5zM5 15h1v2H5zM5 17h1v2H5zM5 19h1v2H5zM5 21h1v2H5zM5 23h1v2H5zM5 25h1v2H5zM5 27h1v2H5zM5 29h1v2H5zM5 31h1v2H5zM5 33h1v2H5zM5 35h1v2H5zM5 37h1v2H5zM5 39h1v2H5zM5 41h1v2H5zM5 43h1v2H5zM5 45h1v2H5zM5 47h1v2H5zM5 49h1v2H5zM5 51h1v2H5zM5 53h1v2H5zM5 55h1v2H5zM5 57h1v2H5zM5 59h1v2H5zM5 61h1v2H5zM5 63h1v2H5zM5 65h1v2H5zM5 67h1v2H5zM5 69h1v2H5zM5 71h1v2H5zM5 73h1v2H5zM5 75h1v2H5zM5 77h1v2H5zM5 79h1v2H5zM5 81h2v2H5zM5 83h2v2H5zM6 85h1v2H6zM6 87h2v2H6zM7 89h2v2H7zM7 91h3v2H7zM8 93h3v1H8z"/>
<path fill="#478fc1" d="M6 35h1v2H6zM6 37h1v2H6zM6 39h1v2H6zM6 41h1v2H6zM6 43h1v2H6zM6 45h1v2H6zM6 47h1v2H6zM6 49h1v2H6zM6 51h1v2H6zM6 53h1v2H6zM6 55h1v2H6zM6 57h1v2H6zM6 59h1v2H6zM6 61h1v2H6zM6 63h1v2H6zM6 65h1v2H6zM6 67h1v2H6zM6 69h1v2H6zM6 71h1v2H6zM6 73h1v2H6zM6 75h2v2H6zM6 77h2v2H6zM6 79h2v2H6zM7 81h1v2H7zM7 83h2v2H7zM7 85h2v2H7zM8 87h2v2H8zM9 89h2v2H9zM10 91h2v2H10zM11 93h3v1H11z"/>
<path fill="#4990c2" d="M6 0h1v1H6zM6 1h1v2H6zM6 3h1v2H6zM6 5h1v2H6zM6 7h1v2H6zM6 9h1v2H6zM6 11h1v2H6zM6 13h1v2H6zM6 15h1v2H6zM6 17h1v2H6zM6 19h1v2H6zM6 21h1v2H6zM6 23h1v2H6zM6 25h1v2H6zM6 27h1v2H6zM6 29h1v2H6zM6 31h1v2H6zM6 33h1v2H6zM7 55h1v2H7zM7 57h1v2H7zM7 59h1v2H7zM7 61h1v2H7zM7 63h1v2H7zM7 65h1v2H7zM7 67h1v2H7zM7 69h1v2H7zM7 71h2v2H7zM7 73h2v2H7zM8 75h1v2H8zM8 77h1v2H8zM8 79h2v2H8zM8 81h2v2H8zM9 83h2v2H9zM9 85h3v2H9zM10 87h3v2H10zM11 89h3v2H11zM12 91h4v2H12zM14 93h5v1H14z"/>
<path fill="#4b92c2" d="M7 27h1v2H7zM7 29h1v2H7zM7 31h1v2H7zM7 33h1v2H7zM7 35h1v2H7zM7 37h1v2H7zM7 39h1v2H7zM7 41h1v2H7zM7 43h1v2H7zM7 45h1v2H7zM7 47h1v2H7zM7 49h1v2H7zM7 51h1v2H7zM7 53h1v2H7zM8 57h1v2H8zM8 59h1v2H8zM8 61h1v2H8zM8 63h1v2H8zM8 65h1v2H8zM8 67h1v2H8zM8 69h2v2H8zM9 71h1v2H9zM9 73h1v2H9zM9 75h2v2H9zM9 77h2v2H9zM10 79h2v2H10zM10 81h2v2H10zM11 83h2v2H11zM12 85h2v2H12zM13 87h2v2H13zM14 89h3v2H14zM16 91h4v2H16zM19 93h4v1H19z"/>
<path fill="#4d93c3" d="M7 0h1v1H7zM7 9h1v2H7zM7 11h1v2H7zM7 13h1v2H7zM7 15h1v2H7zM7 17h1v2H7zM7 19h1v2H7zM7 21h1v2H7zM7 23h1v2H7zM7 25h1v2H7zM8 39h1v2H8zM8 41h1v2H8zM8 43h1v2H8zM8 45h1v2H8zM8 47h1v2H8zM8 49h1v2H8zM8 51h1v2H8zM8 53h1v2H8zM8 55h1v2H8zM9 59h1v2H9zM9 61h1v2H9zM9 63h1v2H9zM9 65h1v2H9zM9 67h2v2H9zM10 69h1v2H10zM10 71h1v2H10zM10 73h2v2H10zM11 75h1v2H11zM11 77h2v2H11zM12 79h1v2H12zM12 81h2v2H12zM13 83h2v2H13zM14 85h3v2H14zM15 87h3v2H15zM17 89h3v2H17zM20 91h3v2H20zM23 93h7v1H23z"/>
<path fill="#4f95c4" d="M7 1h1v2H7zM7 3h1v2H7zM7 5h1v2H7zM7 7h1v2H7zM8 23h1v2H8zM8 25h1v2H8zM8 27h1v2H8zM8 29h1v2H8zM8 31h1v2H8zM8 33h1v2H8zM8 35h1v2H8zM8 37h1v2H8zM9 45h1v2H9zM9 47h1v2H9zM9 49h1v2H9zM9 51h1v2H9zM9 53h1v2H9zM9 55h1v2H9zM9 57h1v2H9zM10 59h1v2H10zM10 61h1v2H10zM10 63h1v2H10zM10 65h2v2H10zM11 67h1v2H11zM11 69h1v2H11zM11 71h2v2H11zM12 73h1v2H12zM12 75h2v2H12zM13 77h2v2H13zM13 79h2v2H13zM14 81h2v2H14zM15 83h3v2H15zM17 85h2v2H17zM18 87h3v2H18zM20 89h3v2H20zM23 91h4v2H23zM30 93h16v1H30z"/>
<path fill="#5196c5" d="M8 11h1v2H8zM8 13h1v2H8zM8 15h1v2H8zM8 17h1v2H8zM8 19h1v2H8zM8 21h1v2H8zM9 33h1v2H9zM9 35h1v2H9zM9 37h1v2H9zM9 39h1v2H9zM9 41h1v2H9zM9 43h1v2H9zM10 49h1v2H10zM10 51h1v2H10zM10 53h1v2H10zM10 55h1v2H10zM10 57h1v2H10zM11 59h1v2H11zM11 61h1v2H11zM11 63h1v2H11zM12 65h1v2H12zM12 67h1v2H12zM12 69h2v2H12zM13 71h1v2H13zM13 73h2v2H13zM14 75h1v2H14zM15 77h1v2H15zM15 79h2v2H15zM16 81h2v2H16zM18 83h2v2H18zM19 85h2v2H19zM21 87h3v2H21zM23 89h4v2H23zM27 91h6v2H27zM46 93h1v1H46z"/>
<path fill="#5398c6" d="M8 0h1v1H8zM8 1h1v2H8zM8 3h1v2H8zM8 5h1v2H8zM8 7h1v2H8zM8 9h1v2H8zM9 23h1v2H9zM9 25h1v2H9zM9 27h1v2H9zM9 29h1v2H9zM9 31h1v2H9zM10 39h1v2H10zM10 41h1v2H10zM10 43h1v2H10zM10 45h1v2H10zM10 47h1v2H10zM11 51h1v2H11zM11 53h1v2H11zM11 55h1v2H11zM11 57h1v2H11zM12 59h1v2H12zM12 61h1v2H12zM12 63h1v2H12zM13 65h1v2H13zM13 67h1v2H13zM14 69h1v2H14zM14 71h2v2H14zM15 73h1v2H15zM15 75h2v2H15zM16 77h2v2H16zM17 79h2v2H17zM18 81h2v2H18zM20 83h2v2H20zM21 85h3v2H21zM24 87h2v2H24zM27 89h3v2H27zM33 91h6v2H33z"/>
<path fill="#5599c6" d="M9 13h1v2H9zM9 15h1v2H9zM9 17h1v2H9zM9 19h1v2H9zM9 21h1v2H9zM10 31h1v2H10zM10 33h1v2H10zM10 35h1v2H10zM10 37h1v2H10zM11 43h1v2H11zM11 45h1v2H11zM11 47h1v2H11zM11 49h1v2H11zM12 53h1v2H12zM12 55h1v2H12zM12 57h1v2H12zM13 59h1v2H13zM13 61h1v2H13zM13 63h2v2H13zM14 65h1v2H14zM14 67h2v2H14zM15 69h1v2H15zM16 71h1v2H16zM16 73h2v2H16zM17 75h2v2H17zM18 77h2v2H18zM19 79h2v2H19zM20 81h2v2H20zM22 83h2v2H22zM24 85h2v2H24zM26 87h3v2H26zM30 89h4v2H30zM39 91h6v2H39z"/>
<path fill="#579bc7" d="M9 0h1v1H9zM9 1h1v2H9zM9 3h1v2H9zM9 5h1v2H9zM9 7h1v2H9zM9 9h1v2H9zM9 11h1v2H9zM10 21h1v2H10zM10 23h1v2H10zM10 25h1v2H10zM10 27h1v2H10zM10 29h1v2H10zM11 35h1v2H11zM11 37h1v2H11zM11 39h1v2H11zM11 41h1v2H11zM12 47h1v2H12zM12 49h1v2H12zM12 51h1v2H12zM13 53h1v2H13zM13 55h1v2H13zM13 57h1v2H13zM14 59h1v2H14zM14 61h1v2H14zM15 63h1v2H15zM15 65h1v2H15zM16 67h1v2H16zM16 69h2v2H16zM17 71h1v2H17zM18 73h1v2H18zM19 75h1v2H19zM20 77h1v2H20zM21 79h2v2H21zM22 81h2v2H22zM24 83h2v2H24zM26 85h2v2H26zM29 87h3v2H29zM34 89h4v2H34zM45 91h2v2H45z"/>
<path fill="#599cc8" d="M10 13h1v2H10zM10 15h1v2H10zM10 17h1v2H10zM10 19h1v2H10zM11 29h1v2H11zM11 31h1v2H11zM11 33h1v2H11zM12 39h1v2H12zM12 41h1v2H12zM12 43h1v2H12zM12 45h1v2H12zM13 49h1v2H13zM13 51h1v2H13zM14 55h1v2H14zM14 57h1v2H14zM15 59h1v2H15zM15 61h1v2H15zM16 63h1v2H16zM16 65h1v2H16zM17 67h1v2H17zM18 69h1v2H18zM18 71h2v2H18zM19 73h2v2H19zM20 75h2v2H20zM21 77h2v2H21zM23 79h1v2H23zM24 81h2v2H24zM26 83h2v2H26zM28 85h3v2H28zM32 87h3v2H32zM38 89h5v2H38z"/>
<path fill="#5b9ec9" d="M10 5h1v2H10zM10 7h1v2H10zM10 9h1v2H10zM10 11h1v2H10zM11 21h1v2H11zM11 23h1v2H11zM11 25h1v2H11zM11 27h1v2H11zM12 33h1v2H12zM12 35h1v2H12zM12 37h1v2H12zM13 43h1v2H13zM13 45h1v2H13zM13 47h1v2H13zM14 49h1v2H14zM14 51h1v2H14zM14 53h1v2H14zM15 55h1v2H15zM15 57h1v2H15zM16 59h1v2H16zM16 61h1v2H16zM17 63h1v2H17zM17 65h1v2H17zM18 67h1v2H18zM19 69h1v2H19zM20 71h1v2H20zM21 73h1v2H21zM22 75h1v2H22zM23 77h1v2H23zM24 79h2v2H24zM26 81h2v2H26zM28 83h2v2H28zM31 85h2v2H31zM35 87h3v2H35zM43 89h3v2H43z"/>
<path fill="#5d9fca" d="M10 0h1v1H10zM10 1h1v2H10zM10 3h1v2H10zM11 15h1v2H11zM11 17h1v2H11zM11 19h1v2H11zM12 27h1v2H12zM12 29h1v2H12zM12 31h1v2H12zM13 37h1v2H13zM13 39h1v2H13zM13 41h1v2H13zM14 45h1v2H14zM14 47h1v2H14zM15 51h1v2H15zM15 53h1v2H15zM16 55h1v2H16zM16 57h1v2H16zM17 59h1v2H17zM17 61h1v2H17zM18 63h1v2H18zM18 65h2v2H18zM19 67h1v2H19zM20 69h1v2H20zM21 71h1v2H21zM22 73h1v2H22zM23 75h1v2H23zM24 77h2v2H24zM26 79h2v2H26zM28 81h2v2H28zM30 83h2v2H30zM33 85h3v2H33zM38 87h3v2H38zM46 89h1v2H46z"/>
<path fill="#5fa0ca" d="M11 9h1v2H11zM11 11h1v2H11zM11 13h1v2H11zM12 21h1v2H12zM12 23h1v2H12zM12 25h1v2H12zM13 33h1v2H13zM13 35h1v2H13zM14 41h1v2H14zM14 43h1v2H14zM15 47h1v2H15zM15 49h1v2H15zM16 53h1v2H16zM17 57h1v2H17zM18 61h1v2H18zM19 63h1v2H19zM20 65h1v2H20zM20 67h1v2H20zM21 69h1v2H21zM22 71h1v2H22zM23 73h2v2H23zM24 75h2v2H24zM26 77h1v2H26zM28 79h1v2H28zM30 81h1v2H30zM32 83h2v2H32zM36 85h2v2H36zM41 87h3v2H41z"/>
<path fill="#61a2cb" d="M11 3h1v2H11zM11 5h1v2H11zM11 7h1v2H11zM12 17h1v2H12zM12 19h1v2H12zM13 27h1v2H13zM13 29h1v2H13zM13 31h1v2H13zM14 37h1v2H14zM14 39h1v2H14zM15 43h1v2H15zM15 45h1v2H15zM16 49h1v2H16zM16 51h1v2H16zM17 53h1v2H17zM17 55h1v2H17zM18 57h1v2H18zM18 59h1v2H18zM19 61h1v2H19zM20 63h1v2H20zM21 65h1v2H21zM21 67h2v2H21zM22 69h2v2H22zM23 71h2v2H23zM25 73h1v2H25zM26 75h1v2H26zM27 77h2v2H27zM29 79h2v2H29zM31 81h2v2H31zM34 83h3v2H34zM38 85h3v2H38zM44 87h3v2H44z"/>
<path fill="#63a3cc" d="M11 0h1v1H11zM11 1h1v2H11zM12 11h1v2H12zM12 13h1v2H12zM12 15h1v2H12zM13 23h1v2H13zM13 25h1v2H13zM14 33h1v2H14zM14 35h1v2H14zM15 39h1v2H15zM15 41h1v2H15zM16 45h1v2H16zM16 47h1v2H16zM17 51h1v2H17zM18 55h1v2H18zM19 57h1v2H19zM19 59h1v2H19zM20 61h1v2H20zM21 63h1v2H21zM22 65h1v2H22zM23 67h1v2H23zM24 69h1v2H24zM25 71h1v2H25zM26 73h1v2H26zM27 75h2v2H27zM29 77h1v2H29zM31 79h2v2H31zM33 81h2v2H33zM37 83h2v2H37zM41 85h2v2H41z"/>
<path fill="#65a5cd" d="M12 5h1v2H12zM12 7h1v2H12zM12 9h1v2H12zM13 17h1v2H13zM13 19h1v2H13zM13 21h1v2H13zM14 29h1v2H14zM14 31h1v2H14zM15 35h1v2H15zM15 37h1v2H15zM16 43h1v2H16zM17 47h1v2H17zM17 49h1v2H17zM18 51h1v2H18zM18 53h1v2H18zM19 55h1v2H19zM20 59h1v2H20zM21 61h1v2H21zM22 63h1v2H22zM23 65h1v2H23zM24 67h1v2H24zM25 69h1v2H25zM26 71h1v2H26zM27 73h1v2H27zM29 75h1v2H29zM30 77h2v2H30zM33 79h1v2H33zM35 81h2v2H35zM39 83h2v2H39zM43 85h2v2H43z"/>
<path fill="#67a6ce" d="M12 1h1v2H12zM12 3h1v2H12zM13 13h1v2H13zM13 15h1v2H13zM14 23h1v2H14zM14 25h1v2H14zM14 27h1v2H14zM15 33h1v2H15zM16 39h1v2H16zM16 41h1v2H16zM17 45h1v2H17zM18 49h1v2H18zM19 53h1v2H19zM20 55h1v2H20zM20 57h1v2H20zM21 59h1v2H21zM22 61h1v2H22zM23 63h1v2H23zM24 65h1v2H24zM25 67h1v2H25zM26 69h1v2H26zM27 71h1v2H27zM28 73h2v2H28zM30 75h1v2H30zM32 77h1v2H32zM34 79h2v2H34zM37 81h2v2H37zM41 83h2v2H41zM45 85h2v2H45z"/>
<path fill="#69a8ce" d="M12 0h1v1H12zM13 9h1v2H13zM13 11h1v2H13zM14 19h1v2H14zM14 21h1v2H14zM15 29h1v2H15zM15 31h1v2H15zM16 35h1v2H16zM16 37h1v2H16zM17 41h1v2H17zM17 43h1v2H17zM18 47h1v2H18zM19 51h1v2H19zM20 53h1v2H20zM21 57h1v2H21zM22 59h1v2H22zM23 61h1v2H23zM24 63h1v2H24zM25 65h1v2H25zM26 67h1v2H26zM27 69h1v2H27zM28 71h1v2H28zM30 73h1v2H30zM31 75h2v2H31zM33 77h2v2H33zM36 79h2v2H36zM39 81h2v2H39zM43 83h2v2H43z"/>
<path fill="#6ba9cf" d="M13 5h1v2H13zM13 7h1v2H13zM14 15h1v2H14zM14 17h1v2H14zM15 25h1v2H15zM15 27h1v2H15zM16 33h1v2H16zM17 39h1v2H17zM18 43h1v2H18zM18 45h1v2H18zM19 47h1v2H19zM19 49h1v2H19zM20 51h1v2H20zM21 55h1v2H21zM22 57h1v2H22zM23 59h1v2H23zM27 67h1v2H27zM28 69h1v2H28zM29 71h1v2H29zM31 73h1v2H31zM33 75h1v2H33zM35 77h1v2H35zM38 79h1v2H38zM41 81h2v2H41zM45 83h1v2H45z"/>
<path fill="#6cabd0" d="M13 1h1v2H13zM13 3h1v2H13zM14 11h1v2H14zM14 13h1v2H14zM15 21h1v2H15zM15 23h1v2H15zM16 29h1v2H16zM16 31h1v2H16zM17 35h1v2H17zM17 37h1v2H17zM18 41h1v2H18zM19 45h1v2H19zM20 49h1v2H20zM21 53h1v2H21zM22 55h1v2H22zM24 61h1v2H24zM25 63h1v2H25zM26 65h1v2H26zM28 67h1v2H28zM29 69h1v2H29zM30 71h2v2H30zM32 73h1v2H32zM34 75h2v2H34zM36 77h2v2H36zM39 79h2v2H39zM43 81h1v2H43zM46 83h1v2H46z"/>
<path fill="#6eacd1" d="M13 0h1v1H13zM14 7h1v2H14zM14 9h1v2H14zM15 17h1v2H15zM15 19h1v2H15zM16 27h1v2H16zM17 33h1v2H17zM18 39h1v2H18zM19 43h1v2H19zM20 47h1v2H20zM21 51h1v2H21zM22 53h1v2H22zM23 57h1v2H23zM24 59h1v2H24zM25 61h1v2H25zM26 63h1v2H26zM27 65h1v2H27zM29 67h1v2H29zM30 69h1v2H30zM32 71h1v2H32zM33 73h2v2H33zM36 75h1v2H36zM38 77h1v2H38zM41 79h1v2H41zM44 81h2v2H44z"/>
<path fill="#70aed1" d="M14 3h1v2H14zM14 5h1v2H14zM15 13h1v2H15zM15 15h1v2H15zM16 23h1v2H16zM16 25h1v2H16zM17 31h1v2H17zM18 35h1v2H18zM18 37h1v2H18zM19 41h1v2H19zM20 45h1v2H20zM21 49h1v2H21zM22 51h1v2H22zM23 55h1v2H23zM24 57h1v2H24zM25 59h1v2H25zM26 61h1v2H26zM27 63h1v2H27zM28 65h1v2H28zM30 67h1v2H30zM31 69h1v2H31zM33 71h1v2H33zM35 73h1v2H35zM37 75h1v2H37zM39 77h2v2H39zM42 79h2v2H42zM46 81h1v2H46z"/>
<path fill="#72afd2" d="M14 1h1v2H14zM15 11h1v2H15zM16 19h1v2H16zM16 21h1v2H16zM17 27h1v2H17zM17 29h1v2H17zM18 33h1v2H18zM19 39h1v2H19zM20 43h1v2H20zM21 47h1v2H21zM22 49h1v2H22zM23 53h1v2H23zM24 55h1v2H24zM25 57h1v2H25zM26 59h1v2H26zM27 61h1v2H27zM28 63h1v2H28zM29 65h1v2H29zM31 67h1v2H31zM32 69h1v2H32zM34 71h1v2H34zM36 73h1v2H36zM38 75h2v2H38zM41 77h1v2H41zM44 79h1v2H44z"/>
<path fill="#74b1d3" d="M14 0h1v1H14zM15 7h1v2H15zM15 9h1v2H15zM16 17h1v2H16zM17 25h1v2H17zM18 31h1v2H18zM19 37h1v2H19zM20 41h1v2H20zM21 45h1v2H21zM22 47h1v2H22zM23 51h1v2H23zM24 53h1v2H24zM29 63h1v2H29zM30 65h1v2H30zM32 67h1v2H32zM33 69h1v2H33zM35 71h1v2H35zM37 73h1v2H37zM40 75h1v2H40zM42 77h2v2H42zM45 79h1v2H45z"/>
<path fill="#76b2d4" d="M15 3h1v2H15zM15 5h1v2H15zM16 13h1v2H16zM16 15h1v2H16zM17 21h1v2H17zM17 23h1v2H17zM18 29h1v2H18zM19 35h1v2H19zM20 39h1v2H20zM21 43h1v2H21zM23 49h1v2H23zM25 55h1v2H25zM26 57h1v2H26zM27 59h1v2H27zM28 61h1v2H28zM30 63h1v2H30zM31 65h1v2H31zM34 69h1v2H34zM36 71h1v2H36zM38 73h2v2H38zM41 75h1v2H41zM44 77h1v2H44zM46 79h1v2H46z"/>
<path fill="#78b4d5" d="M15 1h1v2H15zM16 9h1v2H16zM16 11h1v2H16zM17 19h1v2H17zM18 27h1v2H18zM19 31h1v2H19zM19 33h1v2H19zM20 37h1v2H20zM21 41h1v2H21zM22 45h1v2H22zM23 47h1v2H23zM24 51h1v2H24zM25 53h1v2H25zM26 55h1v2H26zM27 57h1v2H27zM28 59h1v2H28zM29 61h1v2H29zM32 65h1v2H32zM33 67h1v2H33zM35 69h1v2H35zM37 71h1v2H37zM40 73h1v2H40zM42 75h1v2H42zM45 77h1v2H45z"/>
<path fill="#7ab5d5" d="M15 0h1v1H15zM16 7h1v2H16zM17 15h1v2H17zM17 17h1v2H17zM18 23h1v2H18zM18 25h1v2H18zM19 29h1v2H19zM20 35h1v2H20zM21 39h1v2H21zM22 43h1v2H22zM23 45h1v2H23zM24 49h1v2H24zM25 51h1v2H25zM26 53h1v2H26zM29 59h1v2H29zM30 61h1v2H30zM31 63h1v2H31zM33 65h1v2H33zM34 67h1v2H34zM36 69h1v2H36zM38 71h1v2H38zM41 73h1v2H41zM43 75h1v2H43zM46 77h1v2H46z"/>
<path fill="#7cb6d6" d="M16 5h1v2H16zM17 13h1v2H17zM18 21h1v2H18zM19 27h1v2H19zM20 33h1v2H20zM21 37h1v2H21zM22 41h1v2H22zM24 47h1v2H24zM27 55h1v2H27zM28 57h1v2H28zM31 61h1v2H31zM32 63h1v2H32zM34 65h1v2H34zM35 67h1v2H35zM37 69h1v2H37zM39 71h2v2H39zM42 73h1v2H42zM44 75h1v2H44z"/>
<path fill="#7eb8d7" d="M16 1h1v2H16zM16 3h1v2H16zM17 11h1v2H17zM18 19h1v2H18zM19 25h1v2H19zM20 31h1v2H20zM21 35h1v2H21zM22 39h1v2H22zM23 43h1v2H23zM24 45h1v2H24zM25 49h1v2H25zM26 51h1v2H26zM27 53h1v2H27zM28 55h1v2H28zM29 57h1v2H29zM30 59h1v2H30zM33 63h1v2H33zM36 67h1v2H36zM38 69h1v2H38zM41 71h1v2H41zM43 73h1v2H43zM45 75h2v2H45z"/>
<path fill="#80b9d8" d="M16 0h1v1H16zM17 7h1v2H17zM17 9h1v2H17zM18 15h1v2H18zM18 17h1v2H18zM19 23h1v2H19zM20 29h1v2H20zM21 33h1v2H21zM22 37h1v2H22zM23 41h1v2H23zM25 47h1v2H25zM26 49h1v2H26zM31 59h1v2H31zM32 61h1v2H32zM34 63h1v2H34zM35 65h1v2H35zM37 67h1v2H37zM39 69h1v2H39zM42 71h1v2H42zM44 73h1v2H44z"/>
<path fill="#82bbd9" d="M17 5h1v2H17zM18 13h1v2H18zM19 21h1v2H19zM20 27h1v2H20zM21 31h1v2H21zM22 35h1v2H22zM23 39h1v2H23zM24 43h1v2H24zM25 45h1v2H25zM27 51h1v2H27zM28 53h1v2H28zM29 55h1v2H29zM30 57h1v2H30zM33 61h1v2H33zM36 65h1v2H36zM38 67h1v2H38zM40 69h1v2H40zM43 71h1v2H43zM45 73h1v2H45z"/>
<path fill="#84bcd9" d="M17 3h1v2H17zM18 11h1v2H18zM19 19h1v2H19zM20 25h1v2H20zM21 29h1v2H21zM24 41h1v2H24zM26 47h1v2H26zM27 49h1v2H27zM28 51h1v2H28zM30 55h1v2H30zM31 57h1v2H31zM32 59h1v2H32zM35 63h1v2H35zM37 65h1v2H37zM39 67h1v2H39zM41 69h1v2H41zM44 71h1v2H44zM46 73h1v2H46z"/>
<path fill="#86beda" d="M17 1h1v2H17zM18 9h1v2H18zM19 17h1v2H19zM20 23h1v2H20zM22 33h1v2H22zM23 37h1v2H23zM25 43h1v2H25zM26 45h1v2H26zM29 53h1v2H29zM33 59h1v2H33zM34 61h1v2H34zM36 63h1v2H36zM38 65h1v2H38zM40 67h1v2H40zM42 69h1v2H42z"/>
<path fill="#88bfdb" d="M17 0h1v1H17zM18 5h1v2H18zM18 7h1v2H18zM19 13h1v2H19zM19 15h1v2H19zM20 21h1v2H20zM21 27h1v2H21zM22 31h1v2H22zM23 35h1v2H23zM24 39h1v2H24zM25 41h1v2H25zM27 47h1v2H27zM28 49h1v2H28zM29 51h1v2H29zM30 53h1v2H30zM31 55h1v2H31zM32 57h1v2H32zM35 61h1v2H35zM37 63h1v2H37zM39 65h1v2H39zM41 67h1v2H41zM43 69h1v2H43zM45 71h1v2H45z"/>
<path fill="#8ac1dc" d="M18 3h1v2H18zM19 11h1v2H19zM20 19h1v2H20zM21 25h1v2H21zM22 29h1v2H22zM23 33h1v2H23zM24 37h1v2H24zM26 43h1v2H26zM27 45h1v2H27zM33 57h1v2H33zM34 59h1v2H34zM36 61h1v2H36zM38 63h1v2H38zM40 65h1v2H40zM42 67h1v2H42zM44 69h1v2H44zM46 71h1v2H46z"/>
<path fill="#8cc2dd" d="M18 1h1v2H18zM19 9h1v2H19zM20 17h1v2H20zM21 23h1v2H21zM22 27h1v2H22zM24 35h1v2H24zM25 39h1v2H25zM28 47h1v2H28zM29 49h1v2H29zM30 51h1v2H30zM31 53h1v2H31zM32 55h1v2H32zM35 59h1v2H35zM43 67h1v2H43zM45 69h1v2H45z"/>
<path fill="#8ec4dd" d="M18 0h1v1H18zM19 7h1v2H19zM20 15h1v2H20zM21 21h1v2H21zM23 31h1v2H23zM25 37h1v2H25zM26 41h1v2H26zM27 43h1v2H27zM33 55h1v2H33zM34 57h1v2H34zM37 61h1v2H37zM39 63h1v2H39zM41 65h1v2H41zM46 69h1v2H46z"/>
<path fill="#90c5de" d="M19 5h1v2H19zM20 13h1v2H20zM21 19h1v2H21zM22 25h1v2H22zM23 29h1v2H23zM24 33h1v2H24zM26 39h1v2H26zM28 45h1v2H28zM29 47h1v2H29zM30 49h1v2H30zM31 51h1v2H31zM32 53h1v2H32zM35 57h1v2H35zM36 59h1v2H36zM38 61h1v2H38zM40 63h1v2H40zM42 65h1v2H42zM44 67h1v2H44z"/>
<path fill="#92c7df" d="M19 3h1v2H19zM20 11h1v2H20zM21 17h1v2H21zM22 23h1v2H22zM23 27h1v2H23zM24 31h1v2H24zM25 35h1v2H25zM27 41h1v2H27zM28 43h1v2H28zM34 55h1v2H34zM37 59h1v2H37zM39 61h1v2H39zM41 63h1v2H41zM43 65h1v2H43zM45 67h1v2H45z"/>
<path fill="#94c8e0" d="M19 1h1v2H19zM20 9h1v2H20zM21 15h1v2H21zM22 21h1v2H22zM25 33h1v2H25zM26 37h1v2H26zM29 45h1v2H29zM30 47h1v2H30zM31 49h1v2H31zM32 51h1v2H32zM33 53h1v2H33zM36 57h1v2H36zM44 65h1v2H44zM46 67h1v2H46z"/>
<path fill="#96cae1" d="M19 0h1v1H19zM20 7h1v2H20zM21 13h1v2H21zM22 19h1v2H22zM23 25h1v2H23zM24 29h1v2H24zM26 35h1v2H26zM27 39h1v2H27zM28 41h1v2H28zM34 53h1v2H34zM35 55h1v2H35zM38 59h1v2H38zM40 61h1v2H40zM42 63h1v2H42z"/>
<path fill="#98cbe1" d="M20 5h1v2H20zM21 11h1v2H21zM22 17h1v2H22zM23 23h1v2H23zM24 27h1v2H24zM25 31h1v2H25zM27 37h1v2H27zM29 43h1v2H29zM30 45h1v2H30zM31 47h1v2H31zM32 49h1v2H32zM33 51h1v2H33zM36 55h1v2H36zM37 57h1v2H37zM39 59h1v2H39zM41 61h1v2H41zM43 63h1v2H43zM45 65h1v2H45z"/>
<path fill="#9acde2" d="M20 3h1v2H20zM21 9h1v2H21zM23 21h1v2H23zM26 33h1v2H26zM28 39h1v2H28zM29 41h1v2H29zM35 53h1v2H35zM38 57h1v2H38zM40 59h1v2H40zM44 63h1v2H44zM46 65h1v2H46z"/>
<path fill="#9ccee3" d="M20 1h1v2H20zM21 7h1v2H21zM22 15h1v2H22zM24 25h1v2H24zM25 29h1v2H25zM27 35h1v2H27zM30 43h1v2H30zM31 45h1v2H31zM32 47h1v2H32zM33 49h1v2H33zM34 51h1v2H34zM37 55h1v2H37zM42 61h1v2H42z"/>
<path fill="#9ecfe4" d="M20 0h1v1H20zM21 5h1v2H21zM22 13h1v2H22zM23 19h1v2H23zM24 23h1v2H24zM25 27h1v2H25zM26 31h1v2H26zM28 37h1v2H28zM29 39h1v2H29zM36 53h1v2H36zM39 57h1v2H39zM41 59h1v2H41zM43 61h1v2H43zM45 63h1v2H45z"/>
<path fill="#a0d1e5" d="M22 11h1v2H22zM23 17h1v2H23zM24 21h1v2H24zM26 29h1v2H26zM27 33h1v2H27zM30 41h1v2H30zM31 43h1v2H31zM32 45h1v2H32zM33 47h1v2H33zM34 49h1v2H34zM35 51h1v2H35zM38 55h1v2H38zM40 57h1v2H40zM42 59h1v2H42zM44 61h1v2H44zM46 63h1v2H46z"/>
<path fill="#a2d2e5" d="M21 3h1v2H21zM22 9h1v2H22zM23 15h1v2H23zM25 25h1v2H25zM28 35h1v2H28zM29 37h1v2H29zM36 51h1v2H36zM37 53h1v2H37z"/>
<path fill="#a4d4e6" d="M21 1h1v2H21zM22 7h1v2H22zM23 13h1v2H23zM24 19h1v2H24zM25 23h1v2H25zM26 27h1v2H26zM27 31h1v2H27zM28 33h1v2H28zM30 39h1v2H30zM31 41h1v2H31zM32 43h1v2H32zM33 45h1v2H33zM34 47h1v2H34zM35 49h1v2H35zM39 55h1v2H39zM41 57h1v2H41zM43 59h1v2H43zM45 61h1v2H45z"/>
<path fill="#a6d5e7" d="M21 0h1v1H21zM22 5h1v2H22zM24 17h1v2H24zM27 29h1v2H27zM29 35h1v2H29zM37 51h1v2H37zM38 53h1v2H38zM40 55h1v2H40z"/>
<path fill="#a8d7e8" d="M23 11h1v2H23zM25 21h1v2H25zM26 25h1v2H26zM28 31h1v2H28zM30 37h1v2H30zM31 39h1v2H31zM35 47h1v2H35zM36 49h1v2H36zM39 53h1v2H39zM42 57h1v2H42zM44 59h1v2H44zM46 61h1v2H46z"/>
<path fill="#aad8e9" d="M22 3h1v2H22zM23 9h1v2H23zM24 15h1v2H24zM25 19h1v2H25zM27 27h1v2H27zM29 33h1v2H29zM32 41h1v2H32zM33 43h1v2H33zM34 45h1v2H34zM38 51h1v2H38zM41 55h1v2H41zM43 57h1v2H43zM45 59h1v2H45z"/>
<path fill="#acd9e9" d="M22 1h1v2H22zM23 7h1v2H23zM24 13h1v2H24zM26 23h1v2H26zM28 29h1v2H28zM30 35h1v2H30zM31 37h1v2H31zM37 49h1v2H37zM40 53h1v2H40z"/>
<path fill="#addae8" d="M22 0h1v1H22zM25 17h1v2H25zM26 21h1v2H26zM27 25h1v2H27zM29 31h1v2H29zM32 39h1v2H32zM33 41h1v2H33zM34 43h1v2H34zM35 45h1v2H35zM36 47h1v2H36zM39 51h1v2H39zM42 55h1v2H42zM44 57h1v2H44zM46 59h1v2H46z"/>
<path fill="#aedae7" d="M23 5h1v2H23zM24 11h1v2H24zM28 27h1v2H28zM30 33h1v2H30zM38 49h1v2H38zM41 53h1v2H41z"/>
<path fill="#b0dbe7" d="M23 3h1v2H23zM24 9h1v2H24zM25 15h1v2H25zM26 19h1v2H26zM27 23h1v2H27zM29 29h1v2H29zM31 35h1v2H31zM32 37h1v2H32zM33 39h1v2H33zM34 41h1v2H34zM35 43h1v2H35zM36 45h1v2H36zM37 47h1v2H37zM40 51h1v2H40zM43 55h1v2H43zM45 57h1v2H45z"/>
<path fill="#b1dce6" d="M23 1h1v2H23zM25 13h1v2H25zM28 25h1v2H28zM30 31h1v2H30zM39 49h1v2H39zM42 53h1v2H42zM44 55h1v2H44z"/>
<path fill="#b2dce5" d="M24 7h1v2H24zM26 17h1v2H26zM27 21h1v2H27zM29 27h1v2H29zM31 33h1v2H31zM32 35h1v2H32zM37 45h1v2H37zM38 47h1v2H38zM41 51h1v2H41zM46 57h1v2H46z"/>
<path fill="#b4dde5" d="M23 0h1v1H23zM24 5h1v2H24zM25 11h1v2H25zM26 15h1v2H26zM28 23h1v2H28zM30 29h1v2H30zM33 37h1v2H33zM34 39h1v2H34zM35 41h1v2H35zM36 43h1v2H36zM40 49h1v2H40zM43 53h1v2H43zM45 55h1v2H45z"/>
<path fill="#b5dde4" d="M25 9h1v2H25zM27 19h1v2H27zM29 25h1v2H29zM31 31h1v2H31zM39 47h1v2H39zM42 51h1v2H42z"/>
<path fill="#b6dee3" d="M24 3h1v2H24zM26 13h1v2H26zM27 17h1v2H27zM28 21h1v2H28zM30 27h1v2H30zM32 33h1v2H32zM33 35h1v2H33zM34 37h1v2H34zM35 39h1v2H35zM36 41h1v2H36zM37 43h1v2H37zM38 45h1v2H38zM41 49h1v2H41zM44 53h1v2H44z"/>
<path fill="#b7dfe3" d="M24 1h1v2H24zM25 7h1v2H25zM31 29h1v2H31zM40 47h1v2H40zM43 51h1v2H43zM46 55h1v2H46z"/>
<path fill="#b9dfe2" d="M26 11h1v2H26zM27 15h1v2H27zM28 19h1v2H28zM29 23h1v2H29zM32 31h1v2H32zM39 45h1v2H39zM42 49h1v2H42zM45 53h1v2H45z"/>
<path fill="#bae0e1" d="M24 0h1v1H24zM25 5h1v2H25zM30 25h1v2H30zM33 33h1v2H33zM34 35h1v2H34zM35 37h1v2H35zM36 39h1v2H36zM37 41h1v2H37zM38 43h1v2H38zM41 47h1v2H41zM44 51h1v2H44z"/>
<path fill="#bbe0e1" d="M25 3h1v2H25zM26 9h1v2H26zM27 13h1v2H27zM28 17h1v2H28zM29 21h1v2H29zM31 27h1v2H31zM32 29h1v2H32zM40 45h1v2H40zM46 53h1v2H46z"/>
<path fill="#bde1e0" d="M26 7h1v2H26zM30 23h1v2H30zM33 31h1v2H33zM38 41h1v2H38zM39 43h1v2H39zM43 49h1v2H43z"/>
<path fill="#bee2df" d="M25 1h1v2H25zM27 11h1v2H27zM28 15h1v2H28zM29 19h1v2H29zM31 25h1v2H31zM34 33h1v2H34zM35 35h1v2H35zM36 37h1v2H36zM37 39h1v2H37zM42 47h1v2H42zM45 51h1v2H45z"/>
<path fill="#bfe2df" d="M26 5h1v2H26zM30 21h1v2H30zM32 27h1v2H32zM41 45h1v2H41zM44 49h1v2H44z"/>
<path fill="#c1e3de" d="M25 0h1v1H25zM27 9h1v2H27zM28 13h1v2H28zM29 17h1v2H29zM31 23h1v2H31zM33 29h1v2H33zM34 31h1v2H34zM39 41h1v2H39zM40 43h1v2H40zM43 47h1v2H43zM46 51h1v2H46z"/>
<path fill="#c2e3de" d="M26 3h1v2H26zM32 25h1v2H32zM35 33h1v2H35zM36 35h1v2H36zM37 37h1v2H37zM38 39h1v2H38zM42 45h1v2H42z"/>
<path fill="#c3e4dd" d="M27 7h1v2H27zM29 15h1v2H29zM30 19h1v2H30zM33 27h1v2H33zM41 43h1v2H41zM45 49h1v2H45z"/>
<path fill="#c5e5dc" d="M26 1h1v2H26zM28 11h1v2H28zM31 21h1v2H31zM34 29h1v2H34zM35 31h1v2H35zM39 39h1v2H39zM40 41h1v2H40zM44 47h1v2H44z"/>
<path fill="#c6e5dc" d="M27 5h1v2H27zM30 17h1v2H30zM32 23h1v2H32zM36 33h1v2H36zM37 35h1v2H37zM38 37h1v2H38zM43 45h1v2H43z"/>
<path fill="#c7e6db" d="M26 0h1v1H26zM28 9h1v2H28zM29 13h1v2H29zM31 19h1v2H31zM33 25h1v2H33zM42 43h1v2H42zM46 49h1v2H46z"/>
<path fill="#c9e6da" d="M27 3h1v2H27zM34 27h1v2H34zM35 29h1v2H35zM40 39h1v2H40zM41 41h1v2H41zM45 47h1v2H45z"/>
<path fill="#cae7da" d="M28 7h1v2H28zM29 11h1v2H29zM30 15h1v2H30zM32 21h1v2H32zM36 31h1v2H36zM37 33h1v2H37zM38 35h1v2H38zM39 37h1v2H39zM44 45h1v2H44z"/>
<path fill="#cbe8d9" d="M27 1h1v2H27zM31 17h1v2H31zM33 23h1v2H33zM43 43h1v2H43z"/>
<path fill="#cce8d8" d="M28 5h1v2H28zM30 13h1v2H30zM32 19h1v2H32zM34 25h1v2H34zM35 27h1v2H35zM41 39h1v2H41zM42 41h1v2H42zM46 47h1v2H46z"/>
<path fill="#cee9d8" d="M27 0h1v1H27zM29 9h1v2H29zM36 29h1v2H36zM37 31h1v2H37zM38 33h1v2H38zM39 35h1v2H39zM40 37h1v2H40zM45 45h1v2H45z"/>
<path fill="#cfe9d7" d="M31 15h1v2H31zM33 21h1v2H33zM44 43h1v2H44z"/>
<path fill="#d0ead6" d="M28 3h1v2H28zM29 7h1v2H29zM30 11h1v2H30zM32 17h1v2H32zM34 23h1v2H34zM35 25h1v2H35zM42 39h1v2H42zM43 41h1v2H43z"/>
<path fill="#d2ebd6" d="M36 27h1v2H36zM37 29h1v2H37zM41 37h1v2H41z"/>
<path fill="#d3ebd5" d="M28 1h1v2H28zM30 9h1v2H30zM31 13h1v2H31zM33 19h1v2H33zM38 31h1v2H38zM39 33h1v2H39zM40 35h1v2H40zM45 43h1v2H45zM46 45h1v2H46z"/>
<path fill="#d4ecd4" d="M29 5h1v2H29zM32 15h1v2H32zM34 21h1v2H34zM44 41h1v2H44z"/>
<path fill="#d6ecd4" d="M28 0h1v1H28zM35 23h1v2H35zM36 25h1v2H36zM43 39h1v2H43z"/>
<path fill="#d7edd3" d="M29 3h1v2H29zM30 7h1v2H30zM31 11h1v2H31zM33 17h1v2H33zM37 27h1v2H37zM38 29h1v2H38zM40 33h1v2H40zM41 35h1v2H41zM42 37h1v2H42z"/>
<path fill="#d8edd2" d="M32 13h1v2H32zM34 19h1v2H34zM39 31h1v2H39zM46 43h1v2H46z"/>
<path fill="#daeed2" d="M35 21h1v2H35zM45 41h1v2H45z"/>
<path fill="#dbefd1" d="M29 1h1v2H29zM30 5h1v2H30zM31 9h1v2H31zM33 15h1v2H33zM36 23h1v2H36zM43 37h1v2H43zM44 39h1v2H44z"/>
<path fill="#dcefd0" d="M34 17h1v2H34zM37 25h1v2H37zM38 27h1v2H38zM39 29h1v2H39zM40 31h1v2H40zM41 33h1v2H41zM42 35h1v2H42z"/>
<path fill="#def0d0" d="M29 0h1v1H29zM32 11h1v2H32zM35 19h1v2H35z"/>
<path fill="#dff0cf" d="M30 3h1v2H30zM31 7h1v2H31zM33 13h1v2H33zM36 21h1v2H36zM46 41h1v2H46z"/>
<path fill="#e0f1ce" d="M37 23h1v2H37zM44 37h1v2H44zM45 39h1v2H45z"/>
<path fill="#e1f2ce" d="M32 9h1v2H32zM34 15h1v2H34zM38 25h1v2H38zM39 27h1v2H39zM42 33h1v2H42zM43 35h1v2H43z"/>
<path fill="#e3f2cd" d="M30 1h1v2H30zM31 5h1v2H31zM35 17h1v2H35zM40 29h1v2H40zM41 31h1v2H41z"/>
<path fill="#e4f3cc" d="M33 11h1v2H33zM36 19h1v2H36z"/>
<path fill="#e5f3cc" d="M32 7h1v2H32zM34 13h1v2H34zM37 21h1v2H37zM46 39h1v2H46z"/>
<path fill="#e7f4cb" d="M30 0h1v1H30zM31 3h1v2H31zM38 23h1v2H38zM39 25h1v2H39zM44 35h1v2H44zM45 37h1v2H45z"/>
<path fill="#e8f5ca" d="M33 9h1v2H33zM35 15h1v2H35zM40 27h1v2H40zM41 29h1v2H41zM42 31h1v2H42zM43 33h1v2H43z"/>
<path fill="#e9f5ca" d="M36 17h1v2H36z"/>
<path fill="#ebf6c9" d="M31 1h1v2H31zM32 5h1v2H32zM34 11h1v2H34zM37 19h1v2H37z"/>
<path fill="#ecf6c9" d="M38 21h1v2H38z"/>
<path fill="#edf7c8" d="M33 7h1v2H33zM35 13h1v2H35zM39 23h1v2H39zM40 25h1v2H40zM45 35h1v2H45zM46 37h1v2H46z"/>
<path fill="#eff8c7" d="M32 3h1v2H32zM36 15h1v2H36zM41 27h1v2H41zM42 29h1v2H42zM43 31h1v2H43zM44 33h1v2H44z"/>
<path fill="#f0f8c7" d="M31 0h1v1H31zM34 9h1v2H34zM37 17h1v2H37z"/>
<path fill="#f1f9c6" d="M38 19h1v2H38z"/>
<path fill="#f3f9c5" d="M33 5h1v2H33zM35 11h1v2H35zM39 21h1v2H39z"/>
<path fill="#f4fac5" d="M32 1h1v2H32zM36 13h1v2H36zM40 23h1v2H40zM41 25h1v2H41zM46 35h1v2H46z"/>
<path fill="#f5fbc4" d="M34 7h1v2H34zM37 15h1v2H37zM42 27h1v2H42zM43 29h1v2H43zM44 31h1v2H44zM45 33h1v2H45z"/>
<path fill="#f8fcc3" d="M33 3h1v2H33zM35 9h1v2H35zM38 17h1v2H38z"/>
<path fill="#f9fcc2" d="M32 0h1v1H32zM36 11h1v2H36zM39 19h1v2H39zM40 21h1v2H40z"/>
<path fill="#fafdc1" d="M34 5h1v2H34zM41 23h1v2H41z"/>
<path fill="#fcfec1" d="M37 13h1v2H37zM42 25h1v2H42zM43 27h1v2H43zM44 29h1v2H44zM45 31h1v2H45zM46 33h1v2H46z"/>
<path fill="#fdfec0" d="M33 1h1v2H33zM35 7h1v2H35zM38 15h1v2H38z"/>
<path fill="#feffbf" d="M39 17h1v2H39z"/>
<path fill="#fffebe" d="M34 3h1v2H34zM36 9h1v2H36zM40 19h1v2H40z"/>
<path fill="#fffdbd" d="M37 11h1v2H37zM41 21h1v2H41z"/>
<path fill="#fffcbb" d="M33 0h1v1H33zM42 23h1v2H42z"/>
<path fill="#fffbba" d="M35 5h1v2H35zM38 13h1v2H38zM43 25h1v2H43zM44 27h1v2H44zM45 29h1v2H45zM46 31h1v2H46z"/>
<path fill="#fff9b8" d="M39 15h1v2H39z"/>
<path fill="#fff8b7" d="M34 1h1v2H34zM36 7h1v2H36zM40 17h1v2H40z"/>
<path fill="#fff7b5" d="M37 9h1v2H37zM41 19h1v2H41z"/>
<path fill="#fff6b4" d="M35 3h1v2H35zM42 21h1v2H42z"/>
<path fill="#fff4b3" d="M38 11h1v2H38zM43 23h1v2H43z"/>
<path fill="#fff3b1" d="M34 0h1v1H34zM36 5h1v2H36zM39 13h1v2H39zM44 25h1v2H44zM45 27h1v2H45zM46 29h1v2H46z"/>
<path fill="#fff2b0" d="M40 15h1v2H40z"/>
<path fill="#fff0ae" d="M37 7h1v2H37zM41 17h1v2H41z"/>
<path fill="#ffefad" d="M35 1h1v2H35z"/>
<path fill="#ffeeab" d="M38 9h1v2H38zM42 19h1v2H42zM43 21h1v2H43z"/>
<path fill="#ffedaa" d="M36 3h1v2H36zM39 11h1v2H39zM44 23h1v2H44z"/>
<path fill="#ffeba8" d="M45 25h1v2H45zM46 27h1v2H46z"/>
<path fill="#feeaa7" d="M37 5h1v2H37zM40 13h1v2H40z"/>
<path fill="#fee9a5" d="M35 0h1v1H35zM41 15h1v2H41z"/>
<path fill="#fee8a4" d="M38 7h1v2H38zM42 17h1v2H42z"/>
<path fill="#fee6a2" d="M36 1h1v2H36zM43 19h1v2H43z"/>
<path fill="#fee5a1" d="M39 9h1v2H39zM44 21h1v2H44z"/>
<path fill="#fee49f" d="M40 11h1v2H40zM45 23h1v2H45zM46 25h1v2H46z"/>
<path fill="#fee39e" d="M37 3h1v2H37zM41 13h1v2H41z"/>
<path fill="#fee19c" d="M38 5h1v2H38z"/>
<path fill="#fee09b" d="M36 0h1v1H36zM42 15h1v2H42z"/>
<path fill="#fedf9a" d="M39 7h1v2H39zM43 17h1v2H43z"/>
<path fill="#fedd98" d="M44 19h1v2H44zM45 21h1v2H45z"/>
<path fill="#fedc97" d="M37 1h1v2H37zM40 9h1v2H40zM46 23h1v2H46z"/>
<path fill="#fedb95" d="M41 11h1v2H41z"/>
<path fill="#feda94" d="M38 3h1v2H38zM42 13h1v2H42z"/>
<path fill="#fed791" d="M39 5h1v2H39zM43 15h1v2H43z"/>
<path fill="#fed68f" d="M37 0h1v1H37zM44 17h1v2H44zM45 19h1v2H45z"/>
<path fill="#fed58e" d="M40 7h1v2H40zM46 21h1v2H46z"/>
<path fill="#fed38c" d="M41 9h1v2H41z"/>
<path fill="#fed28b" d="M38 1h1v2H38zM42 11h1v2H42z"/>
<path fill="#fed088" d="M39 3h1v2H39zM43 13h1v2H43z"/>
<path fill="#fece86" d="M44 15h1v2H44z"/>
<path fill="#fecd85" d="M40 5h1v2H40zM45 17h1v2H45zM46 19h1v2H46z"/>
<path fill="#fecc84" d="M38 0h1v1H38zM41 7h1v2H41z"/>
<path fill="#fec981" d="M42 9h1v2H42z"/>
<path fill="#fec87f" d="M39 1h1v2H39zM43 11h1v2H43z"/>
<path fill="#fec77e" d="M44 13h1v2H44z"/>
<path fill="#fec57c" d="M40 3h1v2H40zM45 15h1v2H45zM46 17h1v2H46z"/>
<path fill="#fec47b" d="M41 5h1v2H41z"/>
<path fill="#fdc278" d="M42 7h1v2H42z"/>
<path fill="#fdc076" d="M39 0h1v1H39zM43 9h1v2H43z"/>
<path fill="#fdbf75" d="M44 11h1v2H44z"/>
<path fill="#fdbe73" d="M40 1h1v2H40zM45 13h1v2H45z"/>
<path fill="#fdbd72" d="M46 15h1v2H46z"/>
<path fill="#fdbb70" d="M41 3h1v2H41z"/>
<path fill="#fdb96d" d="M42 5h1v2H42z"/>
<path fill="#fdb76c" d="M43 7h1v2H43z"/>
<path fill="#fdb66b" d="M44 9h1v2H44z"/>
<path fill="#fdb569" d="M40 0h1v1H40zM45 11h1v2H45zM46 13h1v2H46z"/>
<path fill="#fdb266" d="M41 1h1v2H41z"/>
<path fill="#fdb063" d="M42 3h1v2H42z"/>
<path fill="#fdaf62" d="M43 5h1v2H43z"/>
<path fill="#fdad60" d="M44 7h1v2H44z"/>
<path fill="#fcab5f" d="M45 9h1v2H45zM46 11h1v2H46z"/>
<path fill="#fba65d" d="M41 0h1v1H41z"/>
<path fill="#faa15b" d="M42 1h1v2H42z"/>
<path fill="#f99d59" d="M43 3h1v2H43z"/>
<path fill="#f89a58" d="M44 5h1v2H44z"/>
<path fill="#f79857" d="M45 7h1v2H45zM46 9h1v2H46z"/>
<path fill="#f69154" d="M42 0h1v1H42z"/>
<path fill="#f48c51" d="M43 1h1v2H43z"/>
<path fill="#f3884f" d="M44 3h1v2H44z"/>
<path fill="#f3854e" d="M45 5h1v2H45zM46 7h1v2H46z"/>
<path fill="#ef7748" d="M43 0h1v1H43z"/>
<path fill="#ee7346" d="M44 1h1v2H44z"/>
<path fill="#ed7044" d="M45 3h1v2H45zM46 5h1v2H46z"/>
<path fill="#e85b3b" d="M44 0h1v1H44z"/>
<path fill="#e7593a" d="M45 1h1v2H45z"/>
<path fill="#e75739" d="M46 3h1v2H46z"/>
<path fill="#e03d2d" d="M45 0h1v1H45z"/>
<path fill="#e03b2c" d="M46 1h1v2H46z"/>
<path fill="#d71a1d" d="M46 0h1v1H46z"/>
</g>
<g stroke="#111" stroke-width="1.05" fill="none">
<polyline points="450.6,338.5 450.6,339.4 450.5,341.3 450.3,343.2 450.3,345 450.2,346.9 450.1,348.8 450.1,350.6 450,352.5 450,354.4 450,356.2 450,358.1 450,360 450,361.8 450,363.7 450.1,365.6 450.1,367.4 450.2,369.3 450.2,371.2 450.3,373 450.4,374.9 450.5,376.8 450.5,378.6 450.6,380.1 450.7,381.4 450.8,383.3 450.8,385.2 450.9,387.1 451,388.9 451.1,390.8 451.2,392.7 451.3,394.5 451.4,396.4 451.5,397.8 451.6,399.2 451.7,401.1 451.8,402.9 451.9,404.8 452,406.7 452.1,408.5 452.2,410.4 452.3,412.3 452.4,413.7 452.5,415.1 452.6,416.9 452.7,418.8 452.8,420.7 452.9,422.5 453,424.4 453.2,426.3 453.3,428.1 453.3,429.6 453.4,430.9 453.5,432.8 453.6,434.7 453.7,436.5 453.8,438.4 453.9,440.3 454,442.1 454.1,444 454.2,445.9 454.3,446.8 454.4,448.7 454.5,450.5 454.6,452.4 454.7,454.3 454.8,456.1 454.9,458 455,459.9 455.1,461.7 455.2,463.3 455.2,464.5 455.3,466.4 455.4,468.3 455.5,470.1 455.6,472 455.7,473.9 455.8,475.7 456,477.6 456.1,479.5 456.1,480.4 456.2,482.3 456.3,484.2 456.5,486 456.6,487.9 456.7,489.8 456.8,491.6 457,493.5 457.1,494.4 457.2,496.3 457.3,498.2 457.5,500 457.7,501.9 457.8,503.8 457.9,504.7 458.1,506.6 458.3,508.4 458.5,510.3 458.7,512.2 458.8,513.2 459,515 459.2,516.8 459.5,518.7 459.7,520.6 459.9,521.5 460.1,523.4 460.4,525.2 460.6,526.9 460.8,528 461.1,529.9 461.4,531.8 461.6,532.7 461.9,534.6 462.3,536.4 462.5,537.4 462.8,539.2 463.2,541.1 463.4,542 463.8,543.9 464.2,545.8 464.5,546.7 464.9,548.6 465.2,549.8 465.6,551.4 466.1,553.2 466.4,554.2 466.9,556 467.2,557 467.8,558.8 468.1,559.8 468.8,561.6 469.1,562.6 469.8,564.4 470.1,565.4 470.7,566.7 471.3,568.2 471.7,569.1 472.5,570.9 473,571.9 473.4,572.9 474.3,574.6 474.9,575.7 475.4,576.6 476.2,577.9 477.1,579.4 477.6,580.3 478.3,581.3 478.9,582.2 479.8,583.5 480.7,584.8 481.6,585.9 482.4,586.9 483.2,587.8 484,588.7 484.8,589.7 485.7,590.6 486.6,591.5 487.5,592.5 488.5,593.4 489.5,594.3 490.5,595.3 491.6,596.2 492.6,597.1 493.5,597.8 494.4,598.5 495.4,599.2 496.4,599.9 497.7,600.9 499,601.8 499.9,602.4 500.8,603 502,603.7 503.5,604.6 504.5,605.1 505.4,605.7 506.9,606.5 508.1,607.1 509.1,607.6 510.6,608.3 511.8,608.9 512.7,609.3 514.5,610.1 515.4,610.5 515.4,610.5"/>
<polyline points="528.2,615.2 530.1,615.7 531,616 532.8,616.5 533.9,616.7 535.5,617.2 537.4,617.6 538.3,617.8 540.1,618.2 541.9,618.6 542.1,618.6"/>
<polyline points="507.5,338.5 508.1,340.4 508.3,341.3 508.8,343.2 509.1,344.1 509.6,346 510,347.6 510.3,348.8 510.7,350.6 511,351.6 511.4,353.4 511.8,355 512.1,356.2 512.5,358.1 512.8,359 513.2,360.9 513.6,362.7 513.9,363.7 514.3,365.6 514.5,366.7 514.9,368.4 515.4,370.2 515.6,371.2 516,373 516.4,374.5 516.7,375.8 517.1,377.7 517.3,378.6 517.8,380.5 518.2,382.1 518.5,383.3 519,385.2 519.2,386.1 519.7,388 520,389.3 520.4,390.8 520.9,392.7 521.2,393.6 521.7,395.5 521.9,396.4 522.5,398.3 522.8,399.3 523.3,401.1 523.7,402.4 524.1,403.9 524.6,405.5 525,406.7 525.5,408.4 525.8,409.5 526.4,411.2 526.7,412.3 527.3,414 527.7,415.1 528.2,416.6 528.7,417.9 529.1,419.2 529.7,420.7 530.1,421.7 530.7,423.5 531.1,424.4 531.8,426.3 532.2,427.2 532.8,428.7 533.3,430 533.7,430.9 534.5,432.8 534.9,433.7 535.5,435.2 536.1,436.5 536.5,437.5 537.4,439.3 537.8,440.3 538.3,441.2 539.2,443.1 539.6,444 540.1,445 541,446.8 541.5,447.7 542,448.7 542.8,450.4 543.4,451.5 543.9,452.4 544.7,453.8 545.5,455.2 546,456.1 546.5,457.1 547.4,458.6 548.1,459.9 548.7,460.8 549.2,461.7 550.2,463.2 550.9,464.5 551.5,465.5 552.1,466.4 552.9,467.6 553.8,469.1 554.5,470.1 555.1,471.1 555.8,472 556.5,473.2 557.5,474.5 558.3,475.7 559,476.7 559.7,477.6 560.3,478.6 561.1,479.6 562,480.8 562.9,482 563.8,483.2 564.6,484.2 565.3,485.1 566,486 566.8,487 567.5,487.9 568.4,489 569.3,490.1 570.2,491.1 571.2,492.2 572.1,493.3 573,494.3 573.9,495.3 574.8,496.3 575.6,497.2 576.5,498.2 577.4,499.1 578.3,500 579.2,501 580.1,501.9 581,502.8 582,503.8 583,504.7 583.9,505.6 584.9,506.5 585.8,507.3 586.7,508.2 587.6,509 588.5,509.8 589.4,510.6 590.3,511.4 591.3,512.2 592.3,513.1 593.5,514 594.6,515 595.8,515.9 596.7,516.6 597.6,517.3 598.6,518 599.5,518.7 600.7,519.6 602,520.6 603.1,521.4 604,522 605,522.6 606,523.4 607.4,524.3 608.6,525.1 609.5,525.7 610.4,526.3 611.7,527.1 613.2,528 614.1,528.6 615,529.1 616.3,529.9 617.7,530.7 618.7,531.3 619.6,531.8 621.1,532.7 622.3,533.4 623.2,533.9 624.5,534.6 626,535.4 626.9,535.9 628,536.4 629.6,537.3 630.5,537.8 631.6,538.3 633.3,539.2 634.2,539.6 635.2,540.2 636.9,541 637.8,541.5 639,542 640.6,542.8 641.5,543.2 642.9,543.9 644.2,544.5 645.1,545 646.9,545.8 647.9,546.2 648.9,546.7 650.6,547.5 651.5,547.9 652.4,548.3"/>
<polyline points="548.4,338.5 549,340.4 549.3,341.3 549.9,343.2 550.2,344.1 550.8,346 551.1,346.9 551.7,348.8 552,349.7 552.6,351.6 552.9,352.5 553.5,354.4 553.8,355.3 554.5,357.2 554.8,358.1 555.4,360 555.7,360.9 556.4,362.8 556.7,363.7 557.4,365.6 557.7,366.5 558.4,368.3 558.7,369.3 559.3,370.8 559.8,372.1 560.2,373.2 560.9,374.9 561.3,375.8 562,377.7 562.4,378.6 562.9,380 563.5,381.4 563.9,382.4 564.7,384.2 565.1,385.2 565.7,386.4 566.4,388 566.8,388.9 567.5,390.4 568.1,391.7 568.6,392.7 569.3,394.2 570,395.5 570.4,396.4 571.2,397.8 571.9,399.2 572.4,400.1 573,401.3 573.9,402.9 574.4,403.9 574.9,404.8 575.7,406.3 576.5,407.6 577,408.5 577.6,409.5 578.5,411 579.3,412.3 579.8,413.2 580.4,414.1 581.2,415.4 582.1,416.8 582.8,417.9 583.4,418.8 584,419.7 584.9,421 585.8,422.4 586.5,423.5 587.2,424.4 587.8,425.3 588.5,426.3 589.4,427.6 590.3,428.9 591.1,430 591.8,430.9 592.5,431.9 593.2,432.8 594,433.9 594.9,435.1 595.8,436.3 596.7,437.5 597.5,438.4 598.2,439.3 598.9,440.3 599.7,441.2 600.4,442.1 601.3,443.2 602.2,444.3 603.1,445.4 604,446.5 605,447.6 605.9,448.7 606.7,449.6 607.5,450.5 608.3,451.5 609.2,452.4 610,453.3 610.9,454.3 611.8,455.2 612.6,456.1 613.5,457.1 614.4,458 615.3,458.9 616.2,459.9 617.2,460.8 618.1,461.7 619.1,462.7 620,463.6 621,464.5 622,465.5 623,466.4 624,467.3 625,468.3 626,469.2 626.9,470 627.8,470.8 628.7,471.6 629.6,472.4 630.5,473.2 631.4,473.9 632.5,474.8 633.6,475.7 634.7,476.7 635.9,477.6 636.9,478.4 637.8,479.2 638.7,479.9 639.7,480.6 640.7,481.4 641.9,482.3 643.2,483.2 644.2,484 645.1,484.7 646.1,485.3 647.1,486 648.4,487 649.7,487.9 650.6,488.5 651.5,489.1 652.5,489.8 653.9,490.7 655.2,491.6 656.1,492.2 657,492.8 658.2,493.5 659.6,494.4 660.7,495.1 661.6,495.7 662.6,496.3 664.1,497.2 665.2,497.9 666.1,498.5 666.1,498.5"/>
<polyline points="677.1,505 678.1,505.6 679.7,506.6 680.8,507.2 680.8,507.2"/>
<polyline points="578.8,338.5 579.4,340 579.9,341.3 580.3,342.3 581.1,344.1 581.5,345 582.1,346.6 582.7,347.8 583.1,348.8 583.9,350.6 584.4,351.6 584.9,352.6 585.7,354.4 586.2,355.3 586.7,356.4 587.6,358.1 588,359 588.5,360 589.4,361.7 590,362.8 590.5,363.7 591.3,365.1 592,366.5 592.6,367.4 593.1,368.4 594,369.9 594.7,371.2 595.3,372.1 595.9,373 596.7,374.5 597.6,375.8 598.1,376.8 598.7,377.7 599.5,378.9 600.4,380.3 601.1,381.4 601.7,382.4 602.4,383.3 603.1,384.5 604,385.8 604.9,387.1 605.5,388 606.1,388.9 606.8,389.9 607.7,391.1 608.6,392.4 609.4,393.6 610.1,394.5 610.8,395.5 611.5,396.4 612.3,397.5 613.2,398.7 614.1,400 614.9,401.1 615.6,402 616.3,402.9 617,403.9 617.8,404.8 618.7,406 619.6,407.1 620.5,408.3 621.4,409.4 622.2,410.4 622.9,411.3 623.7,412.3 624.4,413.2 625.2,414.1 626,415.1 626.9,416.2 627.8,417.3 628.7,418.4 629.6,419.4 630.5,420.5 631.4,421.6 632.3,422.5 633.1,423.5 633.9,424.4 634.8,425.3 635.6,426.3 636.4,427.2 637.3,428.1 638.2,429.1 639,430 639.9,430.9 640.8,431.9 641.7,432.8 642.6,433.7 643.5,434.7 644.4,435.6 645.4,436.5 646.3,437.5 647.3,438.4 648.2,439.3 649.2,440.3 650.2,441.2 651.2,442.1 652.2,443.1 653.2,444 654.2,444.9 654.3,445"/>
<polyline points="603,338.5 603.5,339.4 604,340.5 605,342.1 605.6,343.2 606.1,344.1 606.8,345.3 607.7,346.8 608.3,347.8 608.9,348.8 609.5,349.8 610.4,351.3 611.2,352.5 611.8,353.4 612.4,354.4 613.2,355.6 614.1,357 614.8,358.1 615.5,359 616.1,360 616.8,361.1 617.7,362.4 618.7,363.7 619.3,364.6 620,365.6 620.6,366.5 621.4,367.6 622.3,368.9 623.2,370.1 624,371.2 624.7,372.1 625.4,373 626.1,374 626.9,375.1 627.8,376.3 628.7,377.5 629.6,378.6 630.3,379.6 631,380.5 631.7,381.4 632.4,382.4 633.3,383.5 634.2,384.6 635.1,385.8 636,387 636.8,388 637.5,388.9 638.3,389.9 639,390.8 639.7,391.7 640.6,392.8 641.5,393.9 642.4,395.1 643.3,396.2 644.2,397.3 645,398.3 645.7,399.2 646.5,400.1 647.2,401.1 648,402 648.8,402.9 649.7,404 650.6,405.1 651.5,406.2 652.4,407.3 653.4,408.4 654.3,409.5 655.1,410.4 655.9,411.3 656.7,412.3 657.5,413.2 658.3,414.1 659.2,415.1 660,416 660.8,416.9 661.7,417.9 662.5,418.8 663.4,419.7 664.3,420.7 665.2,421.7 666.1,422.6 666.1,422.6"/>
<polyline points="624.6,338.5 625.3,339.4 626,340.5 626.9,341.9 627.7,343.2 628.4,344.1 629,345 629.7,346 630.5,347.2 631.4,348.5 632.3,349.7 633,350.6 633.6,351.6 634.3,352.5 635.1,353.6 636,354.8 636.9,356 637.8,357.2 638.5,358.1 639.2,359 639.9,360 640.6,360.9 641.5,362.1 642.4,363.3 643.3,364.5 644.2,365.6 644.9,366.5 645.6,367.4 646.4,368.4 647.1,369.3 647.9,370.3 648.8,371.5 649.7,372.6 650.6,373.8 651.5,374.9 652.3,375.8 653,376.8 653.7,377.7 654.5,378.6 655.2,379.6 656,380.5"/>
<polyline points="673.9,402 674.7,402.9 675.5,403.9 676.3,404.8 677.2,405.7 678,406.7 678.9,407.7 679.8,408.7 680.8,409.8 680.8,409.8"/>
<polyline points="644.3,338.5 645.1,339.7 646.1,340.9 647,342.1 647.7,343.2 648.4,344.1 649.1,345 649.8,346 650.6,347 651.5,348.2 652.4,349.4 653.4,350.6 654.1,351.6 654.9,352.5 655.6,353.4 656.3,354.4 657.1,355.3 657.9,356.4 657.9,356.4"/>
<polyline points="666.1,366.4 667.1,367.4 667.9,368.4 668.7,369.3 669.5,370.2 670.3,371.2 671.1,372.1 671.9,373 672.7,374 673.5,374.9 674.4,375.9 675.3,376.9 676.2,377.9 677.1,379 678,380 678.9,381 679.8,382 680.8,383 680.8,383"/>
<polyline points="661.3,338.5 662.1,339.4 662.8,340.4 663.5,341.3 664.3,342.3 665.2,343.5 666.1,344.6 667.1,345.7 668,346.8 668.8,347.8 669.6,348.8 670.4,349.7 671.2,350.6 672.1,351.6 672.9,352.5 673.7,353.4 674.6,354.4 675.5,355.3 676.3,356.2 677.2,357.2 678.1,358.1 679,359 680,360 680.9,360.9 680.9,360.9"/>
<polyline points="674.6,338.5 675.4,339.4 676.2,340.4 677.1,341.4 678,342.4 678.9,343.4 679.8,344.3 680.8,345.3 680.8,345.3"/>
</g>
<g font-size="13" text-anchor="middle"><text transform="translate(521.9 611.9) rotate(20)" dy="4.6">1</text><text transform="translate(666.7 555.2) rotate(23.3)" dy="4.6">1.5</text><text transform="translate(671 502.9) rotate(30.8)" dy="4.6">2</text><text transform="translate(668.8 459.3) rotate(41.3)" dy="4.6">2.5</text><text transform="translate(673.2 428.8) rotate(45.5)" dy="4.6">3</text><text transform="translate(664.5 391.7) rotate(50.2)" dy="4.6">3.5</text><text transform="translate(662.3 361.2) rotate(50.5)" dy="4.6">4</text></g>
<path d="M409.5 618.6V338.5H683.5" stroke="#333" stroke-width=".9" fill="none"/>
<path d="M424.3 619.2H657.3" stroke="#333" stroke-width=".9" fill="none"/>
<g stroke="#333" stroke-width=".9">
<line x1="424.3" y1="619.1" x2="424.3" y2="624.6"/>
<line x1="482.4" y1="619.1" x2="482.4" y2="624.6"/>
<line x1="541" y1="619.1" x2="541" y2="624.6"/>
<line x1="598.9" y1="619.1" x2="598.9" y2="624.6"/>
<line x1="657.3" y1="619.1" x2="657.3" y2="624.6"/>
<line x1="404.2" y1="618.4" x2="409.5" y2="618.4"/>
<line x1="404.2" y1="556.3" x2="409.5" y2="556.3"/>
<line x1="404.2" y1="494.3" x2="409.5" y2="494.3"/>
<line x1="404.2" y1="432.2" x2="409.5" y2="432.2"/>
<line x1="404.2" y1="370.2" x2="409.5" y2="370.2"/>
</g>
<g font-size="14" text-anchor="middle">
<text x="424.3" y="639.6">649</text>
<text x="482.4" y="639.6">791</text>
<text x="541" y="639.6">934</text>
<text x="598.9" y="639.6">1077</text>
<text x="657.3" y="639.6">1220</text>
<text transform="translate(397.2 618.4) rotate(-90)">0</text>
<text transform="translate(397.2 556.3) rotate(-90)">0.2</text>
<text transform="translate(397.2 494.3) rotate(-90)">0.4</text>
<text transform="translate(397.2 432.2) rotate(-90)">0.6</text>
<text transform="translate(397.2 370.2) rotate(-90)">0.8</text>
<text transform="translate(374.9 478.8) rotate(-90)">Disturbance</text>
</g>
<path d="M81.6 97.7L84.1 94.6 90.3 92.6 98.4 93.1 108.7 92.6 113.6 92.9 119 92.3 122 91.1 125 88.7 126.8 85.1 128 80.9 131.7 80.9 135.3 82.1 140.1 83.9 143.7 85.1 144.6 86.3 144 87.8 141.9 88.7 139.5 89.3 137.1 91.7 135.3 94.1 135 98.2 133.2 102.3 129.1 106.4 125 111.5 123 115.6 122 116.6 121.4 126.8 121.9 133 125 135.5 123 136.5 119.9 135 119.4 128.9 118.4 118.7 117.3 117.6 116.3 120.7 115.8 131.9 116.8 135.5 114.3 135.5 113.8 128.9 112.7 118.7 111.7 114.6 103.5 113.5 96.4 113 94.3 114.6 92.3 119.7 93.3 126.8 95.4 133 97.9 136 94.9 136.5 92.8 134 90.3 126.8 88.2 121.7 87.2 120.7 85.7 124.8 85.7 133 87.2 136 84.1 136.5 83.1 133 82.6 121.7 83.6 113.5 82.1 106.4 81.1 101.3Z"/>
<path d="M129.8 80.6L124.4 76 123.2 73.6 119.6 68.2 119 65.8 115.7 63.7M119 65.8L120.5 62.2M124.1 73.6L126.2 70.3M129.2 79.7L129.5 76M130.8 80.3Q134.1 78.5 135.9 75.4" stroke="#000" stroke-width="1.3" fill="none" stroke-linecap="round"/>
<path d="M102.2 399L106.4 400.5 108.3 401 111.1 398.3 112 401 111.4 404 110.8 410 111.2 416 111.8 421.5 111.4 431.4 112.5 442 113.3 446.6 112.9 453.4 112.2 454.5 111.8 451.9 112.2 445.8 111.4 441.3 108.8 432.9 106.5 429.1 105.3 433.7 105.7 442.8 106.5 445.4 104.6 444.3 104.2 439 103.8 430.6 103 429.5 97 430 91.7 430 87.9 433.7 86.6 440 87.3 446.5 88.8 449.4 87.4 449.6 85.9 446.6 85.4 440.5 84.9 442.8 84.6 448.9 85.4 451.9 83.3 451 82.9 442.8 82.6 436 84.5 431.5 84.8 428.4 83 427.5 81.3 427.5 80.7 424.5 81 420.3 82.8 416.7 85.8 414.2 90 413 96 413.3 102.1 413.6 107.5 413 108.1 412.4 107.5 408.8 105.7 407.6 103.3 407.3 102.7 406.1 104.3 404 103.6 402.6Z"/><path d="M114 404L116.1 405.5 117.9 404.6 119.1 403.1 120.6 404.6 120.9 407.6 121.2 413 122.4 416 124.8 417.2 126.3 420.2 126.6 423.9 125.7 426.3 124.8 429.3 125.5 439 126.6 445.8 127.7 447.5 126.2 447.5 125 446 123.8 439 122.5 431 121.5 431 120.6 438 121.8 447.5 122.3 452.3 120.8 452 119.2 448.8 118 439 117.2 431 116.5 430.5 115.5 438 114.5 447 113.6 447 114 438 113 429 112.5 426.9 112.5 423.3 113.4 419.6 115.5 417.2 118.5 416 117.9 412.1 115.5 411.5 112.8 411.5 112.5 410.6 115.2 407.6Z"/>
<text x="1.5" y="22.9" font-size="25">A.</text>
<text x="1.5" y="360.1" font-size="25">B.</text>
<text x="547" y="661.6" font-size="14" text-anchor="middle">Elevation (m)</text>
</svg></body></html>
